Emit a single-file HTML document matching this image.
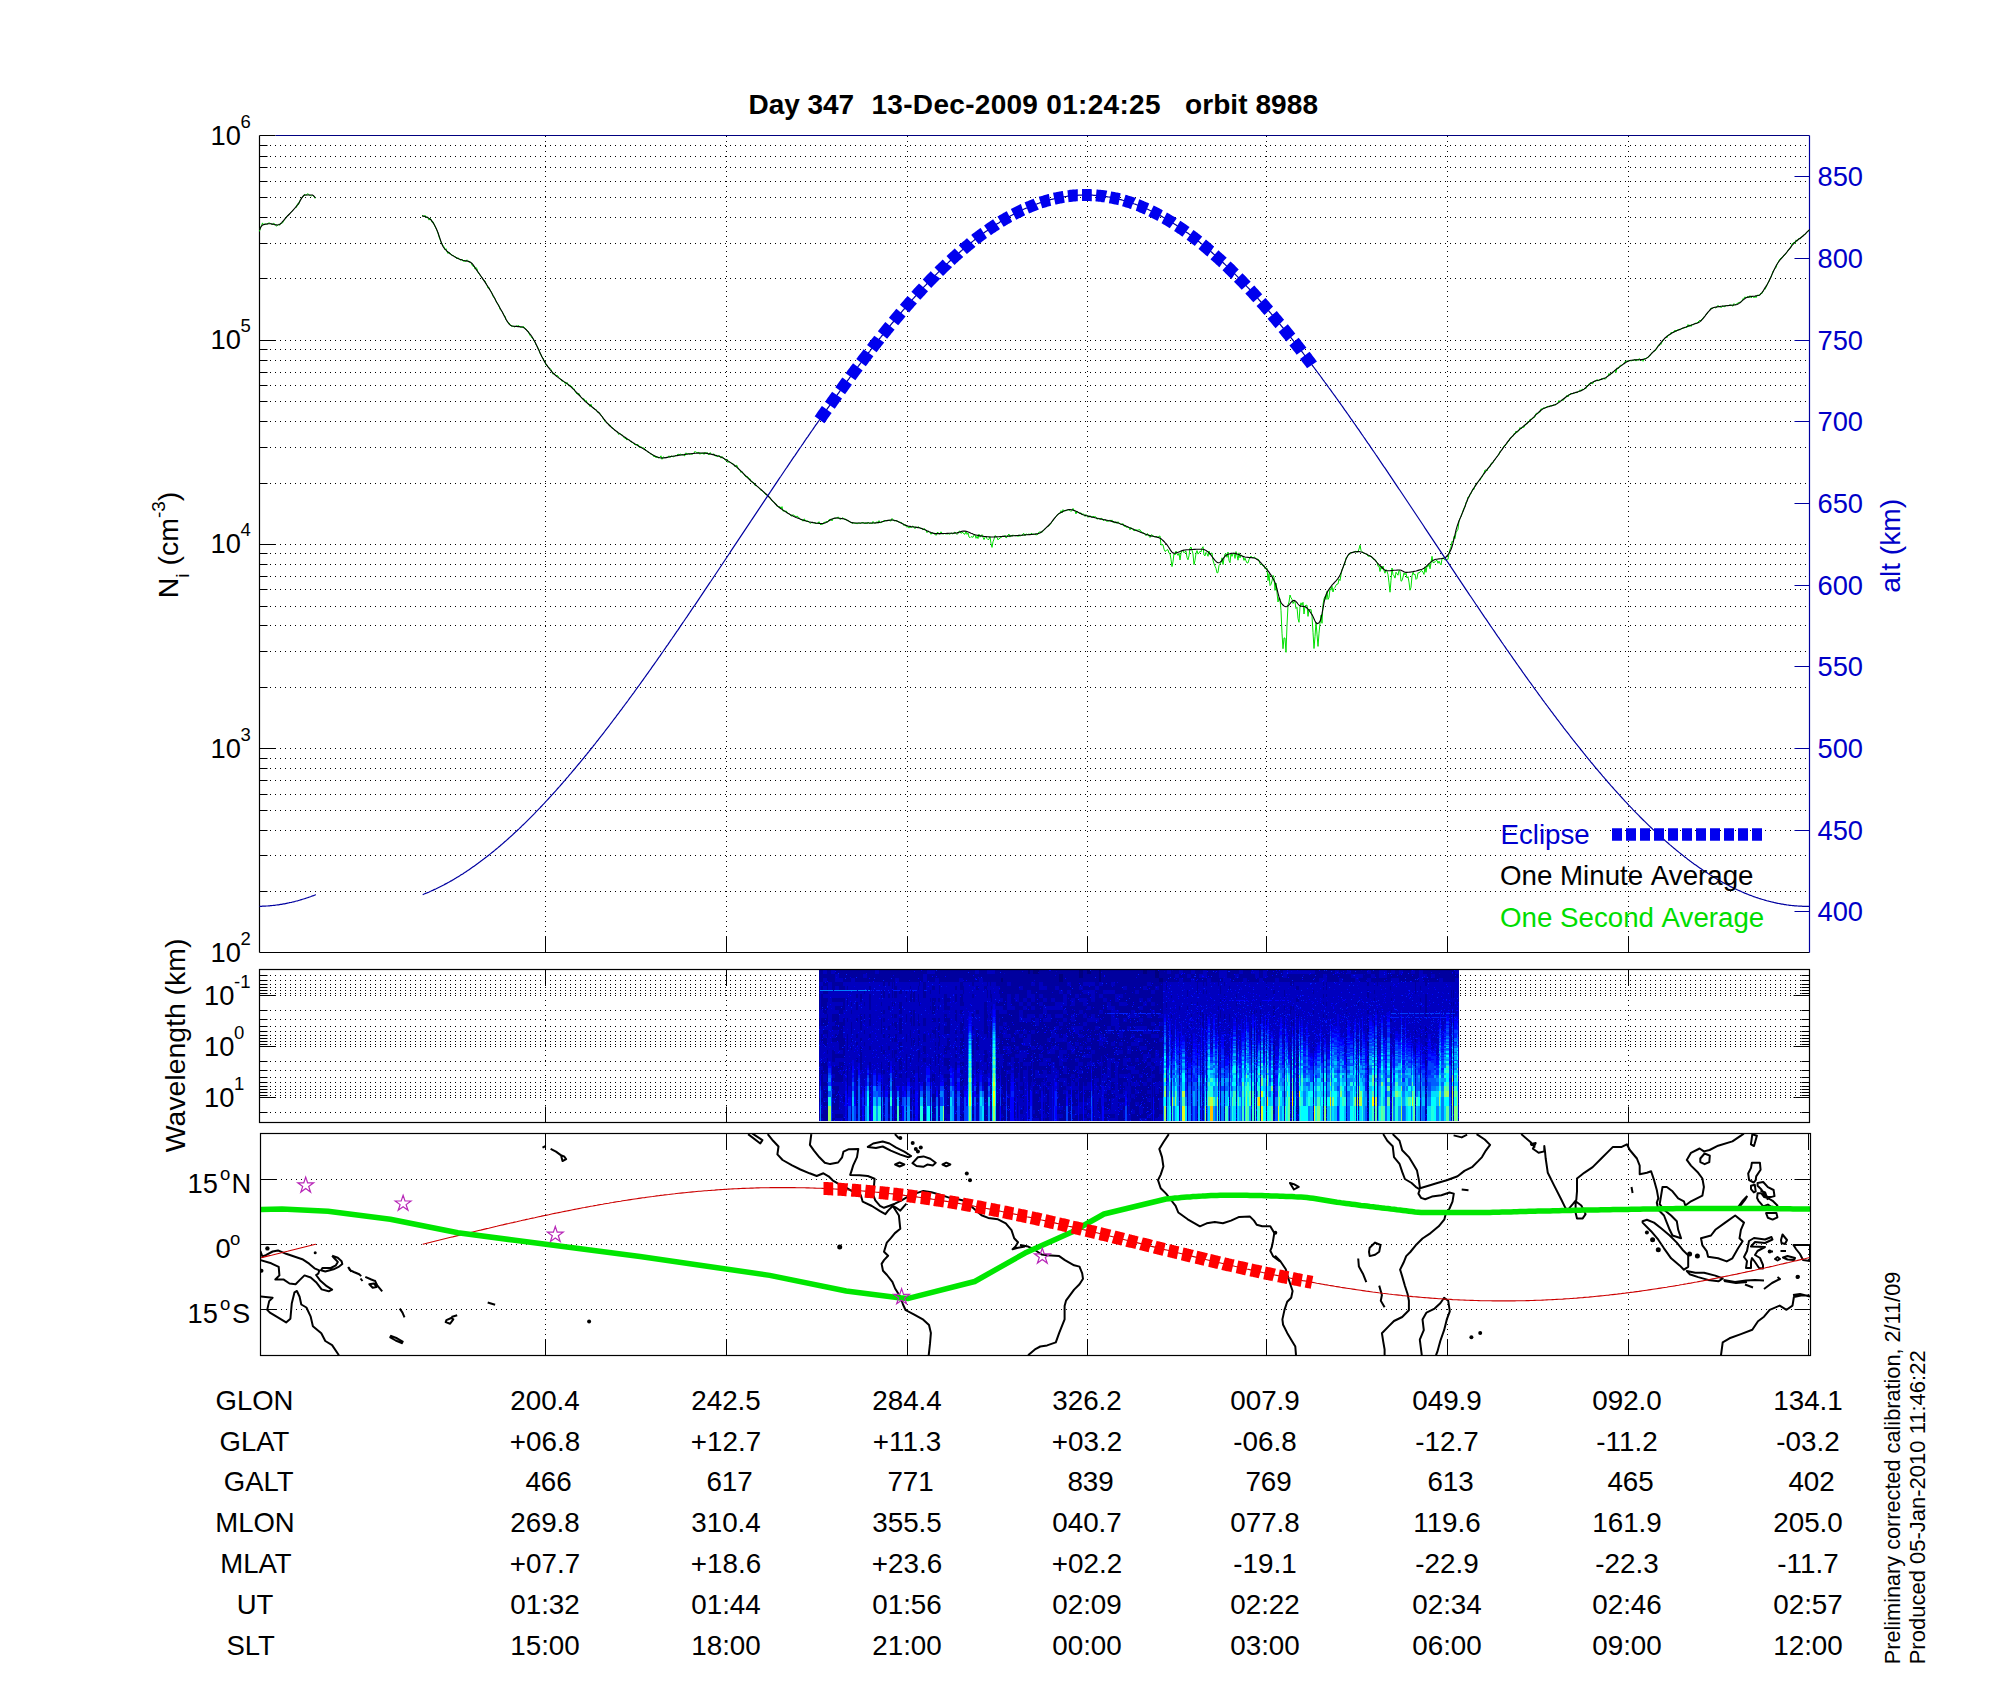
<!DOCTYPE html><html><head><meta charset="utf-8"><title>Day 347 orbit 8988</title><style>html,body{margin:0;padding:0;background:#fff;width:2000px;height:1700px;overflow:hidden}svg{display:block}text{font-family:"Liberation Sans",sans-serif}</style></head><body>
<svg width="2000" height="1700" viewBox="0 0 2000 1700">
<rect width="2000" height="1700" fill="#fff"/>
<text x="748.5" y="113.5" font-size="28" font-weight="bold" textLength="105.5">Day 347</text>
<text x="871.5" y="113.5" font-size="28" font-weight="bold" textLength="289">13-Dec-2009 01:24:25</text>
<text x="1185" y="113.5" font-size="28" font-weight="bold" textLength="133">orbit 8988</text>
<path d="M259.5 891.5H1809.5M259.5 855.5H1809.5M259.5 830.5H1809.5M259.5 810.5H1809.5M259.5 794.5H1809.5M259.5 780.5H1809.5M259.5 768.5H1809.5M259.5 758.5H1809.5M259.5 748.5H1809.5M259.5 687.5H1809.5M259.5 651.5H1809.5M259.5 625.5H1809.5M259.5 606.5H1809.5M259.5 589.5H1809.5M259.5 576.5H1809.5M259.5 564.5H1809.5M259.5 553.5H1809.5M259.5 544.5H1809.5M259.5 483.5H1809.5M259.5 447.5H1809.5M259.5 421.5H1809.5M259.5 401.5H1809.5M259.5 385.5H1809.5M259.5 372.5H1809.5M259.5 360.5H1809.5M259.5 349.5H1809.5M259.5 340.5H1809.5M259.5 278.5H1809.5M259.5 243.5H1809.5M259.5 217.5H1809.5M259.5 197.5H1809.5M259.5 181.5H1809.5M259.5 167.5H1809.5M259.5 156.5H1809.5M259.5 145.5H1809.5M545.5 135.5V952.5M726.5 135.5V952.5M907.5 135.5V952.5M1087.5 135.5V952.5M1266.5 135.5V952.5M1447.5 135.5V952.5M1628.5 135.5V952.5" fill="none" stroke="#000" stroke-width="1" stroke-dasharray="1 4" stroke-dashoffset="4.5"/>
<path d="M259.5 891.5H267.5M259.5 855.5H267.5M259.5 830.5H267.5M259.5 810.5H267.5M259.5 794.5H267.5M259.5 780.5H267.5M259.5 768.5H267.5M259.5 758.5H267.5M259.5 748.5H275.5M259.5 687.5H267.5M259.5 651.5H267.5M259.5 625.5H267.5M259.5 606.5H267.5M259.5 589.5H267.5M259.5 576.5H267.5M259.5 564.5H267.5M259.5 553.5H267.5M259.5 544.5H275.5M259.5 483.5H267.5M259.5 447.5H267.5M259.5 421.5H267.5M259.5 401.5H267.5M259.5 385.5H267.5M259.5 372.5H267.5M259.5 360.5H267.5M259.5 349.5H267.5M259.5 340.5H275.5M259.5 278.5H267.5M259.5 243.5H267.5M259.5 217.5H267.5M259.5 197.5H267.5M259.5 181.5H267.5M259.5 167.5H267.5M259.5 156.5H267.5M259.5 145.5H267.5M545.5 936.5V952.5M726.5 936.5V952.5M907.5 936.5V952.5M1087.5 936.5V952.5M1266.5 936.5V952.5M1447.5 936.5V952.5M1628.5 936.5V952.5M259.5 135.5H275.5" fill="none" stroke="#000" stroke-width="1"/>
<text x="1817.5" y="921" font-size="27.3" fill="#0000c8" >400</text>
<text x="1817.5" y="840" font-size="27.3" fill="#0000c8" >450</text>
<text x="1817.5" y="758" font-size="27.3" fill="#0000c8" >500</text>
<text x="1817.5" y="676" font-size="27.3" fill="#0000c8" >550</text>
<text x="1817.5" y="595" font-size="27.3" fill="#0000c8" >600</text>
<text x="1817.5" y="513" font-size="27.3" fill="#0000c8" >650</text>
<text x="1817.5" y="431" font-size="27.3" fill="#0000c8" >700</text>
<text x="1817.5" y="350" font-size="27.3" fill="#0000c8" >750</text>
<text x="1817.5" y="268" font-size="27.3" fill="#0000c8" >800</text>
<text x="1817.5" y="186" font-size="27.3" fill="#0000c8" >850</text>
<path d="M1794.5 911.5H1809.5M1794.5 830.5H1809.5M1794.5 748.5H1809.5M1794.5 666.5H1809.5M1794.5 585.5H1809.5M1794.5 503.5H1809.5M1794.5 421.5H1809.5M1794.5 340.5H1809.5M1794.5 258.5H1809.5M1794.5 176.5H1809.5" fill="none" stroke="#0000a0" stroke-width="1"/>
<path d="M259.5 952.5V135.5M259.5 952.5H1809.5" fill="none" stroke="#000" stroke-width="1.2"/>
<path d="M275.5 135.5H1809.5" fill="none" stroke="#000080" stroke-width="1.2"/>
<path d="M1809.5 135.5V952.5" fill="none" stroke="#0000a0" stroke-width="1.2"/>
<text x="210.5" y="961.7" font-size="27.3" >10</text>
<text x="240.5" y="944.7" font-size="18.5" >2</text>
<text x="210.5" y="757.5" font-size="27.3" >10</text>
<text x="240.5" y="740.5" font-size="18.5" >3</text>
<text x="210.5" y="553.3" font-size="27.3" >10</text>
<text x="240.5" y="536.3" font-size="18.5" >4</text>
<text x="210.5" y="349.1" font-size="27.3" >10</text>
<text x="240.5" y="332.1" font-size="18.5" >5</text>
<text x="210.5" y="144.9" font-size="27.3" >10</text>
<text x="240.5" y="128" font-size="18.5" >6</text>
<g transform="translate(177.5,545) rotate(-90)">
<text x="0" y="0" font-size="28.5" text-anchor="middle">N<tspan font-size="19" dy="11">i</tspan><tspan dy="-11"> (cm</tspan><tspan font-size="19" dy="-13">-3</tspan><tspan dy="13">)</tspan></text>
</g>
<g transform="translate(1900.3,545.8) rotate(-90)">
<text x="0" y="0" font-size="28.2" fill="#0000c8" text-anchor="middle" >alt (km)</text>
</g>
<path d="M259.5 231.4 260.5 227.6 261.5 225.6 262.5 222.9 263.5 224.7 264.5 224.2 265.5 223.8 266.5 224.3 267.5 224.2 268.5 222.9 269.5 223 270.5 223.4 271.5 224.4 272.5 224.5 273.5 223.3 274.5 223.7 275.5 225.4 276.5 226.2 277.5 225 278.5 224.3 279.5 225.3 280.5 223.4 281.5 223.4 282.5 223 283.5 221.1 284.5 219.5 285.5 218.8 286.5 216.5 287.5 215.9 288.5 214.5 289.5 213.8 290.5 212.5 291.5 211.7 292.5 210.5 293.5 209.7 294.5 208.6 295.5 207.6 296.5 207.3 297.5 203.8 298.5 204.6 299.5 201.8 300.5 199.2 301.5 198.3 302.5 197 303.5 196.6 304.5 194.2 305.5 195.2 306.5 195.1 307.5 193.7 308.5 194.1 309.5 195.5 310.5 195.6 311.5 195.9 312.5 195.4 313.5 195.9 314.5 196.9 315 198.5" fill="none" stroke="#00e000" stroke-width="1" />
<path d="M422 215.3 423 215.9 424 216.5 425 215.3 426 217.9 427 216.7 428 217.8 429 220.1 430 218.3 431 219.4 432 222.3 433 221.7 434 223.9 435 226.5 436 228.4 437 230.6 438 233.1 439 236.8 440 239.5 441 242.1 442 243.7 443 245.9 444 246.5 445 249.7 446 248.7 447 251.8 448 253.5 449 252 450 253.1 451 254.1 452 255.8 453 255.1 454 256.3 455 256.5 456 257.3 457 259 458 257.7 459 258.9 460 259.5 461 260.3 462 259 463 261.2 464 260.9 465 261.4 466 261 467 259.8 468 260.8 469 262.3 470 262 471 262.6 472 265 473 266.5 474 266 475 269.1 476 267.5 477 268.9 478 272.7 479 273.2 480 275.2 481 276.6 482 277.5 483 279.6 484 280.7 485 280.9 486 283.8 487 285.3 488 288.2 489 287.5 490 290 491 291.3 492 293.3 493 296.6 494 297.4 495 298.6 496 301 497 303.3 498 303.8 499 306.1 500 309.2 501 310.4 502 311.5 503 313.1 504 315.3 505 316.1 506 319.9 507 321.2 508 322.6 509 322.8 510 324.3 511 326 512 326.2 513 325.8 514 326.7 515 327.1 516 325.9 517 326.1 518 325.9 519 325.7 520 327.4 521 327.2 522 327.3 523 326.4 524 327 525 328.6 526 329.2 527 330.7 528 331.1 529 333.4 530 335.4 531 336.5 532 338 533 338.4 534 340.9 535 341.8 536 344.9 537 345.9 538 348 539 350 540 353.2 541 355 542 357 543 357.9 544 360.8 545 361.3 546 365.2 547 365.3 548 367 549 368.1 550 368.2 551 369.6 552 371.9 553 374.2 554 373.1 555 374.4 556 375.8 557 375.3 558 376 559 377.8 560 378.8 561 379.2 562 381.4 563 380.8 564 381.8 565 383.5 566 384.3 567 382.4 568 384.1 569 386.1 570 384.9 571 386.1 572 386.8 573 387.7 574 388.8 575 390.9 576 392.8 577 394.1 578 393.9 579 393.4 580 396 581 396.8 582 398.4 583 399 584 398.7 585 401.4 586 400.3 587 402.3 588 404 589 404.8 590 406.6 591 404.2 592 407.2 593 408.2 594 408.2 595 409.8 596 409.3 597 411.6 598 412.4 599 412.2 600 413.6 601 415.2 602 416 603 418.6 604 419.2 605 421.4 606 422.5 607 422.9 608 423.8 609 424.3 610 425.4 611 426.3 612 428.1 613 427.9 614 429.5 615 430.4 616 430.6 617 431.6 618 433.6 619 434.5 620 433.3 621 434.4 622 435 623 435.7 624 437.9 625 437.9 626 439 627 440.1 628 439 629 439.9 630 440.7 631 442.2 632 441.9 633 443.1 634 444.2 635 444.8 636 444.8 637 444.5 638 444.5 639 447.2 640 447.2 641 446.7 642 447.6 643 448.2 644 447.8 645 450 646 449.8 647 450.9 648 452.4 649 452.4 650 453.6 651 454.1 652 454.4 653 455 654 457 655 455.9 656 457.8 657 456.2 658 457.9 659 457.7 660 457.2 661 455.8 662 459.3 663 457 664 457.1 665 457.9 666 457.6 667 457.6 668 457 669 455.8 670 457.5 671 455.8 672 456.5 673 456.6 674 456.9 675 455.7 676 455.5 677 455.4 678 454 679 454.7 680 454.3 681 454.1 682 455 683 454.5 684 455.8 685 455.6 686 452.8 687 454.3 688 453.2 689 454.4 690 453.9 691 454.4 692 453.8 693 454.1 694 453.1 695 451.3 696 452.3 697 452.5 698 452.7 699 452.2 700 454.3 701 452.9 702 454 703 452.7 704 454.4 705 452.2 706 453.7 707 452.3 708 453.9 709 455 710 452.6 711 453.5 712 454.6 713 454.5 714 453.8 715 456.1 716 455.5 717 456.8 718 456.3 719 455.4 720 456.3 721 458.2 722 456.4 723 457.6 724 459 725 459.9 726 460.3 727 459.1 728 462.6 729 461.4 730 462.2 731 462.9 732 463.4 733 463.5 734 464.7 735 466.8 736 465.4 737 465.4 738 468.7 739 469.4 740 470.7 741 472.5 742 471.5 743 473.2 744 474.5 745 476.1 746 477 747 476.5 748 477 749 478.9 750 478.7 751 481.8 752 481.5 753 482.4 754 482.8 755 485.6 756 485.5 757 485.8 758 487.4 759 487.7 760 489.1 761 490.6 762 490.2 763 491.7 764 492.5 765 494 766 494.5 767 495 768 495.5 769 497.3 770 497.3 771 499.7 772 500.3 773 501.8 774 502 775 502.9 776 503.8 777 506.4 778 506.2 779 507.1 780 506.6 781 508.7 782 506.6 783 511.2 784 510.6 785 511.4 786 510.9 787 511.8 788 513.7 789 513.7 790 514.7 791 516 792 516 793 514.5 794 515.7 795 516 796 516.7 797 516.2 798 516.6 799 518 800 518.5 801 519.8 802 519.5 803 521.2 804 518.9 805 519.6 806 521.2 807 521.1 808 520.8 809 522.4 810 522.9 811 523.3 812 522.1 813 522.6 814 522.9 815 522.9 816 523.9 817 522.8 818 523.6 819 521.7 820 524.1 821 524.9 822 523.6 823 524.3 824 522 825 522.7 826 521.3 827 522.2 828 521.8 829 519.7 830 519.5 831 519.2 832 521 833 518.6 834 518.4 835 518.4 836 518.2 837 517.8 838 517 839 517.6 840 519.6 841 518.7 842 518.3 843 517.7 844 519 845 519.3 846 519.1 847 520.9 848 520.2 849 521.1 850 522.4 851 522.4 852 523.5 853 522.7 854 522.7 855 523.4 856 523.2 857 523.9 858 523.3 859 523 860 523.4 861 523.5 862 522.1 863 522.9 864 522.7 865 524 866 522.6 867 523.9 868 522 869 523 870 523.9 871 522.8 872 523.9 873 521.4 874 523 875 523.1 876 522.8 877 521.6 878 523.2 879 520.6 880 523 881 522.2 882 522.5 883 521.3 884 520.4 885 520.6 886 520.4 887 521 888 520.1 889 520.6 890 520.5 891 521.2 892 518.4 893 519.7 894 520.8 895 521 896 520.3 897 520.9 898 521.5 899 522.2 900 522.1 901 522.6 902 522.7 903 523.8 904 525.7 905 524.3 906 526.2 907 527.3 908 526.2 909 528.1 910 526.3 911 527.9 912 526.7 913 525.9 914 527.3 915 528.7 916 526.8 917 527.9 918 526.8 919 527.1 920 528.4 921 528.1 922 529.1 923 530 924 528.5 925 529.3 926 530.4 927 532.7 928 531 929 531.4 930 532.5 931 534.3 932 532.5 933 533 934 533.5 935 534.2 936 535.4 937 532.7 938 532.3 939 533.8 940 534.1 941 531.8 942 533.1 943 534.4 944 533.1 945 533.9 946 533.7 947 534 948 533.8 949 533.6 950 534.4 951 532.9 952 533.4 953 534.1 954 532.7 955 532 956 533.2 957 534.5 958 533.4 959 531.2 960 531.3 961 533.4 962 532.5 963 532.5 964 534 965 534.2 966 531.2 967 534.4 968 533 969 537 970 537.7 971 536.7 972 536.9 973 537.3 974 535 975 534.5 976 538.3 977 536.2 978 538.6 979 534.2 980 537.2 981 535.8 982 534.6 983 537.2 984 539.6 985 537.3 986 536.2 987 538.7 988 539.7 989 539.2 990 536.7 991 543.4 992 547.4 993 541.8 994 539.2 995 535.6 996 536.4 997 537.2 998 539.9 999 538.6 1000 538.4 1001 537 1002 537.1 1003 535.8 1004 536.9 1005 535.4 1006 538 1007 537.2 1008 535 1009 534 1010 537.1 1011 535.3 1012 536.3 1013 534.8 1014 535.8 1015 535.2 1016 536.1 1017 535.3 1018 536.7 1019 534.8 1020 536.4 1021 535.2 1022 535.6 1023 533.8 1024 533.6 1025 535.8 1026 533.9 1027 534.5 1028 534.5 1029 533.9 1030 534.7 1031 533.4 1032 533.5 1033 535 1034 533.6 1035 534.7 1036 534.5 1037 535 1038 534 1039 531.9 1040 532.3 1041 531.9 1042 532.5 1043 531 1044 529.4 1045 529.2 1046 527.6 1047 527.4 1048 526.1 1049 525.9 1050 524.2 1051 523.6 1052 521.5 1053 520.8 1054 518.8 1055 518.2 1056 516.7 1057 515.3 1058 514.1 1059 513.4 1060 513.4 1061 510.7 1062 513 1063 509.6 1064 510.9 1065 510.4 1066 510.9 1067 510.2 1068 509.8 1069 509.7 1070 510.4 1071 511.5 1072 510.1 1073 508.4 1074 510.1 1075 511.2 1076 513.9 1077 511.2 1078 512 1079 513.2 1080 513.6 1081 512.7 1082 515 1083 513.6 1084 514.8 1085 516.4 1086 514.5 1087 515.6 1088 517.4 1089 516.1 1090 515.8 1091 516.4 1092 517.7 1093 516 1094 517 1095 516.6 1096 517.1 1097 519.3 1098 518.4 1099 518.3 1100 519.2 1101 518.5 1102 518.3 1103 520.4 1104 520.4 1105 519.2 1106 520.6 1107 521.5 1108 520.9 1109 521.1 1110 519.9 1111 521 1112 519.9 1113 522.5 1114 521.7 1115 523.2 1116 521.8 1117 523.4 1118 521.7 1119 523 1120 524.1 1121 524.3 1122 524.4 1123 523.5 1124 526.3 1125 526.2 1126 527 1127 527.4 1128 526.6 1129 527.7 1130 529.9 1131 527.6 1132 529 1133 528.7 1134 531 1135 530.1 1136 529.6 1137 530.3 1138 530.1 1139 529.8 1140 529.8 1141 531.8 1142 531.8 1143 533.3 1144 532.9 1145 534.1 1146 535.7 1147 533.7 1148 534 1149 536.1 1150 537.5 1151 535.2 1152 534.7 1153 536.1 1154 536.2 1155 537.3 1156 536.1 1157 536.9 1158 537.2 1159 536.5 1160 535.9 1161 545.1 1162 544.5 1163 544.8 1164 549.1 1165 551.4 1166 550.9 1167 549.6 1168 550 1169 553.1 1170 553.7 1171 559.3 1172 566.6 1173 561.8 1174 553.5 1175 555 1176 551.1 1177 553.7 1178 555.4 1179 553.2 1180 560 1181 553.4 1182 550.1 1183 550.9 1184 552.8 1185 551.5 1186 551.2 1187 557.6 1188 559.8 1189 555.8 1190 548 1191 547 1192 550.2 1193 553.9 1194 564.6 1195 560.4 1196 553.3 1197 550.6 1198 554.1 1199 553 1200 551.2 1201 552 1202 548.1 1203 546.7 1204 555 1205 555.9 1206 552.4 1207 553.7 1208 556.3 1209 551 1210 554.7 1211 553.6 1212 552.9 1213 560.2 1214 563.7 1215 566.2 1216 568.4 1217 572.9 1218 572.5 1219 565.6 1220 564.1 1221 562.3 1222 557.8 1223 564.5 1224 558.3 1225 554 1226 553.5 1227 557.3 1228 552 1229 560.7 1230 562.7 1231 553.3 1232 556.4 1233 553.3 1234 553.2 1235 558.4 1236 551.6 1237 555 1238 560.2 1239 552.8 1240 557.9 1241 555.2 1242 555.4 1243 556.7 1244 560.4 1245 558.1 1246 560.9 1247 562.9 1248 562.9 1249 559.6 1250 557.2 1251 556.4 1252 557.1 1253 558 1254 557 1255 557.4 1256 558.8 1257 559.8 1258 558.9 1259 560.3 1260 563.7 1261 564.7 1262 564 1263 566.1 1264 565.2 1265 568.9 1266 568.4 1267 568.1 1268 580.6 1269 573.6 1270 585.6 1271 584.3 1272 581 1273 575.3 1274 577.4 1275 590.4 1276 583 1277 592.9 1278 602 1279 597.7 1280 598.9 1281 610.7 1282 633.2 1283 648.7 1284 637.9 1285 638.1 1286 652.3 1287 625.1 1288 605 1289 602 1290 595 1291 597.8 1292 599.2 1293 603.5 1294 601.4 1295 601.8 1296 608.5 1297 607.3 1298 618.5 1299 622.3 1300 606.5 1301 602.8 1302 605.3 1303 602.3 1304 614 1305 605.8 1306 605.3 1307 605.2 1308 616.4 1309 609 1310 610.1 1311 609.4 1312 616.3 1313 632.2 1314 648.5 1315 636.6 1316 622.1 1317 634.2 1318 646.4 1319 633.2 1320 623.3 1321 615.2 1322 623.3 1323 604.4 1324 598.8 1325 596.6 1326 599.5 1327 591.3 1328 599.4 1329 597.3 1330 588.6 1331 590.2 1332 586.3 1333 592 1334 588.4 1335 587.3 1336 585.1 1337 584.2 1338 584 1339 579.1 1340 580.6 1341 574.9 1342 569.4 1343 567.8 1344 565 1345 562.9 1346 557.7 1347 557.6 1348 555.8 1349 554 1350 554.4 1351 552.2 1352 552.9 1353 552 1354 552.1 1355 551.1 1356 551.6 1357 552.2 1358 551.7 1359 549 1360 545.2 1361 550.3 1362 551.7 1363 552.6 1364 553.5 1365 553.3 1366 554.5 1367 554.5 1368 556.3 1369 555.9 1370 556.3 1371 555.9 1372 557.6 1373 558.9 1374 559.4 1375 559.4 1376 560.9 1377 562.3 1378 566.3 1379 565.8 1380 571.5 1381 566.5 1382 569.2 1383 566 1384 570.6 1385 573.2 1386 569.5 1387 571.2 1388 574.7 1389 582.8 1390 592.2 1391 580.2 1392 568 1393 574.7 1394 575.8 1395 578.1 1396 572.2 1397 573.8 1398 575.2 1399 570.3 1400 571.2 1401 581.2 1402 580.6 1403 577.1 1404 572.8 1405 574.9 1406 573.2 1407 578 1408 576.7 1409 582.1 1410 590.2 1411 587.4 1412 575.9 1413 572.2 1414 574.7 1415 574.1 1416 579.4 1417 578.4 1418 572.7 1419 573 1420 572.1 1421 570.6 1422 570.8 1423 572.3 1424 574.4 1425 566.8 1426 572.3 1427 565.8 1428 566.7 1429 563.7 1430 568.8 1431 562.9 1432 556.3 1433 562.6 1434 562.5 1435 561.8 1436 560.6 1437 560.4 1438 563.3 1439 561.1 1440 563.4 1441 564.9 1442 558.8 1443 557.7 1444 559.3 1445 559.8 1446 560 1447 559.3 1448 559.3 1449 553.3 1450 549.3 1451 546.9 1452 541.3 1453 542.1 1454 536.5 1455 538.5 1456 532.7 1457 530.9 1458 529.2 1459 521.1 1460 518.3 1461 516.7 1462 513.6 1463 510.8 1464 507.7 1465 507.3 1466 502.4 1467 501.4 1468 497 1469 497.4 1470 494.7 1471 493.7 1472 491.3 1473 488.8 1474 489.5 1475 485.5 1476 484.7 1477 482.9 1478 481.5 1479 481.3 1480 480.2 1481 478.3 1482 477.1 1483 474.6 1484 473.1 1485 470 1486 470 1487 471 1488 468.3 1489 467 1490 466.9 1491 463.5 1492 462.9 1493 462.9 1494 460.5 1495 459.3 1496 457.8 1497 457 1498 455.7 1499 454.6 1500 451.5 1501 450.5 1502 449.4 1503 447.9 1504 445.7 1505 446 1506 444.4 1507 443.7 1508 441.4 1509 441.1 1510 438.2 1511 438.2 1512 436.6 1513 436.4 1514 433.5 1515 433.5 1516 431 1517 432.5 1518 431.2 1519 430.4 1520 427.5 1521 428.9 1522 428 1523 427.1 1524 427.4 1525 424.8 1526 423.8 1527 424.3 1528 421.3 1529 421.8 1530 419.3 1531 419.4 1532 418.9 1533 417.6 1534 417.9 1535 416.8 1536 413.5 1537 413.2 1538 413.6 1539 412 1540 412.2 1541 408.7 1542 409.4 1543 408.1 1544 407.9 1545 408.3 1546 407.2 1547 406.5 1548 406.5 1549 406.2 1550 406.1 1551 405.4 1552 406.2 1553 405.1 1554 404.7 1555 405.2 1556 404.5 1557 403.5 1558 402.6 1559 400.4 1560 402 1561 400.5 1562 399.7 1563 400.4 1564 399.6 1565 397.9 1566 396.7 1567 395.3 1568 397 1569 394.3 1570 394.6 1571 393 1572 394 1573 393.2 1574 393.7 1575 392.7 1576 392.2 1577 393 1578 391.9 1579 390.8 1580 389.8 1581 391.1 1582 389.1 1583 389.5 1584 389.5 1585 388 1586 388.7 1587 385.2 1588 385.9 1589 383.9 1590 382.8 1591 382.7 1592 383.8 1593 383.5 1594 381.3 1595 381.2 1596 380.6 1597 379.5 1598 381.1 1599 379.9 1600 380.3 1601 379.1 1602 378.6 1603 378.4 1604 378.1 1605 379.4 1606 378.4 1607 376.5 1608 375.9 1609 373.4 1610 375.2 1611 373.3 1612 373.4 1613 372.6 1614 371.1 1615 369.9 1616 372.4 1617 367.9 1618 369 1619 367.8 1620 365.4 1621 365.3 1622 365.2 1623 364.3 1624 363.1 1625 361.5 1626 361.5 1627 360.7 1628 361.3 1629 361 1630 360.3 1631 361.1 1632 360.5 1633 360.3 1634 360.1 1635 359.2 1636 361.1 1637 359.2 1638 360.6 1639 358.6 1640 359.3 1641 359.8 1642 360.2 1643 361.3 1644 358.5 1645 358.7 1646 358.8 1647 357.4 1648 357.8 1649 356.1 1650 355.9 1651 353.7 1652 352.8 1653 351.6 1654 351.1 1655 351 1656 349.8 1657 347.4 1658 345.5 1659 345.1 1660 345.3 1661 344.3 1662 342 1663 340.9 1664 339 1665 338.2 1666 337.1 1667 337.8 1668 335.1 1669 334.9 1670 334.8 1671 332.4 1672 332.9 1673 331.8 1674 332.3 1675 330 1676 331.6 1677 329.9 1678 329.8 1679 329.6 1680 329.9 1681 329.3 1682 328 1683 328.5 1684 327.7 1685 327.8 1686 327.2 1687 327.6 1688 324.5 1689 326.6 1690 324.8 1691 326.6 1692 324.4 1693 325.1 1694 324.2 1695 323.2 1696 323.2 1697 322.9 1698 322.1 1699 320.9 1700 320.2 1701 320.8 1702 319 1703 318 1704 316.9 1705 315.7 1706 315 1707 313.9 1708 312.2 1709 311.1 1710 310 1711 308 1712 308.5 1713 308.4 1714 307 1715 307.8 1716 307.9 1717 306.9 1718 305.3 1719 307.1 1720 306.2 1721 307.8 1722 306.6 1723 305.7 1724 306.9 1725 306.4 1726 305.9 1727 305.2 1728 305.9 1729 305 1730 305.1 1731 304.8 1732 305.6 1733 306.2 1734 303.6 1735 304.8 1736 304.3 1737 303.7 1738 302.9 1739 302.6 1740 302.1 1741 302.3 1742 301 1743 298.7 1744 297.7 1745 296.9 1746 297.8 1747 296.9 1748 296.6 1749 297.8 1750 295.6 1751 297.7 1752 296.9 1753 296.3 1754 297.9 1755 296.2 1756 297.7 1757 295.3 1758 295.2 1759 295.3 1760 295.3 1761 292.9 1762 293.6 1763 291.2 1764 290.3 1765 289.3 1766 287.4 1767 285.2 1768 282.4 1769 281.7 1770 278.3 1771 277.2 1772 274.6 1773 271.2 1774 270.1 1775 268.7 1776 267.5 1777 264.4 1778 262.6 1779 260.5 1780 259 1781 258.1 1782 258.2 1783 256.1 1784 255.5 1785 254.8 1786 253.5 1787 251.9 1788 250.4 1789 249.3 1790 248.8 1791 246.9 1792 243.7 1793 243.7 1794 242.2 1795 243.6 1796 239.9 1797 241.2 1798 239.9 1799 238.1 1800 239 1801 238.3 1802 236.2 1803 236.1 1804 234.3 1805 234.8 1806 233.2 1807 231.8 1808 230.7 1809 231.1 1809.6 230.7" fill="none" stroke="#00e000" stroke-width="1" />
<path d="M259.5 230 260.5 227.8 261.5 226 262.5 225 263.5 224.7 264.5 224.4 265.5 224.2 266.5 224 267.5 223.9 268.5 223.8 269.5 223.8 270.5 223.8 271.5 223.9 272.5 224.1 273.5 224.3 274.5 224.6 275.5 224.8 276.5 224.9 277.5 225 278.5 224.8 279.5 224.4 280.5 223.7 281.5 222.8 282.5 221.7 283.5 220.6 284.5 219.4 285.5 218.2 286.5 217.1 287.5 216 288.5 215 289.5 214 290.5 212.9 291.5 211.9 292.5 210.8 293.5 209.7 294.5 208.5 295.5 207.4 296.5 206.2 297.5 205 298.5 203.6 299.5 201.9 300.5 200.2 301.5 198.4 302.5 196.9 303.5 195.7 304.5 195.1 305.5 195 306.5 195 307.5 195 308.5 195 309.5 195 310.5 195 311.5 195 312.5 195 313.5 195.6 314.5 196.8 315 197.5" fill="none" stroke="#000" stroke-width="1.1" />
<path d="M422 216 423 216.1 424 216.2 425 216.5 426 216.9 427 217.3 428 217.8 429 218.4 430 219 431 219.8 432 221.1 433 222.6 434 224.3 435 226.1 436 228 437 230.2 438 232.8 439 235.7 440 238.7 441 241.6 442 244.3 443 246.5 444 248 445 249.1 446 250.1 447 251.1 448 252 449 252.9 450 253.7 451 254.4 452 255.1 453 255.8 454 256.4 455 257 456 257.5 457 258 458 258.4 459 258.9 460 259.3 461 259.6 462 260 463 260.3 464 260.5 465 260.7 466 260.9 467 261.1 468 261.3 469 261.6 470 262 471 262.6 472 263.5 473 264.7 474 266.1 475 267.5 476 269.1 477 270.6 478 272 479 273.4 480 274.8 481 276.2 482 277.6 483 279.1 484 280.6 485 282.1 486 283.6 487 285.2 488 286.8 489 288.4 490 290 491 291.7 492 293.4 493 295.3 494 297.1 495 299 496 300.9 497 302.7 498 304.6 499 306.3 500 308 501 309.7 502 311.6 503 313.5 504 315.4 505 317.3 506 319.2 507 320.9 508 322.5 509 323.8 510 324.9 511 325.6 512 326 513 326.2 514 326.3 515 326.4 516 326.4 517 326.5 518 326.6 519 326.6 520 326.7 521 326.8 522 327 523 327.3 524 327.9 525 328.6 526 329.5 527 330.6 528 331.7 529 332.8 530 334 531 335.3 532 336.7 533 338.4 534 340.2 535 342.1 536 344.1 537 346.2 538 348.4 539 350.5 540 352.7 541 354.8 542 356.9 543 358.8 544 360.7 545 362.4 546 364 547 365.4 548 366.9 549 368.2 550 369.5 551 370.7 552 371.9 553 373 554 374 555 374.9 556 375.8 557 376.6 558 377.4 559 378.1 560 378.9 561 379.5 562 380.2 563 380.9 564 381.6 565 382.2 566 382.9 567 383.6 568 384.4 569 385.2 570 386 571 386.9 572 387.8 573 388.8 574 389.7 575 390.8 576 391.8 577 392.8 578 393.9 579 395 580 396 581 397.1 582 398.1 583 399.1 584 400.1 585 401.1 586 402 587 402.9 588 403.7 589 404.5 590 405.3 591 406.1 592 406.9 593 407.7 594 408.5 595 409.3 596 410.2 597 411.1 598 412 599 413 600 414.1 601 415.3 602 416.5 603 417.8 604 419.1 605 420.3 606 421.6 607 422.8 608 424 609 425 610 426 611 426.9 612 427.8 613 428.6 614 429.4 615 430.2 616 431 617 431.7 618 432.5 619 433.2 620 433.9 621 434.6 622 435.3 623 436 624 436.6 625 437.3 626 438 627 438.7 628 439.4 629 440 630 440.7 631 441.3 632 442 633 442.6 634 443.2 635 443.9 636 444.5 637 445.1 638 445.7 639 446.3 640 446.9 641 447.4 642 448 643 448.6 644 449.2 645 449.8 646 450.5 647 451.1 648 451.8 649 452.5 650 453.1 651 453.8 652 454.4 653 455 654 455.6 655 456.1 656 456.5 657 457 658 457.3 659 457.6 660 457.8 661 458 662 458 663 458 664 457.9 665 457.8 666 457.6 667 457.4 668 457.2 669 457 670 456.8 671 456.5 672 456.3 673 456.2 674 456 675 455.9 676 455.7 677 455.6 678 455.4 679 455.3 680 455.1 681 455 682 454.9 683 454.7 684 454.6 685 454.4 686 454.3 687 454.2 688 454 689 453.9 690 453.8 691 453.7 692 453.6 693 453.5 694 453.4 695 453.3 696 453.2 697 453.2 698 453.1 699 453.1 700 453 701 453 702 453 703 453 704 453.1 705 453.1 706 453.3 707 453.4 708 453.6 709 453.7 710 453.9 711 454.2 712 454.4 713 454.6 714 454.9 715 455.2 716 455.4 717 455.7 718 456 719 456.3 720 456.7 721 457.1 722 457.5 723 458 724 458.5 725 459.1 726 459.7 727 460.3 728 460.9 729 461.6 730 462.2 731 462.9 732 463.6 733 464.3 734 465 735 465.7 736 466.5 737 467.4 738 468.2 739 469.2 740 470.1 741 471.1 742 472.1 743 473.1 744 474.1 745 475.1 746 476.1 747 477.1 748 478.1 749 479.1 750 480 751 480.9 752 481.8 753 482.7 754 483.5 755 484.4 756 485.2 757 486.1 758 486.9 759 487.8 760 488.7 761 489.5 762 490.4 763 491.3 764 492.2 765 493.1 766 494 767 495 768 496 769 497 770 498.1 771 499.2 772 500.3 773 501.4 774 502.4 775 503.5 776 504.5 777 505.5 778 506.4 779 507.2 780 508 781 508.7 782 509.4 783 510.1 784 510.8 785 511.4 786 512 787 512.7 788 513.3 789 513.8 790 514.4 791 514.9 792 515.5 793 516 794 516.5 795 516.9 796 517.4 797 517.8 798 518.2 799 518.6 800 519 801 519.4 802 519.7 803 520.1 804 520.4 805 520.7 806 521 807 521.3 808 521.5 809 521.8 810 522 811 522.2 812 522.4 813 522.6 814 522.7 815 522.9 816 523.1 817 523.2 818 523.3 819 523.4 820 523.5 821 523.6 822 523.6 823 523.5 824 523.3 825 522.9 826 522.5 827 522 828 521.4 829 520.8 830 520.2 831 519.6 832 519.1 833 518.7 834 518.3 835 518.1 836 518 837 518 838 518.1 839 518.2 840 518.3 841 518.5 842 518.6 843 518.8 844 519 845 519.3 846 519.7 847 520.1 848 520.7 849 521.2 850 521.8 851 522.3 852 522.6 853 522.9 854 523 855 523 856 523 857 523 858 523 859 523 860 523 861 523 862 523 863 523 864 523 865 523 866 523 867 523 868 523 869 523 870 523 871 523 872 523 873 523 874 523 875 523 876 522.9 877 522.8 878 522.6 879 522.4 880 522.2 881 522 882 521.7 883 521.5 884 521.3 885 521 886 520.8 887 520.6 888 520.4 889 520.2 890 520.1 891 520 892 520 893 520.1 894 520.2 895 520.5 896 520.8 897 521.1 898 521.6 899 522.1 900 522.5 901 523.1 902 523.6 903 524.1 904 524.6 905 525 906 525.4 907 525.7 908 526 909 526.2 910 526.4 911 526.6 912 526.7 913 526.9 914 527 915 527.1 916 527.3 917 527.4 918 527.6 919 527.8 920 528 921 528.3 922 528.6 923 529 924 529.4 925 529.8 926 530.3 927 530.8 928 531.2 929 531.7 930 532.1 931 532.5 932 532.9 933 533.2 934 533.4 935 533.6 936 533.6 937 533.6 938 533.6 939 533.6 940 533.6 941 533.6 942 533.5 943 533.5 944 533.5 945 533.5 946 533.5 947 533.4 948 533.4 949 533.3 950 533.3 951 533.3 952 533.2 953 533.2 954 533.1 955 533.1 956 533 957 532.9 958 532.6 959 532.3 960 531.9 961 531.6 962 531.3 963 531.1 964 531 965 531.1 966 531.2 967 531.5 968 531.9 969 532.3 970 532.7 971 533.2 972 533.6 973 534.1 974 534.4 975 534.8 976 535 977 535.2 978 535.4 979 535.6 980 535.7 981 535.9 982 536.1 983 536.2 984 536.4 985 536.5 986 536.6 987 536.7 988 536.8 989 536.9 990 537 991 537 992 537 993 537 994 537 995 536.9 996 536.9 997 536.8 998 536.7 999 536.7 1000 536.6 1001 536.5 1002 536.5 1003 536.4 1004 536.4 1005 536.3 1006 536.3 1007 536.2 1008 536.1 1009 536.1 1010 536 1011 535.9 1012 535.9 1013 535.8 1014 535.7 1015 535.7 1016 535.6 1017 535.5 1018 535.5 1019 535.4 1020 535.3 1021 535.2 1022 535.2 1023 535.1 1024 535 1025 534.9 1026 534.8 1027 534.8 1028 534.7 1029 534.6 1030 534.6 1031 534.5 1032 534.4 1033 534.3 1034 534.2 1035 534.1 1036 533.9 1037 533.8 1038 533.6 1039 533.3 1040 532.9 1041 532.2 1042 531.5 1043 530.7 1044 529.8 1045 528.8 1046 527.9 1047 526.9 1048 526 1049 525 1050 523.9 1051 522.8 1052 521.5 1053 520.2 1054 518.9 1055 517.7 1056 516.5 1057 515.4 1058 514.4 1059 513.6 1060 513 1061 512.5 1062 512 1063 511.5 1064 511.1 1065 510.7 1066 510.3 1067 510 1068 509.8 1069 509.6 1070 509.6 1071 509.7 1072 509.8 1073 510.1 1074 510.4 1075 510.8 1076 511.3 1077 511.8 1078 512.3 1079 512.8 1080 513.3 1081 513.8 1082 514.3 1083 514.7 1084 515 1085 515.3 1086 515.6 1087 515.8 1088 516.1 1089 516.4 1090 516.6 1091 516.8 1092 517.1 1093 517.3 1094 517.5 1095 517.8 1096 518 1097 518.2 1098 518.5 1099 518.7 1100 518.9 1101 519.1 1102 519.3 1103 519.5 1104 519.7 1105 519.9 1106 520.1 1107 520.3 1108 520.5 1109 520.7 1110 520.9 1111 521.1 1112 521.4 1113 521.6 1114 521.9 1115 522.1 1116 522.4 1117 522.7 1118 523 1119 523.3 1120 523.7 1121 524 1122 524.4 1123 524.8 1124 525.2 1125 525.6 1126 526.1 1127 526.5 1128 526.9 1129 527.4 1130 527.8 1131 528.2 1132 528.7 1133 529.1 1134 529.5 1135 530 1136 530.4 1137 530.8 1138 531.2 1139 531.6 1140 532 1141 532.4 1142 532.8 1143 533.1 1144 533.5 1145 533.9 1146 534.3 1147 534.6 1148 535 1149 535.3 1150 535.6 1151 535.9 1152 536.1 1153 536.3 1154 536.5 1155 536.7 1156 536.9 1157 537.2 1158 537.4 1159 537.8 1160 538.2 1161 538.8 1162 539.6 1163 540.5 1164 541.5 1165 542.6 1166 543.6 1167 544.8 1168 546.2 1169 547.8 1170 549.4 1171 550.9 1172 552.1 1173 552.9 1174 553.2 1175 553.1 1176 552.9 1177 552.7 1178 552.3 1179 551.9 1180 551.5 1181 551.1 1182 550.7 1183 550.4 1184 550.1 1185 550 1186 549.9 1187 549.8 1188 549.8 1189 549.7 1190 549.6 1191 549.6 1192 549.5 1193 549.5 1194 549.4 1195 549.4 1196 549.3 1197 549.3 1198 549.3 1199 549.2 1200 549.2 1201 549.2 1202 549.2 1203 549.2 1204 549.4 1205 549.9 1206 550.5 1207 551.2 1208 551.9 1209 552.8 1210 553.9 1211 555.1 1212 556.5 1213 557.8 1214 559.1 1215 560.4 1216 561.4 1217 562.2 1218 562.7 1219 562.8 1220 562.4 1221 561.5 1222 560.3 1223 558.9 1224 557.5 1225 556.3 1226 555.3 1227 554.7 1228 554.3 1229 554 1230 553.7 1231 553.4 1232 553.3 1233 553.2 1234 553.2 1235 553.4 1236 553.6 1237 553.9 1238 554.3 1239 554.7 1240 555.1 1241 555.6 1242 556 1243 556.4 1244 556.7 1245 557 1246 557.2 1247 557.3 1248 557.4 1249 557.5 1250 557.6 1251 557.6 1252 557.7 1253 557.9 1254 558 1255 558.3 1256 558.7 1257 559.3 1258 560.1 1259 560.9 1260 561.9 1261 562.9 1262 564 1263 565.1 1264 566.3 1265 567.4 1266 568.5 1267 569.7 1268 570.9 1269 572.2 1270 573.6 1271 575.1 1272 576.7 1273 578.5 1274 580.4 1275 582.4 1276 585.4 1277 589 1278 593.1 1279 596.9 1280 600.2 1281 602.5 1282 603.8 1283 605 1284 605.9 1285 606.6 1286 606.8 1287 606.5 1288 605.8 1289 604.8 1290 603.6 1291 602.4 1292 601.4 1293 600.7 1294 600.4 1295 600.7 1296 601.6 1297 602.7 1298 604 1299 605.1 1300 605.8 1301 606.1 1302 606.3 1303 606.4 1304 606.5 1305 606.7 1306 607.2 1307 608 1308 609 1309 610.3 1310 611.7 1311 613.2 1312 614.6 1313 616.6 1314 618.8 1315 621 1316 622.7 1317 623.6 1318 623.4 1319 622.6 1320 621.4 1321 618.3 1322 613.7 1323 608.3 1324 602.9 1325 598.1 1326 594.8 1327 592.7 1328 590.9 1329 589.3 1330 587.9 1331 586.5 1332 585.2 1333 584 1334 583 1335 581.9 1336 580.8 1337 579.6 1338 578.3 1339 576.9 1340 575 1341 572.8 1342 570.2 1343 567.5 1344 564.7 1345 561.9 1346 559.4 1347 557.1 1348 555.3 1349 553.9 1350 553.2 1351 552.9 1352 552.6 1353 552.3 1354 552.1 1355 551.9 1356 551.7 1357 551.6 1358 551.6 1359 551.6 1360 551.8 1361 552 1362 552.2 1363 552.6 1364 552.9 1365 553.4 1366 553.8 1367 554.3 1368 554.9 1369 555.4 1370 556 1371 556.5 1372 557.2 1373 558.1 1374 559.1 1375 560.2 1376 561.3 1377 562.5 1378 563.6 1379 564.7 1380 565.6 1381 566.5 1382 567.5 1383 568.5 1384 569.4 1385 570.2 1386 570.7 1387 570.8 1388 570.8 1389 570.7 1390 570.7 1391 570.6 1392 570.5 1393 570.4 1394 570.3 1395 570.2 1396 570.2 1397 570.1 1398 570 1399 570 1400 570 1401 570.3 1402 570.8 1403 571.3 1404 571.8 1405 572.2 1406 572.4 1407 572.4 1408 572.3 1409 572.3 1410 572.1 1411 572 1412 571.8 1413 571.7 1414 571.4 1415 571.2 1416 571 1417 570.7 1418 570.4 1419 570.1 1420 569.8 1421 569.5 1422 569.2 1423 568.8 1424 568.2 1425 567.4 1426 566.6 1427 565.7 1428 564.7 1429 563.7 1430 562.8 1431 561.9 1432 561.1 1433 560.4 1434 559.9 1435 559.5 1436 559.3 1437 559.2 1438 559 1439 558.9 1440 558.8 1441 558.7 1442 558.5 1443 558.4 1444 558.1 1445 557.7 1446 557 1447 556 1448 554.7 1449 553.2 1450 551.5 1451 549.6 1452 546.8 1453 543.2 1454 538.9 1455 534.5 1456 530.2 1457 526.6 1458 523.7 1459 521 1460 518.6 1461 516.2 1462 513.9 1463 511.5 1464 509 1465 506.3 1466 503.6 1467 501 1468 498.5 1469 496.4 1470 494.5 1471 492.7 1472 491 1473 489.4 1474 487.8 1475 486.4 1476 484.9 1477 483.4 1478 482 1479 480.5 1480 479.1 1481 477.7 1482 476.3 1483 475 1484 473.6 1485 472.3 1486 471 1487 469.7 1488 468.4 1489 467.2 1490 465.9 1491 464.6 1492 463.3 1493 462 1494 460.7 1495 459.4 1496 458 1497 456.7 1498 455.3 1499 453.8 1500 452.4 1501 451 1502 449.6 1503 448.1 1504 446.7 1505 445.3 1506 444 1507 442.6 1508 441.3 1509 440.1 1510 438.9 1511 437.7 1512 436.6 1513 435.6 1514 434.6 1515 433.6 1516 432.6 1517 431.7 1518 430.8 1519 430 1520 429.1 1521 428.3 1522 427.4 1523 426.6 1524 425.8 1525 425 1526 424.1 1527 423.3 1528 422.5 1529 421.6 1530 420.7 1531 419.7 1532 418.8 1533 417.8 1534 416.8 1535 415.7 1536 414.7 1537 413.8 1538 412.8 1539 411.9 1540 411 1541 410.2 1542 409.5 1543 408.9 1544 408.3 1545 407.9 1546 407.5 1547 407.2 1548 406.8 1549 406.6 1550 406.3 1551 406 1552 405.7 1553 405.4 1554 405.1 1555 404.7 1556 404.2 1557 403.7 1558 403.1 1559 402.4 1560 401.7 1561 400.9 1562 400.1 1563 399.3 1564 398.5 1565 397.7 1566 397 1567 396.2 1568 395.6 1569 395 1570 394.4 1571 394 1572 393.6 1573 393.3 1574 392.9 1575 392.7 1576 392.4 1577 392.1 1578 391.8 1579 391.5 1580 391.1 1581 390.8 1582 390.3 1583 389.7 1584 389.1 1585 388.3 1586 387.4 1587 386.5 1588 385.6 1589 384.8 1590 383.9 1591 383.2 1592 382.5 1593 381.9 1594 381.5 1595 381.1 1596 380.8 1597 380.5 1598 380.2 1599 380 1600 379.7 1601 379.4 1602 379.1 1603 378.8 1604 378.4 1605 377.9 1606 377.4 1607 376.8 1608 376.1 1609 375.3 1610 374.6 1611 373.7 1612 372.9 1613 372 1614 371.2 1615 370.3 1616 369.5 1617 368.7 1618 367.9 1619 367.2 1620 366.6 1621 365.9 1622 365.1 1623 364.4 1624 363.7 1625 363 1626 362.3 1627 361.7 1628 361.2 1629 360.8 1630 360.5 1631 360.3 1632 360.2 1633 360.1 1634 360 1635 359.9 1636 359.9 1637 359.8 1638 359.8 1639 359.7 1640 359.7 1641 359.6 1642 359.5 1643 359.4 1644 359.3 1645 359 1646 358.5 1647 357.9 1648 357.1 1649 356.2 1650 355.2 1651 354.2 1652 353.2 1653 352.2 1654 351.2 1655 350.2 1656 349 1657 347.8 1658 346.5 1659 345.2 1660 343.9 1661 342.6 1662 341.4 1663 340.2 1664 339 1665 338 1666 337.1 1667 336.3 1668 335.6 1669 334.9 1670 334.3 1671 333.7 1672 333.1 1673 332.6 1674 332.1 1675 331.6 1676 331.1 1677 330.6 1678 330.2 1679 329.7 1680 329.3 1681 328.9 1682 328.5 1683 328.1 1684 327.7 1685 327.3 1686 327 1687 326.6 1688 326.2 1689 325.9 1690 325.5 1691 325.2 1692 324.8 1693 324.5 1694 324.1 1695 323.8 1696 323.5 1697 323.2 1698 322.8 1699 322.3 1700 321.6 1701 320.8 1702 319.7 1703 318.6 1704 317.3 1705 316.1 1706 314.7 1707 313.4 1708 312.2 1709 311 1710 310 1711 309 1712 308.3 1713 307.8 1714 307.5 1715 307.3 1716 307.1 1717 306.9 1718 306.7 1719 306.6 1720 306.5 1721 306.3 1722 306.2 1723 306.1 1724 306 1725 305.9 1726 305.8 1727 305.7 1728 305.6 1729 305.5 1730 305.4 1731 305.3 1732 305.2 1733 305.1 1734 305 1735 304.9 1736 304.7 1737 304.5 1738 304 1739 303.4 1740 302.7 1741 301.8 1742 300.9 1743 300.1 1744 299.2 1745 298.5 1746 297.8 1747 297.4 1748 297.1 1749 296.9 1750 296.7 1751 296.6 1752 296.4 1753 296.3 1754 296.2 1755 296.1 1756 295.9 1757 295.8 1758 295.5 1759 295.2 1760 294.6 1761 293.7 1762 292.5 1763 291.1 1764 289.5 1765 287.9 1766 286.4 1767 284.8 1768 283 1769 281 1770 278.9 1771 276.7 1772 274.4 1773 272.2 1774 270 1775 267.9 1776 266 1777 264.2 1778 262.7 1779 261.3 1780 260 1781 258.8 1782 257.7 1783 256.6 1784 255.4 1785 254.3 1786 253.2 1787 252 1788 250.7 1789 249.4 1790 248.1 1791 246.8 1792 245.5 1793 244.3 1794 243.2 1795 242.2 1796 241.3 1797 240.5 1798 239.7 1799 239 1800 238.3 1801 237.5 1802 236.8 1803 236 1804 235.1 1805 234.2 1806 233.2 1807 232.2 1808 231.1 1809 230.1 1809.6 229.4" fill="none" stroke="#000" stroke-width="1.1" />
<path d="M259.5 906.3 260.5 906.3 261.5 906.3 262.5 906.2 263.5 906.2 264.5 906.1 265.5 906.1 266.5 906 267.5 906 268.5 905.9 269.5 905.8 270.5 905.7 271.5 905.6 272.5 905.5 273.5 905.4 274.5 905.3 275.5 905.2 276.5 905 277.5 904.9 278.5 904.8 279.5 904.6 280.5 904.4 281.5 904.3 282.5 904.1 283.5 903.9 284.5 903.8 285.5 903.6 286.5 903.4 287.5 903.2 288.5 903 289.5 902.7 290.5 902.5 291.5 902.3 292.5 902 293.5 901.8 294.5 901.6 295.5 901.3 296.5 901 297.5 900.8 298.5 900.5 299.5 900.2 300.5 899.9 301.5 899.6 302.5 899.3 303.5 899 304.5 898.7 305.5 898.4 306.5 898 307.5 897.7 308.5 897.4 309.5 897 310.5 896.7 311.5 896.3 312.5 895.9 313.5 895.6 314.5 895.2 315.5 894.8 315.9 894.6" fill="none" stroke="#0000a0" stroke-width="1.2" />
<path d="M422.7 894.6 423.7 894.2 424.7 893.8 425.7 893.4 426.7 893 427.7 892.6 428.7 892.2 429.7 891.7 430.7 891.3 431.7 890.8 432.7 890.4 433.7 889.9 434.7 889.4 435.7 889 436.7 888.5 437.7 888 438.7 887.5 439.7 887 440.7 886.5 441.7 886 442.7 885.5 443.7 885 444.7 884.4 445.7 883.9 446.7 883.4 447.7 882.8 448.7 882.3 449.7 881.7 450.7 881.1 451.7 880.6 452.7 880 453.7 879.4 454.7 878.8 455.7 878.2 456.7 877.6 457.7 877 458.7 876.4 459.7 875.8 460.7 875.1 461.7 874.5 462.7 873.9 463.7 873.2 464.7 872.6 465.7 871.9 466.7 871.2 467.7 870.6 468.7 869.9 469.7 869.2 470.7 868.5 471.7 867.8 472.7 867.1 473.7 866.4 474.7 865.7 475.7 865 476.7 864.3 477.7 863.6 478.7 862.8 479.7 862.1 480.7 861.3 481.7 860.6 482.7 859.8 483.7 859.1 484.7 858.3 485.7 857.5 486.7 856.8 487.7 856 488.7 855.2 489.7 854.4 490.7 853.6 491.7 852.8 492.7 852 493.7 851.2 494.7 850.4 495.7 849.5 496.7 848.7 497.7 847.9 498.7 847 499.7 846.2 500.7 845.3 501.7 844.5 502.7 843.6 503.7 842.7 504.7 841.8 505.7 841 506.7 840.1 507.7 839.2 508.7 838.3 509.7 837.4 510.7 836.5 511.7 835.6 512.7 834.7 513.7 833.7 514.7 832.8 515.7 831.9 516.7 831 517.7 830 518.7 829.1 519.7 828.1 520.7 827.2 521.7 826.2 522.7 825.2 523.7 824.3 524.7 823.3 525.7 822.3 526.7 821.3 527.7 820.3 528.7 819.3 529.7 818.3 530.7 817.3 531.7 816.3 532.7 815.3 533.7 814.3 534.7 813.3 535.7 812.2 536.7 811.2 537.7 810.2 538.7 809.1 539.7 808.1 540.7 807 541.7 806 542.7 804.9 543.7 803.9 544.7 802.8 545.7 801.7 546.7 800.7 547.7 799.6 548.7 798.5 549.7 797.4 550.7 796.3 551.7 795.2 552.7 794.1 553.7 793 554.7 791.9 555.7 790.8 556.7 789.7 557.7 788.5 558.7 787.4 559.7 786.3 560.7 785.1 561.7 784 562.7 782.9 563.7 781.7 564.7 780.6 565.7 779.4 566.7 778.2 567.7 777.1 568.7 775.9 569.7 774.7 570.7 773.6 571.7 772.4 572.7 771.2 573.7 770 574.7 768.8 575.7 767.6 576.7 766.4 577.7 765.2 578.7 764 579.7 762.8 580.7 761.6 581.7 760.4 582.7 759.2 583.7 758 584.7 756.7 585.7 755.5 586.7 754.3 587.7 753 588.7 751.8 589.7 750.5 590.7 749.3 591.7 748 592.7 746.8 593.7 745.5 594.7 744.3 595.7 743 596.7 741.7 597.7 740.5 598.7 739.2 599.7 737.9 600.7 736.6 601.7 735.4 602.7 734.1 603.7 732.8 604.7 731.5 605.7 730.2 606.7 728.9 607.7 727.6 608.7 726.3 609.7 725 610.7 723.7 611.7 722.4 612.7 721 613.7 719.7 614.7 718.4 615.7 717.1 616.7 715.7 617.7 714.4 618.7 713.1 619.7 711.7 620.7 710.4 621.7 709.1 622.7 707.7 623.7 706.4 624.7 705 625.7 703.7 626.7 702.3 627.7 701 628.7 699.6 629.7 698.2 630.7 696.9 631.7 695.5 632.7 694.1 633.7 692.8 634.7 691.4 635.7 690 636.7 688.6 637.7 687.2 638.7 685.9 639.7 684.5 640.7 683.1 641.7 681.7 642.7 680.3 643.7 678.9 644.7 677.5 645.7 676.1 646.7 674.7 647.7 673.3 648.7 671.9 649.7 670.5 650.7 669.1 651.7 667.6 652.7 666.2 653.7 664.8 654.7 663.4 655.7 662 656.7 660.6 657.7 659.1 658.7 657.7 659.7 656.3 660.7 654.8 661.7 653.4 662.7 652 663.7 650.5 664.7 649.1 665.7 647.7 666.7 646.2 667.7 644.8 668.7 643.3 669.7 641.9 670.7 640.4 671.7 639 672.7 637.5 673.7 636.1 674.7 634.6 675.7 633.2 676.7 631.7 677.7 630.3 678.7 628.8 679.7 627.3 680.7 625.9 681.7 624.4 682.7 622.9 683.7 621.5 684.7 620 685.7 618.5 686.7 617.1 687.7 615.6 688.7 614.1 689.7 612.7 690.7 611.2 691.7 609.7 692.7 608.2 693.7 606.7 694.7 605.3 695.7 603.8 696.7 602.3 697.7 600.8 698.7 599.3 699.7 597.8 700.7 596.4 701.7 594.9 702.7 593.4 703.7 591.9 704.7 590.4 705.7 588.9 706.7 587.4 707.7 585.9 708.7 584.4 709.7 582.9 710.7 581.5 711.7 580 712.7 578.5 713.7 577 714.7 575.5 715.7 574 716.7 572.5 717.7 571 718.7 569.5 719.7 568 720.7 566.5 721.7 565 722.7 563.5 723.7 562 724.7 560.5 725.7 559 726.7 557.5 727.7 556 728.7 554.5 729.7 553 730.7 551.4 731.7 549.9 732.7 548.4 733.7 546.9 734.7 545.4 735.7 543.9 736.7 542.4 737.7 540.9 738.7 539.4 739.7 537.9 740.7 536.4 741.7 534.9 742.7 533.4 743.7 531.9 744.7 530.4 745.7 528.9 746.7 527.4 747.7 525.9 748.7 524.4 749.7 522.9 750.7 521.4 751.7 519.8 752.7 518.3 753.7 516.8 754.7 515.3 755.7 513.8 756.7 512.3 757.7 510.8 758.7 509.3 759.7 507.8 760.7 506.3 761.7 504.8 762.7 503.3 763.7 501.8 764.7 500.3 765.7 498.8 766.7 497.3 767.7 495.8 768.7 494.3 769.7 492.8 770.7 491.4 771.7 489.9 772.7 488.4 773.7 486.9 774.7 485.4 775.7 483.9 776.7 482.4 777.7 480.9 778.7 479.4 779.7 477.9 780.7 476.5 781.7 475 782.7 473.5 783.7 472 784.7 470.5 785.7 469 786.7 467.6 787.7 466.1 788.7 464.6 789.7 463.1 790.7 461.7 791.7 460.2 792.7 458.7 793.7 457.2 794.7 455.8 795.7 454.3 796.7 452.8 797.7 451.4 798.7 449.9 799.7 448.4 800.7 447 801.7 445.5 802.7 444.1 803.7 442.6 804.7 441.1 805.7 439.7 806.7 438.2 807.7 436.8 808.7 435.3 809.7 433.9 810.7 432.4 811.7 431 812.7 429.6 813.7 428.1 814.7 426.7 815.7 425.2 816.7 423.8 817.7 422.4 818.7 421 819.7 419.5 820.7 418.1 821.7 416.7 822.7 415.2 823.7 413.8 824.7 412.4 825.7 411 826.7 409.6 827.7 408.2 828.7 406.8 829.7 405.4 830.7 403.9 831.7 402.5 832.7 401.1 833.7 399.8 834.7 398.4 835.7 397 836.7 395.6 837.7 394.2 838.7 392.8 839.7 391.4 840.7 390 841.7 388.7 842.7 387.3 843.7 385.9 844.7 384.5 845.7 383.2 846.7 381.8 847.7 380.4 848.7 379.1 849.7 377.7 850.7 376.4 851.7 375 852.7 373.7 853.7 372.3 854.7 371 855.7 369.7 856.7 368.3 857.7 367 858.7 365.7 859.7 364.3 860.7 363 861.7 361.7 862.7 360.4 863.7 359.1 864.7 357.8 865.7 356.4 866.7 355.1 867.7 353.8 868.7 352.5 869.7 351.3 870.7 350 871.7 348.7 872.7 347.4 873.7 346.1 874.7 344.8 875.7 343.6 876.7 342.3 877.7 341 878.7 339.8 879.7 338.5 880.7 337.3 881.7 336 882.7 334.8 883.7 333.5 884.7 332.3 885.7 331 886.7 329.8 887.7 328.6 888.7 327.4 889.7 326.1 890.7 324.9 891.7 323.7 892.7 322.5 893.7 321.3 894.7 320.1 895.7 318.9 896.7 317.7 897.7 316.5 898.7 315.3 899.7 314.2 900.7 313 901.7 311.8 902.7 310.6 903.7 309.5 904.7 308.3 905.7 307.2 906.7 306 907.7 304.9 908.7 303.7 909.7 302.6 910.7 301.5 911.7 300.3 912.7 299.2 913.7 298.1 914.7 297 915.7 295.9 916.7 294.8 917.7 293.7 918.7 292.6 919.7 291.5 920.7 290.4 921.7 289.3 922.7 288.3 923.7 287.2 924.7 286.1 925.7 285.1 926.7 284 927.7 283 928.7 281.9 929.7 280.9 930.7 279.9 931.7 278.8 932.7 277.8 933.7 276.8 934.7 275.8 935.7 274.8 936.7 273.8 937.7 272.8 938.7 271.8 939.7 270.8 940.7 269.8 941.7 268.8 942.7 267.9 943.7 266.9 944.7 265.9 945.7 265 946.7 264 947.7 263.1 948.7 262.1 949.7 261.2 950.7 260.3 951.7 259.4 952.7 258.5 953.7 257.5 954.7 256.6 955.7 255.7 956.7 254.8 957.7 254 958.7 253.1 959.7 252.2 960.7 251.3 961.7 250.5 962.7 249.6 963.7 248.8 964.7 247.9 965.7 247.1 966.7 246.2 967.7 245.4 968.7 244.6 969.7 243.8 970.7 243 971.7 242.2 972.7 241.4 973.7 240.6 974.7 239.8 975.7 239 976.7 238.2 977.7 237.5 978.7 236.7 979.7 236 980.7 235.2 981.7 234.5 982.7 233.7 983.7 233 984.7 232.3 985.7 231.6 986.7 230.9 987.7 230.2 988.7 229.5 989.7 228.8 990.7 228.1 991.7 227.4 992.7 226.7 993.7 226.1 994.7 225.4 995.7 224.8 996.7 224.1 997.7 223.5 998.7 222.9 999.7 222.2 1000.7 221.6 1001.7 221 1002.7 220.4 1003.7 219.8 1004.7 219.2 1005.7 218.6 1006.7 218 1007.7 217.5 1008.7 216.9 1009.7 216.4 1010.7 215.8 1011.7 215.3 1012.7 214.7 1013.7 214.2 1014.7 213.7 1015.7 213.2 1016.7 212.7 1017.7 212.2 1018.7 211.7 1019.7 211.2 1020.7 210.7 1021.7 210.2 1022.7 209.8 1023.7 209.3 1024.7 208.8 1025.7 208.4 1026.7 208 1027.7 207.5 1028.7 207.1 1029.7 206.7 1030.7 206.3 1031.7 205.9 1032.7 205.5 1033.7 205.1 1034.7 204.7 1035.7 204.3 1036.7 204 1037.7 203.6 1038.7 203.3 1039.7 202.9 1040.7 202.6 1041.7 202.2 1042.7 201.9 1043.7 201.6 1044.7 201.3 1045.7 201 1046.7 200.7 1047.7 200.4 1048.7 200.1 1049.7 199.9 1050.7 199.6 1051.7 199.3 1052.7 199.1 1053.7 198.9 1054.7 198.6 1055.7 198.4 1056.7 198.2 1057.7 198 1058.7 197.8 1059.7 197.6 1060.7 197.4 1061.7 197.2 1062.7 197 1063.7 196.8 1064.7 196.7 1065.7 196.5 1066.7 196.4 1067.7 196.2 1068.7 196.1 1069.7 196 1070.7 195.9 1071.7 195.8 1072.7 195.7 1073.7 195.6 1074.7 195.5 1075.7 195.4 1076.7 195.3 1077.7 195.3 1078.7 195.2 1079.7 195.2 1080.7 195.1 1081.7 195.1 1082.7 195.1 1083.7 195.1 1084.7 195 1085.7 195 1086.7 195 1087.7 195.1 1088.7 195.1 1089.7 195.1 1090.7 195.1 1091.7 195.2 1092.7 195.2 1093.7 195.3 1094.7 195.4 1095.7 195.4 1096.7 195.5 1097.7 195.6 1098.7 195.7 1099.7 195.8 1100.7 195.9 1101.7 196 1102.7 196.1 1103.7 196.3 1104.7 196.4 1105.7 196.6 1106.7 196.7 1107.7 196.9 1108.7 197 1109.7 197.2 1110.7 197.4 1111.7 197.6 1112.7 197.8 1113.7 198 1114.7 198.2 1115.7 198.4 1116.7 198.7 1117.7 198.9 1118.7 199.1 1119.7 199.4 1120.7 199.6 1121.7 199.9 1122.7 200.2 1123.7 200.5 1124.7 200.7 1125.7 201 1126.7 201.3 1127.7 201.6 1128.7 202 1129.7 202.3 1130.7 202.6 1131.7 203 1132.7 203.3 1133.7 203.7 1134.7 204 1135.7 204.4 1136.7 204.8 1137.7 205.1 1138.7 205.5 1139.7 205.9 1140.7 206.3 1141.7 206.7 1142.7 207.2 1143.7 207.6 1144.7 208 1145.7 208.4 1146.7 208.9 1147.7 209.3 1148.7 209.8 1149.7 210.3 1150.7 210.7 1151.7 211.2 1152.7 211.7 1153.7 212.2 1154.7 212.7 1155.7 213.2 1156.7 213.7 1157.7 214.3 1158.7 214.8 1159.7 215.3 1160.7 215.9 1161.7 216.4 1162.7 217 1163.7 217.5 1164.7 218.1 1165.7 218.7 1166.7 219.3 1167.7 219.9 1168.7 220.5 1169.7 221.1 1170.7 221.7 1171.7 222.3 1172.7 222.9 1173.7 223.6 1174.7 224.2 1175.7 224.8 1176.7 225.5 1177.7 226.2 1178.7 226.8 1179.7 227.5 1180.7 228.2 1181.7 228.9 1182.7 229.5 1183.7 230.2 1184.7 230.9 1185.7 231.7 1186.7 232.4 1187.7 233.1 1188.7 233.8 1189.7 234.6 1190.7 235.3 1191.7 236.1 1192.7 236.8 1193.7 237.6 1194.7 238.3 1195.7 239.1 1196.7 239.9 1197.7 240.7 1198.7 241.5 1199.7 242.3 1200.7 243.1 1201.7 243.9 1202.7 244.7 1203.7 245.5 1204.7 246.3 1205.7 247.2 1206.7 248 1207.7 248.9 1208.7 249.7 1209.7 250.6 1210.7 251.4 1211.7 252.3 1212.7 253.2 1213.7 254.1 1214.7 255 1215.7 255.9 1216.7 256.8 1217.7 257.7 1218.7 258.6 1219.7 259.5 1220.7 260.4 1221.7 261.3 1222.7 262.3 1223.7 263.2 1224.7 264.1 1225.7 265.1 1226.7 266.1 1227.7 267 1228.7 268 1229.7 269 1230.7 269.9 1231.7 270.9 1232.7 271.9 1233.7 272.9 1234.7 273.9 1235.7 274.9 1236.7 275.9 1237.7 276.9 1238.7 277.9 1239.7 279 1240.7 280 1241.7 281 1242.7 282.1 1243.7 283.1 1244.7 284.2 1245.7 285.2 1246.7 286.3 1247.7 287.3 1248.7 288.4 1249.7 289.5 1250.7 290.6 1251.7 291.6 1252.7 292.7 1253.7 293.8 1254.7 294.9 1255.7 296 1256.7 297.1 1257.7 298.2 1258.7 299.4 1259.7 300.5 1260.7 301.6 1261.7 302.7 1262.7 303.9 1263.7 305 1264.7 306.2 1265.7 307.3 1266.7 308.5 1267.7 309.6 1268.7 310.8 1269.7 312 1270.7 313.1 1271.7 314.3 1272.7 315.5 1273.7 316.7 1274.7 317.9 1275.7 319 1276.7 320.2 1277.7 321.4 1278.7 322.6 1279.7 323.9 1280.7 325.1 1281.7 326.3 1282.7 327.5 1283.7 328.7 1284.7 330 1285.7 331.2 1286.7 332.4 1287.7 333.7 1288.7 334.9 1289.7 336.2 1290.7 337.4 1291.7 338.7 1292.7 339.9 1293.7 341.2 1294.7 342.4 1295.7 343.7 1296.7 345 1297.7 346.3 1298.7 347.5 1299.7 348.8 1300.7 350.1 1301.7 351.4 1302.7 352.7 1303.7 354 1304.7 355.3 1305.7 356.6 1306.7 357.9 1307.7 359.2 1308.7 360.5 1309.7 361.9 1310.7 363.2 1311.7 364.5 1312.7 365.8 1313.7 367.2 1314.7 368.5 1315.7 369.8 1316.7 371.2 1317.7 372.5 1318.7 373.8 1319.7 375.2 1320.7 376.5 1321.7 377.9 1322.7 379.3 1323.7 380.6 1324.7 382 1325.7 383.3 1326.7 384.7 1327.7 386.1 1328.7 387.5 1329.7 388.8 1330.7 390.2 1331.7 391.6 1332.7 393 1333.7 394.4 1334.7 395.7 1335.7 397.1 1336.7 398.5 1337.7 399.9 1338.7 401.3 1339.7 402.7 1340.7 404.1 1341.7 405.5 1342.7 406.9 1343.7 408.3 1344.7 409.8 1345.7 411.2 1346.7 412.6 1347.7 414 1348.7 415.4 1349.7 416.8 1350.7 418.3 1351.7 419.7 1352.7 421.1 1353.7 422.6 1354.7 424 1355.7 425.4 1356.7 426.9 1357.7 428.3 1358.7 429.7 1359.7 431.2 1360.7 432.6 1361.7 434.1 1362.7 435.5 1363.7 437 1364.7 438.4 1365.7 439.9 1366.7 441.3 1367.7 442.8 1368.7 444.2 1369.7 445.7 1370.7 447.2 1371.7 448.6 1372.7 450.1 1373.7 451.5 1374.7 453 1375.7 454.5 1376.7 455.9 1377.7 457.4 1378.7 458.9 1379.7 460.4 1380.7 461.8 1381.7 463.3 1382.7 464.8 1383.7 466.3 1384.7 467.7 1385.7 469.2 1386.7 470.7 1387.7 472.2 1388.7 473.7 1389.7 475.1 1390.7 476.6 1391.7 478.1 1392.7 479.6 1393.7 481.1 1394.7 482.6 1395.7 484.1 1396.7 485.6 1397.7 487.1 1398.7 488.6 1399.7 490 1400.7 491.5 1401.7 493 1402.7 494.5 1403.7 496 1404.7 497.5 1405.7 499 1406.7 500.5 1407.7 502 1408.7 503.5 1409.7 505 1410.7 506.5 1411.7 508 1412.7 509.5 1413.7 511 1414.7 512.5 1415.7 514 1416.7 515.5 1417.7 517 1418.7 518.5 1419.7 520 1420.7 521.5 1421.7 523 1422.7 524.5 1423.7 526 1424.7 527.6 1425.7 529.1 1426.7 530.6 1427.7 532.1 1428.7 533.6 1429.7 535.1 1430.7 536.6 1431.7 538.1 1432.7 539.6 1433.7 541.1 1434.7 542.6 1435.7 544.1 1436.7 545.6 1437.7 547.1 1438.7 548.6 1439.7 550.1 1440.7 551.6 1441.7 553.1 1442.7 554.6 1443.7 556.1 1444.7 557.6 1445.7 559.1 1446.7 560.7 1447.7 562.2 1448.7 563.7 1449.7 565.2 1450.7 566.7 1451.7 568.2 1452.7 569.7 1453.7 571.2 1454.7 572.7 1455.7 574.2 1456.7 575.7 1457.7 577.1 1458.7 578.6 1459.7 580.1 1460.7 581.6 1461.7 583.1 1462.7 584.6 1463.7 586.1 1464.7 587.6 1465.7 589.1 1466.7 590.6 1467.7 592.1 1468.7 593.6 1469.7 595.1 1470.7 596.5 1471.7 598 1472.7 599.5 1473.7 601 1474.7 602.5 1475.7 604 1476.7 605.4 1477.7 606.9 1478.7 608.4 1479.7 609.9 1480.7 611.4 1481.7 612.8 1482.7 614.3 1483.7 615.8 1484.7 617.3 1485.7 618.7 1486.7 620.2 1487.7 621.7 1488.7 623.1 1489.7 624.6 1490.7 626.1 1491.7 627.5 1492.7 629 1493.7 630.4 1494.7 631.9 1495.7 633.4 1496.7 634.8 1497.7 636.3 1498.7 637.7 1499.7 639.2 1500.7 640.6 1501.7 642.1 1502.7 643.5 1503.7 645 1504.7 646.4 1505.7 647.8 1506.7 649.3 1507.7 650.7 1508.7 652.2 1509.7 653.6 1510.7 655 1511.7 656.4 1512.7 657.9 1513.7 659.3 1514.7 660.7 1515.7 662.2 1516.7 663.6 1517.7 665 1518.7 666.4 1519.7 667.8 1520.7 669.2 1521.7 670.6 1522.7 672.1 1523.7 673.5 1524.7 674.9 1525.7 676.3 1526.7 677.7 1527.7 679.1 1528.7 680.5 1529.7 681.9 1530.7 683.2 1531.7 684.6 1532.7 686 1533.7 687.4 1534.7 688.8 1535.7 690.2 1536.7 691.5 1537.7 692.9 1538.7 694.3 1539.7 695.7 1540.7 697 1541.7 698.4 1542.7 699.8 1543.7 701.1 1544.7 702.5 1545.7 703.8 1546.7 705.2 1547.7 706.5 1548.7 707.9 1549.7 709.2 1550.7 710.6 1551.7 711.9 1552.7 713.2 1553.7 714.6 1554.7 715.9 1555.7 717.2 1556.7 718.6 1557.7 719.9 1558.7 721.2 1559.7 722.5 1560.7 723.8 1561.7 725.1 1562.7 726.4 1563.7 727.8 1564.7 729.1 1565.7 730.4 1566.7 731.6 1567.7 732.9 1568.7 734.2 1569.7 735.5 1570.7 736.8 1571.7 738.1 1572.7 739.4 1573.7 740.6 1574.7 741.9 1575.7 743.2 1576.7 744.4 1577.7 745.7 1578.7 746.9 1579.7 748.2 1580.7 749.5 1581.7 750.7 1582.7 751.9 1583.7 753.2 1584.7 754.4 1585.7 755.7 1586.7 756.9 1587.7 758.1 1588.7 759.3 1589.7 760.5 1590.7 761.8 1591.7 763 1592.7 764.2 1593.7 765.4 1594.7 766.6 1595.7 767.8 1596.7 769 1597.7 770.2 1598.7 771.4 1599.7 772.5 1600.7 773.7 1601.7 774.9 1602.7 776.1 1603.7 777.2 1604.7 778.4 1605.7 779.5 1606.7 780.7 1607.7 781.9 1608.7 783 1609.7 784.1 1610.7 785.3 1611.7 786.4 1612.7 787.5 1613.7 788.7 1614.7 789.8 1615.7 790.9 1616.7 792 1617.7 793.1 1618.7 794.2 1619.7 795.3 1620.7 796.4 1621.7 797.5 1622.7 798.6 1623.7 799.7 1624.7 800.8 1625.7 801.9 1626.7 802.9 1627.7 804 1628.7 805.1 1629.7 806.1 1630.7 807.2 1631.7 808.2 1632.7 809.3 1633.7 810.3 1634.7 811.3 1635.7 812.4 1636.7 813.4 1637.7 814.4 1638.7 815.4 1639.7 816.5 1640.7 817.5 1641.7 818.5 1642.7 819.5 1643.7 820.5 1644.7 821.4 1645.7 822.4 1646.7 823.4 1647.7 824.4 1648.7 825.4 1649.7 826.3 1650.7 827.3 1651.7 828.2 1652.7 829.2 1653.7 830.1 1654.7 831.1 1655.7 832 1656.7 832.9 1657.7 833.9 1658.7 834.8 1659.7 835.7 1660.7 836.6 1661.7 837.5 1662.7 838.4 1663.7 839.3 1664.7 840.2 1665.7 841.1 1666.7 842 1667.7 842.8 1668.7 843.7 1669.7 844.6 1670.7 845.4 1671.7 846.3 1672.7 847.1 1673.7 848 1674.7 848.8 1675.7 849.6 1676.7 850.5 1677.7 851.3 1678.7 852.1 1679.7 852.9 1680.7 853.7 1681.7 854.5 1682.7 855.3 1683.7 856.1 1684.7 856.9 1685.7 857.6 1686.7 858.4 1687.7 859.2 1688.7 859.9 1689.7 860.7 1690.7 861.4 1691.7 862.2 1692.7 862.9 1693.7 863.7 1694.7 864.4 1695.7 865.1 1696.7 865.8 1697.7 866.5 1698.7 867.2 1699.7 867.9 1700.7 868.6 1701.7 869.3 1702.7 870 1703.7 870.7 1704.7 871.3 1705.7 872 1706.7 872.6 1707.7 873.3 1708.7 873.9 1709.7 874.6 1710.7 875.2 1711.7 875.8 1712.7 876.4 1713.7 877.1 1714.7 877.7 1715.7 878.3 1716.7 878.9 1717.7 879.5 1718.7 880 1719.7 880.6 1720.7 881.2 1721.7 881.8 1722.7 882.3 1723.7 882.9 1724.7 883.4 1725.7 884 1726.7 884.5 1727.7 885 1728.7 885.5 1729.7 886.1 1730.7 886.6 1731.7 887.1 1732.7 887.6 1733.7 888.1 1734.7 888.6 1735.7 889 1736.7 889.5 1737.7 890 1738.7 890.4 1739.7 890.9 1740.7 891.3 1741.7 891.8 1742.7 892.2 1743.7 892.6 1744.7 893.1 1745.7 893.5 1746.7 893.9 1747.7 894.3 1748.7 894.7 1749.7 895.1 1750.7 895.4 1751.7 895.8 1752.7 896.2 1753.7 896.6 1754.7 896.9 1755.7 897.3 1756.7 897.6 1757.7 897.9 1758.7 898.3 1759.7 898.6 1760.7 898.9 1761.7 899.2 1762.7 899.5 1763.7 899.8 1764.7 900.1 1765.7 900.4 1766.7 900.7 1767.7 901 1768.7 901.2 1769.7 901.5 1770.7 901.7 1771.7 902 1772.7 902.2 1773.7 902.4 1774.7 902.7 1775.7 902.9 1776.7 903.1 1777.7 903.3 1778.7 903.5 1779.7 903.7 1780.7 903.9 1781.7 904.1 1782.7 904.2 1783.7 904.4 1784.7 904.6 1785.7 904.7 1786.7 904.9 1787.7 905 1788.7 905.1 1789.7 905.3 1790.7 905.4 1791.7 905.5 1792.7 905.6 1793.7 905.7 1794.7 905.8 1795.7 905.9 1796.7 905.9 1797.7 906 1798.7 906.1 1799.7 906.1 1800.7 906.2 1801.7 906.2 1802.7 906.3 1803.7 906.3 1804.7 906.3 1805.7 906.3 1806.7 906.3 1807.7 906.3 1808.7 906.3 1809.5 906.3" fill="none" stroke="#0000a0" stroke-width="1.2" />
<path d="M819.5 419.8 820.5 418.4 821.5 417 822.5 415.5 823.5 414.1 824.5 412.7 825.5 411.3 826.5 409.9 826.8 409.5M829.8 405.3 830.8 403.9 831.8 402.5 832.8 401.1 833.8 399.7 834.8 398.3 835.8 396.9 836.8 395.5 837 395.2M840.2 390.7 841.2 389.3 842.2 387.9 843.2 386.5 844.2 385.2 845.2 383.8 846.2 382.4 847.2 381.1 847.2 381.1M850.5 376.7 851.5 375.3 852.5 374 853.5 372.6 854.5 371.3 855.5 369.9 856.5 368.6 857.5 367.3 857.8 366.9M861 362.6 862 361.3 863 360 864 358.7 865 357.4 866 356.1 867 354.8 868 353.5 868.5 352.8M871.8 348.6 872.8 347.3 873.8 346 874.8 344.8 875.8 343.5 876.8 342.2 877.8 341 878.8 339.7 879.2 339.1M882.5 335 883.5 333.8 884.5 332.5 885.5 331.3 886.5 330.1 887.5 328.8 888.5 327.6 889.5 326.4 890 325.8M893.5 321.5 894.5 320.3 895.5 319.1 896.5 317.9 897.5 316.8 898.5 315.6 899.5 314.4 900.5 313.2 901 312.6M904.5 308.6 905.5 307.4 906.5 306.3 907.5 305.1 908.5 304 909.5 302.8 910.5 301.7 911.5 300.6 912.2 299.7M915.8 295.8 916.8 294.7 917.8 293.6 918.8 292.5 919.8 291.5 920.8 290.4 921.8 289.3 922.8 288.2 923.5 287.4M927 283.7 928 282.7 929 281.6 930 280.6 931 279.6 932 278.5 933 277.5 934 276.5 935 275.5 935.2 275.2M938.8 271.7 939.8 270.7 940.8 269.8 941.8 268.8 942.8 267.8 943.8 266.8 944.8 265.9 945.8 264.9 946.8 264 947 263.7M950.5 260.5 951.5 259.6 952.5 258.6 953.5 257.7 954.5 256.8 955.5 255.9 956.5 255 957.5 254.1 958.5 253.3 959 252.8M962.8 249.6 963.8 248.7 964.8 247.9 965.8 247 966.8 246.2 967.8 245.4 968.8 244.6 969.8 243.7 970.8 242.9 971.2 242.5M975 239.6 976 238.8 977 238 978 237.2 979 236.5 980 235.7 981 235 982 234.2 983 233.5 983.8 233M987.5 230.3 988.5 229.6 989.5 228.9 990.5 228.2 991.5 227.5 992.5 226.9 993.5 226.2 994.5 225.5 995.5 224.9 996.5 224.2 996.5 224.2M1000.5 221.7 1001.5 221.1 1002.5 220.5 1003.5 219.9 1004.5 219.3 1005.5 218.7 1006.5 218.2 1007.5 217.6 1008.5 217 1009.5 216.5 1009.5 216.5M1013.5 214.3 1014.5 213.8 1015.5 213.3 1016.5 212.8 1017.5 212.3 1018.5 211.8 1019.5 211.3 1020.5 210.8 1021.5 210.3 1022.5 209.8 1022.8 209.7M1026.8 207.9 1027.8 207.5 1028.8 207.1 1029.8 206.7 1030.8 206.3 1031.8 205.9 1032.8 205.5 1033.8 205.1 1034.8 204.7 1035.8 204.3 1036.2 204.1M1040.5 202.6 1041.5 202.3 1042.5 202 1043.5 201.7 1044.5 201.4 1045.5 201.1 1046.5 200.8 1047.5 200.5 1048.5 200.2 1049.5 199.9 1050 199.8M1054.2 198.7 1055.2 198.5 1056.2 198.3 1057.2 198.1 1058.2 197.9 1059.2 197.6 1060.2 197.5 1061.2 197.3 1062.2 197.1 1063.2 196.9 1063.8 196.8M1068 196.2 1069 196.1 1070 196 1071 195.8 1072 195.7 1073 195.6 1074 195.6 1075 195.5 1076 195.4 1077 195.3 1077.8 195.3M1082 195.1 1083 195.1 1084 195.1 1085 195 1086 195 1087 195 1088 195.1 1089 195.1 1090 195.1 1091 195.2 1091.8 195.2M1096 195.4 1097 195.5 1098 195.6 1099 195.7 1100 195.8 1101 195.9 1102 196 1103 196.2 1104 196.3 1105 196.4 1105.8 196.6M1110 197.3 1111 197.5 1112 197.6 1113 197.8 1114 198.1 1115 198.3 1116 198.5 1117 198.7 1118 199 1119 199.2 1119.5 199.3M1123.8 200.5 1124.8 200.8 1125.8 201.1 1126.8 201.4 1127.8 201.7 1128.8 202 1129.8 202.3 1130.8 202.6 1131.8 203 1132.8 203.3 1133.2 203.5M1137.5 205.1 1138.5 205.4 1139.5 205.8 1140.5 206.2 1141.5 206.7 1142.5 207.1 1143.5 207.5 1144.5 207.9 1145.5 208.4 1146.5 208.8 1147 209M1151 210.9 1152 211.4 1153 211.9 1154 212.4 1155 212.9 1156 213.4 1157 213.9 1158 214.4 1159 215 1160 215.5 1160.2 215.6M1164.2 217.9 1165.2 218.4 1166.2 219 1167.2 219.6 1168.2 220.2 1169.2 220.8 1170.2 221.4 1171.2 222 1172.2 222.6 1173.2 223.3 1173.2 223.3M1177.2 225.9 1178.2 226.5 1179.2 227.2 1180.2 227.9 1181.2 228.5 1182.2 229.2 1183.2 229.9 1184.2 230.6 1185.2 231.3 1186 231.9M1190 234.8 1191 235.5 1192 236.3 1193 237 1194 237.8 1195 238.6 1196 239.3 1197 240.1 1198 240.9 1198.5 241.3M1202.2 244.3 1203.2 245.1 1204.2 246 1205.2 246.8 1206.2 247.6 1207.2 248.5 1208.2 249.3 1209.2 250.2 1210.2 251.1 1210.8 251.5M1214.5 254.8 1215.5 255.7 1216.5 256.6 1217.5 257.5 1218.5 258.4 1219.5 259.3 1220.5 260.2 1221.5 261.1 1222.5 262.1 1222.8 262.3M1226.5 265.9 1227.5 266.8 1228.5 267.8 1229.5 268.8 1230.5 269.7 1231.5 270.7 1232.5 271.7 1233.5 272.7 1234.5 273.7 1234.8 273.9M1238.2 277.5 1239.2 278.5 1240.2 279.5 1241.2 280.6 1242.2 281.6 1243.2 282.6 1244.2 283.7 1245.2 284.7 1246.2 285.8 1246.2 285.8M1249.8 289.5 1250.8 290.6 1251.8 291.7 1252.8 292.8 1253.8 293.9 1254.8 295 1255.8 296.1 1256.8 297.2 1257.8 298.3 1257.8 298.3M1261 302 1262 303.1 1263 304.2 1264 305.4 1265 306.5 1266 307.7 1267 308.8 1268 310 1268.8 310.8M1272.2 314.9 1273.2 316.1 1274.2 317.3 1275.2 318.5 1276.2 319.7 1277.2 320.9 1278.2 322.1 1279.2 323.3 1279.8 323.9M1283.2 328.2 1284.2 329.4 1285.2 330.6 1286.2 331.9 1287.2 333.1 1288.2 334.3 1289.2 335.6 1290.2 336.8 1290.8 337.5M1294 341.6 1295 342.8 1296 344.1 1297 345.4 1298 346.7 1299 347.9 1300 349.2 1301 350.5 1301.5 351.2M1304.8 355.4 1305.8 356.7 1306.8 358 1307.8 359.3 1308.8 360.6 1309.8 361.9 1310.8 363.2 1311.8 364.6 1312 364.9" fill="none" stroke="#0000ee" stroke-width="12"/>
<path d="M1612 834.5 1613 834.5 1614 834.5 1615 834.5 1616 834.5 1617 834.5 1618 834.5 1619 834.5 1620 834.5 1621 834.5 1622 834.5 1622 834.5M1626 834.5 1627 834.5 1628 834.5 1629 834.5 1630 834.5 1631 834.5 1632 834.5 1633 834.5 1634 834.5 1635 834.5 1636 834.5 1636 834.5M1640 834.5 1641 834.5 1642 834.5 1643 834.5 1644 834.5 1645 834.5 1646 834.5 1647 834.5 1648 834.5 1649 834.5 1650 834.5 1650 834.5M1654 834.5 1655 834.5 1656 834.5 1657 834.5 1658 834.5 1659 834.5 1660 834.5 1661 834.5 1662 834.5 1663 834.5 1664 834.5 1664 834.5M1668 834.5 1669 834.5 1670 834.5 1671 834.5 1672 834.5 1673 834.5 1674 834.5 1675 834.5 1676 834.5 1677 834.5 1678 834.5 1678 834.5M1682 834.5 1683 834.5 1684 834.5 1685 834.5 1686 834.5 1687 834.5 1688 834.5 1689 834.5 1690 834.5 1691 834.5 1692 834.5 1692 834.5M1696 834.5 1697 834.5 1698 834.5 1699 834.5 1700 834.5 1701 834.5 1702 834.5 1703 834.5 1704 834.5 1705 834.5 1706 834.5 1706 834.5M1710 834.5 1711 834.5 1712 834.5 1713 834.5 1714 834.5 1715 834.5 1716 834.5 1717 834.5 1718 834.5 1719 834.5 1720 834.5 1720 834.5M1724 834.5 1725 834.5 1726 834.5 1727 834.5 1728 834.5 1729 834.5 1730 834.5 1731 834.5 1732 834.5 1733 834.5 1734 834.5 1734 834.5M1738 834.5 1739 834.5 1740 834.5 1741 834.5 1742 834.5 1743 834.5 1744 834.5 1745 834.5 1746 834.5 1747 834.5 1748 834.5 1748 834.5M1752 834.5 1753 834.5 1754 834.5 1755 834.5 1756 834.5 1757 834.5 1758 834.5 1759 834.5 1760 834.5 1761 834.5 1762 834.5 1762 834.5" fill="none" stroke="#0000ee" stroke-width="12.5"/>
<text x="1500.5" y="843.5" font-size="27.7" fill="#0000d0" >Eclipse</text>
<text x="1500" y="884.8" font-size="27.7" >One Minute Average</text>
<text x="1500" y="926.8" font-size="27.7" fill="#00dd00" >One Second Average</text>
<path d="M259.5 975.5H1809.5M259.5 980.5H1809.5M259.5 984.5H1809.5M259.5 987.5H1809.5M259.5 990.5H1809.5M259.5 993.5H1809.5M259.5 995.5H1809.5M259.5 1010.5H1809.5M259.5 1019.5H1809.5M259.5 1026.5H1809.5M259.5 1031.5H1809.5M259.5 1035.5H1809.5M259.5 1038.5H1809.5M259.5 1041.5H1809.5M259.5 1044.5H1809.5M259.5 1046.5H1809.5M259.5 1061.5H1809.5M259.5 1070.5H1809.5M259.5 1077.5H1809.5M259.5 1082.5H1809.5M259.5 1086.5H1809.5M259.5 1089.5H1809.5M259.5 1092.5H1809.5M259.5 1095.5H1809.5M259.5 1097.5H1809.5M259.5 1112.5H1809.5M545.5 969.5V1122.5M726.5 969.5V1122.5M907.5 969.5V1122.5M1087.5 969.5V1122.5M1266.5 969.5V1122.5M1447.5 969.5V1122.5M1628.5 969.5V1122.5" fill="none" stroke="#000" stroke-width="1" stroke-dasharray="1 4" stroke-dashoffset="4.5"/>
<path d="M259.5 975.5H267.5M1801.5 975.5H1809.5M259.5 980.5H267.5M1801.5 980.5H1809.5M259.5 984.5H267.5M1801.5 984.5H1809.5M259.5 987.5H267.5M1801.5 987.5H1809.5M259.5 990.5H267.5M1801.5 990.5H1809.5M259.5 993.5H267.5M1801.5 993.5H1809.5M259.5 995.5H275.5M1793.5 995.5H1809.5M259.5 1010.5H267.5M1801.5 1010.5H1809.5M259.5 1019.5H267.5M1801.5 1019.5H1809.5M259.5 1026.5H267.5M1801.5 1026.5H1809.5M259.5 1031.5H267.5M1801.5 1031.5H1809.5M259.5 1035.5H267.5M1801.5 1035.5H1809.5M259.5 1038.5H267.5M1801.5 1038.5H1809.5M259.5 1041.5H267.5M1801.5 1041.5H1809.5M259.5 1044.5H267.5M1801.5 1044.5H1809.5M259.5 1046.5H275.5M1793.5 1046.5H1809.5M259.5 1061.5H267.5M1801.5 1061.5H1809.5M259.5 1070.5H267.5M1801.5 1070.5H1809.5M259.5 1077.5H267.5M1801.5 1077.5H1809.5M259.5 1082.5H267.5M1801.5 1082.5H1809.5M259.5 1086.5H267.5M1801.5 1086.5H1809.5M259.5 1089.5H267.5M1801.5 1089.5H1809.5M259.5 1092.5H267.5M1801.5 1092.5H1809.5M259.5 1095.5H267.5M1801.5 1095.5H1809.5M259.5 1097.5H275.5M1793.5 1097.5H1809.5M259.5 1112.5H267.5M1801.5 1112.5H1809.5M545.5 1106.5V1122.5M545.5 969.5V985.5M726.5 1106.5V1122.5M726.5 969.5V985.5M1628.5 1106.5V1122.5M1628.5 969.5V985.5" fill="none" stroke="#000" stroke-width="1"/>
<rect x="819" y="970" width="640" height="151" fill="#0000bf"/>
<path fill="#00007f" d="M1038 970h1v2h-1M1028 970h2v4h-2M1033 970h5v4h-5M1087 970h3v4h-3M1143 970h4v4h-4M1079 970h4v8h-4M1155 970h3v8h-3M1099 970h2v12h-2M1090 971h1v3h-1M1158 971h1v7h-1M1038 973h1v1h-1M1059 974h4v8h-4M1001 978h2v4h-2M1159 978h4v4h-4"/><path fill="#00009f" d="M835 970h1v1h-1M914 970h1v1h-1M1022 970h1v1h-1M1056 970h1v1h-1M1164 970h1v1h-1M1207 970h1v1h-1M1213 970h1v1h-1M1216 970h1v1h-1M1228 970h2v1h-2M1273 970h1v1h-1M1331 970h1v1h-1M1343 970h1v1h-1M1355 970h1v1h-1M968 970h1v2h-1M1000 970h1v2h-1M1101 970h1v2h-1M1215 970h1v2h-1M1277 970h1v2h-1M1341 970h1v2h-1M1431 970h1v2h-1M1452 970h1v2h-1M838 970h1v3h-1M866 970h1v3h-1M1004 970h1v3h-1M1184 970h1v3h-1M1281 970h1v3h-1M1339 970h1v3h-1M1346 970h1v3h-1M1388 970h1v3h-1M1390 970h1v3h-1M1408 970h1v3h-1M1439 970h1v3h-1M836 970h2v4h-2M846 970h1v4h-1M863 970h3v4h-3M923 970h4v4h-4M1059 970h4v4h-4M1138 970h1v4h-1M1175 970h4v4h-4M1187 970h4v4h-4M1195 970h1v4h-1M1199 970h4v4h-4M1234 970h5v4h-5M1323 970h1v4h-1M1325 970h1v4h-1M1333 970h1v4h-1M1351 970h4v4h-4M1356 970h5v4h-5M1362 970h1v4h-1M1364 970h1v4h-1M1371 970h2v4h-2M1374 970h1v4h-1M1423 970h4v4h-4M1432 970h3v4h-3M893 970h1v5h-1M973 970h1v5h-1M1055 970h1v5h-1M1104 970h1v5h-1M1272 970h1v5h-1M1315 970h1v5h-1M1397 970h1v5h-1M945 970h1v6h-1M1208 970h1v6h-1M1211 970h1v6h-1M1282 970h1v6h-1M850 970h1v7h-1M856 970h1v7h-1M981 970h1v7h-1M1095 970h1v7h-1M1136 970h1v7h-1M1375 970h1v7h-1M1427 970h1v7h-1M839 970h4v8h-4M845 970h1v8h-1M851 970h4v8h-4M869 970h1v8h-1M874 970h1v8h-1M891 970h1v8h-1M895 970h4v8h-4M918 970h1v8h-1M935 970h1v8h-1M937 970h2v8h-2M959 970h4v8h-4M979 970h2v8h-2M982 970h1v8h-1M1001 970h2v8h-2M1065 970h1v8h-1M1159 970h4v8h-4M1174 970h1v8h-1M1209 970h2v8h-2M1227 970h1v8h-1M1230 970h1v8h-1M1243 970h4v8h-4M1259 970h4v8h-4M1275 970h1v8h-1M1278 970h1v8h-1M1320 970h3v8h-3M1340 970h1v8h-1M1342 970h1v8h-1M1395 970h2v8h-2M1398 970h1v8h-1M1405 970h1v8h-1M1418 970h1v8h-1M1440 970h3v8h-3M1197 970h1v9h-1M1415 970h1v9h-1M1417 970h1v9h-1M1437 970h1v9h-1M883 970h1v10h-1M909 970h1v10h-1M963 970h1v10h-1M966 970h1v10h-1M1196 970h1v10h-1M1233 970h1v10h-1M1248 970h1v10h-1M1366 970h1v10h-1M1428 970h1v10h-1M827 970h1v11h-1M873 970h1v11h-1M920 970h1v11h-1M1166 970h1v11h-1M1410 970h1v11h-1M819 970h4v12h-4M828 970h3v12h-3M843 970h2v12h-2M847 970h3v12h-3M855 970h1v12h-1M857 970h6v12h-6M867 970h2v12h-2M870 970h3v12h-3M879 970h4v12h-4M885 970h3v12h-3M890 970h1v12h-1M899 970h10v12h-10M910 970h4v12h-4M915 970h3v12h-3M922 970h1v12h-1M940 970h5v12h-5M946 970h13v12h-13M964 970h2v12h-2M967 970h1v12h-1M969 970h3v12h-3M974 970h1v12h-1M983 970h4v12h-4M995 970h1v12h-1M1007 970h4v12h-4M1031 970h2v12h-2M1039 970h4v12h-4M1067 970h4v12h-4M1083 970h4v12h-4M1091 970h4v12h-4M1102 970h1v12h-1M1111 970h4v12h-4M1117 970h1v12h-1M1147 970h4v12h-4M1163 970h1v12h-1M1165 970h1v12h-1M1171 970h1v12h-1M1173 970h1v12h-1M1183 970h1v12h-1M1185 970h2v12h-2M1198 970h1v12h-1M1212 970h1v12h-1M1214 970h1v12h-1M1217 970h1v12h-1M1231 970h2v12h-2M1247 970h1v12h-1M1249 970h2v12h-2M1268 970h4v12h-4M1274 970h1v12h-1M1280 970h1v12h-1M1316 970h3v12h-3M1327 970h4v12h-4M1332 970h1v12h-1M1334 970h1v12h-1M1344 970h2v12h-2M1363 970h1v12h-1M1365 970h1v12h-1M1376 970h1v12h-1M1378 970h1v12h-1M1387 970h1v12h-1M1389 970h1v12h-1M1403 970h2v12h-2M1406 970h2v12h-2M1409 970h1v12h-1M1416 970h1v12h-1M1429 970h2v12h-2M1435 970h2v12h-2M1438 970h1v12h-1M1443 970h9v12h-9M1453 970h1v12h-1M1106 970h1v13h-1M1152 970h1v13h-1M939 970h1v14h-1M1151 970h1v15h-1M884 970h1v16h-1M888 970h2v16h-2M919 970h1v16h-1M972 970h1v16h-1M996 970h4v16h-4M1019 970h3v16h-3M1043 970h4v16h-4M1057 970h2v16h-2M1096 970h3v16h-3M1123 970h4v16h-4M1218 970h1v16h-1M1377 970h1v16h-1M1122 970h1v17h-1M1134 970h1v17h-1M1140 970h1v17h-1M1072 970h1v18h-1M892 970h1v19h-1M894 970h1v20h-1M1027 970h1v20h-1M1030 970h1v20h-1M1103 970h1v20h-1M1105 970h1v20h-1M1107 970h4v20h-4M1135 970h1v20h-1M1137 970h1v20h-1M1153 970h2v20h-2M1052 970h1v22h-1M1132 970h1v22h-1M1015 970h4v24h-4M1063 970h2v24h-2M1066 970h1v24h-1M1075 970h4v24h-4M1115 970h2v24h-2M1118 970h4v24h-4M1014 970h1v28h-1M1023 970h4v28h-4M1051 970h1v28h-1M1053 970h2v28h-2M1071 970h1v28h-1M1073 970h2v28h-2M1129 970h1v28h-1M1139 970h1v28h-1M1141 970h2v28h-2M1005 970h1v31h-1M1133 970h1v32h-1M1011 970h1v34h-1M1127 970h1v34h-1M1012 970h2v36h-2M1047 970h2v36h-2M1003 970h1v40h-1M1006 970h1v40h-1M1131 970h1v40h-1M1128 970h1v44h-1M1130 970h1v44h-1M1276 971h1v3h-1M1324 971h1v3h-1M1326 971h1v3h-1M1361 971h1v3h-1M1373 971h1v3h-1M936 971h1v5h-1M1267 971h1v5h-1M1319 971h1v7h-1M921 971h1v11h-1M1172 971h1v11h-1M1279 971h1v11h-1M1454 971h1v11h-1M1049 971h2v35h-2M1343 972h1v1h-1M835 972h1v2h-1M1355 972h1v2h-1M1207 972h1v6h-1M1228 972h2v6h-2M914 972h1v10h-1M1164 972h1v10h-1M1213 972h1v10h-1M1216 972h1v10h-1M1273 972h1v10h-1M1331 972h1v10h-1M1022 972h1v14h-1M1056 972h1v14h-1M1431 973h1v1h-1M1277 973h1v5h-1M1341 973h1v5h-1M968 973h1v9h-1M1101 973h1v9h-1M1215 973h1v9h-1M1000 973h1v25h-1M1303 974h1v1h-1M1391 974h1v1h-1M1412 974h1v1h-1M1455 974h1v1h-1M932 974h1v2h-1M1194 974h1v2h-1M1338 974h1v2h-1M978 974h1v3h-1M1170 974h1v3h-1M1288 974h1v3h-1M1302 974h1v3h-1M823 974h4v4h-4M975 974h1v4h-1M1168 974h1v4h-1M1179 974h2v4h-2M1182 974h1v4h-1M1191 974h3v4h-3M1314 974h1v4h-1M1339 974h1v4h-1M1367 974h4v4h-4M1392 974h3v4h-3M1439 974h1v4h-1M1456 974h3v4h-3M976 974h1v5h-1M1313 974h1v5h-1M1034 974h1v6h-1M1292 974h1v6h-1M928 974h1v7h-1M1411 974h1v7h-1M831 974h1v8h-1M875 974h4v8h-4M927 974h1v8h-1M929 974h3v8h-3M933 974h2v8h-2M977 974h1v8h-1M988 974h2v8h-2M991 974h4v8h-4M1033 974h1v8h-1M1087 974h4v8h-4M1167 974h1v8h-1M1169 974h1v8h-1M1184 974h1v8h-1M1239 974h4v8h-4M1251 974h4v8h-4M1281 974h1v8h-1M1287 974h1v8h-1M1289 974h1v8h-1M1294 974h8v8h-8M1304 974h5v8h-5M1310 974h3v8h-3M1335 974h3v8h-3M1343 974h1v8h-1M1346 974h5v8h-5M1388 974h1v8h-1M1390 974h1v8h-1M1400 974h1v8h-1M1402 974h1v8h-1M1408 974h1v8h-1M1413 974h2v8h-2M1452 974h1v8h-1M987 974h1v12h-1M990 974h1v12h-1M1143 974h4v12h-4M1290 974h2v12h-2M1293 974h1v12h-1M832 974h3v16h-3M1028 974h2v16h-2M1036 974h1v18h-1M1037 974h1v25h-1M1004 974h1v30h-1M1035 974h1v44h-1M1038 974h1v44h-1M1195 975h1v1h-1M1181 975h1v3h-1M1234 975h1v3h-1M1276 975h1v3h-1M1401 975h1v6h-1M846 975h1v7h-1M1309 975h1v7h-1M1333 975h1v7h-1M1364 975h1v7h-1M1399 975h1v7h-1M1138 975h1v15h-1M1391 976h1v2h-1M1397 976h1v2h-1M1455 976h1v2h-1M893 976h1v6h-1M1272 976h1v6h-1M1303 976h1v6h-1M1315 976h1v6h-1M1412 976h1v6h-1M973 976h1v10h-1M1055 976h1v10h-1M936 977h1v1h-1M1194 977h1v1h-1M1208 977h1v1h-1M932 977h1v5h-1M945 977h1v5h-1M1195 977h1v5h-1M1211 977h1v5h-1M1267 977h1v5h-1M1282 977h1v5h-1M1338 977h1v5h-1M1104 977h1v13h-1M1176 978h1v1h-1M1202 978h1v1h-1M1220 978h1v1h-1M1302 978h1v1h-1M1386 978h1v1h-1M1384 978h1v2h-1M1423 978h1v2h-1M1263 978h1v3h-1M1359 978h1v3h-1M850 978h1v4h-1M856 978h1v4h-1M863 978h4v4h-4M978 978h1v4h-1M1170 978h1v4h-1M1175 978h1v4h-1M1177 978h2v4h-2M1187 978h4v4h-4M1199 978h3v4h-3M1204 978h2v4h-2M1219 978h1v4h-1M1221 978h2v4h-2M1235 978h4v4h-4M1255 978h1v4h-1M1257 978h2v4h-2M1264 978h2v4h-2M1283 978h4v4h-4M1288 978h1v4h-1M1351 978h4v4h-4M1360 978h3v4h-3M1371 978h3v4h-3M1375 978h1v4h-1M1379 978h5v4h-5M1385 978h1v4h-1M1424 978h1v4h-1M1427 978h1v4h-1M1431 978h4v4h-4M1079 978h1v5h-1M1374 978h1v5h-1M1266 978h1v6h-1M1080 978h1v7h-1M1081 978h2v8h-2M1095 978h1v8h-1M1155 978h4v8h-4M1203 978h1v8h-1M1206 978h1v8h-1M1425 978h2v8h-2M1136 978h1v12h-1M1405 979h1v2h-1M845 979h1v3h-1M869 979h1v3h-1M874 979h1v3h-1M891 979h1v3h-1M918 979h1v3h-1M1168 979h1v3h-1M1174 979h1v3h-1M1234 979h1v3h-1M1256 979h1v3h-1M1314 979h1v3h-1M1418 979h1v3h-1M1065 979h1v15h-1M975 980h2v2h-2M1176 980h1v2h-1M1202 980h1v2h-1M1302 980h1v2h-1M1313 980h1v2h-1M1386 980h1v2h-1M1417 980h1v2h-1M1437 980h1v2h-1M1197 980h1v14h-1M1415 980h1v14h-1M909 981h1v1h-1M963 981h1v1h-1M966 981h1v1h-1M1034 981h1v1h-1M1196 981h1v1h-1M1220 981h1v1h-1M1233 981h1v1h-1M1248 981h1v1h-1M1292 981h1v1h-1M1366 981h1v1h-1M1384 981h1v1h-1M1423 981h1v1h-1M1428 981h1v1h-1M883 981h1v5h-1M1161 982h1v2h-1M823 982h2v4h-2M826 982h1v4h-1M835 982h4v4h-4M1224 982h1v4h-1M1323 982h1v4h-1M1367 982h2v4h-2M827 982h1v8h-1M839 982h4v8h-4M924 982h2v8h-2M960 982h3v8h-3M1059 982h4v8h-4M1166 982h1v8h-1M1326 982h1v8h-1M1002 982h1v10h-1M923 982h1v16h-1M1001 982h1v16h-1M1160 982h1v27h-1M1159 982h1v31h-1M1162 982h1v32h-1M825 983h1v3h-1M1117 983h1v11h-1M1079 984h1v2h-1M1106 984h1v6h-1M1152 984h1v6h-1M1266 985h1v1h-1M1374 985h1v1h-1M939 985h1v9h-1M1161 985h1v29h-1M978 986h1v1h-1M1149 986h1v2h-1M910 986h1v3h-1M985 986h1v3h-1M1147 986h1v3h-1M819 986h1v4h-1M821 986h2v4h-2M843 986h2v4h-2M847 986h1v4h-1M869 986h2v4h-2M895 986h2v4h-2M918 986h1v4h-1M932 986h3v4h-3M955 986h2v4h-2M976 986h2v4h-2M984 986h1v4h-1M986 986h1v4h-1M1067 986h3v4h-3M1083 986h6v4h-6M1090 986h5v4h-5M1111 986h1v4h-1M1113 986h2v4h-2M1151 986h1v4h-1M1229 986h1v4h-1M1296 986h3v4h-3M1390 986h1v4h-1M1420 986h1v4h-1M963 986h1v8h-1M1007 986h4v8h-4M1031 986h4v8h-4M1099 986h4v8h-4M1220 986h1v8h-1M1148 986h1v12h-1M1150 986h1v12h-1M1070 987h1v3h-1M1089 987h1v3h-1M1112 987h1v3h-1M1266 987h1v3h-1M1323 987h1v3h-1M978 988h1v2h-1M1122 988h1v6h-1M1140 988h1v10h-1M1134 988h1v22h-1M1072 989h1v9h-1M1149 989h1v9h-1M1082 990h1v1h-1M1367 990h2v1h-2M1096 990h1v2h-1M1125 990h1v3h-1M900 990h2v4h-2M930 990h1v4h-1M999 990h1v4h-1M1039 990h4v4h-4M1080 990h1v4h-1M1203 990h1v4h-1M1206 990h1v4h-1M1273 990h2v4h-2M1313 990h1v4h-1M1374 990h1v4h-1M1458 990h1v4h-1M1187 990h1v7h-1M1284 990h1v7h-1M883 990h1v8h-1M892 990h1v8h-1M987 990h1v8h-1M990 990h1v8h-1M1043 990h4v8h-4M1079 990h1v8h-1M1081 990h1v8h-1M1147 990h1v8h-1M1451 990h1v8h-1M1453 990h1v8h-1M1126 990h1v10h-1M1145 990h1v11h-1M911 990h1v12h-1M1019 990h4v12h-4M1055 990h4v12h-4M1123 990h2v12h-2M1143 990h2v12h-2M1146 990h1v12h-1M1157 990h1v14h-1M1156 990h1v23h-1M1158 990h1v23h-1M1098 990h1v25h-1M1095 990h1v28h-1M1097 990h1v28h-1M1155 990h1v34h-1M823 991h5v3h-5M864 991h1v3h-1M881 991h1v3h-1M899 991h1v3h-1M906 991h1v3h-1M884 991h1v7h-1M894 991h3v7h-3M924 991h2v7h-2M914 991h1v11h-1M1082 992h1v6h-1M1367 992h2v6h-2M913 992h1v10h-1M1002 993h1v5h-1M1052 993h1v5h-1M1132 993h1v13h-1M1036 993h1v25h-1M1096 993h1v25h-1M960 994h1v2h-1M1224 994h1v2h-1M1266 994h1v2h-1M1090 994h1v3h-1M1151 994h1v3h-1M1326 994h1v3h-1M856 994h2v4h-2M888 994h2v4h-2M972 994h2v4h-2M1068 994h1v4h-1M1083 994h4v4h-4M1103 994h4v4h-4M1236 994h1v4h-1M1323 994h1v4h-1M1087 994h1v6h-1M1110 994h1v6h-1M860 994h2v8h-2M910 994h1v8h-1M918 994h1v8h-1M955 994h2v8h-2M991 994h1v8h-1M1059 994h4v8h-4M1107 994h3v8h-3M1125 994h1v8h-1M1152 994h3v8h-3M961 994h2v12h-2M1089 994h1v12h-1M1111 994h4v12h-4M822 994h1v13h-1M1138 994h1v13h-1M819 994h1v16h-1M821 994h1v16h-1M869 994h2v16h-2M944 994h3v16h-3M1135 994h2v19h-2M1425 994h2v19h-2M1067 994h1v20h-1M1137 994h1v20h-1M1069 994h1v29h-1M881 995h1v3h-1M1080 995h1v3h-1M1171 995h1v3h-1M1070 995h1v5h-1M1088 995h1v11h-1M1224 997h1v1h-1M1266 997h1v1h-1M960 997h1v9h-1M1078 998h1v1h-1M1119 998h1v1h-1M933 998h1v3h-1M1374 998h1v3h-1M1391 998h1v3h-1M827 998h1v4h-1M832 998h11v4h-11M906 998h1v4h-1M930 998h1v4h-1M935 998h1v4h-1M938 998h2v4h-2M947 998h3v4h-3M1027 998h4v4h-4M1039 998h4v4h-4M1120 998h3v4h-3M1151 998h1v4h-1M1296 998h2v4h-2M1420 998h1v4h-1M1458 998h1v4h-1M934 998h1v7h-1M847 998h1v8h-1M1090 998h1v8h-1M825 998h1v11h-1M843 998h2v12h-2M1099 998h4v12h-4M823 998h1v15h-1M824 998h1v16h-1M826 998h1v16h-1M932 998h1v16h-1M1076 998h1v16h-1M1075 998h1v22h-1M1077 998h1v28h-1M1224 999h1v2h-1M1220 999h1v3h-1M1298 999h1v3h-1M1014 999h1v7h-1M1129 999h1v14h-1M1068 999h1v43h-1M1119 1000h1v2h-1M1037 1000h1v3h-1M1078 1000h1v14h-1M1110 1001h1v1h-1M1126 1001h1v1h-1M1087 1001h1v2h-1M1070 1001h1v4h-1M1191 1002h1v2h-1M1356 1002h1v2h-1M1044 1002h1v3h-1M1103 1002h1v3h-1M1323 1002h1v3h-1M851 1002h1v4h-1M864 1002h1v4h-1M881 1002h1v4h-1M892 1002h1v4h-1M894 1002h1v4h-1M919 1002h1v4h-1M963 1002h1v4h-1M996 1002h2v4h-2M999 1002h4v4h-4M1023 1002h4v4h-4M1031 1002h4v4h-4M1043 1002h1v4h-1M1045 1002h2v4h-2M1051 1002h4v4h-4M1139 1002h4v4h-4M1197 1002h1v4h-1M1236 1002h1v4h-1M1260 1002h1v4h-1M1326 1002h1v4h-1M1358 1002h1v4h-1M1451 1002h1v4h-1M1453 1002h1v4h-1M1093 1002h1v5h-1M1166 1002h1v6h-1M899 1002h1v7h-1M1150 1002h1v7h-1M856 1002h2v8h-2M1005 1002h1v8h-1M1079 1002h4v8h-4M1115 1002h4v8h-4M933 1002h1v9h-1M1105 1002h1v11h-1M1147 1002h3v11h-3M900 1002h2v12h-2M1091 1002h2v12h-2M1094 1002h1v12h-1M1104 1002h1v23h-1M1015 1002h4v28h-4M1106 1002h1v28h-1M984 1002h3v32h-3M1133 1003h1v1h-1M998 1003h1v3h-1M1346 1003h1v3h-1M1087 1004h1v2h-1M1037 1004h1v14h-1M1011 1005h1v1h-1M1191 1005h1v1h-1M1004 1005h1v5h-1M1133 1005h1v5h-1M1127 1005h1v8h-1M1157 1005h1v8h-1M841 1006h1v1h-1M1103 1006h1v1h-1M1040 1006h1v2h-1M1065 1006h1v2h-1M1028 1006h1v3h-1M1064 1006h1v3h-1M1072 1006h1v3h-1M1086 1006h1v3h-1M1273 1006h1v3h-1M835 1006h4v4h-4M888 1006h2v4h-2M930 1006h1v4h-1M935 1006h1v4h-1M938 1006h1v4h-1M947 1006h3v4h-3M991 1006h1v4h-1M1019 1006h4v4h-4M1063 1006h1v4h-1M1066 1006h1v4h-1M1074 1006h1v4h-1M1151 1006h4v4h-4M1179 1006h1v4h-1M1187 1006h1v4h-1M1218 1006h1v4h-1M1284 1006h1v4h-1M1291 1006h1v4h-1M1293 1006h1v4h-1M1420 1006h1v4h-1M1274 1006h1v6h-1M1085 1006h1v7h-1M1119 1006h8v7h-8M1143 1006h3v7h-3M839 1006h2v8h-2M842 1006h1v8h-1M934 1006h1v8h-1M1027 1006h1v8h-1M1029 1006h2v8h-2M1039 1006h1v8h-1M1041 1006h2v8h-2M1071 1006h1v8h-1M1073 1006h1v8h-1M1083 1006h2v8h-2M1146 1006h1v8h-1M1290 1006h1v8h-1M1070 1006h1v13h-1M1132 1007h1v3h-1M822 1008h1v1h-1M827 1008h1v2h-1M1138 1008h1v5h-1M841 1008h1v6h-1M1093 1008h1v6h-1M1065 1009h1v1h-1M1166 1009h1v1h-1M1040 1009h1v5h-1M1103 1009h1v8h-1M910 1010h1v1h-1M1197 1010h1v1h-1M1346 1010h1v1h-1M881 1010h1v2h-1M962 1010h1v2h-1M1140 1010h1v2h-1M955 1010h1v3h-1M1107 1010h4v3h-4M1139 1010h1v3h-1M1141 1010h2v3h-2M1150 1010h1v3h-1M1160 1010h1v3h-1M1256 1010h1v3h-1M1391 1010h1v3h-1M1451 1010h1v3h-1M1453 1010h1v3h-1M825 1010h1v4h-1M851 1010h1v4h-1M883 1010h2v4h-2M899 1010h1v4h-1M960 1010h2v4h-2M976 1010h3v4h-3M1009 1010h1v4h-1M1028 1010h1v4h-1M1031 1010h4v4h-4M1047 1010h4v4h-4M1055 1010h8v4h-8M1072 1010h1v4h-1M1086 1010h1v4h-1M1251 1010h1v4h-1M1254 1010h1v4h-1M1260 1010h1v4h-1M1313 1010h1v4h-1M1367 1010h2v4h-2M1377 1010h1v4h-1M911 1010h1v5h-1M1011 1010h1v5h-1M1089 1010h1v6h-1M1200 1010h1v6h-1M1273 1010h1v6h-1M1023 1010h4v8h-4M1051 1010h1v8h-1M1087 1010h2v8h-2M1090 1010h1v8h-1M1220 1010h1v8h-1M956 1010h1v12h-1M1012 1010h1v12h-1M1013 1010h1v14h-1M913 1010h2v16h-2M1008 1010h1v16h-1M1054 1010h1v17h-1M1007 1010h1v19h-1M1052 1010h2v20h-2M1014 1010h1v23h-1M1010 1010h1v24h-1M998 1010h1v26h-1M996 1010h2v28h-2M1074 1011h1v2h-1M910 1012h1v2h-1M933 1012h1v2h-1M1197 1012h1v2h-1M1346 1012h1v2h-1M1202 1012h1v6h-1M881 1013h1v1h-1M962 1013h1v1h-1M1274 1013h1v2h-1M861 1014h1v1h-1M1117 1014h1v1h-1M1154 1014h1v1h-1M1284 1014h1v1h-1M1374 1014h1v1h-1M1451 1014h1v1h-1M1139 1014h1v2h-1M1142 1014h1v2h-1M1296 1014h1v2h-1M945 1014h1v3h-1M972 1014h1v3h-1M1002 1014h1v3h-1M1151 1014h1v3h-1M1191 1014h1v3h-1M1425 1014h2v3h-2M869 1014h1v4h-1M892 1014h1v4h-1M894 1014h3v4h-3M973 1014h1v4h-1M987 1014h1v4h-1M990 1014h1v4h-1M999 1014h1v4h-1M1043 1014h2v4h-2M1046 1014h1v4h-1M1063 1014h4v4h-4M1100 1014h1v4h-1M1115 1014h2v4h-2M1118 1014h1v4h-1M1124 1014h2v4h-2M1140 1014h2v4h-2M1171 1014h1v4h-1M1298 1014h1v4h-1M1323 1014h1v4h-1M1453 1014h1v4h-1M864 1014h1v5h-1M1101 1014h1v5h-1M1224 1014h1v5h-1M835 1014h1v7h-1M955 1014h1v7h-1M1206 1014h1v7h-1M832 1014h3v8h-3M906 1014h1v8h-1M944 1014h1v8h-1M946 1014h1v8h-1M1003 1014h4v8h-4M1152 1014h2v8h-2M1229 1014h1v8h-1M1079 1014h1v9h-1M827 1014h1v11h-1M836 1014h1v11h-1M838 1014h1v11h-1M870 1014h1v12h-1M918 1014h1v12h-1M1000 1014h2v12h-2M1080 1014h3v12h-3M1107 1014h4v12h-4M1119 1014h1v12h-1M1143 1014h3v12h-3M1156 1014h2v12h-2M1218 1014h1v12h-1M1099 1014h1v13h-1M1122 1014h1v15h-1M837 1014h1v16h-1M860 1014h1v16h-1M1105 1014h1v16h-1M1120 1014h2v16h-2M1203 1014h1v16h-1M1102 1014h1v20h-1M1045 1015h1v1h-1M1076 1015h1v1h-1M1297 1015h1v1h-1M1158 1015h1v2h-1M1123 1015h1v3h-1M1126 1015h1v3h-1M1326 1015h1v3h-1M1260 1015h1v9h-1M1078 1015h1v11h-1M1146 1015h1v11h-1M1009 1015h1v13h-1M1067 1015h1v13h-1M1374 1016h1v1h-1M1451 1016h1v1h-1M1098 1016h1v2h-1M1117 1016h1v2h-1M1284 1016h1v2h-1M861 1016h1v4h-1M1154 1016h1v6h-1M911 1016h1v10h-1M1011 1016h1v22h-1M1045 1017h1v1h-1M1089 1017h1v1h-1M1139 1017h1v1h-1M1142 1017h1v1h-1M1200 1017h1v1h-1M1273 1017h2v1h-2M1296 1017h2v1h-2M1076 1017h1v9h-1M825 1018h1v1h-1M1040 1018h1v1h-1M1130 1018h1v1h-1M1134 1018h1v1h-1M1266 1018h1v1h-1M1293 1018h1v1h-1M1458 1018h1v1h-1M932 1018h1v2h-1M991 1018h1v2h-1M1032 1018h1v2h-1M1057 1018h1v2h-1M1291 1018h1v2h-1M1368 1018h1v2h-1M1420 1018h1v2h-1M856 1018h1v3h-1M1033 1018h2v3h-2M1137 1018h1v3h-1M847 1018h1v4h-1M857 1018h1v4h-1M883 1018h2v4h-2M910 1018h1v4h-1M933 1018h3v4h-3M938 1018h2v4h-2M945 1018h1v4h-1M1056 1018h1v4h-1M1059 1018h4v4h-4M1083 1018h4v4h-4M1135 1018h1v4h-1M1151 1018h1v4h-1M1159 1018h4v4h-4M1197 1018h1v4h-1M1236 1018h1v4h-1M1367 1018h1v4h-1M1390 1018h1v4h-1M823 1018h1v5h-1M1031 1018h1v5h-1M819 1018h1v8h-1M821 1018h2v8h-2M824 1018h1v8h-1M826 1018h1v8h-1M843 1018h2v8h-2M923 1018h3v8h-3M963 1018h1v8h-1M1002 1018h1v8h-1M1055 1018h1v8h-1M1058 1018h1v8h-1M1127 1018h1v8h-1M1129 1018h1v8h-1M1133 1018h1v8h-1M1136 1018h1v8h-1M1138 1018h1v8h-1M1158 1018h1v8h-1M1042 1018h1v10h-1M1148 1018h1v11h-1M1131 1018h2v12h-2M1147 1018h1v12h-1M1149 1018h2v12h-2M881 1018h1v16h-1M899 1018h3v16h-3M947 1018h3v16h-3M1103 1018h1v19h-1M1039 1018h1v28h-1M1041 1018h1v28h-1M1391 1019h1v3h-1M869 1019h1v7h-1M1128 1019h1v7h-1M1051 1019h1v11h-1M1100 1019h1v12h-1M1040 1020h1v1h-1M1130 1020h1v1h-1M864 1020h1v2h-1M1224 1020h1v2h-1M1266 1020h1v5h-1M825 1020h1v6h-1M1293 1020h1v6h-1M1458 1020h1v6h-1M1134 1020h1v7h-1M1070 1020h1v12h-1M1101 1020h1v12h-1M932 1021h1v1h-1M1368 1021h1v1h-1M1420 1021h1v1h-1M1057 1021h1v5h-1M1075 1021h1v5h-1M1291 1021h1v5h-1M861 1021h1v9h-1M1032 1021h1v9h-1M991 1021h1v17h-1M1141 1022h1v1h-1M1191 1022h1v1h-1M1206 1022h1v1h-1M1044 1022h1v2h-1M1072 1022h1v2h-1M1074 1022h1v2h-1M1033 1022h1v3h-1M1066 1022h1v3h-1M1200 1022h1v3h-1M892 1022h1v4h-1M894 1022h1v4h-1M999 1022h1v4h-1M1045 1022h1v4h-1M1071 1022h1v4h-1M1073 1022h1v4h-1M1095 1022h1v4h-1M1097 1022h2v4h-2M1137 1022h1v4h-1M1139 1022h2v4h-2M1142 1022h1v4h-1M1166 1022h1v4h-1M1202 1022h1v4h-1M1284 1022h1v4h-1M1374 1022h1v4h-1M1451 1022h1v4h-1M1453 1022h1v4h-1M1021 1022h1v5h-1M1048 1022h1v5h-1M895 1022h1v6h-1M1346 1022h1v6h-1M841 1022h1v7h-1M1024 1022h1v7h-1M1088 1022h1v7h-1M835 1022h1v8h-1M896 1022h1v8h-1M1019 1022h1v8h-1M1023 1022h1v8h-1M1025 1022h1v8h-1M1034 1022h1v8h-1M1046 1022h1v8h-1M1050 1022h1v8h-1M1087 1022h1v8h-1M1091 1022h1v8h-1M1094 1022h1v8h-1M1123 1022h2v8h-2M1029 1022h1v9h-1M1090 1022h1v10h-1M851 1022h1v12h-1M960 1022h2v12h-2M1020 1022h1v12h-1M1022 1022h1v12h-1M1027 1022h2v12h-2M1030 1022h1v12h-1M1063 1022h3v12h-3M1125 1022h1v14h-1M1047 1022h1v16h-1M1049 1022h1v16h-1M1089 1022h1v16h-1M1093 1022h1v16h-1M1040 1022h1v23h-1M842 1022h1v25h-1M839 1022h2v28h-2M1043 1022h1v28h-1M1092 1022h1v28h-1M1126 1022h1v36h-1M919 1023h1v3h-1M1056 1023h1v3h-1M1096 1023h1v3h-1M1130 1023h1v3h-1M1135 1023h1v3h-1M939 1023h1v7h-1M962 1023h1v7h-1M1026 1023h1v7h-1M1012 1023h1v15h-1M1206 1024h1v1h-1M1220 1024h1v1h-1M823 1024h1v2h-1M1079 1024h1v2h-1M1141 1024h1v2h-1M1191 1024h1v2h-1M1069 1024h1v4h-1M1031 1024h1v6h-1M1072 1025h1v1h-1M1074 1025h1v1h-1M1155 1025h1v1h-1M1044 1025h1v7h-1M1013 1025h1v12h-1M1004 1026h1v1h-1M1006 1026h1v1h-1M1229 1026h1v1h-1M1367 1026h1v1h-1M883 1026h1v2h-1M1005 1026h1v2h-1M1036 1026h1v2h-1M1061 1026h1v2h-1M1060 1026h1v3h-1M1153 1026h1v3h-1M1187 1026h1v3h-1M1420 1026h1v3h-1M832 1026h3v4h-3M836 1026h1v4h-1M884 1026h1v4h-1M888 1026h2v4h-2M972 1026h2v4h-2M1003 1026h1v4h-1M1033 1026h1v4h-1M1083 1026h1v4h-1M1111 1026h3v4h-3M1151 1026h1v4h-1M1154 1026h1v4h-1M1159 1026h1v4h-1M1206 1026h1v4h-1M1377 1026h1v4h-1M938 1026h1v5h-1M1038 1026h1v5h-1M1162 1026h1v5h-1M1037 1026h1v6h-1M1368 1026h1v6h-1M1425 1026h1v6h-1M1066 1026h1v7h-1M944 1026h3v8h-3M1086 1026h1v8h-1M1104 1026h1v8h-1M1152 1026h1v8h-1M1084 1026h1v9h-1M987 1026h1v12h-1M990 1026h1v12h-1M1059 1026h1v12h-1M1062 1026h1v12h-1M1160 1026h2v12h-2M1251 1026h1v12h-1M1114 1026h1v15h-1M1254 1026h1v15h-1M1085 1026h1v16h-1M1035 1026h1v22h-1M838 1027h1v3h-1M1119 1027h1v3h-1M1133 1027h1v3h-1M1426 1027h1v4h-1M1045 1027h1v5h-1M1008 1027h1v7h-1M935 1027h1v11h-1M1054 1028h1v1h-1M1004 1028h1v2h-1M1006 1028h1v2h-1M1021 1028h1v2h-1M1134 1028h1v2h-1M1229 1028h1v3h-1M1099 1028h1v5h-1M1367 1028h1v6h-1M1048 1028h1v10h-1M883 1029h1v1h-1M895 1029h1v1h-1M1005 1029h1v1h-1M1069 1029h1v1h-1M1346 1029h1v1h-1M1061 1029h1v5h-1M1067 1029h1v7h-1M1036 1029h1v17h-1M1042 1029h1v17h-1M1056 1030h1v1h-1M1073 1030h1v1h-1M1081 1030h1v1h-1M1224 1030h1v1h-1M1000 1030h1v2h-1M932 1030h1v3h-1M977 1030h1v3h-1M1002 1030h1v3h-1M1055 1030h1v3h-1M1072 1030h1v3h-1M1117 1030h2v3h-2M1256 1030h1v3h-1M1296 1030h1v3h-1M823 1030h4v4h-4M864 1030h1v4h-1M918 1030h2v4h-2M933 1030h2v4h-2M955 1030h2v4h-2M978 1030h1v4h-1M1007 1030h1v4h-1M1009 1030h1v4h-1M1057 1030h2v4h-2M1079 1030h2v4h-2M1082 1030h1v4h-1M1095 1030h1v4h-1M1097 1030h1v4h-1M1171 1030h1v4h-1M1218 1030h1v4h-1M1236 1030h1v4h-1M1260 1030h1v4h-1M1291 1030h1v4h-1M1293 1030h1v4h-1M1297 1030h2v4h-2M1415 1030h1v4h-1M1088 1030h1v6h-1M827 1030h1v8h-1M910 1030h1v8h-1M1060 1030h1v8h-1M1098 1030h1v10h-1M976 1030h1v12h-1M1071 1030h1v15h-1M1129 1030h1v16h-1M1115 1030h1v17h-1M841 1030h1v20h-1M1001 1030h1v24h-1M1096 1030h1v37h-1M1106 1031h1v1h-1M1112 1031h1v1h-1M1132 1031h1v1h-1M1157 1031h1v1h-1M1113 1031h1v2h-1M962 1031h1v3h-1M1019 1031h1v3h-1M1021 1031h1v3h-1M1131 1031h1v3h-1M1133 1031h2v3h-2M1140 1031h1v3h-1M1151 1031h1v3h-1M1154 1031h3v3h-3M1158 1031h1v3h-1M1141 1031h1v4h-1M1083 1031h1v5h-1M1050 1031h1v6h-1M1087 1031h1v7h-1M1105 1031h1v7h-1M1130 1031h1v7h-1M1135 1031h2v7h-2M1138 1031h2v7h-2M1142 1031h1v7h-1M1159 1031h1v7h-1M1124 1031h1v9h-1M1111 1031h1v11h-1M1116 1031h1v11h-1M1127 1031h1v11h-1M1091 1031h1v12h-1M1128 1031h1v15h-1M1094 1031h1v19h-1M1046 1031h1v27h-1M1029 1032h1v2h-1M1056 1032h1v2h-1M1081 1032h1v2h-1M1100 1032h1v2h-1M1153 1032h1v2h-1M1229 1032h1v2h-1M1073 1032h1v5h-1M1162 1032h1v5h-1M938 1032h1v6h-1M1137 1032h1v6h-1M1426 1032h1v6h-1M1069 1032h1v10h-1M1074 1032h1v14h-1M1038 1032h1v16h-1M1123 1032h1v26h-1M1070 1033h1v1h-1M1101 1033h1v1h-1M1132 1033h1v1h-1M1157 1033h1v1h-1M1224 1033h1v1h-1M1368 1033h1v1h-1M1425 1033h1v1h-1M1090 1033h1v2h-1M1106 1033h1v5h-1M1112 1033h1v9h-1M1037 1033h1v10h-1M1045 1033h1v11h-1M1000 1033h1v21h-1M1044 1033h1v25h-1M888 1034h1v1h-1M939 1034h1v1h-1M977 1034h1v1h-1M1072 1034h1v1h-1M1118 1034h1v1h-1M1323 1034h1v1h-1M836 1034h1v2h-1M1024 1034h1v2h-1M1326 1034h1v2h-1M1377 1034h1v2h-1M835 1034h1v3h-1M1107 1034h1v3h-1M1346 1034h1v3h-1M1458 1034h1v3h-1M822 1034h1v4h-1M856 1034h2v4h-2M869 1034h2v4h-2M883 1034h2v4h-2M889 1034h1v4h-1M930 1034h1v4h-1M999 1034h1v4h-1M1014 1034h1v4h-1M1023 1034h1v4h-1M1025 1034h2v4h-2M1117 1034h1v4h-1M1191 1034h1v4h-1M1284 1034h1v4h-1M1390 1034h2v4h-2M1420 1034h1v4h-1M1145 1034h1v5h-1M1034 1034h1v6h-1M1077 1034h1v6h-1M1002 1034h1v7h-1M1147 1034h1v7h-1M819 1034h1v8h-1M821 1034h1v8h-1M838 1034h1v8h-1M895 1034h2v8h-2M906 1034h1v8h-1M923 1034h3v8h-3M963 1034h1v8h-1M1075 1034h2v8h-2M1113 1034h1v8h-1M1149 1034h1v9h-1M1016 1034h3v12h-3M1031 1034h3v12h-3M1143 1034h2v12h-2M1146 1034h1v12h-1M847 1034h1v16h-1M1150 1034h1v16h-1M1148 1034h1v18h-1M1108 1034h3v24h-3M1078 1035h1v1h-1M1061 1035h1v3h-1M1266 1035h1v3h-1M1425 1035h1v3h-1M1097 1035h1v5h-1M837 1035h1v6h-1M1070 1035h1v6h-1M1086 1035h1v8h-1M978 1035h1v10h-1M918 1035h1v11h-1M1015 1035h1v11h-1M1095 1035h1v41h-1M1104 1036h1v1h-1M888 1036h1v2h-1M1090 1036h1v2h-1M1140 1036h2v2h-2M1323 1036h1v2h-1M1072 1036h1v7h-1M939 1036h1v10h-1M1118 1036h1v12h-1M1084 1036h1v16h-1M998 1037h1v1h-1M1024 1037h1v1h-1M1088 1037h1v1h-1M1326 1037h1v1h-1M1083 1037h1v4h-1M836 1037h1v5h-1M1067 1037h1v5h-1M1078 1037h1v5h-1M1377 1037h1v10h-1M977 1037h1v13h-1M1125 1037h1v19h-1M913 1038h1v1h-1M972 1038h1v1h-1M1006 1038h1v1h-1M1008 1038h1v1h-1M1236 1038h1v1h-1M1453 1038h1v1h-1M949 1038h1v2h-1M1121 1038h1v2h-1M1134 1038h1v2h-1M1154 1038h1v2h-1M1260 1038h1v2h-1M1346 1038h1v2h-1M1374 1038h1v2h-1M861 1038h1v3h-1M919 1038h1v3h-1M955 1038h1v3h-1M960 1038h1v3h-1M1107 1038h1v3h-1M832 1038h4v4h-4M851 1038h1v4h-1M860 1038h1v4h-1M892 1038h1v4h-1M894 1038h1v4h-1M956 1038h1v4h-1M1052 1038h1v4h-1M1119 1038h2v4h-2M1122 1038h1v4h-1M1131 1038h3v4h-3M1156 1038h1v4h-1M1179 1038h1v4h-1M1187 1038h1v4h-1M1290 1038h1v4h-1M1356 1038h1v4h-1M1451 1038h1v4h-1M914 1038h1v5h-1M1007 1038h1v5h-1M1021 1038h2v5h-2M1080 1038h1v5h-1M823 1038h1v6h-1M1051 1038h1v6h-1M824 1038h1v7h-1M844 1038h1v7h-1M825 1038h2v8h-2M911 1038h1v8h-1M961 1038h1v8h-1M1003 1038h3v8h-3M1009 1038h2v8h-2M1053 1038h2v8h-2M1073 1038h1v8h-1M1079 1038h1v8h-1M1081 1038h2v8h-2M843 1038h1v9h-1M1153 1038h1v9h-1M962 1038h1v11h-1M1151 1038h1v11h-1M947 1038h2v12h-2M1019 1038h2v12h-2M1155 1038h1v12h-1M1157 1038h2v12h-2M973 1038h1v20h-1M1152 1038h1v20h-1M1197 1039h1v1h-1M822 1039h1v2h-1M1166 1039h1v3h-1M1358 1039h1v3h-1M1415 1039h1v3h-1M991 1039h1v7h-1M1130 1039h1v7h-1M1117 1039h1v11h-1M1453 1040h1v2h-1M1008 1040h1v4h-1M1145 1040h1v4h-1M913 1040h1v6h-1M1006 1040h1v6h-1M1093 1040h1v10h-1M1236 1040h1v10h-1M1251 1040h1v14h-1M972 1040h1v15h-1M1077 1041h1v1h-1M1121 1041h1v1h-1M1134 1041h1v1h-1M1197 1041h1v1h-1M1346 1041h1v1h-1M1374 1041h1v1h-1M1260 1041h1v4h-1M949 1041h1v5h-1M1034 1041h1v5h-1M1124 1041h1v17h-1M1097 1041h2v19h-2M998 1042h1v1h-1M1002 1042h1v1h-1M1104 1042h1v1h-1M1107 1042h1v1h-1M1254 1042h1v1h-1M1273 1042h1v1h-1M997 1042h1v2h-1M1058 1042h1v2h-1M1083 1042h1v2h-1M1191 1042h1v2h-1M1274 1042h1v2h-1M1313 1042h1v2h-1M1458 1042h1v2h-1M857 1042h1v3h-1M1014 1042h1v3h-1M1218 1042h1v3h-1M856 1042h1v4h-1M864 1042h1v4h-1M900 1042h2v4h-2M935 1042h1v4h-1M996 1042h1v4h-1M1056 1042h2v4h-2M1087 1042h4v4h-4M1103 1042h1v4h-1M1139 1042h4v4h-4M1224 1042h1v4h-1M1367 1042h2v4h-2M1425 1042h2v4h-2M1047 1042h1v5h-1M1105 1042h1v5h-1M1012 1042h1v6h-1M1061 1042h1v6h-1M1050 1042h1v7h-1M899 1042h1v8h-1M938 1042h1v8h-1M1048 1042h2v8h-2M1059 1042h2v8h-2M1062 1042h5v8h-5M1284 1042h1v8h-1M1011 1042h1v10h-1M960 1042h1v12h-1M1147 1042h1v12h-1M1013 1042h1v15h-1M1106 1042h1v15h-1M1162 1042h1v15h-1M1154 1042h1v16h-1M1159 1042h3v16h-3M963 1043h1v2h-1M1055 1043h1v2h-1M1052 1043h1v3h-1M1127 1043h1v3h-1M1116 1043h1v4h-1M1085 1043h1v5h-1M976 1043h1v7h-1M999 1043h1v7h-1M1156 1043h1v7h-1M914 1044h1v1h-1M1037 1044h1v1h-1M998 1044h1v2h-1M1007 1044h1v2h-1M1072 1044h1v2h-1M1080 1044h1v2h-1M1254 1044h1v2h-1M1266 1044h1v2h-1M1021 1044h1v6h-1M1091 1044h1v6h-1M1149 1044h1v6h-1M1273 1044h1v6h-1M1002 1044h1v10h-1M1086 1044h1v10h-1M1107 1044h1v10h-1M1104 1044h1v11h-1M823 1045h1v1h-1M997 1045h1v1h-1M1008 1045h1v1h-1M1051 1045h1v1h-1M1058 1045h1v1h-1M1145 1045h1v1h-1M1458 1045h1v1h-1M1313 1045h1v2h-1M1022 1045h1v5h-1M1274 1045h1v5h-1M1083 1045h1v9h-1M1191 1045h1v9h-1M1045 1045h1v13h-1M944 1046h1v1h-1M1028 1046h1v1h-1M1076 1046h1v1h-1M1137 1046h1v1h-1M1298 1046h1v1h-1M1099 1046h1v2h-1M1113 1046h1v2h-1M1121 1046h1v2h-1M1179 1046h1v2h-1M963 1046h1v3h-1M851 1046h1v4h-1M869 1046h2v4h-2M888 1046h2v4h-2M955 1046h1v4h-1M978 1046h1v4h-1M1014 1046h1v4h-1M1023 1046h5v4h-5M1119 1046h2v4h-2M1122 1046h1v4h-1M1132 1046h1v4h-1M1136 1046h1v4h-1M1187 1046h1v4h-1M1256 1046h1v4h-1M1290 1046h1v4h-1M1296 1046h2v4h-2M945 1046h1v5h-1M1078 1046h1v5h-1M881 1046h1v6h-1M923 1046h1v6h-1M1114 1046h1v6h-1M924 1046h2v8h-2M946 1046h1v8h-1M1415 1046h1v8h-1M844 1046h1v10h-1M1101 1046h1v10h-1M1075 1046h1v12h-1M1077 1046h1v12h-1M1111 1046h2v12h-2M1135 1046h1v12h-1M1138 1046h1v12h-1M1037 1046h1v14h-1M1029 1046h1v16h-1M1100 1046h1v16h-1M1102 1046h1v16h-1M1131 1046h1v17h-1M1133 1046h2v20h-2M860 1046h1v24h-1M1254 1047h1v1h-1M861 1047h1v2h-1M900 1047h2v3h-2M935 1047h1v3h-1M949 1047h1v3h-1M956 1047h1v3h-1M961 1047h1v7h-1M1030 1047h1v15h-1M1103 1047h1v22h-1M1036 1047h1v23h-1M842 1048h1v2h-1M1115 1048h2v2h-2M1298 1048h1v2h-1M1313 1048h1v2h-1M1028 1048h1v5h-1M944 1048h1v6h-1M1377 1048h1v6h-1M1076 1048h1v7h-1M1105 1048h1v8h-1M843 1048h1v10h-1M1137 1048h1v10h-1M1153 1048h1v10h-1M1047 1049h1v1h-1M1061 1049h1v1h-1M1118 1049h1v1h-1M1121 1049h1v1h-1M1179 1049h1v1h-1M1085 1049h1v5h-1M1254 1049h1v5h-1M1012 1049h1v8h-1M1035 1049h1v8h-1M1113 1049h1v9h-1M1099 1049h1v13h-1M1038 1049h1v21h-1M861 1050h1v1h-1M963 1050h1v1h-1M996 1050h1v1h-1M1004 1050h1v1h-1M1017 1050h1v1h-1M1042 1050h1v1h-1M1425 1050h1v1h-1M1032 1050h1v2h-1M1041 1050h1v2h-1M1080 1050h2v2h-2M1089 1050h1v2h-1M1142 1050h1v2h-1M1203 1050h1v2h-1M1426 1050h1v2h-1M1006 1050h1v3h-1M1034 1050h1v3h-1M1141 1050h1v3h-1M1197 1050h1v3h-1M1218 1050h1v3h-1M827 1050h1v4h-1M883 1050h2v4h-2M895 1050h2v4h-2M984 1050h1v4h-1M997 1050h2v4h-2M1003 1050h1v4h-1M1015 1050h2v4h-2M1018 1050h1v4h-1M1039 1050h2v4h-2M1068 1050h1v4h-1M1087 1050h2v4h-2M1090 1050h1v4h-1M1143 1050h4v4h-4M1166 1050h1v4h-1M1356 1050h1v4h-1M1358 1050h1v4h-1M1451 1050h1v4h-1M1453 1050h1v4h-1M1079 1050h1v5h-1M1031 1050h1v6h-1M1058 1050h1v6h-1M1082 1050h1v6h-1M892 1050h1v8h-1M894 1050h1v8h-1M919 1050h1v8h-1M1067 1050h1v8h-1M1151 1050h1v8h-1M1033 1050h1v11h-1M832 1050h2v12h-2M918 1050h1v12h-1M985 1050h2v12h-2M1055 1050h2v18h-2M1057 1050h1v20h-1M1069 1050h1v20h-1M1139 1050h1v24h-1M1005 1050h1v26h-1M1070 1050h1v27h-1M1027 1051h1v2h-1M1266 1051h1v2h-1M962 1051h1v3h-1M1149 1051h2v3h-2M1260 1051h1v3h-1M1043 1051h1v7h-1M1136 1051h1v7h-1M1206 1051h1v7h-1M834 1051h1v11h-1M1014 1051h1v11h-1M1140 1051h1v12h-1M1132 1051h1v15h-1M963 1052h1v1h-1M945 1052h1v2h-1M996 1052h1v2h-1M1017 1052h1v2h-1M1042 1052h1v2h-1M1284 1052h1v2h-1M1425 1052h1v2h-1M1078 1052h1v6h-1M861 1052h1v18h-1M1004 1052h1v18h-1M881 1053h1v1h-1M923 1053h1v1h-1M1032 1053h1v1h-1M1041 1053h1v1h-1M1084 1053h1v1h-1M1089 1053h1v1h-1M1114 1053h1v1h-1M1426 1053h1v1h-1M1011 1053h1v4h-1M1203 1053h1v4h-1M1142 1053h1v7h-1M1080 1053h2v9h-2M963 1054h1v1h-1M1008 1054h1v1h-1M1256 1054h1v1h-1M1297 1054h1v1h-1M1374 1054h1v1h-1M1065 1054h1v2h-1M990 1054h1v3h-1M835 1054h8v4h-8M939 1054h1v4h-1M955 1054h2v4h-2M987 1054h1v4h-1M1047 1054h4v4h-4M1063 1054h2v4h-2M1066 1054h1v4h-1M1127 1054h4v4h-4M1171 1054h1v4h-1M1179 1054h1v4h-1M1229 1054h1v4h-1M1274 1054h1v4h-1M1368 1054h1v4h-1M1071 1054h1v5h-1M1119 1054h1v5h-1M1298 1054h1v6h-1M1115 1054h2v7h-2M991 1054h1v8h-1M1007 1054h1v8h-1M1009 1054h2v8h-2M1027 1054h2v8h-2M1051 1054h4v8h-4M1092 1054h3v8h-3M1296 1054h1v8h-1M938 1054h1v10h-1M935 1054h1v12h-1M1218 1054h1v12h-1M1122 1054h1v15h-1M1006 1054h1v16h-1M1073 1054h1v16h-1M906 1054h1v17h-1M1074 1054h1v17h-1M1072 1054h1v20h-1M1120 1054h2v20h-2M1141 1054h1v20h-1M1034 1054h1v24h-1M1068 1055h1v1h-1M1107 1055h1v3h-1M1114 1055h1v3h-1M1273 1055h1v3h-1M1003 1055h1v4h-1M1118 1055h1v4h-1M1117 1055h1v6h-1M910 1055h1v7h-1M984 1055h1v7h-1M963 1056h1v2h-1M972 1056h1v2h-1M1076 1056h1v2h-1M1256 1056h1v3h-1M1104 1056h1v5h-1M1008 1056h1v6h-1M1079 1056h1v6h-1M1367 1056h1v6h-1M844 1057h1v1h-1M1065 1057h1v1h-1M1082 1057h1v1h-1M1125 1057h1v1h-1M1031 1057h1v3h-1M1374 1057h1v5h-1M1297 1057h1v9h-1M1105 1057h1v10h-1M1068 1057h1v11h-1M856 1058h1v1h-1M1024 1058h1v1h-1M1039 1058h1v1h-1M1254 1058h1v1h-1M1291 1058h1v1h-1M1356 1058h1v1h-1M1426 1058h1v1h-1M1451 1058h1v1h-1M1453 1058h1v1h-1M901 1058h1v2h-1M949 1058h1v2h-1M996 1058h1v2h-1M1040 1058h1v2h-1M1458 1058h1v2h-1M998 1058h1v3h-1M1090 1058h1v3h-1M1220 1058h1v3h-1M1236 1058h1v3h-1M827 1058h1v4h-1M857 1058h1v4h-1M895 1058h2v4h-2M923 1058h3v4h-3M1018 1058h1v4h-1M1023 1058h1v4h-1M1025 1058h2v4h-2M1041 1058h2v4h-2M1087 1058h3v4h-3M1147 1058h4v4h-4M1166 1058h1v4h-1M1191 1058h1v4h-1M1260 1058h1v4h-1M1266 1058h1v4h-1M1284 1058h1v4h-1M1323 1058h1v4h-1M1326 1058h1v4h-1M1346 1058h1v4h-1M1377 1058h1v4h-1M1415 1058h1v6h-1M900 1058h1v7h-1M930 1058h1v7h-1M1251 1058h1v7h-1M944 1058h3v8h-3M1085 1058h1v8h-1M1197 1058h1v8h-1M1293 1058h1v8h-1M1425 1058h1v8h-1M1016 1058h1v9h-1M1086 1058h1v10h-1M947 1058h2v12h-2M1035 1058h1v12h-1M1058 1058h1v12h-1M1358 1058h1v12h-1M997 1058h1v16h-1M1106 1058h1v16h-1M1015 1058h1v20h-1M1017 1058h1v20h-1M1083 1058h1v24h-1M1084 1058h1v28h-1M1082 1059h1v3h-1M1368 1059h1v3h-1M899 1059h1v11h-1M1067 1059h1v27h-1M1003 1060h1v1h-1M856 1060h1v2h-1M1024 1060h1v2h-1M1039 1060h1v2h-1M1118 1060h1v2h-1M1254 1060h1v2h-1M1256 1060h1v2h-1M1451 1060h1v3h-1M1291 1060h1v6h-1M1426 1060h1v6h-1M1071 1060h1v14h-1M1119 1060h1v14h-1M1040 1061h1v1h-1M1097 1061h1v1h-1M1298 1061h1v1h-1M1458 1061h1v1h-1M1098 1061h1v2h-1M1356 1061h1v2h-1M949 1061h1v4h-1M1453 1061h1v5h-1M996 1061h1v6h-1M1031 1061h1v8h-1M901 1061h1v9h-1M1037 1061h1v9h-1M1142 1061h1v11h-1M1048 1062h1v1h-1M961 1062h1v2h-1M1050 1062h1v2h-1M1138 1062h1v2h-1M1049 1062h1v3h-1M1127 1062h1v3h-1M1135 1062h1v3h-1M1151 1062h1v3h-1M819 1062h1v4h-1M822 1062h1v4h-1M841 1062h1v4h-1M843 1062h1v4h-1M888 1062h1v4h-1M960 1062h1v4h-1M962 1062h2v4h-2M1063 1062h4v4h-4M1075 1062h3v4h-3M1128 1062h3v4h-3M1146 1062h1v4h-1M1152 1062h2v4h-2M1206 1062h1v4h-1M1273 1062h1v4h-1M1390 1062h1v4h-1M1021 1062h1v5h-1M1145 1062h1v5h-1M998 1062h1v6h-1M978 1062h1v7h-1M1143 1062h1v7h-1M839 1062h2v8h-2M842 1062h1v8h-1M869 1062h2v8h-2M889 1062h1v8h-1M955 1062h2v8h-2M977 1062h1v8h-1M987 1062h1v8h-1M990 1062h1v8h-1M1136 1062h2v8h-2M823 1062h1v9h-1M1104 1062h1v11h-1M825 1062h2v12h-2M881 1062h1v12h-1M976 1062h1v12h-1M1047 1062h1v12h-1M1111 1062h1v16h-1M1113 1062h1v16h-1M1020 1062h1v20h-1M1022 1062h1v20h-1M1033 1062h1v20h-1M1003 1062h1v32h-1M844 1063h1v1h-1M1254 1063h1v1h-1M1179 1063h1v2h-1M1274 1063h1v2h-1M821 1063h1v3h-1M991 1063h1v3h-1M1154 1063h1v3h-1M1203 1063h1v3h-1M1296 1063h1v3h-1M1298 1063h1v3h-1M1229 1063h1v7h-1M1114 1063h1v8h-1M1018 1063h1v10h-1M1144 1063h1v10h-1M824 1063h1v11h-1M1097 1063h1v15h-1M1112 1063h1v15h-1M1014 1063h1v19h-1M1131 1064h1v2h-1M1451 1064h1v2h-1M1356 1064h1v6h-1M1140 1064h1v10h-1M1098 1064h1v14h-1M844 1065h1v1h-1M938 1065h1v1h-1M961 1065h1v1h-1M1415 1065h1v1h-1M1138 1065h1v5h-1M1048 1065h1v9h-1M1050 1065h1v9h-1M838 1066h1v1h-1M1046 1066h1v1h-1M1080 1066h1v1h-1M1088 1066h1v1h-1M1094 1066h1v1h-1M1150 1066h1v1h-1M1179 1066h1v1h-1M1256 1066h1v1h-1M1368 1066h1v1h-1M1377 1066h1v1h-1M892 1066h1v2h-1M1060 1066h1v2h-1M1081 1066h1v2h-1M1123 1066h1v2h-1M1126 1066h1v2h-1M949 1066h1v3h-1M1260 1066h1v3h-1M851 1066h1v4h-1M894 1066h1v4h-1M900 1066h1v4h-1M930 1066h1v4h-1M972 1066h2v4h-2M999 1066h1v4h-1M1007 1066h4v4h-4M1023 1066h4v4h-4M1042 1066h4v4h-4M1062 1066h1v4h-1M1079 1066h1v4h-1M1082 1066h1v4h-1M1093 1066h1v4h-1M1135 1066h1v4h-1M1367 1066h1v4h-1M1049 1066h1v5h-1M1087 1066h1v6h-1M1147 1066h1v7h-1M832 1066h2v8h-2M939 1066h1v8h-1M1039 1066h3v8h-3M1102 1066h1v8h-1M1124 1066h2v8h-2M1059 1066h1v12h-1M1061 1066h1v12h-1M1148 1066h2v12h-2M1092 1066h1v13h-1M827 1066h1v16h-1M835 1066h3v16h-3M918 1066h1v16h-1M1089 1066h2v16h-2M1155 1066h4v16h-4M1100 1066h1v19h-1M1030 1066h1v20h-1M1001 1066h1v21h-1M1099 1066h1v24h-1M1118 1066h1v24h-1M847 1066h1v28h-1M1028 1066h1v34h-1M1029 1066h1v36h-1M1187 1067h1v1h-1M841 1067h1v3h-1M888 1067h1v3h-1M1458 1067h1v3h-1M834 1067h1v7h-1M1146 1067h1v7h-1M1085 1067h1v19h-1M1046 1068h1v2h-1M1080 1068h1v2h-1M1179 1068h1v2h-1M1368 1068h1v2h-1M838 1068h1v3h-1M996 1068h1v6h-1M1105 1068h1v6h-1M1256 1068h1v6h-1M1150 1068h1v8h-1M1016 1068h1v10h-1M1094 1068h1v10h-1M1096 1068h1v10h-1M1377 1068h1v12h-1M1021 1068h1v14h-1M1145 1068h1v14h-1M1002 1068h1v17h-1M892 1069h1v1h-1M1081 1069h1v1h-1M1187 1069h1v3h-1M1068 1069h1v4h-1M998 1069h1v5h-1M1060 1069h1v5h-1M1123 1069h1v5h-1M1126 1069h1v5h-1M1086 1069h1v9h-1M1088 1069h1v13h-1M911 1070h1v1h-1M978 1070h1v1h-1M1200 1070h1v1h-1M1202 1070h1v1h-1M1390 1070h1v1h-1M895 1070h1v2h-1M1077 1070h1v2h-1M960 1070h1v3h-1M1128 1070h2v3h-2M821 1070h1v4h-1M844 1070h1v4h-1M883 1070h2v4h-2M913 1070h2v4h-2M961 1070h2v4h-2M984 1070h3v4h-3M1103 1070h1v4h-1M1122 1070h1v4h-1M1127 1070h1v4h-1M1130 1070h1v4h-1M1153 1070h2v4h-2M1171 1070h1v4h-1M1284 1070h1v4h-1M1290 1070h1v4h-1M1391 1070h1v4h-1M896 1070h1v5h-1M1031 1070h1v5h-1M991 1070h1v8h-1M1076 1070h1v8h-1M1191 1070h1v8h-1M1346 1070h1v8h-1M819 1070h1v10h-1M857 1070h1v10h-1M1166 1070h1v11h-1M1143 1070h1v12h-1M856 1070h1v16h-1M822 1070h1v20h-1M977 1071h1v2h-1M843 1071h1v3h-1M1042 1071h1v3h-1M1073 1071h1v3h-1M1152 1071h1v3h-1M1236 1071h1v3h-1M1062 1071h1v7h-1M1075 1071h1v7h-1M1069 1071h1v15h-1M1093 1071h1v23h-1M1004 1071h1v27h-1M1200 1072h1v1h-1M823 1072h1v2h-1M911 1072h1v2h-1M978 1072h1v2h-1M1049 1072h1v2h-1M1074 1072h1v2h-1M1202 1072h1v2h-1M906 1072h1v6h-1M1114 1072h1v6h-1M1390 1072h1v6h-1M838 1072h1v10h-1M1142 1073h1v1h-1M1187 1073h1v1h-1M895 1073h1v4h-1M1077 1073h1v5h-1M1087 1073h1v9h-1M1010 1074h1v1h-1M1133 1074h1v2h-1M1147 1074h1v2h-1M1260 1074h1v2h-1M933 1074h1v3h-1M1079 1074h1v3h-1M1081 1074h1v3h-1M869 1074h2v4h-2M899 1074h3v4h-3M944 1074h3v4h-3M949 1074h1v4h-1M972 1074h2v4h-2M1063 1074h4v4h-4M1131 1074h1v4h-1M1218 1074h1v4h-1M1296 1074h2v4h-2M1420 1074h1v4h-1M1008 1074h1v6h-1M1136 1074h1v6h-1M1159 1074h1v7h-1M1326 1074h1v7h-1M839 1074h2v8h-2M842 1074h1v8h-1M932 1074h1v8h-1M934 1074h1v8h-1M999 1074h1v8h-1M1132 1074h1v8h-1M1134 1074h2v8h-2M1137 1074h2v8h-2M1144 1074h1v8h-1M1160 1074h3v8h-3M1323 1074h1v8h-1M1068 1074h1v9h-1M947 1074h2v12h-2M1080 1074h1v18h-1M1007 1074h1v20h-1M1009 1074h1v20h-1M1082 1074h1v28h-1M1298 1075h1v1h-1M1060 1075h1v3h-1M1102 1075h1v3h-1M841 1075h1v7h-1M1146 1075h1v7h-1M821 1075h1v15h-1M896 1076h1v1h-1M1179 1076h1v2h-1M1031 1076h1v6h-1M1095 1077h1v1h-1M1147 1077h1v1h-1M1150 1077h1v1h-1M1260 1077h1v1h-1M1298 1077h1v1h-1M1005 1077h1v21h-1M913 1078h1v1h-1M962 1078h1v1h-1M1073 1078h1v1h-1M892 1078h1v2h-1M961 1078h1v2h-1M1043 1078h1v2h-1M1058 1078h1v2h-1M1108 1078h2v2h-2M1140 1078h1v2h-1M1313 1078h1v2h-1M833 1078h1v3h-1M889 1078h1v3h-1M933 1078h1v3h-1M1035 1078h1v3h-1M1046 1078h1v3h-1M1072 1078h1v3h-1M1110 1078h1v3h-1M1206 1078h1v3h-1M1220 1078h1v3h-1M1374 1078h1v3h-1M1453 1078h1v3h-1M832 1078h1v4h-1M834 1078h1v4h-1M888 1078h1v4h-1M910 1078h2v4h-2M914 1078h1v4h-1M919 1078h1v4h-1M930 1078h1v4h-1M963 1078h1v4h-1M996 1078h1v4h-1M998 1078h1v4h-1M1041 1078h2v4h-2M1045 1078h1v4h-1M1057 1078h1v4h-1M1074 1078h1v4h-1M1107 1078h1v4h-1M1123 1078h4v4h-4M1133 1078h1v4h-1M1142 1078h1v4h-1M1153 1078h1v4h-1M1425 1078h1v4h-1M1451 1078h1v4h-1M1154 1078h1v5h-1M1203 1078h1v6h-1M1037 1078h1v7h-1M1039 1078h1v7h-1M1120 1078h1v7h-1M1139 1078h1v7h-1M960 1078h1v8h-1M1040 1078h1v8h-1M1070 1078h1v8h-1M894 1078h1v12h-1M1036 1078h1v12h-1M1038 1078h1v12h-1M1141 1078h1v12h-1M1081 1078h1v13h-1M1119 1078h1v16h-1M1121 1078h2v16h-2M1079 1078h1v24h-1M1152 1078h1v32h-1M997 1079h1v2h-1M1131 1079h1v2h-1M1458 1079h1v2h-1M1034 1079h1v3h-1M949 1079h1v7h-1M1086 1079h1v7h-1M913 1080h1v2h-1M1073 1080h1v2h-1M1426 1080h1v2h-1M962 1080h1v6h-1M1092 1080h1v6h-1M1171 1080h1v6h-1M1043 1081h1v1h-1M1058 1081h1v1h-1M1108 1081h2v1h-2M1313 1081h1v1h-1M1377 1081h1v1h-1M857 1081h1v5h-1M961 1081h1v5h-1M819 1081h1v9h-1M892 1081h1v9h-1M1008 1081h1v13h-1M881 1082h1v1h-1M976 1082h1v1h-1M1035 1082h1v1h-1M1114 1082h1v1h-1M956 1082h1v2h-1M1050 1082h1v2h-1M1106 1082h1v2h-1M946 1082h1v3h-1M990 1082h1v3h-1M1150 1082h1v3h-1M823 1082h4v4h-4M870 1082h1v4h-1M906 1082h1v4h-1M945 1082h1v4h-1M955 1082h1v4h-1M987 1082h1v4h-1M1016 1082h1v4h-1M1047 1082h3v4h-3M1061 1082h1v4h-1M1075 1082h3v4h-3M1097 1082h2v4h-2M1105 1082h1v4h-1M1127 1082h1v4h-1M1130 1082h1v4h-1M1187 1082h1v4h-1M1191 1082h1v4h-1M1197 1082h1v4h-1M1206 1082h1v4h-1M1220 1082h1v4h-1M1256 1082h1v4h-1M1284 1082h1v4h-1M1293 1082h1v4h-1M1346 1082h1v4h-1M1112 1082h1v5h-1M1148 1082h1v5h-1M944 1082h1v7h-1M869 1082h1v8h-1M923 1082h3v8h-3M1017 1082h1v8h-1M1111 1082h1v8h-1M1113 1082h1v8h-1M1147 1082h1v8h-1M1149 1082h1v8h-1M1140 1082h1v10h-1M977 1082h2v12h-2M1023 1082h1v13h-1M985 1082h1v17h-1M984 1082h1v20h-1M986 1082h1v20h-1M1059 1082h1v21h-1M1060 1082h1v24h-1M1062 1082h1v24h-1M1014 1083h1v3h-1M1104 1083h1v3h-1M1291 1083h1v3h-1M991 1083h1v4h-1M1142 1083h1v13h-1M1154 1084h1v1h-1M976 1084h1v2h-1M1068 1084h1v2h-1M1035 1084h1v6h-1M1114 1084h1v6h-1M881 1084h1v7h-1M956 1085h1v1h-1M1050 1085h1v1h-1M1106 1085h1v1h-1M864 1086h1v1h-1M1159 1086h1v1h-1M1368 1086h1v1h-1M888 1086h1v2h-1M1120 1086h1v2h-1M1123 1086h1v2h-1M1160 1086h1v2h-1M1390 1086h1v2h-1M1426 1086h1v2h-1M832 1086h1v3h-1M930 1086h1v3h-1M999 1086h1v3h-1M833 1086h2v4h-2M883 1086h2v4h-2M946 1086h1v4h-1M963 1086h1v4h-1M1002 1086h1v4h-1M1020 1086h3v4h-3M1037 1086h1v4h-1M1063 1086h3v4h-3M1100 1086h1v4h-1M1124 1086h1v4h-1M1136 1086h3v4h-3M1150 1086h1v4h-1M1374 1086h1v4h-1M1377 1086h1v4h-1M1420 1086h1v4h-1M1425 1086h1v4h-1M838 1086h1v5h-1M1161 1086h1v5h-1M837 1086h1v8h-1M1043 1086h1v8h-1M1045 1086h1v8h-1M1131 1086h4v8h-4M1145 1086h1v8h-1M1254 1086h1v8h-1M1367 1086h1v8h-1M836 1086h1v9h-1M1146 1086h1v11h-1M835 1086h1v12h-1M1143 1086h1v12h-1M1162 1086h1v12h-1M1251 1086h1v12h-1M1154 1086h1v16h-1M1144 1086h1v17h-1M1139 1086h1v20h-1M1033 1086h2v24h-2M1135 1087h1v2h-1M870 1087h1v3h-1M889 1087h1v3h-1M945 1087h1v3h-1M976 1087h1v7h-1M1046 1087h1v7h-1M1061 1087h1v19h-1M1001 1088h1v1h-1M1368 1088h1v1h-1M1112 1088h1v2h-1M1148 1088h1v2h-1M991 1088h1v6h-1M864 1088h1v10h-1M1159 1088h1v10h-1M888 1089h1v1h-1M1123 1089h1v1h-1M1390 1089h1v1h-1M1426 1089h1v1h-1M1160 1089h1v2h-1M1120 1089h1v5h-1M948 1090h1v1h-1M1075 1090h1v1h-1M1085 1090h1v1h-1M1089 1090h1v1h-1M825 1090h1v2h-1M1057 1090h1v2h-1M960 1090h1v3h-1M1084 1090h1v3h-1M1098 1090h1v3h-1M1298 1090h1v3h-1M827 1090h1v4h-1M860 1090h2v4h-2M906 1090h1v4h-1M911 1090h1v4h-1M913 1090h2v4h-2M939 1090h1v4h-1M955 1090h2v4h-2M987 1090h1v4h-1M990 1090h1v4h-1M1058 1090h1v4h-1M1068 1090h3v4h-3M1076 1090h2v4h-2M1097 1090h1v4h-1M1108 1090h1v4h-1M1171 1090h1v4h-1M1191 1090h1v4h-1M1224 1090h1v4h-1M1236 1090h1v4h-1M1296 1090h1v4h-1M1368 1090h1v4h-1M1451 1090h1v4h-1M1391 1090h1v6h-1M961 1090h1v7h-1M1039 1090h1v7h-1M823 1090h2v8h-2M826 1090h1v8h-1M919 1090h1v8h-1M935 1090h1v8h-1M938 1090h1v8h-1M962 1090h1v8h-1M1040 1090h1v8h-1M1087 1090h2v8h-2M1090 1090h1v8h-1M1109 1090h1v9h-1M857 1090h1v10h-1M1072 1090h1v12h-1M1086 1090h1v12h-1M1284 1090h1v12h-1M947 1090h1v15h-1M856 1090h1v16h-1M1048 1090h1v16h-1M1073 1090h2v16h-2M1107 1090h1v18h-1M1110 1090h1v20h-1M1047 1090h1v22h-1M949 1090h1v24h-1M1297 1091h1v2h-1M1453 1091h1v3h-1M1141 1091h1v11h-1M1218 1092h1v1h-1M881 1092h1v2h-1M1075 1092h1v2h-1M1089 1092h1v4h-1M948 1092h1v5h-1M1160 1092h2v6h-2M1081 1092h1v10h-1M1085 1092h1v10h-1M1057 1093h1v1h-1M825 1093h1v5h-1M1080 1093h1v9h-1M1140 1093h1v12h-1M838 1093h1v17h-1M843 1094h1v1h-1M925 1094h1v1h-1M1017 1094h1v1h-1M1113 1094h1v1h-1M1156 1094h1v1h-1M870 1094h1v2h-1M960 1094h1v2h-1M1022 1094h1v2h-1M1105 1094h1v2h-1M1136 1094h1v2h-1M1149 1094h1v2h-1M1323 1094h1v2h-1M1203 1094h1v3h-1M1358 1094h1v3h-1M832 1094h3v4h-3M888 1094h2v4h-2M923 1094h2v4h-2M963 1094h1v4h-1M1020 1094h2v4h-2M1104 1094h1v4h-1M1106 1094h1v4h-1M1111 1094h2v4h-2M1114 1094h1v4h-1M1127 1094h1v4h-1M1130 1094h1v4h-1M1147 1094h2v4h-2M1150 1094h1v4h-1M1158 1094h1v4h-1M1206 1094h1v4h-1M1326 1094h1v4h-1M1377 1094h1v4h-1M1390 1094h1v4h-1M1420 1094h1v4h-1M1425 1094h2v4h-2M1063 1094h1v5h-1M1038 1094h1v7h-1M844 1094h1v8h-1M869 1094h1v8h-1M932 1094h3v8h-3M1084 1094h1v8h-1M1135 1094h1v8h-1M1137 1094h2v8h-2M1356 1094h1v8h-1M1002 1094h1v10h-1M999 1094h1v12h-1M1157 1094h1v14h-1M1064 1094h1v16h-1M1001 1094h1v20h-1M1036 1094h1v22h-1M1035 1094h1v24h-1M1037 1094h1v24h-1M1155 1094h1v24h-1M1065 1094h1v27h-1M1254 1095h1v1h-1M1003 1095h1v2h-1M991 1095h1v3h-1M1108 1095h1v9h-1M837 1095h1v15h-1M1145 1095h1v23h-1M925 1096h1v2h-1M1017 1096h1v2h-1M1113 1096h1v2h-1M1023 1096h1v3h-1M843 1096h1v6h-1M836 1096h1v14h-1M1156 1096h1v22h-1M960 1097h1v1h-1M1022 1097h1v1h-1M1089 1097h1v1h-1M1105 1097h1v1h-1M1149 1097h1v1h-1M1254 1097h1v1h-1M1391 1097h1v1h-1M870 1097h1v4h-1M1142 1097h1v4h-1M1136 1097h1v5h-1M913 1098h1v1h-1M1070 1098h1v1h-1M1200 1098h1v1h-1M1260 1098h1v1h-1M899 1098h1v2h-1M990 1098h1v2h-1M1191 1098h1v2h-1M1229 1098h1v2h-1M1358 1098h1v2h-1M1014 1098h1v3h-1M1179 1098h1v3h-1M1293 1098h1v3h-1M1368 1098h1v3h-1M819 1098h1v4h-1M821 1098h2v4h-2M883 1098h2v4h-2M900 1098h2v4h-2M911 1098h1v4h-1M914 1098h1v4h-1M930 1098h1v4h-1M956 1098h1v4h-1M976 1098h3v4h-3M987 1098h1v4h-1M1118 1098h1v4h-1M1120 1098h5v4h-5M1202 1098h1v4h-1M1220 1098h1v4h-1M1236 1098h1v4h-1M1313 1098h1v4h-1M1346 1098h1v4h-1M1069 1098h1v5h-1M948 1098h1v7h-1M895 1098h1v8h-1M918 1098h1v8h-1M939 1098h1v8h-1M1008 1098h1v8h-1M1058 1098h1v8h-1M1075 1098h1v8h-1M1077 1098h1v8h-1M1367 1098h1v10h-1M910 1098h1v11h-1M1007 1098h1v11h-1M1009 1098h1v11h-1M1132 1098h1v11h-1M955 1098h1v12h-1M1131 1098h1v12h-1M1133 1098h1v12h-1M1068 1098h1v14h-1M1099 1098h1v14h-1M1146 1098h1v14h-1M1100 1098h1v16h-1M1093 1098h1v23h-1M1291 1099h1v1h-1M1076 1099h1v3h-1M1119 1099h1v3h-1M896 1099h1v7h-1M1057 1099h1v7h-1M1143 1099h1v8h-1M835 1099h1v11h-1M1134 1099h1v11h-1M913 1100h1v2h-1M985 1100h1v2h-1M1023 1100h1v2h-1M1200 1100h1v2h-1M1070 1100h1v11h-1M1158 1100h1v17h-1M1063 1100h1v21h-1M857 1101h1v1h-1M899 1101h1v1h-1M990 1101h1v1h-1M1028 1101h1v1h-1M1191 1101h1v1h-1M1229 1101h1v1h-1M1109 1101h1v8h-1M1260 1101h1v13h-1M924 1102h1v1h-1M1097 1102h1v1h-1M1254 1102h1v1h-1M1323 1102h1v1h-1M1374 1102h1v1h-1M1458 1102h1v1h-1M1005 1102h1v2h-1M1046 1102h1v2h-1M1415 1102h1v2h-1M864 1102h1v3h-1M1206 1102h1v3h-1M1251 1102h1v3h-1M1326 1102h1v3h-1M1368 1102h1v3h-1M823 1102h4v4h-4M881 1102h1v4h-1M923 1102h1v4h-1M925 1102h1v4h-1M1003 1102h2v4h-2M1142 1102h1v4h-1M1166 1102h1v4h-1M1266 1102h1v4h-1M1290 1102h1v4h-1M1098 1102h1v5h-1M1105 1102h1v5h-1M1147 1102h1v5h-1M1203 1102h1v6h-1M1040 1102h1v7h-1M1150 1102h1v7h-1M832 1102h2v8h-2M1038 1102h2v8h-2M1043 1102h1v8h-1M1104 1102h1v8h-1M1106 1102h1v8h-1M1197 1102h1v8h-1M1218 1102h1v8h-1M1420 1102h1v8h-1M1148 1102h1v9h-1M888 1102h2v12h-2M991 1102h1v12h-1M1045 1102h1v12h-1M1127 1102h1v12h-1M1130 1102h1v12h-1M1149 1102h1v12h-1M1014 1102h1v16h-1M1017 1102h1v16h-1M827 1102h1v19h-1M996 1102h1v19h-1M998 1102h1v19h-1M1141 1103h1v1h-1M857 1103h1v3h-1M1076 1103h1v3h-1M1118 1103h1v4h-1M834 1103h1v7h-1M956 1103h1v7h-1M1154 1103h1v7h-1M997 1103h1v18h-1M1069 1104h1v1h-1M1254 1104h1v1h-1M924 1104h1v2h-1M1072 1104h1v2h-1M1323 1104h1v4h-1M1097 1104h1v6h-1M1144 1104h1v14h-1M1005 1105h1v1h-1M1059 1105h1v1h-1M1141 1105h1v1h-1M1374 1105h1v1h-1M1415 1105h1v1h-1M1458 1105h1v1h-1M1108 1105h1v5h-1M1002 1105h1v9h-1M1046 1105h1v9h-1M883 1106h1v1h-1M934 1106h1v1h-1M1297 1106h1v1h-1M1085 1106h1v2h-1M1206 1106h1v2h-1M1326 1106h1v2h-1M1029 1106h1v3h-1M1256 1106h1v3h-1M884 1106h1v4h-1M892 1106h1v4h-1M894 1106h1v4h-1M911 1106h1v4h-1M913 1106h2v4h-2M919 1106h1v4h-1M944 1106h1v4h-1M946 1106h1v4h-1M963 1106h1v4h-1M972 1106h1v4h-1M1023 1106h1v4h-1M1028 1106h1v4h-1M1084 1106h1v4h-1M1086 1106h1v4h-1M1123 1106h2v4h-2M1179 1106h1v4h-1M1356 1106h1v4h-1M1358 1106h1v4h-1M932 1106h1v6h-1M1296 1106h1v6h-1M933 1106h1v8h-1M947 1106h2v8h-2M1220 1106h1v8h-1M1284 1106h1v8h-1M1298 1106h1v8h-1M1368 1106h1v8h-1M1137 1106h1v9h-1M1069 1106h1v15h-1M1135 1106h2v15h-2M1138 1106h1v15h-1M1008 1107h1v1h-1M945 1107h1v3h-1M973 1107h1v3h-1M1224 1107h1v3h-1M906 1107h1v4h-1M1048 1107h1v6h-1M1297 1108h1v1h-1M883 1108h1v2h-1M1098 1108h1v2h-1M1105 1108h1v2h-1M1118 1108h1v2h-1M1147 1108h1v3h-1M934 1108h1v6h-1M1143 1108h1v10h-1M1008 1109h1v1h-1M1085 1109h1v1h-1M1107 1109h1v1h-1M1206 1109h1v1h-1M1323 1109h1v2h-1M1374 1109h1v3h-1M1326 1109h1v5h-1M1157 1109h1v9h-1M1060 1110h1v1h-1M1119 1110h1v1h-1M1266 1110h1v1h-1M1367 1110h1v2h-1M900 1110h1v3h-1M1088 1110h1v3h-1M869 1110h2v4h-2M895 1110h2v4h-2M1020 1110h3v4h-3M1057 1110h3v4h-3M1061 1110h2v4h-2M1072 1110h3v4h-3M1087 1110h1v4h-1M1089 1110h2v4h-2M1150 1110h1v4h-1M1159 1110h4v4h-4M1166 1110h1v4h-1M1273 1110h2v4h-2M1297 1110h1v4h-1M1425 1110h2v4h-2M864 1110h1v5h-1M986 1110h1v5h-1M860 1110h1v6h-1M899 1110h1v6h-1M939 1110h1v6h-1M1003 1110h1v6h-1M1007 1110h1v7h-1M847 1110h1v8h-1M901 1110h1v8h-1M1377 1110h1v8h-1M984 1110h1v10h-1M1203 1110h1v10h-1M823 1110h4v11h-4M861 1110h1v11h-1M985 1110h1v11h-1M1004 1110h2v11h-2M1009 1110h1v11h-1M1120 1110h3v11h-3M1206 1111h1v1h-1M1290 1111h1v1h-1M1043 1111h1v3h-1M1256 1111h1v3h-1M910 1111h1v7h-1M1038 1111h1v7h-1M1008 1111h1v10h-1M1064 1111h1v10h-1M1070 1112h1v1h-1M906 1112h1v2h-1M1060 1112h1v2h-1M1147 1112h2v2h-2M1266 1112h1v2h-1M1323 1112h1v2h-1M1119 1112h1v9h-1M932 1113h1v1h-1M1099 1113h1v1h-1M1296 1113h1v1h-1M1367 1113h1v1h-1M1374 1113h1v1h-1M1146 1113h1v5h-1M1047 1113h1v8h-1M1068 1113h1v8h-1M1206 1113h1v8h-1M960 1114h1v1h-1M1108 1114h1v1h-1M1218 1114h1v1h-1M1390 1114h1v1h-1M961 1114h1v2h-1M1048 1114h1v2h-1M1109 1114h1v2h-1M892 1114h1v3h-1M1104 1114h1v3h-1M1107 1114h1v3h-1M819 1114h1v4h-1M821 1114h2v4h-2M835 1114h8v4h-8M856 1114h2v4h-2M881 1114h1v4h-1M900 1114h1v4h-1M911 1114h1v4h-1M913 1114h2v4h-2M930 1114h1v4h-1M962 1114h1v4h-1M972 1114h2v4h-2M1033 1114h2v4h-2M1084 1114h3v4h-3M1110 1114h5v4h-5M1139 1114h1v4h-1M1141 1114h2v4h-2M1197 1114h1v4h-1M1290 1114h1v4h-1M1081 1114h1v6h-1M851 1114h1v7h-1M894 1114h1v7h-1M918 1114h1v7h-1M923 1114h3v7h-3M955 1114h2v7h-2M963 1114h1v7h-1M1039 1114h2v7h-2M1070 1114h1v7h-1M1077 1114h1v7h-1M1079 1114h2v7h-2M1082 1114h1v7h-1M1105 1114h2v7h-2M1131 1114h4v7h-4M1152 1114h1v7h-1M1154 1114h1v7h-1M1251 1114h1v7h-1M1140 1115h1v3h-1M1260 1115h1v3h-1M1075 1115h2v6h-2M1118 1115h1v6h-1M1254 1115h1v6h-1M960 1116h1v2h-1M1108 1116h1v2h-1M864 1116h1v5h-1M986 1116h1v5h-1M1137 1116h1v5h-1M1218 1116h1v5h-1M899 1117h1v1h-1M961 1117h1v1h-1M1036 1117h1v1h-1M1109 1117h1v1h-1M1390 1117h1v1h-1M1003 1117h1v3h-1M860 1117h1v4h-1M939 1117h1v4h-1M1048 1117h1v4h-1M1028 1118h2v1h-2M1072 1118h1v1h-1M1124 1118h1v1h-1M1166 1118h1v1h-1M1200 1118h1v1h-1M1266 1118h1v1h-1M1296 1118h1v1h-1M1391 1118h1v1h-1M834 1118h1v2h-1M945 1118h1v2h-1M1089 1118h1v2h-1M1202 1118h1v2h-1M1323 1118h1v2h-1M1326 1118h1v2h-1M832 1118h2v3h-2M843 1118h2v3h-2M883 1118h2v3h-2M888 1118h2v3h-2M892 1118h1v3h-1M895 1118h2v3h-2M906 1118h1v3h-1M919 1118h1v3h-1M932 1118h3v3h-3M944 1118h1v3h-1M946 1118h1v3h-1M987 1118h1v3h-1M990 1118h2v3h-2M1001 1118h2v3h-2M1007 1118h1v3h-1M1023 1118h1v3h-1M1043 1118h1v3h-1M1045 1118h2v3h-2M1059 1118h4v3h-4M1073 1118h2v3h-2M1087 1118h2v3h-2M1090 1118h1v3h-1M1097 1118h2v3h-2M1104 1118h1v3h-1M1123 1118h1v3h-1M1147 1118h4v3h-4M1229 1118h1v3h-1M1298 1118h1v3h-1M1346 1118h1v3h-1M1367 1118h2v3h-2M1415 1118h1v3h-1M1420 1118h1v3h-1M1458 1118h1v3h-1M1197 1119h1v2h-1M1297 1119h1v2h-1M1028 1120h1v1h-1M1072 1120h1v1h-1M1124 1120h1v1h-1M1166 1120h1v1h-1M1200 1120h1v1h-1M1266 1120h1v1h-1M1296 1120h1v1h-1M1391 1120h1v1h-1"/><path fill="#0000df" d="M1297 970h1v1h-1M1347 970h1v1h-1M1368 970h1v1h-1M1022 971h1v1h-1M1291 971h1v1h-1M1343 971h1v1h-1M1350 971h1v1h-1M1101 972h1v1h-1M1215 972h1v1h-1M1251 972h1v1h-1M1253 972h1v1h-1M1277 972h1v1h-1M1341 972h1v1h-1M1431 972h1v1h-1M866 973h1v1h-1M1339 973h1v1h-1M1343 973h1v1h-1M1346 973h1v1h-1M1386 973h1v1h-1M1452 973h1v1h-1M1309 974h1v1h-1M893 975h1v1h-1M1055 975h1v1h-1M1202 975h1v1h-1M1303 975h1v1h-1M1267 976h1v1h-1M1326 976h1v1h-1M836 977h1v1h-1M850 977h1v1h-1M978 977h1v1h-1M1136 977h1v1h-1M1224 977h1v1h-1M1431 977h1v1h-1M1256 978h1v1h-1M1356 978h1v1h-1M975 979h1v1h-1M1176 979h1v1h-1M1386 979h1v1h-1M909 980h1v1h-1M963 980h1v1h-1M1034 980h1v1h-1M1248 980h1v1h-1M1366 980h1v1h-1M1428 980h1v1h-1M1341 981h1v1h-1M1367 981h1v1h-1M1032 982h1v1h-1M1114 982h1v1h-1M1117 982h1v1h-1M1178 982h1v1h-1M1239 982h1v1h-1M1336 982h1v1h-1M982 983h1v1h-1M1068 983h1v1h-1M1210 983h1v1h-1M1226 983h1v1h-1M1374 983h1v1h-1M1393 983h1v1h-1M1161 984h1v1h-1M1165 984h1v1h-1M1249 984h1v1h-1M1266 984h1v1h-1M1151 985h1v1h-1M1178 985h1v1h-1M1183 985h1v1h-1M1190 985h1v1h-1M1325 985h1v1h-1M1357 985h1v1h-1M1427 985h1v1h-1M854 986h1v1h-1M927 986h1v1h-1M946 986h1v1h-1M1112 986h1v1h-1M1290 986h1v1h-1M1323 986h1v1h-1M1383 986h1v1h-1M1406 986h1v1h-1M1450 986h1v1h-1M1181 987h1v1h-1M1240 987h1v1h-1M1444 987h1v1h-1M974 987h1v2h-1M900 988h1v1h-1M993 988h1v1h-1M1081 988h1v1h-1M1203 988h1v1h-1M1288 988h1v1h-1M1358 988h1v1h-1M1241 988h1v2h-1M910 989h1v1h-1M985 989h1v1h-1M1147 989h1v1h-1M1184 989h1v1h-1M1198 989h1v1h-1M1218 989h1v1h-1M1273 989h1v1h-1M1334 989h1v1h-1M1205 990h1v1h-1M908 991h1v1h-1M1082 991h1v1h-1M1317 991h1v1h-1M1367 991h1v1h-1M969 992h1v1h-1M1052 992h1v1h-1M1096 992h1v1h-1M1132 992h1v1h-1M1411 992h1v1h-1M1442 992h1v1h-1M1125 993h1v1h-1M1201 993h1v1h-1M1209 993h1v1h-1M1250 993h1v1h-1M1405 993h1v1h-1M1423 993h1v1h-1M1443 993h1v1h-1M1080 994h1v1h-1M1177 994h1v1h-1M1233 994h1v1h-1M1289 994h1v1h-1M1382 994h2v1h-2M1408 995h1v1h-1M1418 995h1v1h-1M848 996h1v1h-1M1206 996h1v1h-1M1224 996h1v1h-1M1259 996h1v1h-1M1376 996h1v1h-1M1280 997h1v1h-1M1287 997h1v1h-1M1326 997h1v1h-1M1353 997h1v1h-1M1412 997h1v1h-1M916 998h1v1h-1M1014 998h1v1h-1M1068 998h1v1h-1M1163 998h1v1h-1M1220 998h1v1h-1M1223 998h1v1h-1M1292 998h1v1h-1M1431 998h1v1h-1M1454 998h1v1h-1M1269 998h1v2h-1M1281 999h1v1h-1M1321 999h1v1h-1M1338 999h1v1h-1M1370 999h1v1h-1M1070 1000h1v1h-1M1087 1000h1v1h-1M1149 1000h1v1h-1M1169 1000h1v1h-1M1223 1000h1v1h-1M1306 1000h1v1h-1M1320 1000h1v1h-1M1327 1000h1v1h-1M1384 1000h1v1h-1M1394 1000h1v1h-1M891 1001h1v1h-1M933 1001h1v1h-1M1145 1001h1v1h-1M1174 1001h1v1h-1M1245 1001h1v1h-1M1311 1001h2v1h-2M1342 1001h1v1h-1M1403 1001h1v1h-1M1374 1001h1v2h-1M956 1002h1v1h-1M1242 1002h1v1h-1M1267 1002h1v1h-1M1297 1002h1v1h-1M1305 1002h1v1h-1M1338 1002h1v1h-1M1346 1002h1v1h-1M1383 1002h1v1h-1M1404 1002h1v1h-1M1418 1002h1v1h-1M1420 1002h1v1h-1M898 1003h1v1h-1M955 1003h1v1h-1M1187 1003h1v1h-1M1317 1003h1v1h-1M1391 1003h1v1h-1M1430 1003h1v1h-1M943 1004h1v1h-1M1127 1004h1v1h-1M1157 1004h1v1h-1M1182 1004h1v1h-1M1259 1004h1v1h-1M1285 1004h1v1h-1M1353 1004h1v1h-1M1356 1004h1v1h-1M1363 1004h1v1h-1M1419 1004h1v1h-1M993 1004h2v6h-2M876 1005h1v1h-1M1070 1005h1v1h-1M1211 1005h1v1h-1M1213 1005h1v1h-1M1256 1005h1v1h-1M1280 1005h1v1h-1M1367 1005h1v1h-1M951 1006h1v1h-1M987 1006h1v1h-1M1198 1006h1v1h-1M1203 1006h1v1h-1M1264 1006h1v1h-1M1296 1006h1v1h-1M1333 1006h1v1h-1M1380 1006h1v1h-1M1170 1007h1v1h-1M1172 1007h1v1h-1M1189 1007h1v1h-1M1207 1007h1v1h-1M1209 1007h1v1h-1M1211 1007h1v1h-1M1257 1007h1v1h-1M1295 1007h1v1h-1M1341 1007h1v1h-1M1448 1007h1v1h-1M831 1008h1v1h-1M925 1008h1v1h-1M966 1008h1v1h-1M1026 1008h1v1h-1M1040 1008h1v1h-1M1166 1008h1v1h-1M1175 1008h1v1h-1M1214 1008h1v1h-1M1228 1008h1v1h-1M1388 1008h1v1h-1M1072 1009h1v1h-1M1086 1009h1v1h-1M1112 1009h1v1h-1M1189 1009h1v1h-1M1263 1009h1v1h-1M1288 1009h2v1h-2M1381 1009h1v1h-1M995 1009h1v6h-1M992 1009h1v8h-1M875 1010h2v1h-2M987 1010h1v1h-1M1074 1010h1v1h-1M1100 1010h1v1h-1M1172 1010h1v1h-1M1201 1010h1v1h-1M1365 1010h1v1h-1M1376 1010h1v1h-1M1449 1010h1v1h-1M1401 1010h1v3h-1M943 1011h1v1h-1M949 1011h1v1h-1M1134 1011h1v1h-1M1199 1011h1v1h-1M1269 1011h1v1h-1M1278 1011h1v1h-1M1285 1011h1v1h-1M1346 1011h1v1h-1M1408 1011h1v1h-1M1369 1011h1v2h-1M1452 1011h1v2h-1M1440 1011h1v6h-1M909 1012h1v1h-1M990 1012h1v1h-1M1153 1012h1v1h-1M1176 1012h1v1h-1M1185 1012h1v1h-1M1187 1012h2v1h-2M1191 1012h1v1h-1M1194 1012h1v1h-1M1264 1012h1v1h-1M1342 1012h1v1h-1M1363 1012h1v1h-1M1424 1012h1v1h-1M1432 1012h1v1h-1M1446 1012h2v1h-2M1375 1012h2v3h-2M1389 1012h1v3h-1M1387 1012h2v4h-2M969 1012h2v5h-2M823 1013h1v1h-1M928 1013h1v1h-1M936 1013h1v1h-1M949 1013h1v1h-1M955 1013h1v1h-1M1043 1013h1v1h-1M1085 1013h1v1h-1M1169 1013h1v1h-1M1171 1013h1v1h-1M1193 1013h1v1h-1M1204 1013h1v1h-1M1207 1013h1v1h-1M1256 1013h1v1h-1M1380 1013h1v1h-1M1386 1013h1v1h-1M1425 1013h1v1h-1M1295 1013h1v4h-1M1457 1013h1v4h-1M959 1014h1v1h-1M988 1014h1v1h-1M1078 1014h1v1h-1M1158 1014h1v1h-1M1162 1014h1v1h-1M1167 1014h1v1h-1M1238 1014h1v1h-1M1260 1014h1v1h-1M1288 1014h1v1h-1M1309 1014h1v1h-1M1359 1014h1v1h-1M1393 1014h1v1h-1M1416 1014h1v1h-1M1452 1014h1v1h-1M1401 1014h1v2h-1M1446 1014h3v2h-3M1164 1014h2v4h-2M1213 1014h1v5h-1M1268 1014h1v5h-1M1285 1014h1v7h-1M1337 1014h1v8h-1M1338 1014h1v16h-1M858 1015h1v1h-1M882 1015h1v1h-1M974 1015h1v1h-1M1205 1015h1v1h-1M1212 1015h1v1h-1M1217 1015h1v1h-1M1226 1015h1v1h-1M1236 1015h1v1h-1M1243 1015h1v1h-1M1246 1015h1v1h-1M1328 1015h1v1h-1M1350 1015h1v1h-1M1204 1015h1v4h-1M1214 1015h1v4h-1M1253 1015h1v5h-1M1369 1015h3v6h-3M878 1016h1v1h-1M995 1016h1v1h-1M1089 1016h1v1h-1M1142 1016h1v1h-1M1201 1016h1v1h-1M1207 1016h1v1h-1M1296 1016h1v1h-1M1366 1016h1v1h-1M1423 1016h1v1h-1M1454 1016h1v1h-1M1456 1016h1v1h-1M1252 1016h1v2h-1M1362 1016h1v2h-1M1455 1016h1v2h-1M1255 1016h1v4h-1M1381 1016h1v4h-1M971 1016h1v5h-1M1299 1016h1v5h-1M1405 1016h1v7h-1M968 1016h1v8h-1M843 1017h1v1h-1M1103 1017h1v1h-1M1158 1017h1v1h-1M1246 1017h1v1h-1M1251 1017h1v1h-1M1307 1017h1v1h-1M1374 1017h1v1h-1M1384 1017h1v1h-1M1387 1017h1v1h-1M1439 1017h1v1h-1M1447 1017h2v1h-2M1208 1017h2v2h-2M1244 1017h1v2h-1M1265 1017h1v2h-1M1281 1017h1v2h-1M1388 1017h2v2h-2M1262 1017h1v3h-1M1382 1017h1v3h-1M850 1018h1v1h-1M992 1018h1v1h-1M995 1018h1v1h-1M1046 1018h1v1h-1M1191 1018h1v1h-1M1235 1018h1v1h-1M1282 1018h1v1h-1M1339 1018h1v1h-1M1355 1018h1v1h-1M1391 1018h1v1h-1M1393 1018h1v1h-1M1422 1018h1v1h-1M1454 1018h1v1h-1M1456 1018h1v1h-1M1375 1018h2v2h-2M1233 1018h2v4h-2M1261 1018h1v5h-1M1280 1018h1v5h-1M1169 1018h1v6h-1M1207 1018h1v11h-1M845 1019h1v1h-1M969 1019h2v1h-2M1070 1019h1v1h-1M1101 1019h1v1h-1M1252 1019h1v1h-1M1293 1019h1v1h-1M1319 1019h1v1h-1M1392 1019h1v1h-1M1400 1019h1v1h-1M1440 1019h1v1h-1M1362 1019h1v2h-1M1359 1019h1v3h-1M1201 1019h1v9h-1M1241 1019h1v11h-1M903 1020h1v1h-1M992 1020h1v1h-1M995 1020h1v1h-1M1057 1020h1v1h-1M1189 1020h2v1h-2M1192 1020h1v1h-1M1204 1020h1v1h-1M1244 1020h1v1h-1M1263 1020h1v1h-1M1278 1020h1v1h-1M1281 1020h1v1h-1M1287 1020h1v1h-1M1295 1020h1v1h-1M1308 1020h1v1h-1M1322 1020h1v1h-1M1351 1020h1v1h-1M1379 1020h1v1h-1M1404 1020h1v1h-1M1454 1020h3v1h-3M1311 1020h1v2h-1M1348 1020h1v2h-1M1355 1020h1v2h-1M1301 1020h1v4h-1M1354 1020h1v5h-1M1302 1020h1v6h-1M1349 1020h1v7h-1M876 1021h1v1h-1M898 1021h1v1h-1M955 1021h1v1h-1M1020 1021h1v1h-1M1181 1021h1v1h-1M1206 1021h1v1h-1M1235 1021h1v1h-1M1246 1021h1v1h-1M1250 1021h1v1h-1M1255 1021h1v1h-1M1313 1021h1v1h-1M1343 1021h1v1h-1M1395 1021h1v1h-1M1435 1021h1v1h-1M1130 1021h1v2h-1M1262 1021h1v2h-1M1267 1021h1v2h-1M1330 1021h1v4h-1M1347 1021h1v4h-1M1175 1021h1v5h-1M1170 1021h1v8h-1M919 1022h1v1h-1M1056 1022h1v1h-1M1059 1022h1v1h-1M1135 1022h1v1h-1M1212 1022h1v1h-1M1268 1022h1v1h-1M1281 1022h1v1h-1M1286 1022h1v1h-1M1295 1022h1v1h-1M1320 1022h1v1h-1M1434 1022h1v1h-1M971 1022h1v2h-1M1276 1022h1v2h-1M1439 1022h1v2h-1M1244 1022h1v3h-1M1247 1022h2v4h-2M1372 1022h1v4h-1M1204 1022h1v7h-1M942 1023h1v1h-1M1005 1023h1v1h-1M1031 1023h1v1h-1M1118 1023h1v1h-1M1141 1023h1v1h-1M1191 1023h1v1h-1M1206 1023h1v1h-1M1222 1023h1v1h-1M1226 1023h2v1h-2M1285 1023h1v1h-1M1378 1023h1v1h-1M1384 1023h1v1h-1M1410 1023h1v1h-1M1188 1023h1v2h-1M1192 1023h1v2h-1M1233 1023h3v3h-3M1348 1023h1v3h-1M1373 1023h1v3h-1M1337 1023h1v7h-1M1181 1023h1v10h-1M910 1024h1v1h-1M958 1024h1v1h-1M1072 1024h1v1h-1M1159 1024h1v1h-1M1238 1024h1v1h-1M1275 1024h1v1h-1M1290 1024h1v1h-1M1352 1024h1v1h-1M1359 1024h1v1h-1M1414 1024h1v1h-1M1420 1024h1v1h-1M1430 1024h1v1h-1M1267 1024h1v2h-1M1306 1024h1v3h-1M1307 1024h1v4h-1M1444 1024h2v5h-2M944 1025h1v1h-1M968 1025h1v1h-1M971 1025h2v1h-2M988 1025h1v1h-1M1066 1025h1v1h-1M1167 1025h1v1h-1M1174 1025h1v1h-1M1200 1025h1v1h-1M1256 1025h1v1h-1M1276 1025h1v1h-1M1288 1025h1v1h-1M1301 1025h1v1h-1M1315 1025h1v1h-1M1317 1025h1v1h-1M1424 1025h1v1h-1M1320 1025h1v4h-1M935 1026h1v1h-1M1008 1026h1v1h-1M1119 1026h1v1h-1M1133 1026h1v1h-1M1193 1026h1v1h-1M1199 1026h1v1h-1M1222 1026h1v1h-1M1322 1026h1v1h-1M1347 1026h1v1h-1M1384 1026h1v1h-1M1395 1026h1v1h-1M1405 1026h1v1h-1M1426 1026h1v1h-1M1429 1026h1v1h-1M1432 1026h1v1h-1M1439 1026h1v1h-1M1449 1026h1v1h-1M1292 1026h1v2h-1M1336 1026h1v2h-1M1343 1026h1v2h-1M1332 1026h1v3h-1M1334 1026h1v3h-1M1335 1026h1v4h-1M1333 1026h1v6h-1M1339 1026h1v7h-1M1006 1027h1v1h-1M1021 1027h1v1h-1M1048 1027h1v1h-1M1224 1027h2v1h-2M1240 1027h1v1h-1M1247 1027h2v1h-2M1287 1027h1v1h-1M1301 1027h2v1h-2M1362 1027h1v1h-1M1393 1027h1v1h-1M1414 1027h1v1h-1M1441 1027h1v1h-1M1244 1027h1v2h-1M1286 1027h1v2h-1M875 1028h1v1h-1M882 1028h1v1h-1M931 1028h1v1h-1M975 1028h1v1h-1M1036 1028h1v1h-1M1061 1028h1v1h-1M1069 1028h1v1h-1M1155 1028h1v1h-1M1173 1028h1v1h-1M1175 1028h1v1h-1M1179 1028h1v1h-1M1185 1028h1v1h-1M1191 1028h2v1h-2M1317 1028h1v1h-1M1328 1028h1v1h-1M1356 1028h1v1h-1M1395 1028h1v1h-1M1432 1028h1v1h-1M1009 1028h1v2h-1M1273 1028h1v2h-1M841 1029h1v1h-1M847 1029h1v1h-1M876 1029h1v1h-1M1060 1029h1v1h-1M1073 1029h1v1h-1M1122 1029h1v1h-1M1138 1029h1v1h-1M1153 1029h1v1h-1M1187 1029h1v1h-1M1201 1029h1v1h-1M1258 1029h1v1h-1M1293 1029h1v1h-1M1306 1029h2v1h-2M1336 1029h1v1h-1M1342 1029h1v1h-1M1405 1029h1v1h-1M1420 1029h1v1h-1M1422 1029h1v1h-1M1127 1029h1v2h-1M1217 1029h1v2h-1M1279 1029h1v3h-1M1242 1029h2v4h-2M829 1030h1v1h-1M838 1030h1v1h-1M959 1030h1v1h-1M962 1030h1v1h-1M982 1030h1v1h-1M1021 1030h1v1h-1M1053 1030h1v1h-1M1091 1030h1v1h-1M1094 1030h1v1h-1M1170 1030h1v1h-1M1204 1030h1v1h-1M1250 1030h1v1h-1M1286 1030h1v1h-1M1309 1030h1v1h-1M1313 1030h1v1h-1M1320 1030h1v1h-1M1444 1030h2v1h-2M1332 1030h1v2h-1M1437 1030h1v2h-1M1331 1030h1v8h-1M927 1031h1v1h-1M954 1031h1v1h-1M1056 1031h1v1h-1M1069 1031h1v1h-1M1081 1031h1v1h-1M1143 1031h1v1h-1M1180 1031h1v1h-1M1187 1031h1v1h-1M1229 1031h1v1h-1M1275 1031h1v1h-1M1363 1031h2v1h-2M1443 1031h1v1h-1M1224 1031h1v2h-1M1241 1031h1v2h-1M1271 1031h1v2h-1M1334 1031h3v2h-3M1395 1031h3v3h-3M1442 1031h1v3h-1M1272 1031h1v5h-1M1177 1031h2v7h-2M870 1032h1v1h-1M989 1032h1v1h-1M1000 1032h1v1h-1M1090 1032h1v1h-1M1112 1032h1v1h-1M1132 1032h1v1h-1M1221 1032h3v1h-3M1270 1032h1v1h-1M1306 1032h2v1h-2M1320 1032h1v1h-1M1329 1032h1v1h-1M1337 1032h2v1h-2M1344 1032h1v1h-1M1408 1032h1v1h-1M1422 1032h1v1h-1M1427 1032h1v1h-1M1217 1032h1v2h-1M1441 1032h1v3h-1M1002 1033h1v1h-1M1099 1033h1v1h-1M1201 1033h1v1h-1M1215 1033h2v1h-2M1274 1033h1v1h-1M1282 1033h1v1h-1M1315 1033h1v1h-1M1319 1033h1v1h-1M1340 1033h1v1h-1M1366 1033h1v1h-1M1417 1033h1v1h-1M1432 1033h3v1h-3M1230 1033h1v2h-1M1363 1033h2v2h-2M1350 1033h1v4h-1M1443 1033h1v6h-1M1193 1033h2v7h-2M837 1034h1v1h-1M908 1034h1v1h-1M974 1034h1v1h-1M1009 1034h1v1h-1M1015 1034h1v1h-1M1022 1034h1v1h-1M1070 1034h1v1h-1M1192 1034h1v1h-1M1204 1034h1v1h-1M1222 1034h2v1h-2M1241 1034h1v1h-1M1269 1034h1v1h-1M1276 1034h1v1h-1M1286 1034h1v1h-1M1300 1034h1v1h-1M1306 1034h2v1h-2M1418 1034h2v1h-2M1422 1034h1v1h-1M1431 1034h1v1h-1M1453 1034h1v1h-1M1271 1034h1v2h-1M1287 1034h1v2h-1M1398 1034h1v2h-1M1221 1034h1v3h-1M1351 1034h2v3h-2M1238 1034h1v4h-1M1429 1034h1v5h-1M1400 1034h1v7h-1M1428 1034h1v7h-1M1430 1034h1v7h-1M1399 1034h1v8h-1M888 1035h1v1h-1M980 1035h1v1h-1M1072 1035h1v1h-1M1079 1035h1v1h-1M1084 1035h1v1h-1M1182 1035h1v1h-1M1228 1035h1v1h-1M1279 1035h1v1h-1M1323 1035h1v1h-1M1339 1035h2v1h-2M1342 1035h2v1h-2M1232 1035h1v2h-1M1395 1035h3v3h-3M1442 1035h1v4h-1M1183 1035h1v5h-1M1184 1035h1v6h-1M1216 1035h1v6h-1M887 1036h1v1h-1M977 1036h1v1h-1M998 1036h1v1h-1M1078 1036h1v1h-1M1100 1036h1v1h-1M1125 1036h1v1h-1M1171 1036h1v1h-1M1181 1036h1v1h-1M1227 1036h1v1h-1M1230 1036h1v1h-1M1241 1036h1v1h-1M1249 1036h1v1h-1M1326 1036h1v1h-1M1363 1036h2v1h-2M1403 1036h2v1h-2M1410 1036h1v1h-1M1449 1036h1v1h-1M1222 1036h1v2h-1M1435 1036h1v2h-1M1180 1036h1v5h-1M1215 1036h1v5h-1M1258 1036h2v5h-2M1450 1036h1v10h-1M826 1037h1v1h-1M835 1037h1v1h-1M911 1037h1v1h-1M985 1037h1v1h-1M1103 1037h1v1h-1M1107 1037h1v1h-1M1195 1037h2v1h-2M1201 1037h1v1h-1M1223 1037h1v1h-1M1384 1037h1v1h-1M1432 1037h1v1h-1M1458 1037h1v1h-1M1324 1037h1v2h-1M1340 1037h2v2h-2M1343 1037h1v2h-1M1383 1037h1v2h-1M1325 1037h1v3h-1M1342 1037h1v3h-1M1182 1037h1v4h-1M1398 1037h1v5h-1M1418 1037h2v5h-2M882 1038h2v1h-2M897 1038h1v1h-1M899 1038h1v1h-1M1087 1038h1v1h-1M1101 1038h1v1h-1M1117 1038h1v1h-1M1138 1038h1v1h-1M1166 1038h1v1h-1M1174 1038h1v1h-1M1181 1038h1v1h-1M1251 1038h1v1h-1M1293 1038h1v1h-1M1350 1038h3v1h-3M1363 1038h2v1h-2M1378 1038h1v1h-1M1441 1038h1v1h-1M1093 1038h1v2h-1M1232 1038h1v2h-1M1345 1038h1v2h-1M1408 1038h3v3h-3M1402 1038h3v5h-3M1449 1038h1v8h-1M1168 1039h1v1h-1M1221 1039h3v1h-3M1226 1039h1v1h-1M1229 1039h2v1h-2M1263 1039h1v1h-1M1273 1039h1v1h-1M1309 1039h1v1h-1M1314 1039h1v1h-1M1318 1039h1v1h-1M1426 1039h1v1h-1M1407 1039h1v4h-1M1195 1039h1v5h-1M922 1040h1v1h-1M1063 1040h1v1h-1M1077 1040h1v1h-1M1154 1040h1v1h-1M1197 1040h1v1h-1M1241 1040h1v1h-1M1278 1040h1v1h-1M1331 1040h1v1h-1M1339 1040h1v1h-1M1344 1040h1v1h-1M1365 1040h3v1h-3M1385 1040h1v1h-1M1413 1040h1v1h-1M1423 1040h1v1h-1M1181 1040h1v2h-1M1384 1040h1v3h-1M1406 1040h1v3h-1M1196 1040h1v4h-1M820 1041h1v1h-1M930 1041h1v1h-1M932 1041h1v1h-1M1083 1041h1v1h-1M1206 1041h1v1h-1M1289 1041h1v1h-1M1303 1041h2v1h-2M1310 1041h1v1h-1M1324 1041h2v1h-2M1353 1041h1v1h-1M1411 1041h1v1h-1M1417 1041h1v1h-1M1426 1041h1v1h-1M1433 1041h1v1h-1M1176 1041h1v2h-1M1193 1041h2v2h-2M1383 1041h1v2h-1M1205 1041h1v4h-1M1249 1041h2v4h-2M1173 1041h2v7h-2M1305 1041h1v7h-1M1386 1041h1v7h-1M855 1042h1v1h-1M915 1042h1v1h-1M999 1042h1v1h-1M1052 1042h1v1h-1M1075 1042h1v1h-1M1168 1042h1v1h-1M1197 1042h1v1h-1M1210 1042h2v1h-2M1221 1042h2v1h-2M1245 1042h1v1h-1M1266 1042h1v1h-1M1278 1042h1v1h-1M1317 1042h1v1h-1M1331 1042h1v1h-1M1385 1042h1v1h-1M1392 1042h1v1h-1M1408 1042h3v1h-3M1414 1042h1v1h-1M1428 1042h3v1h-3M1318 1042h2v3h-2M1257 1042h1v6h-1M1365 1042h2v7h-2M851 1043h1v1h-1M871 1043h1v1h-1M886 1043h1v1h-1M914 1043h1v1h-1M1021 1043h1v1h-1M1086 1043h1v1h-1M1091 1043h1v1h-1M1104 1043h1v1h-1M1199 1043h1v1h-1M1269 1043h1v1h-1M1303 1043h1v1h-1M1282 1043h1v2h-1M1304 1043h1v2h-1M1417 1043h3v2h-3M1412 1043h1v3h-1M1421 1043h1v4h-1M1416 1043h1v5h-1M1434 1043h2v5h-2M1283 1043h1v6h-1M1008 1044h1v1h-1M1051 1044h1v1h-1M1083 1044h1v1h-1M1102 1044h1v1h-1M1168 1044h1v1h-1M1176 1044h1v1h-1M1181 1044h1v1h-1M1197 1044h1v1h-1M1274 1044h1v1h-1M1313 1044h1v1h-1M1317 1044h1v1h-1M1402 1044h3v1h-3M1408 1044h3v1h-3M1413 1044h1v1h-1M1420 1044h1v1h-1M1180 1044h1v2h-1M1357 1044h1v4h-1M849 1045h1v1h-1M857 1045h1v1h-1M1037 1045h1v1h-1M1040 1045h1v1h-1M1071 1045h1v1h-1M1198 1045h1v1h-1M1215 1045h2v1h-2M1256 1045h1v1h-1M1260 1045h1v1h-1M1303 1045h1v1h-1M1309 1045h1v1h-1M1327 1045h3v1h-3M1344 1045h1v1h-1M1374 1045h1v1h-1M1379 1045h1v1h-1M1385 1045h1v1h-1M1436 1045h1v1h-1M1438 1045h1v1h-1M1163 1045h1v2h-1M1195 1045h2v2h-2M1300 1045h1v2h-1M1199 1045h1v4h-1M833 1046h1v1h-1M848 1046h1v1h-1M861 1046h1v1h-1M935 1046h1v1h-1M949 1046h1v1h-1M1030 1046h1v1h-1M1033 1046h1v1h-1M1054 1046h1v1h-1M1176 1046h1v1h-1M1194 1046h1v1h-1M1200 1046h1v1h-1M1276 1046h1v1h-1M1282 1046h1v1h-1M1289 1046h1v1h-1M1312 1046h1v1h-1M1392 1046h1v1h-1M1428 1046h3v1h-3M1205 1046h1v2h-1M1304 1046h1v2h-1M1417 1046h1v2h-1M1219 1046h1v6h-1M1275 1046h1v10h-1M1277 1046h1v11h-1M829 1047h1v1h-1M843 1047h1v1h-1M906 1047h1v1h-1M920 1047h1v1h-1M939 1047h1v1h-1M1017 1047h1v1h-1M1115 1047h1v1h-1M1137 1047h1v1h-1M1153 1047h1v1h-1M1225 1047h1v1h-1M1237 1047h1v1h-1M1303 1047h1v1h-1M1385 1047h1v1h-1M1390 1047h1v1h-1M1402 1047h2v1h-2M1449 1047h1v1h-1M1198 1047h1v2h-1M1308 1047h2v2h-2M1327 1047h3v3h-3M1315 1047h2v6h-2M858 1048h1v1h-1M959 1048h1v1h-1M1047 1048h1v1h-1M1089 1048h1v1h-1M1099 1048h1v1h-1M1179 1048h1v1h-1M1193 1048h2v1h-2M1220 1048h1v1h-1M1282 1048h1v1h-1M1293 1048h1v1h-1M1428 1048h3v1h-3M1392 1048h1v2h-1M1411 1048h1v3h-1M1163 1048h1v6h-1M875 1049h1v1h-1M963 1049h1v1h-1M965 1049h1v1h-1M1050 1049h1v1h-1M1130 1049h1v1h-1M1195 1049h1v1h-1M1269 1049h1v1h-1M1386 1049h1v1h-1M1421 1049h1v1h-1M1426 1049h1v1h-1M1436 1049h1v1h-1M1449 1049h2v1h-2M1210 1049h1v2h-1M1378 1049h1v2h-1M1431 1049h1v2h-1M1433 1049h2v2h-2M1211 1049h2v3h-2M1432 1049h1v4h-1M1379 1049h2v5h-2M1276 1049h1v8h-1M834 1050h1v1h-1M1014 1050h1v1h-1M1043 1050h1v1h-1M1199 1050h1v1h-1M1231 1050h1v1h-1M1284 1050h1v1h-1M1417 1050h1v1h-1M1435 1050h1v1h-1M1173 1050h1v2h-1M1308 1050h2v2h-2M1385 1050h1v2h-1M1353 1050h1v5h-1M1239 1050h1v6h-1M861 1051h1v1h-1M903 1051h1v1h-1M977 1051h1v1h-1M1004 1051h1v1h-1M1017 1051h1v1h-1M1171 1051h1v1h-1M1174 1051h1v1h-1M1227 1051h1v1h-1M1365 1051h2v1h-2M1386 1051h1v1h-1M1425 1051h1v1h-1M1427 1051h1v1h-1M1392 1051h1v2h-1M1327 1051h3v3h-3M1413 1051h1v4h-1M1240 1051h1v5h-1M923 1052h1v1h-1M1011 1052h1v1h-1M1179 1052h1v1h-1M1198 1052h2v1h-2M1203 1052h1v1h-1M1231 1052h1v1h-1M1273 1052h1v1h-1M1282 1052h2v1h-2M1314 1052h1v1h-1M1360 1052h1v1h-1M1411 1052h1v1h-1M1431 1052h1v1h-1M1433 1052h1v1h-1M1237 1052h1v2h-1M1288 1052h2v3h-2M1414 1052h1v3h-1M1378 1052h1v4h-1M1185 1052h1v7h-1M823 1053h1v1h-1M1048 1053h1v1h-1M1218 1053h2v1h-2M1229 1053h1v1h-1M1192 1053h1v3h-1M1311 1053h1v3h-1M1167 1053h2v4h-2M1172 1053h1v4h-1M1310 1053h1v4h-1M1312 1053h1v4h-1M1186 1053h1v6h-1M1427 1053h1v6h-1M984 1054h1v1h-1M1039 1054h1v1h-1M1068 1054h1v1h-1M1118 1054h1v1h-1M1263 1054h2v1h-2M1308 1054h2v1h-2M1360 1054h2v1h-2M1366 1054h1v1h-1M1228 1054h1v2h-1M1245 1054h1v2h-1M1278 1054h1v2h-1M1411 1054h1v2h-1M1344 1054h2v3h-2M1231 1054h1v5h-1M1423 1054h2v6h-2M928 1055h1v1h-1M960 1055h1v1h-1M972 1055h1v1h-1M1083 1055h1v1h-1M1104 1055h1v1h-1M1156 1055h2v1h-2M1219 1055h1v1h-1M1367 1055h1v1h-1M1374 1055h1v1h-1M1385 1055h2v1h-2M1227 1055h1v2h-1M1321 1055h2v2h-2M1393 1055h1v2h-1M1225 1055h2v4h-2M1237 1055h1v4h-1M1394 1055h1v4h-1M1294 1055h1v5h-1M1422 1055h1v5h-1M849 1056h1v1h-1M961 1056h1v1h-1M1068 1056h1v1h-1M1105 1056h1v1h-1M1163 1056h1v1h-1M1187 1056h1v1h-1M1263 1056h2v1h-2M1297 1056h1v1h-1M1390 1056h1v1h-1M1420 1056h1v1h-1M1436 1056h1v1h-1M1438 1056h1v2h-1M1269 1056h2v4h-2M1437 1056h1v4h-1M825 1057h1v1h-1M1191 1057h1v1h-1M1200 1057h1v1h-1M1203 1057h1v1h-1M1192 1057h1v3h-1M1188 1057h3v6h-3M820 1058h1v1h-1M823 1058h1v1h-1M940 1058h1v1h-1M980 1058h1v1h-1M1082 1058h1v1h-1M1113 1058h1v1h-1M1390 1058h1v1h-1M1393 1058h1v1h-1M1227 1058h1v2h-1M1436 1058h1v2h-1M856 1059h1v1h-1M908 1059h1v1h-1M912 1059h1v1h-1M962 1059h1v1h-1M1071 1059h1v1h-1M1118 1059h1v1h-1M1275 1059h3v1h-3M1438 1059h1v1h-1M1453 1059h1v1h-1M889 1060h1v1h-1M901 1060h1v1h-1M996 1060h1v1h-1M1040 1060h1v1h-1M1097 1060h2v1h-2M1127 1060h1v1h-1M1142 1060h1v1h-1M1185 1060h2v1h-2M1203 1060h1v1h-1M1458 1060h1v1h-1M1427 1060h1v3h-1M852 1060h2v6h-2M829 1061h1v1h-1M902 1061h1v1h-1M973 1061h1v1h-1M1003 1061h1v1h-1M1090 1061h1v1h-1M1171 1061h1v1h-1M1420 1061h1v1h-1M957 1061h3v2h-3M1275 1061h3v2h-3M1422 1061h3v2h-3M828 1061h1v5h-1M830 1061h1v5h-1M890 1061h2v5h-2M851 1062h1v1h-1M1053 1062h1v1h-1M1112 1062h1v1h-1M1203 1062h1v1h-1M880 1063h1v1h-1M932 1063h1v1h-1M985 1063h1v1h-1M1131 1063h1v1h-1M1451 1063h1v1h-1M1091 1063h1v2h-1M829 1063h1v3h-1M858 1063h1v5h-1M859 1063h1v7h-1M885 1064h1v1h-1M961 1064h1v1h-1M1048 1064h1v1h-1M1367 1064h1v2h-1M1220 1064h1v3h-1M878 1065h1v1h-1M900 1065h1v1h-1M916 1065h1v1h-1M1135 1065h1v1h-1M1251 1065h1v1h-1M1256 1065h1v1h-1M1294 1065h1v1h-1M1368 1065h1v1h-1M867 1065h2v3h-2M926 1065h1v3h-1M957 1065h3v3h-3M834 1066h1v1h-1M850 1066h1v1h-1M936 1066h1v1h-1M1187 1066h1v1h-1M1323 1066h1v1h-1M1453 1066h1v1h-1M1458 1066h1v1h-1M928 1066h2v2h-2M950 1066h2v2h-2M1273 1066h1v2h-1M831 1066h1v9h-1M846 1067h1v1h-1M872 1067h1v1h-1M877 1067h1v1h-1M908 1067h1v1h-1M927 1067h1v1h-1M1080 1067h1v1h-1M1150 1067h1v1h-1M1154 1067h1v1h-1M1368 1067h1v1h-1M892 1068h1v1h-1M920 1068h1v1h-1M940 1068h1v1h-1M964 1068h1v1h-1M998 1068h1v1h-1M1012 1068h1v1h-1M1068 1068h1v1h-1M1086 1068h1v1h-1M1224 1068h1v1h-1M1298 1068h1v1h-1M1011 1068h1v2h-1M1013 1068h1v2h-1M1091 1068h1v2h-1M953 1068h1v4h-1M952 1068h1v5h-1M858 1069h1v1h-1M1127 1069h1v1h-1M1166 1069h1v1h-1M849 1070h1v1h-1M893 1070h1v1h-1M1042 1070h1v1h-1M1062 1070h1v1h-1M1093 1070h1v1h-1M1236 1070h1v1h-1M873 1070h3v3h-3M974 1070h1v4h-1M980 1070h2v5h-2M975 1070h1v7h-1M838 1071h1v1h-1M1049 1071h1v1h-1M1356 1071h1v1h-1M1367 1071h1v1h-1M1390 1071h1v1h-1M861 1072h1v1h-1M895 1072h1v1h-1M898 1072h2v1h-2M1142 1072h1v1h-1M1187 1072h1v1h-1M1374 1072h1v1h-1M845 1073h1v1h-1M960 1073h1v1h-1M973 1073h1v1h-1M977 1073h1v1h-1M1007 1073h1v1h-1M1018 1073h1v1h-1M1066 1073h1v1h-1M878 1073h3v2h-3M1013 1073h1v4h-1M957 1073h3v5h-3M988 1073h2v5h-2M1011 1073h1v6h-1M979 1073h1v9h-1M1012 1073h1v9h-1M1091 1073h1v9h-1M915 1073h3v18h-3M821 1074h1v1h-1M1115 1074h1v1h-1M1254 1074h1v1h-1M1298 1074h1v1h-1M1451 1074h1v1h-1M1179 1074h1v2h-1M846 1075h1v1h-1M1202 1075h1v1h-1M974 1075h1v3h-1M1055 1075h2v3h-2M942 1075h1v5h-1M820 1075h1v6h-1M940 1075h2v7h-2M882 1075h1v11h-1M1000 1075h1v11h-1M1150 1076h1v1h-1M1203 1076h1v1h-1M1220 1076h1v1h-1M1358 1076h1v1h-1M845 1076h1v2h-1M846 1077h1v1h-1M933 1077h1v1h-1M983 1077h1v1h-1M1023 1077h1v1h-1M1070 1077h1v1h-1M1284 1077h1v1h-1M900 1078h1v1h-1M949 1078h1v1h-1M997 1078h1v1h-1M1054 1078h1v1h-1M1086 1078h1v1h-1M1254 1078h1v1h-1M1458 1078h1v1h-1M907 1078h3v4h-3M943 1078h1v4h-1M1013 1078h1v4h-1M865 1078h2v8h-2M925 1079h1v1h-1M964 1079h1v1h-1M1047 1079h1v1h-1M1251 1079h1v1h-1M1426 1079h1v1h-1M819 1080h1v1h-1M976 1080h1v1h-1M985 1080h1v1h-1M1043 1080h1v1h-1M1108 1080h1v1h-1M1140 1080h1v1h-1M1313 1080h1v1h-1M1346 1080h1v1h-1M1420 1080h1v1h-1M1011 1080h1v2h-1M1136 1080h1v2h-1M1054 1080h1v11h-1M942 1081h1v1h-1M997 1081h1v1h-1M1035 1081h1v1h-1M1046 1081h1v1h-1M1072 1081h1v1h-1M1131 1081h1v1h-1M1159 1081h1v1h-1M845 1081h1v10h-1M902 1082h1v1h-1M1010 1082h1v1h-1M1025 1082h1v1h-1M1051 1082h1v1h-1M1104 1082h1v1h-1M846 1082h1v3h-1M920 1082h1v3h-1M1027 1082h1v3h-1M921 1082h1v4h-1M1078 1082h1v4h-1M1006 1082h1v9h-1M854 1082h2v15h-2M860 1083h1v1h-1M881 1083h1v1h-1M976 1083h1v1h-1M1035 1083h1v1h-1M1068 1083h1v1h-1M1114 1083h1v1h-1M922 1083h1v3h-1M885 1084h1v1h-1M956 1084h1v1h-1M1200 1084h1v1h-1M963 1085h1v1h-1M999 1085h1v1h-1M1154 1085h1v1h-1M1203 1085h1v1h-1M1356 1085h1v2h-1M945 1086h1v1h-1M1108 1086h1v1h-1M1179 1086h1v1h-1M862 1086h1v3h-1M967 1086h1v3h-1M1056 1086h1v3h-1M1071 1086h1v4h-1M846 1086h1v5h-1M863 1086h1v5h-1M885 1086h3v5h-3M904 1086h2v5h-2M936 1086h2v5h-2M964 1086h1v5h-1M966 1086h1v5h-1M982 1086h2v5h-2M1027 1086h1v5h-1M1055 1086h1v5h-1M1102 1086h1v9h-1M848 1086h3v11h-3M1010 1086h1v11h-1M1052 1086h1v11h-1M1083 1086h1v11h-1M871 1086h1v14h-1M912 1086h1v16h-1M872 1086h1v20h-1M1103 1086h1v20h-1M954 1086h1v35h-1M864 1087h1v1h-1M991 1087h1v1h-1M1256 1087h1v1h-1M1274 1087h1v1h-1M1229 1087h1v2h-1M965 1087h1v4h-1M888 1088h1v1h-1M914 1088h1v1h-1M1031 1088h1v1h-1M1157 1088h1v1h-1M955 1089h1v1h-1M1001 1089h1v1h-1M1109 1089h1v1h-1M1256 1089h1v1h-1M1358 1089h1v1h-1M1202 1089h1v2h-1M862 1090h1v1h-1M967 1090h1v1h-1M1056 1090h1v1h-1M1218 1090h1v1h-1M1260 1090h1v1h-1M1273 1090h1v1h-1M838 1091h1v1h-1M973 1091h1v1h-1M1085 1091h1v1h-1M1114 1091h1v1h-1M1161 1091h1v1h-1M902 1091h1v4h-1M893 1091h1v6h-1M903 1091h1v6h-1M1066 1091h2v6h-2M1125 1091h2v6h-2M1078 1091h1v15h-1M1041 1091h1v26h-1M1042 1091h1v30h-1M933 1092h1v1h-1M972 1092h1v1h-1M1140 1092h1v1h-1M1203 1092h1v1h-1M1390 1092h1v1h-1M1063 1093h1v1h-1M1123 1093h1v1h-1M1298 1093h1v1h-1M997 1094h1v1h-1M1003 1094h1v1h-1M1108 1094h1v1h-1M1145 1094h1v1h-1M1346 1094h1v1h-1M843 1095h1v1h-1M925 1095h1v1h-1M976 1095h1v1h-1M1026 1095h1v1h-1M1113 1095h1v1h-1M1218 1095h1v1h-1M902 1096h1v1h-1M1089 1096h1v1h-1M1105 1096h1v1h-1M1136 1096h1v1h-1M1149 1096h1v1h-1M1254 1096h1v1h-1M1323 1096h1v1h-1M1391 1096h1v1h-1M1102 1096h1v10h-1M1039 1097h1v1h-1M1218 1097h1v1h-1M1229 1097h1v1h-1M1092 1097h1v9h-1M1101 1097h1v9h-1M1016 1097h1v24h-1M923 1098h1v1h-1M1134 1098h1v1h-1M1451 1098h1v1h-1M1052 1098h1v23h-1M1023 1099h1v1h-1M1063 1099h1v1h-1M1200 1099h1v1h-1M1028 1100h1v1h-1M1112 1100h1v1h-1M1191 1100h1v1h-1M1291 1100h1v1h-1M1097 1100h1v2h-1M1358 1100h1v2h-1M1142 1101h1v1h-1M1256 1101h1v1h-1M1290 1101h1v1h-1M1323 1101h1v1h-1M871 1101h1v5h-1M1072 1102h1v1h-1M1076 1102h1v1h-1M1118 1102h1v1h-1M1154 1102h1v1h-1M1202 1102h1v1h-1M945 1103h1v1h-1M1059 1103h1v1h-1M1069 1103h1v1h-1M1097 1103h1v1h-1M1220 1103h1v1h-1M1284 1103h1v1h-1M912 1103h1v3h-1M944 1104h1v1h-1M1002 1104h1v1h-1M1005 1104h1v1h-1M1374 1104h1v1h-1M1458 1104h1v1h-1M1254 1105h1v1h-1M1368 1105h1v1h-1M1236 1105h1v2h-1M930 1106h1v1h-1M945 1106h1v1h-1M973 1106h1v1h-1M1139 1106h1v1h-1M1251 1106h1v1h-1M1346 1106h1v1h-1M1374 1106h1v1h-1M1415 1106h1v1h-1M845 1106h1v9h-1M846 1106h1v15h-1M1019 1106h1v15h-1M839 1107h1v1h-1M883 1107h1v1h-1M962 1107h1v1h-1M1059 1107h1v1h-1M1072 1107h1v1h-1M1098 1107h1v1h-1M1297 1107h1v1h-1M1078 1107h1v7h-1M861 1108h1v1h-1M1008 1108h1v1h-1M1203 1108h1v1h-1M1374 1108h1v1h-1M841 1109h1v1h-1M910 1109h1v1h-1M1132 1109h1v1h-1M1367 1109h1v1h-1M1043 1110h1v1h-1M1064 1110h1v1h-1M1118 1110h1v1h-1M1060 1111h1v1h-1M1323 1111h1v1h-1M1197 1112h1v1h-1M1044 1113h1v1h-1M1109 1113h1v1h-1M1218 1113h1v1h-1M1290 1113h1v1h-1M1076 1114h1v1h-1M1179 1114h1v1h-1M1254 1114h1v1h-1M1260 1114h1v1h-1M1284 1114h1v1h-1M1293 1114h1v1h-1M1298 1114h1v1h-1M1326 1114h1v1h-1M864 1115h1v1h-1M1015 1115h1v1h-1M1024 1115h1v1h-1M1218 1115h1v1h-1M1323 1115h1v1h-1M1078 1115h1v6h-1M899 1116h1v1h-1M961 1116h1v1h-1M1003 1116h1v1h-1M1028 1116h1v1h-1M1036 1116h1v1h-1M1048 1116h1v1h-1M1147 1116h1v1h-1M1390 1116h1v1h-1M845 1116h1v3h-1M892 1117h1v1h-1M896 1117h1v1h-1M1007 1117h1v1h-1M1060 1117h1v1h-1M1104 1117h1v1h-1M1149 1117h1v1h-1M1158 1117h1v1h-1M1015 1118h1v1h-1M1140 1118h1v1h-1M1197 1118h1v1h-1M1297 1118h1v1h-1M1041 1118h1v3h-1M1028 1119h1v1h-1M1124 1119h1v1h-1M1146 1119h1v1h-1M1266 1119h1v1h-1M1296 1119h1v1h-1M1391 1119h1v1h-1M1453 1119h1v1h-1M845 1120h1v1h-1M857 1120h1v1h-1M984 1120h1v1h-1M1014 1120h1v1h-1M1081 1120h1v1h-1M1203 1120h1v1h-1M1290 1120h1v1h-1"/><path fill="#0000ff" d="M921 970h1v1h-1M1049 970h2v1h-2M1158 970h1v1h-1M1252 970h1v1h-1M1267 970h1v1h-1M1276 970h1v1h-1M1279 970h1v1h-1M1287 970h1v1h-1M1319 970h1v1h-1M1412 970h1v1h-1M1454 970h1v1h-1M835 971h1v1h-1M914 971h1v1h-1M1207 971h1v1h-1M1216 971h1v1h-1M1273 971h1v1h-1M1367 971h1v1h-1M1287 972h1v1h-1M1337 972h1v1h-1M1384 972h1v1h-1M1402 972h1v1h-1M1452 972h1v1h-1M1182 973h1v1h-1M1184 973h1v1h-1M1310 973h1v1h-1M1335 973h1v1h-1M1181 974h1v1h-1M1234 974h1v1h-1M1333 974h1v1h-1M1401 974h1v1h-1M973 975h1v1h-1M1272 975h1v1h-1M1353 975h1v1h-1M1391 975h1v1h-1M1397 975h1v1h-1M1412 975h1v1h-1M1455 975h1v1h-1M1104 975h1v2h-1M932 976h1v1h-1M936 976h1v1h-1M945 976h1v1h-1M1202 976h2v1h-2M1208 976h1v1h-1M1338 976h1v1h-1M1424 976h1v1h-1M1206 977h1v1h-1M1265 977h1v1h-1M1288 977h1v1h-1M1375 977h1v1h-1M869 978h1v1h-1M918 978h1v1h-1M975 978h1v1h-1M1065 978h1v1h-1M1174 978h1v1h-1M1182 978h1v1h-1M1314 978h1v1h-1M1357 978h1v1h-1M1418 978h1v1h-1M1191 979h1v1h-1M1197 979h1v1h-1M1230 979h1v1h-1M1302 979h1v1h-1M966 980h1v1h-1M1196 980h1v1h-1M1323 980h1v1h-1M1384 980h1v1h-1M1423 980h1v1h-1M827 981h1v1h-1M873 981h1v1h-1M920 981h1v1h-1M1166 981h1v1h-1M1263 981h1v1h-1M1322 981h1v1h-1M1359 981h1v1h-1M1411 981h1v1h-1M825 982h1v1h-1M869 982h1v1h-1M896 982h1v1h-1M1242 982h1v1h-1M1403 982h1v1h-1M1079 983h1v1h-1M1152 983h1v1h-1M1214 983h1v1h-1M1335 983h1v1h-1M1398 983h1v1h-1M939 984h1v1h-1M1310 984h1v1h-1M1374 984h1v1h-1M1394 984h1v1h-1M1446 984h1v1h-1M879 985h1v1h-1M969 985h1v1h-1M1170 985h1v1h-1M1237 985h1v1h-1M1380 985h1v1h-1M1393 985h1v1h-1M928 986h1v1h-1M1070 986h1v1h-1M1089 986h1v1h-1M1167 986h1v1h-1M1249 986h1v1h-1M1266 986h1v1h-1M1273 986h1v1h-1M1279 986h1v1h-1M1396 986h1v1h-1M1447 986h1v1h-1M978 987h1v1h-1M1019 987h1v1h-1M1134 987h1v1h-1M1156 987h1v1h-1M1253 987h1v1h-1M1268 987h1v1h-1M1434 987h1v1h-1M999 988h1v1h-1M1149 988h1v1h-1M1307 988h1v1h-1M1312 988h1v1h-1M1320 988h1v1h-1M1385 988h1v1h-1M1428 988h1v1h-1M892 989h1v1h-1M1295 989h1v1h-1M1347 989h1v1h-1M1381 989h1v1h-1M1435 989h1v1h-1M1189 990h1v1h-1M1235 990h1v1h-1M1408 990h1v1h-1M913 991h1v1h-1M1164 991h1v1h-1M1200 991h1v1h-1M1227 991h1v1h-1M1231 991h1v1h-1M1312 991h1v1h-1M1409 991h1v1h-1M1414 991h1v1h-1M994 992h1v1h-1M1002 992h1v1h-1M1168 992h1v1h-1M1248 992h1v1h-1M1341 992h1v1h-1M1370 992h1v1h-1M1392 992h1v1h-1M1455 992h1v1h-1M1194 993h1v1h-1M1199 993h1v1h-1M1253 993h1v1h-1M1385 993h1v1h-1M1412 993h1v1h-1M1427 993h1v1h-1M848 994h1v1h-1M953 994h1v1h-1M1088 994h1v1h-1M1171 994h1v1h-1M1218 994h1v1h-1M1256 994h1v1h-1M1274 994h1v1h-1M1286 994h1v1h-1M1353 994h2v1h-2M1408 994h1v1h-1M1432 994h1v1h-1M850 995h1v1h-1M975 995h1v1h-1M1191 995h1v1h-1M1244 995h1v1h-1M1259 995h1v1h-1M1297 995h1v1h-1M1300 995h1v1h-1M1303 995h1v1h-1M1394 995h1v1h-1M1401 995h1v1h-1M1411 995h1v1h-1M960 996h1v1h-1M1119 996h1v1h-1M1178 996h1v1h-1M1226 996h1v1h-1M1266 996h1v1h-1M1308 996h1v1h-1M1338 996h1v1h-1M1385 996h1v1h-1M1441 996h1v1h-1M830 997h1v1h-1M1090 997h1v1h-1M1151 997h1v1h-1M1187 997h1v1h-1M1197 997h1v1h-1M1210 997h1v1h-1M1273 997h1v1h-1M1284 997h1v1h-1M1333 997h1v1h-1M1359 997h1v1h-1M1366 997h1v1h-1M879 998h1v1h-1M1117 998h1v1h-1M1168 998h1v1h-1M1178 998h1v1h-1M1184 998h1v1h-1M1211 998h1v1h-1M1224 998h1v1h-1M1246 998h1v1h-1M1320 998h1v1h-1M1384 998h1v1h-1M1409 998h1v1h-1M1037 999h1v1h-1M1253 999h1v1h-1M1309 999h1v1h-1M1342 999h1v1h-1M1345 999h1v1h-1M1361 999h1v1h-1M1394 999h1v1h-1M1443 999h1v1h-1M1016 1000h1v1h-1M1110 1000h1v1h-1M1207 1000h1v1h-1M1222 1000h1v1h-1M1225 1000h1v1h-1M1229 1000h2v1h-2M1233 1000h1v1h-1M1236 1000h9v1h-9M1246 1000h2v1h-2M1252 1000h1v1h-1M1254 1000h1v1h-1M1262 1000h6v1h-6M1269 1000h3v1h-3M1275 1000h4v1h-4M1280 1000h1v1h-1M1282 1000h3v1h-3M1287 1000h2v1h-2M1343 1000h2v1h-2M1429 1000h1v1h-1M1446 1000h1v1h-1M1449 1000h1v1h-1M1173 1000h1v2h-1M1268 1000h1v2h-1M850 1001h1v1h-1M953 1001h1v1h-1M989 1001h1v1h-1M1005 1001h1v1h-1M1072 1001h1v1h-1M1172 1001h1v1h-1M1224 1001h1v1h-1M1248 1001h1v1h-1M1290 1001h1v1h-1M1317 1001h1v1h-1M1362 1001h1v1h-1M1371 1001h1v1h-1M1391 1001h1v1h-1M950 1002h1v1h-1M998 1002h1v1h-1M1133 1002h1v1h-1M1306 1002h1v1h-1M1313 1002h1v1h-1M1320 1002h1v1h-1M1363 1002h1v1h-1M1385 1002h1v1h-1M1458 1002h1v1h-1M1455 1002h1v2h-1M920 1003h1v1h-1M1293 1003h1v1h-1M1312 1003h1v1h-1M1331 1003h2v1h-2M830 1004h1v1h-1M861 1004h1v1h-1M893 1004h1v1h-1M970 1004h1v1h-1M1011 1004h1v1h-1M1133 1004h1v1h-1M1145 1004h1v1h-1M1194 1004h2v1h-2M1214 1004h1v1h-1M1223 1004h1v1h-1M1240 1004h1v1h-1M1283 1004h1v1h-1M1335 1004h1v1h-1M1369 1004h1v1h-1M1420 1004h1v1h-1M1438 1004h1v1h-1M1450 1004h1v1h-1M1175 1005h1v1h-1M1200 1005h1v1h-1M1221 1005h1v1h-1M1248 1005h1v1h-1M1251 1005h1v1h-1M1292 1005h1v1h-1M1323 1005h1v1h-1M1331 1005h1v1h-1M1376 1005h2v1h-2M1412 1005h1v1h-1M1423 1005h1v1h-1M1429 1005h1v1h-1M1393 1005h1v2h-1M902 1006h1v1h-1M1061 1006h1v1h-1M1227 1006h1v1h-1M1351 1006h1v1h-1M1381 1006h1v1h-1M1403 1006h1v1h-1M1422 1006h1v1h-1M1427 1006h1v1h-1M1442 1006h1v1h-1M1457 1006h1v1h-1M827 1007h1v1h-1M892 1007h1v1h-1M1093 1007h1v1h-1M1175 1007h1v1h-1M1230 1007h1v1h-1M1255 1007h1v1h-1M1287 1007h1v1h-1M1325 1007h1v1h-1M1369 1007h1v1h-1M1377 1007h1v1h-1M1103 1007h1v2h-1M1333 1007h1v2h-1M1196 1008h1v1h-1M1220 1008h1v1h-1M1222 1008h1v1h-1M1227 1008h1v1h-1M1238 1008h1v1h-1M1245 1008h1v1h-1M1260 1008h1v1h-1M1278 1008h1v1h-1M1285 1008h1v1h-1M1300 1008h1v1h-1M1312 1008h1v1h-1M1346 1008h1v1h-1M1394 1008h1v2h-1M822 1009h1v1h-1M825 1009h1v1h-1M899 1009h1v1h-1M937 1009h1v1h-1M1028 1009h1v1h-1M1064 1009h1v1h-1M1150 1009h1v1h-1M1197 1009h1v1h-1M1203 1009h1v1h-1M1240 1009h1v1h-1M1273 1009h1v1h-1M1276 1009h1v1h-1M1360 1009h1v1h-1M1363 1009h1v1h-1M1367 1009h1v1h-1M1382 1009h1v1h-1M1444 1009h1v1h-1M1452 1009h1v1h-1M974 1010h1v1h-1M1117 1010h1v1h-1M1153 1010h1v1h-1M1217 1010h1v1h-1M1223 1010h1v1h-1M1253 1010h1v1h-1M1295 1010h1v1h-1M1302 1010h1v1h-1M1321 1010h1v1h-1M1397 1010h1v1h-1M1448 1010h1v1h-1M1456 1010h2v1h-2M993 1010h2v7h-2M910 1011h1v1h-1M963 1011h1v1h-1M968 1011h1v1h-1M1197 1011h1v1h-1M1201 1011h1v1h-1M1246 1011h1v1h-1M1304 1011h1v1h-1M1334 1011h1v1h-1M1358 1011h1v1h-1M1379 1011h1v1h-1M1389 1011h1v1h-1M915 1012h1v1h-1M962 1012h1v1h-1M971 1012h1v1h-1M1170 1012h1v1h-1M1210 1012h1v1h-1M1274 1012h1v1h-1M1409 1012h1v1h-1M1429 1012h1v1h-1M1434 1012h1v1h-1M1443 1012h1v1h-1M1448 1012h1v1h-1M844 1013h1v1h-1M1074 1013h1v1h-1M1160 1013h1v1h-1M1174 1013h1v1h-1M1211 1013h1v1h-1M1234 1013h1v1h-1M1236 1013h1v1h-1M1243 1013h1v1h-1M1303 1013h1v1h-1M1309 1013h1v1h-1M1311 1013h1v1h-1M1349 1013h1v1h-1M1361 1013h1v1h-1M1009 1014h1v1h-1M1067 1014h1v1h-1M1172 1014h1v1h-1M1214 1014h1v1h-1M1253 1014h1v1h-1M1267 1014h1v1h-1M1297 1014h1v1h-1M861 1015h1v1h-1M899 1015h1v1h-1M911 1015h1v1h-1M995 1015h1v1h-1M1179 1015h1v1h-1M1199 1015h1v1h-1M1209 1015h1v1h-1M1252 1015h1v1h-1M1274 1015h1v1h-1M1289 1015h1v1h-1M1307 1015h1v1h-1M1340 1015h1v1h-1M1357 1015h1v1h-1M1386 1015h1v1h-1M1442 1015h1v1h-1M1445 1015h1v1h-1M1451 1015h1v1h-1M1383 1015h1v2h-1M1389 1015h1v2h-1M1452 1015h1v2h-1M1375 1015h2v3h-2M891 1016h1v1h-1M991 1016h1v1h-1M1034 1016h1v1h-1M1045 1016h1v1h-1M1071 1016h1v1h-1M1076 1016h1v1h-1M1113 1016h1v1h-1M1168 1016h1v1h-1M1186 1016h1v1h-1M1200 1016h1v1h-1M1236 1016h1v1h-1M1264 1016h2v1h-2M1270 1016h1v1h-1M1273 1016h1v1h-1M1297 1016h1v1h-1M1304 1016h1v1h-1M1342 1016h1v1h-1M1353 1016h1v1h-1M1387 1016h2v1h-2M1391 1016h1v1h-1M1400 1016h2v1h-2M1446 1016h3v1h-3M945 1017h1v1h-1M961 1017h1v1h-1M992 1017h1v1h-1M995 1017h1v1h-1M1020 1017h1v1h-1M1091 1017h1v1h-1M1129 1017h1v1h-1M1151 1017h1v1h-1M1191 1017h1v1h-1M1267 1017h1v1h-1M1272 1017h1v1h-1M1280 1017h1v1h-1M1295 1017h1v1h-1M1344 1017h1v1h-1M1420 1017h1v1h-1M1431 1017h1v1h-1M1456 1017h1v1h-1M969 1017h2v2h-2M1457 1017h1v3h-1M869 1018h1v1h-1M879 1018h2v1h-2M1100 1018h1v1h-1M1128 1018h1v1h-1M1176 1018h1v1h-1M1196 1018h1v1h-1M1215 1018h1v1h-1M1238 1018h1v1h-1M1252 1018h1v1h-1M1278 1018h1v1h-1M1286 1018h1v1h-1M1323 1018h1v1h-1M1333 1018h1v1h-1M1347 1018h1v1h-1M1358 1018h1v1h-1M1362 1018h1v1h-1M1366 1018h1v1h-1M1430 1018h1v1h-1M1440 1018h1v1h-1M1168 1018h1v2h-1M1373 1018h1v2h-1M1246 1018h1v3h-1M1446 1018h3v3h-3M1164 1018h2v4h-2M1387 1018h1v4h-1M1401 1018h1v4h-1M1452 1018h1v5h-1M825 1019h1v1h-1M888 1019h1v1h-1M951 1019h1v1h-1M967 1019h1v1h-1M992 1019h1v1h-1M995 1019h1v1h-1M1130 1019h1v1h-1M1171 1019h1v1h-1M1189 1019h2v1h-2M1192 1019h1v1h-1M1235 1019h1v1h-1M1242 1019h1v1h-1M1266 1019h1v1h-1M1281 1019h1v1h-1M1287 1019h1v1h-1M1292 1019h1v1h-1M1295 1019h1v1h-1M1328 1019h1v1h-1M1332 1019h1v1h-1M1341 1019h1v1h-1M1343 1019h1v1h-1M1454 1019h3v1h-3M1458 1019h1v1h-1M1388 1019h2v3h-2M1214 1019h1v4h-1M1208 1019h2v5h-2M1265 1019h1v7h-1M1213 1019h1v11h-1M917 1020h1v1h-1M932 1020h1v1h-1M979 1020h1v1h-1M987 1020h1v1h-1M989 1020h1v1h-1M1032 1020h1v1h-1M1096 1020h1v1h-1M1124 1020h1v1h-1M1175 1020h1v1h-1M1191 1020h1v1h-1M1193 1020h1v1h-1M1223 1020h1v1h-1M1262 1020h1v1h-1M1268 1020h1v1h-1M1274 1020h1v1h-1M1317 1020h1v1h-1M1334 1020h1v1h-1M1375 1020h2v1h-2M1386 1020h1v1h-1M1395 1020h1v1h-1M1408 1020h1v1h-1M1437 1020h1v1h-1M1440 1020h1v1h-1M1381 1020h2v3h-2M969 1020h2v4h-2M1252 1020h2v8h-2M835 1021h1v1h-1M1040 1021h1v1h-1M1195 1021h1v1h-1M1244 1021h1v1h-1M1278 1021h1v1h-1M1281 1021h1v1h-1M1290 1021h1v1h-1M1295 1021h1v1h-1M1326 1021h1v1h-1M1364 1021h1v1h-1M1438 1021h1v1h-1M992 1021h1v2h-1M995 1021h1v2h-1M1285 1021h1v2h-1M1457 1021h1v2h-1M1299 1021h1v3h-1M1369 1021h3v5h-3M1362 1021h1v6h-1M1454 1021h3v8h-3M828 1022h1v1h-1M893 1022h1v1h-1M1012 1022h1v1h-1M1026 1022h1v1h-1M1159 1022h1v1h-1M1168 1022h1v1h-1M1186 1022h1v1h-1M1233 1022h3v1h-3M1311 1022h1v1h-1M1325 1022h1v1h-1M1335 1022h1v1h-1M1337 1022h1v1h-1M1348 1022h1v1h-1M1350 1022h1v1h-1M1353 1022h1v1h-1M1380 1022h1v1h-1M1414 1022h1v1h-1M1437 1022h1v1h-1M1449 1022h1v1h-1M1359 1022h1v2h-1M1355 1022h1v3h-1M1375 1022h2v3h-2M1255 1022h1v5h-1M1079 1023h1v1h-1M1199 1023h1v1h-1M1220 1023h1v1h-1M1261 1023h2v1h-2M1267 1023h1v1h-1M1273 1023h1v1h-1M1308 1023h1v1h-1M1319 1023h1v1h-1M1333 1023h2v1h-2M1345 1023h1v1h-1M1408 1023h1v1h-1M1450 1023h1v1h-1M1401 1023h1v2h-1M1440 1023h1v2h-1M1405 1023h1v3h-1M1268 1023h1v4h-1M1280 1023h2v6h-2M863 1024h1v1h-1M873 1024h1v1h-1M890 1024h1v1h-1M968 1024h1v1h-1M971 1024h1v1h-1M1013 1024h1v1h-1M1044 1024h1v1h-1M1164 1024h2v1h-2M1167 1024h1v1h-1M1169 1024h1v1h-1M1180 1024h1v1h-1M1240 1024h1v1h-1M1282 1024h1v1h-1M1285 1024h1v1h-1M1301 1024h1v1h-1M1311 1024h1v1h-1M1313 1024h1v1h-1M1446 1024h3v1h-3M1439 1024h1v2h-1M1295 1024h1v3h-1M836 1025h1v1h-1M864 1025h1v1h-1M902 1025h1v1h-1M969 1025h2v1h-2M1033 1025h1v1h-1M1104 1025h1v1h-1M1159 1025h1v1h-1M1206 1025h1v1h-1M1208 1025h2v1h-2M1220 1025h1v1h-1M1238 1025h1v1h-1M1246 1025h1v1h-1M1260 1025h3v1h-3M1266 1025h1v1h-1M1279 1025h1v1h-1M1287 1025h1v1h-1M1378 1025h1v1h-1M1450 1025h1v1h-1M1244 1025h1v2h-1M1299 1025h1v2h-1M1359 1025h1v2h-1M1387 1025h3v2h-3M1330 1025h1v4h-1M1214 1025h1v5h-1M838 1026h1v1h-1M843 1026h1v1h-1M1219 1026h1v1h-1M1227 1026h1v1h-1M1247 1026h2v1h-2M1264 1026h1v1h-1M1271 1026h1v1h-1M1300 1026h3v1h-3M1381 1026h2v1h-2M1438 1026h1v1h-1M1175 1026h1v2h-1M1372 1026h1v2h-1M1440 1026h1v2h-1M1285 1026h1v3h-1M1354 1026h1v3h-1M1233 1026h3v4h-3M1267 1026h1v4h-1M1355 1026h1v4h-1M1169 1026h1v5h-1M1373 1026h1v5h-1M968 1026h1v7h-1M971 1026h1v7h-1M1348 1026h1v9h-1M867 1027h1v1h-1M966 1027h1v1h-1M1004 1027h1v1h-1M1194 1027h1v1h-1M1229 1027h1v1h-1M1257 1027h1v1h-1M1367 1027h1v1h-1M1405 1027h1v1h-1M1427 1027h1v1h-1M1434 1027h1v1h-1M1451 1027h1v1h-1M1238 1027h1v2h-1M1246 1027h1v2h-1M1347 1027h1v2h-1M1369 1027h3v2h-3M1439 1027h1v2h-1M1349 1027h1v9h-1M886 1028h1v1h-1M895 1028h1v1h-1M1005 1028h1v1h-1M1067 1028h1v1h-1M1193 1028h1v1h-1M1201 1028h2v1h-2M1247 1028h1v1h-1M1261 1028h2v1h-2M1264 1028h1v1h-1M1268 1028h1v1h-1M1299 1028h1v1h-1M1306 1028h2v1h-2M1340 1028h1v1h-1M1361 1028h1v1h-1M1394 1028h1v1h-1M1399 1028h1v1h-1M1403 1028h1v1h-1M1055 1028h1v2h-1M1255 1028h1v2h-1M1265 1028h1v2h-1M1295 1028h1v2h-1M1359 1028h1v2h-1M1404 1028h1v2h-1M1248 1028h1v4h-1M1292 1028h1v4h-1M1362 1028h1v4h-1M977 1029h1v1h-1M1088 1029h1v1h-1M1170 1029h1v1h-1M1177 1029h1v1h-1M1191 1029h1v1h-1M1198 1029h1v1h-1M1204 1029h1v1h-1M1220 1029h1v1h-1M1274 1029h1v1h-1M1284 1029h1v1h-1M1286 1029h1v1h-1M1318 1029h1v1h-1M1320 1029h1v1h-1M1326 1029h1v1h-1M1332 1029h1v1h-1M1378 1029h1v1h-1M1392 1029h1v1h-1M1423 1029h1v1h-1M1444 1029h1v1h-1M1372 1029h1v2h-1M1301 1029h2v3h-2M1207 1029h1v6h-1M1244 1029h1v11h-1M832 1030h1v1h-1M914 1030h1v1h-1M1019 1030h1v1h-1M1023 1030h1v1h-1M1046 1030h1v1h-1M1050 1030h1v1h-1M1083 1030h1v1h-1M1087 1030h1v1h-1M1206 1030h1v1h-1M1241 1030h1v1h-1M1269 1030h1v1h-1M1314 1030h1v1h-1M1321 1030h1v1h-1M1327 1030h1v1h-1M1330 1030h1v1h-1M1334 1030h4v1h-4M1405 1030h1v1h-1M1407 1030h1v1h-1M1413 1030h1v1h-1M1421 1030h1v1h-1M1435 1030h1v1h-1M1438 1030h1v1h-1M1442 1030h1v1h-1M1074 1030h1v2h-1M1247 1030h1v2h-1M1306 1030h2v2h-2M1338 1030h1v2h-1M1201 1030h1v3h-1M1354 1030h1v3h-1M1347 1030h1v6h-1M830 1031h1v1h-1M872 1031h1v1h-1M898 1031h1v1h-1M938 1031h1v1h-1M988 1031h1v1h-1M1029 1031h1v1h-1M1038 1031h1v1h-1M1073 1031h1v1h-1M1100 1031h1v1h-1M1123 1031h1v1h-1M1137 1031h1v1h-1M1153 1031h1v1h-1M1162 1031h1v1h-1M1188 1031h1v1h-1M1208 1031h3v1h-3M1233 1031h3v1h-3M1258 1031h1v1h-1M1268 1031h1v1h-1M1313 1031h1v1h-1M1320 1031h1v1h-1M1355 1031h1v1h-1M1369 1031h3v1h-3M1417 1031h1v1h-1M1426 1031h1v1h-1M1441 1031h1v1h-1M1444 1031h2v2h-2M1204 1031h1v3h-1M1286 1031h1v3h-1M1280 1031h2v4h-2M1170 1031h1v7h-1M858 1032h1v1h-1M913 1032h1v1h-1M924 1032h1v1h-1M1044 1032h2v1h-2M1070 1032h1v1h-1M1157 1032h1v1h-1M1179 1032h2v1h-2M1245 1032h1v1h-1M1269 1032h1v1h-1M1300 1032h1v1h-1M1332 1032h2v1h-2M1368 1032h1v1h-1M1372 1032h2v1h-2M1390 1032h1v1h-1M1402 1032h1v1h-1M1421 1032h1v1h-1M1425 1032h1v1h-1M1405 1032h1v2h-1M1279 1032h1v3h-1M875 1033h1v1h-1M883 1033h1v1h-1M932 1033h1v1h-1M1004 1033h1v1h-1M1014 1033h1v1h-1M1066 1033h1v1h-1M1072 1033h1v1h-1M1117 1033h2v1h-2M1241 1033h1v1h-1M1256 1033h1v1h-1M1283 1033h1v1h-1M1287 1033h1v1h-1M1306 1033h2v1h-2M1321 1033h1v1h-1M1327 1033h1v1h-1M1334 1033h3v1h-3M1343 1033h1v1h-1M1352 1033h1v1h-1M1406 1033h1v1h-1M1410 1033h1v1h-1M1414 1033h1v1h-1M928 1033h1v2h-1M1337 1033h3v2h-3M1181 1033h1v3h-1M1292 1033h1v4h-1M1242 1033h2v5h-2M918 1034h1v1h-1M948 1034h1v1h-1M973 1034h1v1h-1M1061 1034h1v1h-1M1078 1034h1v1h-1M1086 1034h1v1h-1M1095 1034h1v1h-1M1097 1034h1v1h-1M1163 1034h1v1h-1M1169 1034h1v1h-1M1225 1034h1v1h-1M1227 1034h2v1h-2M1252 1034h2v1h-2M1301 1034h2v1h-2M1320 1034h1v1h-1M1369 1034h3v1h-3M1395 1034h3v1h-3M1402 1034h1v1h-1M1285 1034h1v2h-1M1316 1034h1v2h-1M1201 1034h1v3h-1M1217 1034h1v3h-1M1332 1034h2v4h-2M823 1035h1v1h-1M832 1035h1v1h-1M939 1035h1v1h-1M942 1035h1v1h-1M977 1035h1v1h-1M1066 1035h1v1h-1M1090 1035h1v1h-1M1104 1035h1v1h-1M1141 1035h1v1h-1M1171 1035h1v1h-1M1186 1035h1v1h-1M1197 1035h1v1h-1M1223 1035h1v1h-1M1233 1035h3v1h-3M1241 1035h1v1h-1M1258 1035h1v1h-1M1270 1035h1v1h-1M1298 1035h1v1h-1M1305 1035h3v1h-3M1319 1035h1v1h-1M1362 1035h3v1h-3M1410 1035h1v1h-1M1322 1035h1v2h-1M1334 1035h3v2h-3M1405 1035h1v2h-1M1204 1035h1v3h-1M1441 1035h1v3h-1M1286 1035h1v4h-1M876 1036h1v1h-1M943 1036h1v1h-1M1083 1036h1v1h-1M1133 1036h1v1h-1M1166 1036h1v1h-1M1190 1036h1v1h-1M1212 1036h3v1h-3M1293 1036h1v1h-1M1308 1036h1v1h-1M1315 1036h1v1h-1M1377 1036h1v1h-1M1398 1036h1v1h-1M1444 1036h2v1h-2M894 1036h1v2h-1M1271 1036h2v2h-2M1279 1036h1v2h-1M1320 1036h1v3h-1M1339 1036h1v4h-1M1287 1036h1v6h-1M830 1037h1v1h-1M845 1037h1v1h-1M851 1037h1v1h-1M1013 1037h1v1h-1M1162 1037h1v1h-1M1175 1037h2v1h-2M1181 1037h1v1h-1M1211 1037h1v1h-1M1232 1037h1v1h-1M1273 1037h1v1h-1M1300 1037h1v1h-1M1306 1037h2v1h-2M1317 1037h1v1h-1M1350 1037h3v1h-3M1354 1037h1v1h-1M1363 1037h2v1h-2M1438 1037h1v1h-1M1221 1037h1v2h-1M1230 1037h1v2h-1M1241 1037h1v3h-1M1337 1037h2v4h-2M822 1038h1v1h-1M869 1038h1v1h-1M875 1038h1v1h-1M903 1038h1v1h-1M991 1038h1v1h-1M1090 1038h1v1h-1M1130 1038h1v1h-1M1197 1038h1v1h-1M1222 1038h2v1h-2M1249 1038h1v1h-1M1264 1038h1v1h-1M1318 1038h1v1h-1M1344 1038h1v1h-1M1358 1038h1v1h-1M1407 1038h1v1h-1M1413 1038h1v1h-1M1415 1038h1v1h-1M1417 1038h1v1h-1M1444 1038h2v1h-2M1100 1038h1v2h-1M1331 1038h1v2h-1M1347 1038h3v2h-3M1395 1038h3v2h-3M1178 1038h1v3h-1M1201 1038h1v5h-1M1238 1038h1v7h-1M1177 1038h1v9h-1M868 1039h1v1h-1M913 1039h1v1h-1M933 1039h1v1h-1M983 1039h1v1h-1M1008 1039h1v1h-1M1145 1039h1v1h-1M1162 1039h1v1h-1M1181 1039h1v1h-1M1204 1039h1v1h-1M1207 1039h1v1h-1M1212 1039h1v1h-1M1236 1039h1v1h-1M1294 1039h1v1h-1M1367 1039h1v1h-1M1379 1039h1v1h-1M1405 1039h1v1h-1M1453 1039h1v1h-1M1217 1039h1v2h-1M1242 1039h2v2h-2M1350 1039h3v2h-3M1340 1039h2v3h-2M1363 1039h2v3h-2M1442 1039h1v3h-1M1441 1039h1v7h-1M1443 1039h1v7h-1M845 1040h1v1h-1M949 1040h1v1h-1M1034 1040h1v1h-1M1097 1040h2v1h-2M1102 1040h1v1h-1M1134 1040h1v1h-1M1176 1040h1v1h-1M1190 1040h1v1h-1M1193 1040h2v1h-2M1205 1040h1v1h-1M1218 1040h1v1h-1M1224 1040h1v1h-1M1229 1040h1v1h-1M1257 1040h1v1h-1M1260 1040h1v1h-1M1306 1040h2v1h-2M1320 1040h1v1h-1M1324 1040h2v1h-2M1383 1040h1v1h-1M1386 1040h1v1h-1M1183 1040h1v2h-1M1221 1040h2v2h-2M1232 1040h1v4h-1M1170 1040h1v5h-1M1342 1040h1v5h-1M1230 1040h1v8h-1M1223 1040h1v9h-1M822 1041h1v1h-1M837 1041h1v1h-1M872 1041h1v1h-1M898 1041h1v1h-1M919 1041h1v1h-1M960 1041h1v1h-1M1002 1041h1v1h-1M1014 1041h1v1h-1M1049 1041h1v1h-1M1114 1041h1v1h-1M1139 1041h1v1h-1M1182 1041h1v1h-1M1184 1041h1v1h-1M1244 1041h1v1h-1M1286 1041h1v1h-1M1331 1041h3v1h-3M1339 1041h1v1h-1M1347 1041h3v1h-3M1380 1041h1v1h-1M1409 1041h2v1h-2M1427 1041h4v1h-4M1258 1041h2v2h-2M1271 1041h2v2h-2M1180 1041h1v3h-1M1215 1041h2v4h-2M1343 1041h1v4h-1M1204 1041h1v5h-1M1241 1041h1v6h-1M831 1042h1v1h-1M963 1042h1v1h-1M1069 1042h1v1h-1M1085 1042h1v1h-1M1127 1042h1v1h-1M1156 1042h1v1h-1M1172 1042h1v1h-1M1187 1042h1v1h-1M1189 1042h1v1h-1M1199 1042h1v1h-1M1217 1042h1v1h-1M1237 1042h1v1h-1M1303 1042h1v1h-1M1306 1042h2v1h-2M1315 1042h1v1h-1M1329 1042h1v1h-1M1346 1042h1v1h-1M1418 1042h2v1h-2M1453 1042h1v1h-1M1181 1042h1v2h-1M1325 1042h1v2h-1M1324 1042h1v3h-1M1178 1042h1v4h-1M827 1043h1v1h-1M954 1043h1v1h-1M1002 1043h1v1h-1M1080 1043h1v1h-1M1149 1043h1v1h-1M1176 1043h1v1h-1M1226 1043h1v1h-1M1254 1043h1v1h-1M1273 1043h1v1h-1M1290 1043h1v1h-1M1309 1043h1v1h-1M1331 1043h1v1h-1M1338 1043h1v1h-1M1350 1043h3v1h-3M1363 1043h2v1h-2M1393 1043h1v1h-1M1402 1043h3v1h-3M1408 1043h4v1h-4M1432 1043h1v1h-1M1024 1043h1v2h-1M1347 1043h3v2h-3M1398 1043h3v2h-3M1194 1043h1v3h-1M1339 1043h1v3h-1M1383 1043h2v3h-2M1428 1043h3v3h-3M1442 1043h1v3h-1M1221 1043h1v4h-1M1193 1043h1v5h-1M1407 1043h1v5h-1M1222 1043h1v6h-1M823 1044h1v1h-1M897 1044h1v1h-1M997 1044h1v1h-1M1022 1044h1v1h-1M1045 1044h1v1h-1M1058 1044h1v1h-1M1163 1044h1v1h-1M1182 1044h2v1h-2M1191 1044h1v1h-1M1195 1044h2v1h-2M1303 1044h1v1h-1M1306 1044h3v1h-3M1340 1044h1v1h-1M1385 1044h1v1h-1M1390 1044h1v1h-1M1427 1044h1v1h-1M1458 1044h1v1h-1M1244 1044h1v2h-1M1341 1044h1v2h-1M1406 1044h1v3h-1M1201 1044h1v4h-1M824 1045h1v1h-1M882 1045h1v1h-1M942 1045h1v1h-1M953 1045h1v1h-1M978 1045h1v1h-1M1176 1045h1v1h-1M1269 1045h1v1h-1M1282 1045h1v1h-1M1304 1045h1v1h-1M1312 1045h1v1h-1M1346 1045h1v1h-1M1402 1045h1v1h-1M1411 1045h1v1h-1M1417 1045h1v1h-1M1422 1045h1v1h-1M1433 1045h1v1h-1M1403 1045h1v2h-1M1331 1045h1v4h-1M1249 1045h2v5h-2M1317 1045h3v5h-3M1418 1045h1v6h-1M1404 1045h1v7h-1M1419 1045h1v7h-1M857 1046h1v1h-1M879 1046h1v1h-1M959 1046h1v1h-1M961 1046h1v1h-1M1036 1046h1v1h-1M1103 1046h1v1h-1M1170 1046h1v1h-1M1186 1046h1v1h-1M1198 1046h1v1h-1M1254 1046h1v1h-1M1293 1046h1v1h-1M1303 1046h1v1h-1M1337 1046h2v1h-2M1344 1046h1v1h-1M1425 1046h1v1h-1M1449 1046h1v1h-1M1180 1046h1v2h-1M1232 1046h1v2h-1M1408 1046h3v2h-3M1412 1046h1v2h-1M1215 1046h2v3h-2M1450 1046h1v3h-1M862 1047h1v1h-1M897 1047h1v1h-1M944 1047h1v1h-1M1007 1047h1v1h-1M1028 1047h1v1h-1M1047 1047h1v1h-1M1076 1047h1v1h-1M1105 1047h1v1h-1M1194 1047h1v1h-1M1229 1047h1v1h-1M1298 1047h1v1h-1M1313 1047h1v1h-1M1324 1047h2v1h-2M1363 1047h2v1h-2M1377 1047h1v1h-1M1383 1047h2v1h-2M1394 1047h1v1h-1M1423 1047h2v1h-2M1427 1047h4v1h-4M1438 1047h1v1h-1M1176 1047h1v2h-1M1181 1047h1v2h-1M1195 1047h2v2h-2M1276 1047h1v2h-1M1300 1047h1v2h-1M1421 1047h1v2h-1M855 1048h1v1h-1M965 1048h1v1h-1M996 1048h1v1h-1M1012 1048h1v1h-1M1035 1048h1v1h-1M1053 1048h1v1h-1M1061 1048h1v1h-1M1085 1048h1v1h-1M1087 1048h1v1h-1M1113 1048h1v1h-1M1118 1048h1v1h-1M1121 1048h1v1h-1M1210 1048h1v1h-1M1241 1048h1v1h-1M1254 1048h1v1h-1M1257 1048h1v1h-1M1291 1048h1v1h-1M1345 1048h1v1h-1M1350 1048h3v1h-3M1356 1048h1v1h-1M1386 1048h1v1h-1M1434 1048h2v1h-2M1449 1048h1v1h-1M1173 1048h2v2h-2M1385 1048h1v2h-1M1416 1048h2v2h-2M1303 1048h3v3h-3M1357 1048h1v4h-1M1402 1048h2v4h-2M892 1049h1v1h-1M918 1049h1v1h-1M962 1049h1v1h-1M1004 1049h1v1h-1M1008 1049h1v1h-1M1071 1049h1v1h-1M1198 1049h2v1h-2M1204 1049h2v1h-2M1244 1049h1v1h-1M1308 1049h2v1h-2M1353 1049h1v1h-1M1394 1049h1v1h-1M1406 1049h1v1h-1M1425 1049h1v1h-1M1430 1049h1v1h-1M1441 1049h3v1h-3M1365 1049h2v2h-2M1201 1049h1v3h-1M1282 1049h2v3h-2M1428 1049h2v5h-2M857 1050h1v1h-1M876 1050h1v1h-1M902 1050h1v1h-1M913 1050h1v1h-1M1073 1050h1v1h-1M1136 1050h1v1h-1M1150 1050h1v1h-1M1156 1050h1v1h-1M1172 1050h1v1h-1M1176 1050h1v1h-1M1180 1050h1v1h-1M1187 1050h1v1h-1M1206 1050h1v1h-1M1232 1050h1v1h-1M1264 1050h1v1h-1M1300 1050h1v1h-1M1327 1050h3v1h-3M1337 1050h1v1h-1M1386 1050h1v1h-1M1392 1050h1v1h-1M1408 1050h2v1h-2M1193 1050h2v2h-2M1257 1050h1v2h-1M1241 1050h1v3h-1M1421 1050h1v5h-1M1195 1050h2v6h-2M1449 1050h2v7h-2M839 1051h1v1h-1M854 1051h1v1h-1M885 1051h1v1h-1M945 1051h1v1h-1M956 1051h1v1h-1M963 1051h1v1h-1M989 1051h1v1h-1M996 1051h1v1h-1M1042 1051h1v1h-1M1072 1051h1v1h-1M1179 1051h1v1h-1M1181 1051h1v1h-1M1198 1051h2v1h-2M1204 1051h1v1h-1M1228 1051h1v1h-1M1273 1051h1v1h-1M1284 1051h1v1h-1M1294 1051h1v1h-1M1314 1051h1v1h-1M1321 1051h1v1h-1M1378 1051h1v1h-1M1411 1051h1v1h-1M1422 1051h1v1h-1M1441 1051h3v1h-3M1177 1051h2v2h-2M1215 1051h2v2h-2M1230 1051h1v2h-1M1317 1051h3v2h-3M1416 1051h2v2h-2M1434 1051h2v2h-2M1210 1051h1v3h-1M1430 1051h1v3h-1M824 1052h1v1h-1M838 1052h1v1h-1M899 1052h1v1h-1M1041 1052h1v1h-1M1049 1052h1v1h-1M1080 1052h1v1h-1M1089 1052h1v1h-1M1142 1052h1v1h-1M1173 1052h2v1h-2M1186 1052h1v1h-1M1192 1052h1v1h-1M1205 1052h1v1h-1M1219 1052h1v1h-1M1249 1052h2v1h-2M1278 1052h1v1h-1M1300 1052h1v1h-1M1303 1052h1v1h-1M1305 1052h1v1h-1M1337 1052h2v1h-2M1426 1052h1v1h-1M1148 1052h1v2h-1M1211 1052h2v2h-2M1308 1052h2v2h-2M1366 1052h1v2h-1M1385 1052h2v3h-2M1365 1052h1v11h-1M872 1053h1v1h-1M921 1053h1v1h-1M941 1053h1v1h-1M950 1053h1v1h-1M958 1053h1v1h-1M963 1053h1v1h-1M1006 1053h1v1h-1M1027 1053h2v1h-2M1141 1053h1v1h-1M1156 1053h1v1h-1M1176 1053h1v1h-1M1181 1053h1v1h-1M1201 1053h1v1h-1M1220 1053h1v1h-1M1226 1053h1v1h-1M1231 1053h1v1h-1M1266 1053h1v1h-1M1282 1053h2v1h-2M1294 1053h1v1h-1M1339 1053h1v1h-1M1360 1053h2v1h-2M1392 1053h1v1h-1M1411 1053h1v1h-1M1180 1053h1v2h-1M1197 1053h3v2h-3M1315 1053h1v2h-1M1402 1053h1v2h-1M1404 1053h1v2h-1M1431 1053h3v3h-3M1314 1053h1v4h-1M1316 1053h1v6h-1M858 1054h1v1h-1M876 1054h1v1h-1M889 1054h1v1h-1M927 1054h1v1h-1M983 1054h1v1h-1M1087 1054h1v1h-1M1107 1054h1v1h-1M1114 1054h1v1h-1M1158 1054h1v1h-1M1173 1054h2v1h-2M1177 1054h2v1h-2M1193 1054h2v1h-2M1215 1054h2v1h-2M1219 1054h1v1h-1M1237 1054h1v1h-1M1270 1054h1v1h-1M1357 1054h1v1h-1M1367 1054h1v1h-1M1403 1054h1v1h-1M1416 1054h4v1h-4M1422 1054h1v1h-1M1163 1054h1v2h-1M1303 1054h3v2h-3M1331 1054h1v2h-1M1346 1054h1v2h-1M1434 1054h2v2h-2M1327 1054h3v5h-3M1379 1054h2v6h-2M883 1055h1v1h-1M887 1055h1v1h-1M963 1055h1v1h-1M1008 1055h1v1h-1M1181 1055h1v1h-1M1204 1055h1v1h-1M1256 1055h1v1h-1M1263 1055h2v1h-2M1297 1055h1v1h-1M1360 1055h2v1h-2M1377 1055h1v1h-1M1391 1055h1v1h-1M943 1055h1v2h-1M1308 1055h2v2h-2M1413 1055h2v2h-2M1288 1055h2v4h-2M1353 1055h1v4h-1M1366 1055h1v8h-1M865 1056h1v1h-1M875 1056h1v1h-1M897 1056h1v1h-1M900 1056h1v1h-1M927 1056h1v1h-1M1031 1056h1v1h-1M1065 1056h1v1h-1M1166 1056h1v1h-1M1192 1056h1v1h-1M1198 1056h2v1h-2M1210 1056h3v1h-3M1291 1056h1v1h-1M1300 1056h1v1h-1M1374 1056h1v1h-1M1378 1056h1v1h-1M1411 1056h1v1h-1M1416 1056h4v1h-4M1426 1056h1v1h-1M1245 1056h1v3h-1M1278 1056h1v3h-1M1282 1056h2v3h-2M1311 1056h1v3h-1M1315 1056h1v3h-1M1219 1056h1v4h-1M1385 1056h2v4h-2M1228 1056h1v5h-1M1239 1056h2v7h-2M873 1057h1v1h-1M937 1057h1v1h-1M1058 1057h1v1h-1M1106 1057h1v1h-1M1187 1057h1v1h-1M1264 1057h1v1h-1M1310 1057h1v1h-1M1436 1057h1v1h-1M1167 1057h1v2h-1M1172 1057h3v2h-3M1195 1057h2v2h-2M1275 1057h3v2h-3M1312 1057h1v2h-1M1322 1057h1v2h-1M1337 1057h2v2h-2M1428 1057h1v3h-1M1163 1057h1v4h-1M1429 1057h2v4h-2M1263 1057h1v6h-1M1321 1057h1v6h-1M1344 1057h2v8h-2M1168 1057h1v11h-1M899 1058h1v1h-1M1067 1058h1v1h-1M1129 1058h1v1h-1M1137 1058h1v1h-1M1368 1058h1v1h-1M1378 1058h1v7h-1M885 1059h1v1h-1M887 1059h1v1h-1M940 1059h1v1h-1M1003 1059h1v1h-1M1039 1059h1v1h-1M1061 1059h1v1h-1M1075 1059h1v1h-1M1185 1059h2v1h-2M1198 1059h2v1h-2M1201 1059h1v1h-1M1204 1059h1v1h-1M1237 1059h1v1h-1M1291 1059h1v1h-1M1356 1059h1v1h-1M1360 1059h2v1h-2M1413 1059h2v1h-2M1427 1059h1v1h-1M1431 1059h3v1h-3M1451 1059h1v1h-1M1264 1059h1v4h-1M1226 1059h1v7h-1M1231 1059h1v7h-1M1393 1059h2v9h-2M820 1060h1v1h-1M921 1060h1v1h-1M949 1060h1v1h-1M976 1060h1v1h-1M980 1060h2v1h-2M1046 1060h1v1h-1M1062 1060h1v1h-1M1145 1060h1v1h-1M1179 1060h1v1h-1M1181 1060h1v1h-1M1245 1060h1v1h-1M1269 1060h2v1h-2M1298 1060h1v1h-1M1308 1060h2v1h-2M1311 1060h1v1h-1M1337 1060h2v1h-2M1422 1060h3v1h-3M1192 1060h1v2h-1M1322 1060h1v3h-1M1353 1060h1v3h-1M1411 1060h1v3h-1M1283 1060h1v5h-1M1294 1060h1v5h-1M1402 1060h3v5h-3M1436 1060h3v5h-3M1225 1060h1v6h-1M1227 1060h1v6h-1M1310 1060h1v6h-1M1312 1060h1v6h-1M1167 1060h1v8h-1M864 1061h1v1h-1M942 1061h1v1h-1M998 1061h1v1h-1M1033 1061h1v1h-1M1104 1061h1v1h-1M1156 1061h1v1h-1M1160 1061h1v1h-1M1186 1061h1v1h-1M1313 1061h1v1h-1M904 1061h1v2h-1M1193 1061h2v2h-2M1379 1061h2v2h-2M1385 1061h2v2h-2M1449 1061h1v3h-1M1219 1061h1v4h-1M1282 1061h1v4h-1M1450 1061h1v4h-1M1185 1061h1v5h-1M1014 1062h1v1h-1M1018 1062h1v1h-1M1030 1062h1v1h-1M1097 1062h1v1h-1M1100 1062h1v1h-1M1118 1062h1v1h-1M1144 1062h1v1h-1M1154 1062h1v1h-1M1179 1062h1v1h-1M1229 1062h1v1h-1M1274 1062h1v1h-1M1296 1062h1v1h-1M1298 1062h1v1h-1M1374 1062h1v1h-1M1311 1062h1v4h-1M849 1063h1v1h-1M877 1063h1v1h-1M925 1063h1v1h-1M1048 1063h1v1h-1M1098 1063h1v1h-1M1140 1063h1v1h-1M1256 1063h1v1h-1M1275 1063h1v1h-1M1346 1063h1v1h-1M1423 1063h1v1h-1M1458 1063h1v1h-1M1192 1063h1v2h-1M1195 1063h2v2h-2M1228 1063h1v2h-1M1241 1063h1v2h-1M1276 1063h2v2h-2M1315 1063h2v2h-2M1422 1063h1v2h-1M1424 1063h1v2h-1M1269 1063h2v3h-2M1427 1063h1v3h-1M1188 1063h3v5h-3M844 1064h1v1h-1M872 1064h1v1h-1M1050 1064h1v1h-1M1202 1064h1v1h-1M1415 1064h1v1h-1M1186 1064h1v2h-1M834 1065h1v1h-1M874 1065h1v1h-1M894 1065h1v1h-1M910 1065h1v1h-1M922 1065h1v1h-1M930 1065h1v1h-1M942 1065h1v1h-1M982 1065h1v1h-1M988 1065h1v1h-1M1011 1065h1v1h-1M1049 1065h1v1h-1M1087 1065h1v1h-1M1173 1065h2v1h-2M1254 1065h1v1h-1M1385 1065h2v3h-2M841 1066h1v1h-1M888 1066h1v1h-1M921 1066h1v1h-1M1146 1066h1v1h-1M828 1066h3v2h-3M1239 1066h2v2h-2M1294 1066h1v2h-1M1422 1066h3v2h-3M1219 1066h1v4h-1M1275 1066h3v4h-3M852 1066h2v7h-2M890 1066h2v7h-2M1378 1066h1v7h-1M838 1067h1v1h-1M857 1067h1v1h-1M996 1067h1v1h-1M1002 1067h1v1h-1M1016 1067h1v1h-1M1053 1067h1v1h-1M1094 1067h1v1h-1M1096 1067h1v1h-1M1105 1067h1v1h-1M1134 1067h1v1h-1M1145 1067h1v1h-1M1166 1067h1v1h-1M1179 1067h1v1h-1M1298 1067h1v1h-1M1323 1067h1v1h-1M1088 1067h1v2h-1M849 1068h1v1h-1M858 1068h1v1h-1M865 1068h1v1h-1M1060 1068h1v1h-1M1081 1068h1v1h-1M1123 1068h1v1h-1M1187 1068h1v1h-1M1197 1068h1v1h-1M1374 1068h1v1h-1M867 1068h2v2h-2M1185 1068h2v2h-2M1192 1068h1v2h-1M1365 1068h2v2h-2M950 1068h2v5h-2M957 1068h3v5h-3M926 1068h4v7h-4M819 1069h1v1h-1M903 1069h1v1h-1M978 1069h1v1h-1M1012 1069h1v1h-1M1031 1069h1v1h-1M1109 1069h1v1h-1M1122 1069h1v1h-1M1143 1069h1v1h-1M1260 1069h1v1h-1M949 1069h1v2h-1M1298 1069h1v2h-1M840 1070h1v1h-1M843 1070h1v1h-1M845 1070h1v1h-1M862 1070h1v1h-1M932 1070h1v1h-1M977 1070h1v1h-1M1004 1070h1v1h-1M1069 1070h1v1h-1M1152 1070h1v1h-1M1160 1070h1v1h-1M1197 1070h1v1h-1M1293 1070h1v1h-1M1367 1070h1v1h-1M1091 1070h1v3h-1M858 1070h2v5h-2M823 1071h1v1h-1M887 1071h1v1h-1M893 1071h1v1h-1M906 1071h1v1h-1M933 1071h1v1h-1M965 1071h1v1h-1M978 1071h1v1h-1M1007 1071h1v1h-1M1074 1071h1v1h-1M1114 1071h1v1h-1M1200 1071h1v1h-1M1251 1071h1v1h-1M1425 1071h1v1h-1M1038 1072h1v1h-1M1056 1072h1v1h-1M1077 1072h1v1h-1M1087 1072h1v1h-1M1197 1072h1v1h-1M1274 1072h1v1h-1M1358 1072h1v1h-1M1367 1072h1v1h-1M860 1073h1v1h-1M935 1073h1v1h-1M1144 1073h1v1h-1M1147 1073h1v1h-1M1200 1073h1v1h-1M1266 1073h1v1h-1M1294 1073h1v1h-1M1374 1073h1v1h-1M867 1073h2v2h-2M873 1073h3v2h-3M1185 1073h1v2h-1M1188 1073h3v2h-3M1192 1073h1v2h-1M1393 1073h2v2h-2M952 1073h2v13h-2M841 1074h1v1h-1M844 1074h1v1h-1M940 1074h1v1h-1M1102 1074h1v1h-1M1186 1074h1v1h-1M1313 1074h1v2h-1M896 1075h1v1h-1M982 1075h1v1h-1M1078 1075h1v1h-1M1197 1075h1v1h-1M1274 1075h1v1h-1M1426 1075h1v1h-1M853 1075h1v2h-1M852 1075h1v3h-1M950 1075h2v3h-2M1275 1075h3v3h-3M878 1075h3v7h-3M980 1075h2v7h-2M846 1076h1v1h-1M1005 1076h1v1h-1M1095 1076h1v1h-1M1133 1076h1v1h-1M1141 1076h1v1h-1M1284 1076h1v1h-1M1298 1076h1v1h-1M895 1077h1v1h-1M987 1077h1v1h-1M998 1077h1v1h-1M1013 1077h1v1h-1M1079 1077h1v1h-1M1081 1077h1v1h-1M1126 1077h1v1h-1M1197 1077h1v1h-1M1415 1077h1v1h-1M975 1077h1v9h-1M881 1078h1v1h-1M1131 1078h1v1h-1M1426 1078h1v1h-1M927 1078h3v4h-3M831 1078h1v8h-1M974 1078h1v8h-1M913 1079h1v1h-1M1011 1079h1v1h-1M1015 1079h1v1h-1M1073 1079h1v1h-1M1171 1079h1v1h-1M892 1080h1v1h-1M1191 1080h1v1h-1M1284 1080h1v1h-1M1356 1080h1v1h-1M889 1081h1v1h-1M933 1081h1v1h-1M1166 1081h1v1h-1M1197 1081h1v1h-1M1220 1081h1v1h-1M1297 1081h1v1h-1M1326 1081h1v1h-1M1374 1081h1v1h-1M1453 1081h1v1h-1M1458 1081h1v1h-1M820 1081h1v5h-1M842 1082h1v1h-1M877 1082h1v1h-1M922 1082h1v1h-1M991 1082h1v1h-1M1014 1082h1v1h-1M1134 1082h1v1h-1M1142 1082h1v1h-1M1155 1082h1v1h-1M1323 1082h1v1h-1M907 1082h3v4h-3M931 1082h1v4h-1M940 1082h4v4h-4M979 1082h1v4h-1M988 1082h2v4h-2M1055 1082h2v4h-2M957 1082h3v9h-3M1011 1082h3v9h-3M1091 1082h1v9h-1M903 1083h1v1h-1M934 1083h1v1h-1M1117 1083h1v1h-1M1154 1083h1v1h-1M1415 1083h1v1h-1M973 1084h1v1h-1M1044 1084h1v1h-1M1050 1084h1v1h-1M1094 1084h1v1h-1M1236 1084h1v1h-1M1273 1084h1v1h-1M846 1085h1v1h-1M871 1085h1v1h-1M920 1085h1v1h-1M946 1085h1v1h-1M967 1085h1v1h-1M1002 1085h1v1h-1M1027 1085h1v1h-1M1033 1085h1v1h-1M1037 1085h1v1h-1M1120 1085h1v1h-1M1139 1085h1v1h-1M1150 1085h1v1h-1M1298 1085h1v1h-1M1451 1085h1v1h-1M896 1086h1v1h-1M899 1086h1v1h-1M911 1086h1v1h-1M965 1086h1v1h-1M976 1086h1v1h-1M1046 1086h1v1h-1M1096 1086h1v1h-1M1101 1086h1v1h-1M1135 1086h1v1h-1M882 1086h1v5h-1M897 1086h2v5h-2M902 1086h2v5h-2M1070 1087h1v1h-1M1109 1087h1v1h-1M1112 1087h1v1h-1M1260 1087h1v1h-1M1273 1087h1v1h-1M1453 1087h1v1h-1M997 1088h1v1h-1M1048 1088h1v1h-1M1120 1088h1v1h-1M1123 1088h1v1h-1M1160 1088h1v1h-1M1390 1088h1v1h-1M824 1089h1v1h-1M832 1089h1v1h-1M862 1089h1v1h-1M930 1089h1v1h-1M1094 1089h1v1h-1M1135 1089h1v1h-1M1368 1089h1v1h-1M1391 1089h1v1h-1M1099 1090h1v1h-1M1106 1090h1v1h-1M1141 1090h1v1h-1M1291 1090h1v1h-1M1297 1090h1v1h-1M1453 1090h1v1h-1M1071 1090h1v7h-1M881 1091h1v1h-1M948 1091h1v1h-1M1075 1091h1v1h-1M1081 1091h1v1h-1M1089 1091h1v1h-1M1160 1091h1v1h-1M917 1091h1v2h-1M966 1091h1v3h-1M845 1091h1v5h-1M862 1091h2v6h-2M885 1091h2v6h-2M904 1091h2v6h-2M936 1091h2v6h-2M964 1091h2v6h-2M974 1091h2v6h-2M846 1091h1v15h-1M967 1091h1v15h-1M1030 1091h2v15h-2M1054 1091h1v15h-1M915 1091h1v24h-1M1027 1091h1v28h-1M916 1091h1v30h-1M825 1092h1v1h-1M838 1092h1v1h-1M870 1092h1v1h-1M1036 1092h1v1h-1M1057 1092h1v1h-1M1080 1092h1v1h-1M887 1092h1v5h-1M1084 1093h1v1h-1M1218 1093h1v1h-1M1260 1093h1v1h-1M1425 1093h1v1h-1M837 1094h1v1h-1M839 1094h1v1h-1M1191 1094h1v1h-1M917 1094h1v7h-1M840 1095h1v1h-1M902 1095h1v1h-1M1017 1095h1v1h-1M1023 1095h1v1h-1M1025 1095h1v1h-1M1070 1095h1v1h-1M1156 1095h1v1h-1M1200 1095h1v1h-1M1266 1095h1v1h-1M966 1095h1v8h-1M899 1096h1v1h-1M960 1096h1v1h-1M1022 1096h1v1h-1M1092 1096h1v1h-1M1116 1096h1v1h-1M1142 1096h1v1h-1M1224 1096h1v1h-1M1296 1096h1v1h-1M1003 1097h1v1h-1M1008 1097h1v1h-1M1203 1097h1v1h-1M1323 1097h1v1h-1M1358 1097h1v1h-1M1415 1097h1v1h-1M848 1097h1v2h-1M1126 1097h1v3h-1M854 1097h1v7h-1M845 1097h1v9h-1M849 1097h2v9h-2M855 1097h1v9h-1M1066 1097h2v9h-2M1125 1097h1v9h-1M1010 1097h1v14h-1M893 1097h1v24h-1M1011 1097h3v24h-3M1083 1097h1v24h-1M1153 1097h1v24h-1M861 1098h1v1h-1M892 1098h1v1h-1M1057 1098h1v1h-1M1076 1098h1v1h-1M1158 1098h1v1h-1M1291 1098h1v1h-1M985 1099h1v1h-1M1070 1099h1v1h-1M1113 1099h1v1h-1M1254 1099h1v1h-1M1260 1099h1v1h-1M1420 1099h1v1h-1M1453 1099h1v1h-1M871 1100h1v1h-1M1109 1100h1v1h-1M1229 1100h1v1h-1M848 1100h1v6h-1M870 1101h1v1h-1M1014 1101h1v1h-1M1038 1101h1v1h-1M1149 1101h1v1h-1M1187 1101h1v1h-1M1206 1101h1v1h-1M1293 1101h1v1h-1M1390 1101h1v1h-1M1126 1101h1v4h-1M842 1102h1v1h-1M857 1102h1v1h-1M912 1102h1v1h-1M956 1102h1v1h-1M962 1102h1v1h-1M1089 1102h1v1h-1M1141 1102h1v1h-1M1229 1102h1v1h-1M1236 1102h1v1h-1M1377 1102h1v1h-1M1391 1102h1v1h-1M917 1102h1v19h-1M924 1103h1v1h-1M1072 1103h1v1h-1M1122 1103h1v1h-1M1144 1103h1v1h-1M1323 1103h1v1h-1M1374 1103h1v1h-1M1458 1103h1v1h-1M973 1104h1v1h-1M1046 1104h1v1h-1M1108 1104h1v1h-1M1120 1104h1v1h-1M1220 1104h1v1h-1M1291 1104h1v1h-1M966 1104h1v2h-1M844 1105h1v1h-1M854 1105h1v1h-1M1015 1105h1v1h-1M1128 1105h1v1h-1M1251 1105h1v1h-1M1326 1105h1v1h-1M825 1106h1v1h-1M906 1106h1v1h-1M1062 1106h1v1h-1M1078 1106h1v1h-1M1224 1106h1v1h-1M1293 1106h1v1h-1M1092 1106h1v6h-1M862 1106h1v9h-1M1055 1106h1v13h-1M863 1106h1v15h-1M871 1106h2v15h-2M902 1106h2v15h-2M1000 1106h1v15h-1M1056 1106h1v15h-1M1102 1106h2v15h-2M821 1107h1v1h-1M934 1107h1v1h-1M1080 1107h1v1h-1M1090 1107h1v1h-1M1105 1107h1v1h-1M1118 1107h1v1h-1M1374 1107h1v1h-1M1415 1107h1v1h-1M839 1108h1v1h-1M1050 1108h1v1h-1M1085 1108h1v1h-1M1157 1108h1v1h-1M1206 1108h1v1h-1M1323 1108h1v1h-1M1367 1108h1v1h-1M1007 1109h1v1h-1M1029 1109h1v1h-1M1049 1109h1v1h-1M1109 1109h1v1h-1M1121 1109h1v1h-1M1150 1109h1v1h-1M1236 1109h1v1h-1M1273 1109h1v1h-1M1297 1109h1v1h-1M1391 1109h1v1h-1M1008 1110h1v1h-1M1108 1110h1v1h-1M1115 1110h1v1h-1M1206 1110h1v1h-1M1293 1110h1v1h-1M1015 1111h1v1h-1M1098 1111h1v1h-1M1119 1111h1v1h-1M1148 1111h1v1h-1M1218 1111h1v1h-1M1358 1111h1v1h-1M832 1112h1v1h-1M1047 1112h1v1h-1M1068 1112h1v1h-1M1099 1112h1v1h-1M1146 1112h1v1h-1M1206 1112h1v1h-1M1224 1112h1v1h-1M1296 1112h1v1h-1M1346 1112h1v1h-1M1367 1112h1v1h-1M1374 1112h1v1h-1M1010 1112h1v9h-1M883 1113h1v1h-1M900 1113h1v1h-1M1088 1113h1v1h-1M1171 1113h1v1h-1M1236 1113h1v1h-1M1458 1113h1v1h-1M1092 1113h1v8h-1M1078 1114h1v1h-1M1140 1114h1v1h-1M1150 1114h1v1h-1M1297 1114h1v1h-1M845 1115h1v1h-1M986 1115h1v1h-1M1087 1115h1v1h-1M1108 1115h1v1h-1M1149 1115h1v1h-1M1293 1115h1v1h-1M1390 1115h1v1h-1M1415 1115h1v1h-1M1453 1115h1v1h-1M860 1116h1v1h-1M939 1116h1v1h-1M1109 1116h1v1h-1M1425 1116h1v1h-1M862 1116h1v5h-1M915 1116h1v5h-1M1032 1117h1v1h-1M1041 1117h1v1h-1M1147 1117h1v1h-1M1346 1117h1v1h-1M1356 1117h1v1h-1M1458 1117h1v1h-1M1022 1118h1v1h-1M1256 1118h1v1h-1M1290 1118h1v1h-1M1293 1118h1v1h-1M845 1119h1v1h-1M1166 1119h1v1h-1M1274 1119h1v1h-1M841 1120h1v1h-1M1003 1120h1v1h-1M1027 1120h1v1h-1M1029 1120h1v1h-1M1055 1120h1v1h-1M1089 1120h1v1h-1M1202 1120h1v1h-1M1323 1120h1v1h-1M1451 1120h1v1h-1"/><path fill="#001fff" d="M936 970h1v1h-1M1090 970h1v1h-1M1324 970h1v1h-1M1326 970h1v1h-1M1373 970h1v1h-1M1213 971h1v1h-1M1228 971h2v1h-2M1331 971h1v1h-1M1355 971h1v1h-1M968 972h1v1h-1M1000 972h1v1h-1M838 973h1v1h-1M1281 973h1v1h-1M1287 973h1v1h-1M1388 973h1v1h-1M1390 973h1v1h-1M1408 973h1v1h-1M846 974h1v1h-1M1138 974h1v1h-1M1195 974h1v1h-1M1276 974h1v1h-1M1384 974h1v1h-1M1315 975h1v1h-1M1354 975h1v1h-1M1194 976h2v1h-2M1211 976h1v1h-1M1282 976h1v1h-1M856 977h1v1h-1M981 977h1v1h-1M1095 977h1v1h-1M1170 977h1v1h-1M1237 977h1v1h-1M1302 977h1v1h-1M1422 977h1v1h-1M1427 977h1v1h-1M845 978h1v1h-1M874 978h1v1h-1M891 978h1v1h-1M1168 978h1v1h-1M1405 978h1v1h-1M976 979h1v1h-1M1193 979h1v1h-1M1202 979h1v1h-1M1313 979h1v1h-1M1342 979h1v1h-1M1415 979h1v1h-1M1417 979h1v1h-1M1437 979h1v1h-1M1220 979h1v2h-1M883 980h1v1h-1M1233 980h1v1h-1M1292 980h1v1h-1M928 981h1v1h-1M1391 981h1v1h-1M1401 981h1v1h-1M1405 981h1v1h-1M1410 981h1v1h-1M1334 982h1v1h-1M1351 982h1v1h-1M1102 983h1v1h-1M1106 983h1v1h-1M1183 983h1v1h-1M1257 983h1v1h-1M1273 983h1v1h-1M1310 983h2v1h-2M1315 983h1v1h-1M1428 983h1v1h-1M932 984h1v1h-1M1221 984h1v1h-1M1292 984h1v1h-1M1339 984h1v1h-1M1080 985h1v1h-1M1245 985h1v1h-1M1349 985h1v1h-1M1353 985h1v1h-1M885 986h1v1h-1M941 986h1v1h-1M1211 986h1v1h-1M1122 987h1v1h-1M1140 987h1v1h-1M1329 987h1v1h-1M874 988h1v1h-1M1072 988h1v1h-1M1169 988h1v1h-1M1192 988h1v1h-1M1204 988h1v1h-1M865 989h1v1h-1M1228 989h1v1h-1M1230 989h1v1h-1M1239 989h1v1h-1M1253 989h1v1h-1M1271 989h1v1h-1M871 990h1v1h-1M873 990h1v1h-1M876 990h4v1h-4M881 990h1v1h-1M884 990h1v1h-1M888 990h1v1h-1M893 990h7v1h-7M902 990h2v1h-2M905 990h4v1h-4M910 990h1v1h-1M912 990h5v1h-5M924 990h3v1h-3M972 990h1v1h-1M1061 990h1v1h-1M1182 990h1v1h-1M1301 990h1v1h-1M1409 990h1v1h-1M851 991h1v1h-1M983 991h1v1h-1M1163 991h1v1h-1M1171 991h1v1h-1M1196 991h1v1h-1M1278 991h1v1h-1M1368 991h1v1h-1M1417 991h1v1h-1M1421 991h1v1h-1M889 992h1v1h-1M1036 992h1v1h-1M1088 992h1v1h-1M1238 992h1v1h-1M1349 992h1v1h-1M1361 992h1v1h-1M1438 992h1v1h-1M1409 993h1v1h-1M1448 993h1v1h-1M873 994h1v1h-1M881 994h1v1h-1M1070 994h1v1h-1M953 995h1v1h-1M1182 995h1v1h-1M1302 995h1v1h-1M1402 995h1v1h-1M905 996h1v1h-1M1166 996h1v1h-1M1192 996h1v1h-1M1242 996h1v1h-1M1253 996h1v1h-1M1300 996h1v1h-1M1406 996h1v1h-1M950 997h1v1h-1M1198 997h1v1h-1M1235 997h1v1h-1M1244 997h1v1h-1M1341 997h1v1h-1M1410 997h1v1h-1M1437 997h1v1h-1M882 998h1v1h-1M912 998h1v1h-1M942 998h1v1h-1M1129 998h1v1h-1M1231 998h1v1h-1M1272 998h1v1h-1M1298 998h1v1h-1M1315 998h1v1h-1M1457 998h1v1h-1M846 999h1v1h-1M862 999h1v1h-1M995 999h1v1h-1M1078 999h1v1h-1M1119 999h1v1h-1M1256 999h1v1h-1M1351 999h1v1h-1M1446 999h1v1h-1M999 1000h1v1h-1M1126 1000h1v1h-1M1214 1000h1v1h-1M1232 1000h1v1h-1M1301 1000h1v1h-1M1303 1000h1v1h-1M1359 1000h1v1h-1M1378 1000h1v1h-1M1412 1000h1v1h-1M855 1001h1v1h-1M909 1001h1v1h-1M987 1001h1v1h-1M1140 1001h1v1h-1M1166 1001h1v1h-1M1239 1001h1v1h-1M1244 1001h1v1h-1M1358 1001h1v1h-1M1373 1001h1v1h-1M1376 1001h1v1h-1M1393 1001h1v1h-1M895 1002h1v1h-1M1163 1002h1v1h-1M1220 1002h1v1h-1M1288 1002h1v1h-1M1357 1002h1v1h-1M1366 1002h2v1h-2M1402 1002h1v1h-1M1433 1002h1v1h-1M1442 1002h1v1h-1M854 1003h1v1h-1M1037 1003h1v1h-1M1063 1003h1v1h-1M1087 1003h1v1h-1M1182 1003h1v1h-1M1237 1003h1v1h-1M1239 1003h1v1h-1M1244 1003h1v1h-1M1251 1003h1v1h-1M1336 1003h1v1h-1M1416 1003h1v1h-1M1449 1003h1v1h-1M1421 1003h1v2h-1M1004 1004h1v1h-1M1191 1004h2v1h-2M1227 1004h1v1h-1M1268 1004h1v1h-1M1322 1004h1v1h-1M1379 1004h1v1h-1M848 1005h1v1h-1M859 1005h1v1h-1M934 1005h1v1h-1M971 1005h1v1h-1M1044 1005h1v1h-1M1103 1005h1v1h-1M1206 1005h1v1h-1M1247 1005h1v1h-1M1262 1005h1v1h-1M1270 1005h1v1h-1M1296 1005h1v1h-1M1315 1005h1v1h-1M1354 1005h1v1h-1M1356 1005h1v1h-1M1370 1005h1v1h-1M1372 1005h1v1h-1M940 1005h1v2h-1M827 1006h1v1h-1M1107 1006h1v1h-1M1132 1006h1v1h-1M1181 1006h1v1h-1M1197 1006h1v1h-1M1201 1006h1v1h-1M1259 1006h2v1h-2M1297 1006h1v1h-1M1417 1006h1v1h-1M822 1007h1v1h-1M841 1007h1v1h-1M851 1007h1v1h-1M861 1007h1v1h-1M902 1007h1v1h-1M1045 1007h1v1h-1M1138 1007h1v1h-1M1243 1007h1v1h-1M1278 1007h1v1h-1M1300 1007h1v1h-1M1347 1007h1v1h-1M1065 1008h1v1h-1M1170 1008h1v1h-1M1206 1008h1v1h-1M1261 1008h1v1h-1M1277 1008h1v1h-1M1298 1008h1v1h-1M1340 1008h1v1h-1M892 1009h1v1h-1M904 1009h1v1h-1M1160 1009h1v1h-1M1223 1009h1v1h-1M1313 1009h1v1h-1M1342 1009h1v1h-1M1358 1009h1v1h-1M1395 1009h2v1h-2M1374 1009h1v2h-1M846 1010h1v1h-1M925 1010h1v1h-1M1187 1010h1v1h-1M1191 1010h1v1h-1M1233 1010h1v1h-1M1250 1010h1v1h-1M1275 1010h1v1h-1M1441 1010h1v1h-1M1452 1010h1v1h-1M1202 1010h1v2h-1M1324 1010h1v2h-1M890 1011h1v1h-1M909 1011h1v1h-1M933 1011h1v1h-1M1370 1011h1v1h-1M1382 1011h1v1h-1M1436 1011h1v1h-1M881 1012h1v1h-1M972 1012h1v1h-1M1238 1012h1v1h-1M1249 1012h1v1h-1M1252 1012h1v1h-1M1268 1012h1v1h-1M1308 1012h1v1h-1M1328 1012h1v1h-1M1333 1012h1v1h-1M1439 1012h1v1h-1M1140 1012h1v2h-1M1105 1013h1v1h-1M1107 1013h8v1h-8M1116 1013h2v1h-2M1119 1013h4v1h-4M1124 1013h2v1h-2M1127 1013h1v1h-1M1129 1013h1v1h-1M1134 1013h3v1h-3M1138 1013h2v1h-2M1141 1013h5v1h-5M1147 1013h4v1h-4M1153 1013h2v1h-2M1156 1013h4v1h-4M1189 1013h1v1h-1M1282 1013h1v1h-1M1318 1013h1v1h-1M1335 1013h1v1h-1M1356 1013h1v1h-1M1411 1013h1v1h-1M1453 1013h1v1h-1M1123 1013h1v2h-1M1126 1013h1v2h-1M839 1014h1v1h-1M921 1014h1v1h-1M934 1014h1v1h-1M963 1014h1v1h-1M1045 1014h1v1h-1M1076 1014h1v1h-1M1146 1014h1v1h-1M1187 1014h1v1h-1M1215 1014h1v1h-1M1235 1014h1v1h-1M1240 1014h1v1h-1M1262 1014h1v1h-1M1269 1014h1v1h-1M1280 1014h1v1h-1M1287 1014h1v1h-1M1289 1014h1v1h-1M1326 1014h1v1h-1M1344 1014h1v1h-1M1373 1014h1v1h-1M1396 1014h1v1h-1M1431 1014h1v1h-1M1443 1014h1v1h-1M1011 1015h1v1h-1M1073 1015h1v1h-1M1098 1015h1v1h-1M1117 1015h1v1h-1M1129 1015h1v1h-1M1135 1015h1v1h-1M1154 1015h1v1h-1M1168 1015h1v1h-1M1245 1015h1v1h-1M1265 1015h1v1h-1M1284 1015h1v1h-1M1310 1015h1v1h-1M1312 1015h1v1h-1M1374 1015h1v1h-1M1381 1015h1v1h-1M1408 1015h1v1h-1M1413 1015h1v1h-1M902 1016h1v1h-1M1128 1016h1v1h-1M1139 1016h1v1h-1M1246 1016h1v1h-1M1249 1016h1v1h-1M1274 1016h1v1h-1M1286 1016h1v1h-1M1344 1016h1v1h-1M1348 1016h1v1h-1M1384 1016h1v1h-1M1407 1016h1v1h-1M972 1017h1v1h-1M975 1017h1v1h-1M979 1017h1v1h-1M1002 1017h1v1h-1M1179 1017h1v1h-1M1207 1017h1v1h-1M1211 1017h1v1h-1M1232 1017h1v1h-1M1256 1017h1v1h-1M1261 1017h1v1h-1M1301 1017h1v1h-1M1319 1017h1v1h-1M1346 1017h1v1h-1M1368 1017h1v1h-1M1390 1017h9v1h-9M1401 1017h3v1h-3M1406 1017h1v1h-1M1408 1017h2v1h-2M1411 1017h1v1h-1M1415 1017h4v1h-4M1421 1017h1v1h-1M1424 1017h2v1h-2M1428 1017h2v1h-2M1432 1017h7v1h-7M1440 1017h7v1h-7M1451 1017h2v1h-2M1454 1017h1v1h-1M1426 1017h1v2h-1M993 1017h2v6h-2M976 1018h1v1h-1M1051 1018h1v1h-1M1116 1018h1v1h-1M1190 1018h1v1h-1M1198 1018h1v1h-1M1216 1018h1v1h-1M1295 1018h1v1h-1M1361 1018h1v1h-1M1380 1018h1v1h-1M1449 1018h1v1h-1M1455 1018h1v1h-1M1021 1018h1v2h-1M864 1019h1v1h-1M1040 1019h1v1h-1M1134 1019h1v1h-1M1185 1019h1v1h-1M1224 1019h2v1h-2M1268 1019h1v1h-1M1301 1019h1v1h-1M1304 1019h1v1h-1M1355 1019h1v1h-1M1419 1019h1v1h-1M1433 1019h1v1h-1M1438 1019h1v1h-1M1330 1019h1v2h-1M861 1020h1v1h-1M991 1020h1v1h-1M1075 1020h1v1h-1M1235 1020h1v1h-1M1255 1020h1v1h-1M1257 1020h1v1h-1M1277 1020h1v1h-1M1291 1020h1v1h-1M1320 1020h1v1h-1M1324 1020h1v1h-1M1326 1020h1v1h-1M1347 1020h1v1h-1M1368 1020h1v1h-1M1414 1020h1v1h-1M1420 1020h1v1h-1M1443 1020h1v1h-1M1457 1020h1v1h-1M856 1021h1v1h-1M971 1021h1v1h-1M1023 1021h1v1h-1M1033 1021h2v1h-2M1137 1021h1v1h-1M1167 1021h1v1h-1M1183 1021h1v1h-1M1204 1021h1v1h-1M1254 1021h1v1h-1M1268 1021h1v1h-1M1292 1021h1v1h-1M1322 1021h1v1h-1M1325 1021h1v1h-1M1342 1021h1v1h-1M1375 1021h2v1h-2M1394 1021h1v1h-1M1417 1021h1v1h-1M1431 1021h1v1h-1M1433 1021h1v1h-1M1446 1021h3v1h-3M1440 1021h1v2h-1M902 1022h1v1h-1M939 1022h1v1h-1M962 1022h1v1h-1M1096 1022h1v1h-1M1179 1022h1v1h-1M1219 1022h2v1h-2M1225 1022h1v1h-1M1243 1022h1v1h-1M1307 1022h1v1h-1M1326 1022h1v1h-1M1340 1022h1v1h-1M1379 1022h1v1h-1M1401 1022h1v1h-1M1409 1022h1v1h-1M1412 1022h1v1h-1M1418 1022h1v1h-1M1164 1022h2v2h-2M1246 1022h1v3h-1M1387 1022h3v3h-3M823 1023h1v1h-1M897 1023h1v1h-1M905 1023h1v1h-1M1069 1023h1v1h-1M1189 1023h1v1h-1M1196 1023h1v1h-1M1216 1023h1v1h-1M1251 1023h1v1h-1M1275 1023h1v1h-1M1295 1023h1v1h-1M1357 1023h1v1h-1M1446 1023h3v1h-3M1214 1023h1v2h-1M1457 1023h1v2h-1M1381 1023h2v3h-2M992 1023h1v7h-1M995 1023h1v7h-1M944 1024h1v1h-1M951 1024h1v1h-1M969 1024h2v1h-2M1074 1024h1v1h-1M1155 1024h1v1h-1M1172 1024h1v1h-1M1208 1024h3v1h-3M1257 1024h1v1h-1M1260 1024h3v1h-3M1270 1024h1v1h-1M1299 1024h1v1h-1M1331 1024h1v1h-1M1358 1024h1v1h-1M1364 1024h1v1h-1M1366 1024h1v1h-1M1386 1024h1v1h-1M1432 1024h1v1h-1M1452 1024h1v1h-1M827 1025h1v1h-1M838 1025h1v1h-1M1035 1025h1v1h-1M1169 1025h1v1h-1M1228 1025h1v1h-1M1277 1025h1v1h-1M1285 1025h1v1h-1M1322 1025h1v1h-1M1326 1025h1v1h-1M1329 1025h1v1h-1M1332 1025h1v1h-1M1347 1025h1v1h-1M1354 1025h2v1h-2M1402 1025h1v1h-1M1431 1025h1v1h-1M1440 1025h2v1h-2M1375 1025h2v2h-2M825 1026h1v1h-1M957 1026h1v1h-1M1045 1026h1v1h-1M1189 1026h1v1h-1M1239 1026h1v1h-1M1246 1026h1v1h-1M1290 1026h1v1h-1M1369 1026h3v1h-3M1401 1026h1v1h-1M1208 1026h2v2h-2M1261 1026h2v2h-2M1265 1026h1v2h-1M1457 1026h1v4h-1M969 1026h2v5h-2M1054 1027h1v1h-1M1099 1027h1v1h-1M1130 1027h1v1h-1M1134 1027h1v1h-1M1164 1027h2v1h-2M1183 1027h1v1h-1M1190 1027h1v1h-1M1216 1027h1v1h-1M1255 1027h1v1h-1M1263 1027h1v1h-1M1268 1027h1v1h-1M1295 1027h1v1h-1M1299 1027h1v1h-1M1306 1027h1v1h-1M1315 1027h1v1h-1M1350 1027h1v1h-1M1359 1027h1v1h-1M1446 1027h3v1h-3M1387 1027h3v2h-3M1381 1027h2v3h-2M883 1028h1v1h-1M1042 1028h1v1h-1M1073 1028h1v1h-1M1196 1028h1v1h-1M1199 1028h1v1h-1M1282 1028h1v1h-1M1301 1028h2v1h-2M1305 1028h1v1h-1M1336 1028h1v1h-1M1346 1028h1v1h-1M1372 1028h1v1h-1M1380 1028h1v1h-1M1402 1028h1v1h-1M1405 1028h1v1h-1M1419 1028h1v1h-1M1429 1028h1v1h-1M1440 1028h1v1h-1M1452 1028h1v1h-1M1252 1028h2v3h-2M819 1029h1v1h-1M823 1029h1v1h-1M854 1029h1v1h-1M878 1029h1v1h-1M886 1029h1v1h-1M902 1029h1v1h-1M917 1029h1v1h-1M936 1029h1v1h-1M955 1029h1v1h-1M964 1029h1v1h-1M976 1029h1v1h-1M1007 1029h1v1h-1M1024 1029h1v1h-1M1054 1029h1v1h-1M1164 1029h2v1h-2M1202 1029h1v1h-1M1205 1029h1v1h-1M1208 1029h2v1h-2M1212 1029h1v1h-1M1224 1029h1v1h-1M1231 1029h1v1h-1M1238 1029h3v1h-3M1247 1029h1v1h-1M1261 1029h2v1h-2M1268 1029h1v1h-1M1330 1029h1v1h-1M1334 1029h1v1h-1M1347 1029h1v1h-1M1350 1029h1v1h-1M1354 1029h1v1h-1M1360 1029h1v1h-1M1401 1029h1v1h-1M1431 1029h1v1h-1M1445 1029h1v1h-1M1454 1029h3v1h-3M1148 1029h1v2h-1M1246 1029h1v2h-1M1280 1029h2v2h-2M1369 1029h3v2h-3M1175 1029h1v6h-1M1439 1029h1v6h-1M1017 1030h1v1h-1M1069 1030h1v1h-1M1105 1030h2v1h-2M1108 1030h6v1h-6M1116 1030h1v1h-1M1119 1030h2v1h-2M1122 1030h3v1h-3M1128 1030h1v1h-1M1130 1030h14v1h-14M1145 1030h1v1h-1M1149 1030h3v1h-3M1153 1030h7v1h-7M1233 1030h3v1h-3M1258 1030h1v1h-1M1267 1030h1v1h-1M1289 1030h1v1h-1M1353 1030h1v1h-1M1355 1030h1v1h-1M1387 1030h3v1h-3M1408 1030h1v1h-1M1416 1030h1v1h-1M1432 1030h1v1h-1M1265 1030h1v2h-1M1255 1030h1v3h-1M1359 1030h1v3h-1M1299 1030h1v4h-1M1213 1030h2v5h-2M1295 1030h1v6h-1M861 1031h1v1h-1M1168 1031h1v1h-1M1206 1031h1v1h-1M1217 1031h1v1h-1M1231 1031h1v1h-1M1261 1031h2v1h-2M1312 1031h1v1h-1M1337 1031h1v1h-1M1372 1031h2v1h-2M1401 1031h1v1h-1M1405 1031h1v1h-1M1452 1031h1v1h-1M1285 1031h1v2h-1M1381 1031h2v2h-2M1169 1031h1v3h-1M843 1032h2v1h-2M1037 1032h1v1h-1M1051 1032h1v1h-1M1101 1032h1v1h-1M1106 1032h1v1h-1M1164 1032h2v1h-2M1198 1032h1v1h-1M1208 1032h2v1h-2M1247 1032h2v1h-2M1252 1032h2v1h-2M1263 1032h1v1h-1M1292 1032h1v1h-1M1375 1032h2v1h-2M1379 1032h1v1h-1M1440 1032h1v1h-1M1443 1032h1v1h-1M1267 1032h2v2h-2M1301 1032h2v2h-2M1362 1032h1v2h-1M1387 1032h3v5h-3M977 1033h1v1h-1M1055 1033h1v1h-1M1113 1033h1v1h-1M1185 1033h1v1h-1M1211 1033h1v1h-1M1265 1033h1v1h-1M1271 1033h1v1h-1M1296 1033h1v1h-1M1304 1033h1v1h-1M1308 1033h1v1h-1M1314 1033h1v1h-1M1320 1033h1v1h-1M1328 1033h1v1h-1M1330 1033h1v1h-1M1332 1033h2v1h-2M1369 1033h5v1h-5M1393 1033h1v1h-1M1446 1033h3v1h-3M968 1033h1v2h-1M971 1033h1v2h-1M1233 1033h3v2h-3M1266 1033h1v2h-1M1444 1033h2v3h-2M1354 1033h1v4h-1M1454 1033h3v5h-3M852 1034h1v1h-1M947 1034h1v1h-1M978 1034h1v1h-1M1104 1034h1v1h-1M1168 1034h1v1h-1M1189 1034h1v1h-1M1196 1034h1v1h-1M1224 1034h1v1h-1M1247 1034h2v1h-2M1298 1034h1v1h-1M1319 1034h1v1h-1M1324 1034h1v1h-1M1334 1034h3v1h-3M1343 1034h1v1h-1M1381 1034h2v1h-2M1425 1034h1v1h-1M1434 1034h1v1h-1M1438 1034h1v1h-1M1440 1034h1v1h-1M1442 1034h1v1h-1M1451 1034h1v1h-1M1140 1034h1v2h-1M1255 1034h1v2h-1M1118 1035h1v1h-1M1199 1035h1v1h-1M1215 1035h1v1h-1M1222 1035h1v1h-1M1225 1035h1v1h-1M1230 1035h1v1h-1M1261 1035h2v1h-2M1265 1035h1v1h-1M1274 1035h1v1h-1M1288 1035h1v1h-1M1308 1035h2v1h-2M1317 1035h1v1h-1M1320 1035h1v1h-1M1330 1035h1v1h-1M1357 1035h2v1h-2M1369 1035h3v1h-3M1379 1035h1v1h-1M1403 1035h1v1h-1M1421 1035h1v1h-1M1208 1035h2v2h-2M1252 1035h2v2h-2M1301 1035h2v2h-2M1337 1035h2v2h-2M1368 1035h1v2h-1M1348 1035h1v3h-1M1372 1035h2v3h-2M1207 1035h1v4h-1M1280 1035h2v4h-2M1355 1035h1v4h-1M1375 1035h2v4h-2M836 1036h1v1h-1M957 1036h1v1h-1M1024 1036h1v1h-1M1067 1036h1v1h-1M1088 1036h1v1h-1M1182 1036h1v1h-1M1200 1036h1v1h-1M1203 1036h1v1h-1M1223 1036h1v1h-1M1233 1036h3v1h-3M1239 1036h1v1h-1M1268 1036h1v1h-1M1306 1036h2v1h-2M1402 1036h1v1h-1M1413 1036h1v1h-1M1433 1036h1v1h-1M1169 1036h1v2h-1M1347 1036h1v2h-1M1349 1036h1v2h-1M1362 1036h1v10h-1M890 1037h1v1h-1M892 1037h1v1h-1M903 1037h1v1h-1M944 1037h1v1h-1M981 1037h1v1h-1M1050 1037h1v1h-1M1073 1037h1v1h-1M1104 1037h1v1h-1M1131 1037h1v1h-1M1189 1037h1v1h-1M1218 1037h1v1h-1M1231 1037h1v1h-1M1245 1037h1v1h-1M1255 1037h1v1h-1M1263 1037h1v1h-1M1346 1037h1v1h-1M1401 1037h1v1h-1M1410 1037h1v1h-1M1437 1037h1v1h-1M1439 1037h1v1h-1M1449 1037h1v1h-1M968 1037h1v2h-1M971 1037h1v2h-1M1217 1037h1v2h-1M1369 1037h3v2h-3M1295 1037h1v3h-1M1334 1037h3v3h-3M902 1038h1v1h-1M984 1038h1v1h-1M1175 1038h1v1h-1M1204 1038h1v1h-1M1208 1038h2v1h-2M1229 1038h1v1h-1M1242 1038h2v1h-2M1247 1038h2v1h-2M1267 1038h2v1h-2M1292 1038h1v1h-1M1301 1038h2v1h-2M1315 1038h1v1h-1M1323 1038h1v1h-1M1357 1038h1v1h-1M1359 1038h1v1h-1M1405 1038h1v1h-1M1416 1038h1v1h-1M1170 1038h1v2h-1M1306 1038h2v2h-2M1384 1038h1v2h-1M1252 1038h2v3h-2M1271 1038h2v3h-2M1279 1038h1v8h-1M972 1039h1v1h-1M1006 1039h1v1h-1M1169 1039h1v1h-1M1196 1039h1v1h-1M1211 1039h1v1h-1M1251 1039h1v1h-1M1265 1039h1v1h-1M1270 1039h1v1h-1M1275 1039h1v1h-1M1284 1039h2v1h-2M1320 1039h1v1h-1M1324 1039h1v1h-1M1361 1039h1v1h-1M1383 1039h1v1h-1M1394 1039h1v1h-1M1406 1039h1v1h-1M1444 1039h2v1h-2M1233 1039h3v2h-3M1286 1039h1v2h-1M1298 1039h1v2h-1M1343 1039h1v2h-1M1429 1039h1v2h-1M852 1040h1v1h-1M877 1040h1v1h-1M890 1040h1v1h-1M1121 1040h1v1h-1M1124 1040h1v1h-1M1175 1040h1v1h-1M1203 1040h2v1h-2M1213 1040h2v1h-2M1220 1040h1v1h-1M1225 1040h1v1h-1M1239 1040h1v1h-1M1244 1040h1v1h-1M1267 1040h1v1h-1M1332 1040h2v1h-2M1346 1040h4v1h-4M1355 1040h1v1h-1M1359 1040h1v1h-1M1368 1040h1v1h-1M1374 1040h1v1h-1M1411 1040h1v1h-1M1207 1040h1v2h-1M1372 1040h2v2h-2M1395 1040h3v2h-3M1255 1040h1v5h-1M855 1041h1v1h-1M861 1041h1v1h-1M955 1041h1v1h-1M1070 1041h1v1h-1M1106 1041h2v1h-2M1138 1041h1v1h-1M1147 1041h1v1h-1M1154 1041h1v1h-1M1178 1041h1v1h-1M1211 1041h1v1h-1M1242 1041h2v1h-2M1254 1041h1v1h-1M1265 1041h1v1h-1M1285 1041h1v1h-1M1306 1041h2v1h-2M1320 1041h1v1h-1M1354 1041h1v1h-1M1385 1041h1v1h-1M1405 1041h1v1h-1M1408 1041h1v1h-1M1444 1041h2v1h-2M1280 1041h2v2h-2M1338 1041h1v2h-1M1350 1041h3v2h-3M1400 1041h1v2h-1M1337 1041h1v5h-1M976 1042h1v1h-1M1055 1042h1v1h-1M1116 1042h1v1h-1M1206 1042h1v1h-1M1213 1042h2v1h-2M1227 1042h1v1h-1M1247 1042h2v1h-2M1287 1042h1v1h-1M1292 1042h1v1h-1M1304 1042h1v1h-1M1312 1042h1v1h-1M1321 1042h1v1h-1M1332 1042h2v1h-2M1339 1042h1v1h-1M1363 1042h2v1h-2M1369 1042h3v1h-3M1374 1042h1v1h-1M1398 1042h2v1h-2M1439 1042h1v1h-1M1442 1042h1v1h-1M1454 1042h3v1h-3M1182 1042h2v2h-2M1244 1042h1v2h-1M1286 1042h1v2h-1M1340 1042h2v2h-2M1252 1042h2v3h-2M1334 1042h3v3h-3M1184 1042h1v7h-1M998 1043h1v1h-1M1007 1043h1v1h-1M1022 1043h1v1h-1M1029 1043h1v1h-1M1037 1043h1v1h-1M1072 1043h1v1h-1M1107 1043h1v1h-1M1189 1043h1v1h-1M1201 1043h1v1h-1M1207 1043h1v1h-1M1217 1043h1v1h-1M1220 1043h1v1h-1M1266 1043h1v1h-1M1270 1043h1v1h-1M1301 1043h2v1h-2M1316 1043h2v1h-2M1320 1043h1v1h-1M1357 1043h1v1h-1M1385 1043h1v1h-1M1395 1043h3v1h-3M1405 1043h2v1h-2M1258 1043h2v2h-2M921 1044h1v1h-1M1145 1044h1v1h-1M1198 1044h2v1h-2M1268 1044h1v1h-1M1271 1044h2v1h-2M1331 1044h1v1h-1M1344 1044h1v1h-1M1350 1044h3v1h-3M1436 1044h1v1h-1M1439 1044h1v1h-1M1232 1044h1v2h-1M1287 1044h1v2h-1M1338 1044h1v2h-1M1325 1044h1v3h-1M1363 1044h2v3h-2M819 1045h1v1h-1M844 1045h1v1h-1M853 1045h1v1h-1M914 1045h1v1h-1M950 1045h1v1h-1M963 1045h1v1h-1M990 1045h1v1h-1M1014 1045h1v1h-1M1030 1045h1v1h-1M1055 1045h1v1h-1M1169 1045h2v1h-2M1172 1045h1v1h-1M1175 1045h1v1h-1M1205 1045h1v1h-1M1218 1045h1v1h-1M1242 1045h2v1h-2M1264 1045h1v1h-1M1295 1045h1v1h-1M1320 1045h1v1h-1M1340 1045h1v1h-1M1391 1045h1v1h-1M1408 1045h3v1h-3M1181 1045h1v2h-1M1207 1045h1v2h-1M1324 1045h1v2h-1M1342 1045h2v2h-2M1182 1045h2v4h-2M1238 1045h1v4h-1M1347 1045h3v4h-3M1398 1045h3v4h-3M825 1046h1v1h-1M900 1046h3v1h-3M956 1046h1v1h-1M1211 1046h1v1h-1M1213 1046h2v1h-2M1217 1046h1v1h-1M1224 1046h1v1h-1M1247 1046h2v1h-2M1269 1046h1v1h-1M1280 1046h2v1h-2M1332 1046h5v1h-5M1383 1046h3v1h-3M1402 1046h1v1h-1M1405 1046h1v1h-1M1431 1046h1v1h-1M1444 1046h2v1h-2M1286 1046h1v2h-1M1204 1046h1v3h-1M1244 1046h1v3h-1M1441 1046h3v3h-3M1178 1046h1v5h-1M1339 1046h1v7h-1M842 1047h1v1h-1M850 1047h1v1h-1M953 1047h1v1h-1M1116 1047h1v1h-1M1188 1047h1v1h-1M1241 1047h1v1h-1M1252 1047h2v1h-2M1255 1047h1v1h-1M1268 1047h1v1h-1M1279 1047h1v1h-1M1282 1047h1v1h-1M1323 1047h1v1h-1M1337 1047h2v1h-2M1361 1047h1v1h-1M1392 1047h1v1h-1M1451 1047h1v1h-1M1406 1047h1v2h-1M1170 1047h1v3h-1M1177 1047h1v4h-1M1221 1047h1v8h-1M898 1048h1v1h-1M911 1048h1v1h-1M930 1048h1v1h-1M998 1048h1v1h-1M1038 1048h1v1h-1M1090 1048h1v1h-1M1201 1048h1v1h-1M1205 1048h1v1h-1M1230 1048h1v1h-1M1264 1048h1v1h-1M1287 1048h1v1h-1M1340 1048h2v1h-2M1424 1048h1v1h-1M1180 1048h1v2h-1M1207 1048h1v2h-1M1232 1048h1v2h-1M1408 1048h2v2h-2M1412 1048h1v3h-1M1342 1048h2v4h-2M1410 1048h1v4h-1M1383 1048h2v6h-2M1407 1048h1v7h-1M861 1049h1v1h-1M917 1049h1v1h-1M1003 1049h1v1h-1M1074 1049h1v1h-1M1128 1049h1v1h-1M1151 1049h1v1h-1M1171 1049h1v1h-1M1176 1049h1v1h-1M1188 1049h1v1h-1M1192 1049h3v1h-3M1196 1049h1v1h-1M1241 1049h3v1h-3M1257 1049h1v1h-1M1300 1049h1v1h-1M1320 1049h1v1h-1M1323 1049h1v1h-1M1337 1049h1v1h-1M1427 1049h1v1h-1M1435 1049h1v1h-1M1181 1049h1v2h-1M1266 1049h1v2h-1M1324 1049h2v3h-2M1338 1049h1v3h-1M1331 1049h1v5h-1M1222 1049h2v6h-2M848 1050h1v1h-1M873 1050h1v1h-1M916 1050h1v1h-1M962 1050h1v1h-1M1027 1050h1v1h-1M1116 1050h1v1h-1M1132 1050h1v1h-1M1140 1050h1v1h-1M1149 1050h1v1h-1M1174 1050h1v1h-1M1198 1050h1v1h-1M1200 1050h1v1h-1M1202 1050h1v1h-1M1204 1050h1v1h-1M1230 1050h1v1h-1M1238 1050h1v1h-1M1240 1050h1v1h-1M1260 1050h1v1h-1M1271 1050h2v1h-2M1298 1050h1v1h-1M1317 1050h3v1h-3M1340 1050h2v1h-2M1361 1050h1v1h-1M1363 1050h2v1h-2M1368 1050h1v1h-1M1416 1050h1v1h-1M1420 1050h1v1h-1M1423 1050h1v1h-1M1430 1050h1v1h-1M1441 1050h3v1h-3M1205 1050h1v2h-1M1249 1050h2v2h-2M1286 1050h1v2h-1M1350 1050h3v2h-3M1244 1050h1v3h-1M1406 1050h1v5h-1M900 1051h1v1h-1M934 1051h1v1h-1M1020 1051h1v1h-1M1024 1051h1v1h-1M1078 1051h1v1h-1M1182 1051h4v1h-4M1300 1051h1v1h-1M1303 1051h1v1h-1M1305 1051h1v1h-1M1337 1051h1v1h-1M1408 1051h2v1h-2M1431 1051h1v1h-1M1433 1051h1v1h-1M1176 1051h1v2h-1M1180 1051h1v2h-1M1347 1051h3v2h-3M1304 1051h1v3h-1M1418 1051h1v3h-1M1232 1051h1v4h-1M881 1052h1v1h-1M1081 1052h1v1h-1M1084 1052h1v1h-1M1114 1052h1v1h-1M1181 1052h1v1h-1M1291 1052h1v1h-1M1340 1052h2v1h-2M1344 1052h1v1h-1M1361 1052h1v1h-1M1363 1052h2v1h-2M1398 1052h3v1h-3M1402 1052h1v1h-1M1404 1052h1v1h-1M1412 1052h1v1h-1M1441 1052h3v1h-3M1193 1052h2v2h-2M1357 1052h1v2h-1M1403 1052h1v2h-1M1419 1052h1v2h-1M1170 1052h1v4h-1M1257 1052h1v5h-1M956 1053h1v1h-1M1034 1053h1v1h-1M1173 1053h2v1h-2M1177 1053h2v1h-2M1190 1053h1v1h-1M1204 1053h1v1h-1M1230 1053h1v1h-1M1238 1053h1v1h-1M1303 1053h1v1h-1M1305 1053h1v1h-1M1346 1053h1v1h-1M1350 1053h3v1h-3M1408 1053h3v1h-3M1416 1053h2v1h-2M1434 1053h2v1h-2M1438 1053h1v1h-1M1207 1053h1v2h-1M1249 1053h2v3h-2M1300 1053h1v3h-1M910 1054h1v1h-1M940 1054h1v1h-1M979 1054h1v1h-1M1003 1054h1v1h-1M1117 1054h1v1h-1M1181 1054h1v1h-1M1201 1054h1v1h-1M1241 1054h1v1h-1M1273 1054h1v1h-1M1347 1054h3v1h-3M1363 1054h2v1h-2M1441 1054h3v1h-3M1210 1054h3v2h-3M1282 1054h2v2h-2M1339 1054h1v2h-1M1342 1054h2v2h-2M1392 1054h1v3h-1M1428 1054h3v3h-3M859 1055h1v1h-1M913 1055h1v1h-1M936 1055h1v1h-1M1076 1055h1v1h-1M1079 1055h1v1h-1M1198 1055h2v1h-2M1202 1055h1v1h-1M1315 1055h1v1h-1M1383 1055h2v1h-2M1408 1055h3v1h-3M1418 1055h2v1h-2M1436 1055h1v1h-1M1173 1055h2v2h-2M1176 1055h1v2h-1M1205 1055h1v2h-1M1317 1055h3v2h-3M1337 1055h2v2h-2M1402 1055h3v4h-3M1421 1055h1v4h-1M1230 1055h1v5h-1M1193 1055h2v6h-2M844 1056h1v1h-1M951 1056h1v1h-1M1058 1056h1v1h-1M1082 1056h1v1h-1M1084 1056h1v1h-1M1125 1056h1v1h-1M1195 1056h2v1h-2M1224 1056h1v1h-1M1275 1056h1v1h-1M1303 1056h3v1h-3M1347 1056h3v1h-3M1360 1056h2v1h-2M1398 1056h3v1h-3M1406 1056h2v1h-2M1441 1056h3v1h-3M1453 1056h1v1h-1M1180 1056h2v3h-2M1201 1056h1v3h-1M1204 1056h1v3h-1M1431 1056h3v3h-3M1434 1056h2v10h-2M878 1057h1v1h-1M885 1057h1v1h-1M908 1057h2v1h-2M932 1057h1v1h-1M959 1057h1v1h-1M990 1057h1v1h-1M1035 1057h1v1h-1M1147 1057h1v1h-1M1162 1057h1v1h-1M1227 1057h1v1h-1M1358 1057h1v1h-1M1378 1057h1v1h-1M1393 1057h1v1h-1M1198 1057h2v2h-2M1215 1057h2v2h-2M1221 1057h3v2h-3M1249 1057h2v2h-2M1300 1057h1v2h-1M1357 1057h1v2h-1M1413 1057h2v2h-2M1416 1057h2v2h-2M1308 1057h2v3h-2M1314 1057h1v3h-1M1411 1057h1v3h-1M1449 1057h2v4h-2M898 1058h1v1h-1M902 1058h1v1h-1M912 1058h1v1h-1M1264 1058h1v1h-1M1438 1058h1v1h-1M1310 1058h1v2h-1M821 1059h1v1h-1M1024 1059h1v1h-1M1032 1059h1v1h-1M1107 1059h1v1h-1M1111 1059h1v1h-1M1119 1059h1v1h-1M1167 1059h1v1h-1M1176 1059h1v1h-1M1225 1059h1v1h-1M1244 1059h2v1h-2M1254 1059h1v1h-1M1256 1059h1v1h-1M1283 1059h1v1h-1M1311 1059h2v1h-2M1322 1059h1v1h-1M1327 1059h3v1h-3M1337 1059h3v1h-3M1347 1059h3v1h-3M1353 1059h1v1h-1M1363 1059h2v1h-2M1383 1059h2v1h-2M1426 1059h1v1h-1M1441 1059h3v1h-3M1173 1059h2v2h-2M1241 1059h1v2h-1M1282 1059h1v2h-1M1172 1059h1v4h-1M1195 1059h2v4h-2M1278 1059h1v4h-1M1288 1059h2v4h-2M1315 1059h2v4h-2M1418 1059h2v4h-2M897 1060h1v1h-1M933 1060h1v1h-1M1031 1060h1v1h-1M1037 1060h1v1h-1M1170 1060h1v1h-1M1204 1060h2v1h-2M1207 1060h1v1h-1M1210 1060h3v1h-3M1219 1060h1v1h-1M1275 1060h3v1h-3M1300 1060h1v1h-1M1317 1060h3v1h-3M1356 1060h1v1h-1M1379 1060h2v1h-2M1385 1060h2v1h-2M1428 1060h1v1h-1M1453 1060h1v1h-1M1257 1060h1v3h-1M1303 1060h3v3h-3M1413 1060h2v3h-2M1431 1060h3v3h-3M1177 1060h2v5h-2M1421 1060h1v5h-1M1198 1060h2v6h-2M1237 1060h1v6h-1M1221 1060h3v8h-3M888 1061h1v1h-1M980 1061h1v1h-1M1161 1061h1v1h-1M1187 1061h1v1h-1M1220 1061h1v1h-1M1236 1061h1v1h-1M1311 1061h1v1h-1M1176 1061h1v2h-1M1181 1061h1v2h-1M1201 1061h1v2h-1M1215 1061h2v2h-2M1228 1061h1v2h-1M1245 1061h1v2h-1M1269 1061h2v2h-2M1314 1061h1v2h-1M1331 1061h1v2h-1M1360 1061h2v2h-2M1408 1061h3v2h-3M1416 1061h2v2h-2M1308 1061h2v4h-2M1163 1061h1v7h-1M821 1062h1v1h-1M824 1062h1v1h-1M829 1062h1v1h-1M844 1062h1v1h-1M989 1062h1v1h-1M991 1062h1v1h-1M1114 1062h1v1h-1M1160 1062h1v1h-1M1192 1062h1v1h-1M1254 1062h1v1h-1M1256 1062h1v1h-1M1186 1062h1v2h-1M862 1063h1v1h-1M910 1063h1v1h-1M1009 1063h1v1h-1M1053 1063h1v1h-1M1093 1063h1v1h-1M1356 1063h1v1h-1M1180 1063h1v2h-1M1239 1063h2v2h-2M1263 1063h2v2h-2M1300 1063h1v2h-1M1353 1063h1v2h-1M1365 1063h2v2h-2M1385 1063h2v2h-2M1193 1063h2v3h-2M1327 1063h3v3h-3M1379 1063h2v5h-2M1411 1063h1v5h-1M929 1064h1v1h-1M938 1064h1v1h-1M1138 1064h1v1h-1M1160 1064h1v1h-1M1171 1064h1v1h-1M1254 1064h1v1h-1M1377 1064h1v1h-1M1275 1064h1v2h-1M1423 1064h1v2h-1M1449 1064h1v2h-1M949 1065h1v1h-1M966 1065h1v1h-1M1092 1065h1v1h-1M1094 1065h1v1h-1M1127 1065h1v1h-1M1179 1065h1v1h-1M1191 1065h1v1h-1M1195 1065h2v1h-2M1219 1065h1v1h-1M1241 1065h1v1h-1M1274 1065h1v1h-1M1276 1065h3v1h-3M1315 1065h2v1h-2M1331 1065h1v1h-1M1339 1065h1v1h-1M1378 1065h1v1h-1M1413 1065h2v1h-2M1420 1065h1v1h-1M1422 1065h1v1h-1M1424 1065h1v1h-1M1450 1065h1v1h-1M1192 1065h1v3h-1M1201 1065h1v3h-1M1245 1065h1v3h-1M1436 1065h3v3h-3M1181 1065h1v8h-1M903 1066h1v1h-1M927 1066h1v1h-1M962 1066h1v1h-1M1002 1066h1v1h-1M1053 1066h1v1h-1M1085 1066h1v1h-1M1117 1066h1v1h-1M1203 1066h1v1h-1M1063 1066h1v2h-1M1173 1066h2v2h-2M1185 1066h2v2h-2M1204 1066h1v2h-1M1228 1066h1v2h-1M1244 1066h1v2h-1M1282 1066h2v2h-2M1303 1066h3v2h-3M1344 1066h2v2h-2M1402 1066h3v2h-3M1231 1066h1v4h-1M1269 1066h2v4h-2M1310 1066h3v4h-3M1421 1066h1v4h-1M1427 1066h1v12h-1M819 1067h1v1h-1M1021 1067h1v1h-1M1046 1067h1v1h-1M1256 1067h1v1h-1M1266 1067h1v1h-1M1377 1067h1v1h-1M878 1068h1v1h-1M1108 1068h1v1h-1M1126 1068h1v1h-1M1166 1068h1v1h-1M1284 1068h1v1h-1M1415 1068h1v1h-1M1167 1068h2v2h-2M1225 1068h3v2h-3M1308 1068h2v2h-2M1385 1068h2v2h-2M1393 1068h2v2h-2M1422 1068h3v2h-3M1434 1068h2v2h-2M1441 1068h3v2h-3M828 1068h3v5h-3M1188 1068h3v5h-3M1195 1068h2v5h-2M1294 1068h1v5h-1M1418 1068h2v5h-2M846 1069h1v1h-1M854 1069h1v1h-1M875 1069h1v1h-1M882 1069h1v1h-1M1103 1069h1v1h-1M1224 1069h1v1h-1M1273 1069h1v1h-1M1451 1069h1v1h-1M1073 1070h1v1h-1M1075 1070h1v1h-1M867 1070h2v3h-2M1163 1070h1v3h-1M1192 1070h1v3h-1M1239 1070h2v3h-2M1303 1070h3v3h-3M1337 1070h3v3h-3M1402 1070h3v3h-3M1201 1070h1v5h-1M1219 1070h1v5h-1M1428 1070h3v5h-3M1436 1070h3v5h-3M1204 1070h1v8h-1M911 1071h1v1h-1M983 1071h1v1h-1M1038 1071h1v1h-1M1053 1071h1v1h-1M1202 1071h1v1h-1M1082 1071h1v2h-1M863 1072h1v1h-1M901 1072h1v1h-1M905 1072h1v1h-1M940 1072h1v1h-1M953 1072h1v1h-1M1224 1072h1v1h-1M871 1073h1v1h-1M912 1073h1v1h-1M921 1073h1v1h-1M1068 1073h1v1h-1M1104 1073h1v1h-1M1186 1073h1v1h-1M1260 1073h1v1h-1M1298 1073h1v1h-1M852 1073h2v2h-2M950 1073h2v2h-2M1173 1073h2v2h-2M1180 1073h1v2h-1M1275 1073h3v2h-3M1385 1073h2v2h-2M1411 1073h1v2h-1M1422 1073h3v2h-3M1241 1073h1v5h-1M1365 1073h2v5h-2M1378 1073h1v5h-1M889 1074h1v1h-1M974 1074h1v1h-1M1032 1074h1v1h-1M1039 1074h1v1h-1M1060 1074h1v1h-1M1146 1074h1v1h-1M1251 1074h1v1h-1M1293 1074h1v1h-1M1367 1074h1v1h-1M1294 1074h1v8h-1M845 1075h1v1h-1M960 1075h1v1h-1M1031 1075h1v1h-1M1458 1075h1v1h-1M831 1075h1v3h-1M858 1075h2v3h-2M926 1075h4v3h-4M1185 1075h2v3h-2M1192 1075h1v3h-1M1315 1075h2v3h-2M1193 1075h2v7h-2M873 1075h3v11h-3M914 1076h1v1h-1M938 1076h1v1h-1M1046 1076h1v1h-1M1108 1076h1v1h-1M1147 1076h1v1h-1M1224 1076h1v1h-1M1260 1076h1v1h-1M1426 1076h1v1h-1M896 1077h1v1h-1M1024 1077h1v1h-1M1124 1077h1v1h-1M1133 1077h1v1h-1M853 1077h1v5h-1M1034 1078h1v1h-1M1171 1078h1v1h-1M1224 1078h1v1h-1M852 1078h1v4h-1M957 1078h3v4h-3M988 1078h2v4h-2M1167 1078h2v4h-2M1188 1078h3v4h-3M1195 1078h2v4h-2M1239 1078h2v4h-2M1269 1078h2v4h-2M1393 1078h2v4h-2M1402 1078h3v4h-3M1449 1078h2v4h-2M1275 1078h3v8h-3M1385 1078h2v8h-2M864 1079h1v1h-1M962 1079h1v1h-1M1054 1079h1v1h-1M1092 1079h1v1h-1M1127 1079h1v1h-1M1266 1079h1v1h-1M1273 1079h1v1h-1M1284 1079h1v1h-1M857 1080h1v1h-1M942 1080h1v1h-1M961 1080h1v1h-1M1008 1080h1v1h-1M1058 1080h1v1h-1M1109 1080h1v1h-1M1377 1080h1v1h-1M833 1081h1v1h-1M877 1081h1v1h-1M1064 1081h1v1h-1M1102 1081h1v1h-1M1104 1081h1v1h-1M1110 1081h1v1h-1M1140 1081h1v1h-1M1200 1081h1v1h-1M1206 1081h1v1h-1M1368 1081h1v1h-1M827 1082h1v1h-1M919 1082h1v1h-1M1224 1082h1v1h-1M1291 1082h1v1h-1M1298 1082h1v1h-1M1391 1082h1v1h-1M878 1082h3v4h-3M926 1082h4v4h-4M950 1082h2v4h-2M980 1082h2v4h-2M1192 1082h1v4h-1M1427 1082h1v4h-1M1185 1082h2v9h-2M1365 1082h2v9h-2M1153 1083h1v1h-1M877 1084h1v1h-1M1106 1084h1v1h-1M1166 1084h1v1h-1M1203 1084h1v1h-1M1254 1084h1v1h-1M1274 1084h1v1h-1M887 1085h1v1h-1M990 1085h1v1h-1M1015 1085h1v1h-1M1039 1085h1v1h-1M1100 1085h1v1h-1M1179 1085h1v1h-1M861 1086h1v1h-1M870 1086h1v1h-1M889 1086h1v1h-1M935 1086h1v1h-1M1061 1086h1v1h-1M1105 1086h1v1h-1M865 1086h2v5h-2M876 1086h2v5h-2M907 1086h3v5h-3M920 1086h3v5h-3M979 1086h1v5h-1M931 1086h1v11h-1M1000 1086h1v11h-1M910 1087h1v1h-1M1001 1087h1v1h-1M1040 1087h1v1h-1M1148 1087h1v1h-1M1159 1087h1v1h-1M1368 1087h1v1h-1M1206 1088h1v1h-1M1426 1088h1v1h-1M944 1089h1v1h-1M967 1089h1v1h-1M999 1089h1v1h-1M1025 1089h1v1h-1M1056 1089h1v1h-1M1197 1089h1v1h-1M1019 1090h1v1h-1M1030 1090h1v1h-1M1104 1090h1v1h-1M1118 1090h1v1h-1M887 1091h1v1h-1M972 1091h1v1h-1M1218 1091h1v1h-1M1426 1091h1v1h-1M882 1091h1v6h-1M1011 1091h3v6h-3M1275 1091h3v6h-3M1385 1091h2v6h-2M1006 1091h1v15h-1M1055 1091h2v15h-2M997 1092h1v1h-1M1138 1092h1v1h-1M1356 1092h1v1h-1M917 1093h1v1h-1M960 1093h1v1h-1M1098 1093h1v1h-1M1112 1093h1v1h-1M1273 1093h1v1h-1M1297 1093h1v1h-1M939 1094h1v1h-1M966 1094h1v1h-1M991 1094h1v1h-1M1046 1094h1v1h-1M1254 1094h1v1h-1M836 1095h1v1h-1M1102 1095h1v1h-1M1124 1095h1v1h-1M845 1096h1v1h-1M870 1096h1v1h-1M1007 1096h1v1h-1M1044 1096h1v1h-1M1415 1096h1v1h-1M841 1097h1v1h-1M948 1097h1v1h-1M961 1097h1v1h-1M1052 1097h1v1h-1M1057 1097h1v1h-1M1146 1097h1v1h-1M1256 1097h1v1h-1M1291 1097h1v1h-1M1297 1097h1v1h-1M862 1097h2v9h-2M1071 1097h1v9h-1M835 1098h1v1h-1M896 1098h1v1h-1M1003 1098h1v1h-1M1119 1098h1v1h-1M1143 1098h1v1h-1M1218 1098h1v1h-1M1420 1098h1v1h-1M848 1099h1v1h-1M913 1099h1v1h-1M1109 1099h1v1h-1M1158 1099h1v1h-1M857 1100h1v1h-1M899 1100h1v1h-1M990 1100h1v1h-1M1126 1100h1v1h-1M1197 1100h1v1h-1M1260 1100h1v1h-1M824 1101h1v1h-1M840 1101h1v1h-1M917 1101h1v1h-1M1179 1101h1v1h-1M1203 1101h1v1h-1M1291 1101h1v1h-1M1368 1101h1v1h-1M834 1101h1v2h-1M997 1102h1v1h-1M1015 1102h1v1h-1M1191 1102h1v1h-1M847 1103h1v1h-1M966 1103h1v1h-1M977 1103h1v1h-1M985 1103h1v1h-1M1112 1103h1v1h-1M1224 1103h1v1h-1M1254 1103h1v1h-1M1087 1103h1v2h-1M854 1104h1v1h-1M884 1104h1v1h-1M1059 1104h1v1h-1M1141 1104h1v1h-1M1202 1104h1v1h-1M1313 1104h1v1h-1M1358 1104h1v1h-1M1415 1104h1v1h-1M1451 1104h1v1h-1M821 1105h1v1h-1M864 1105h1v1h-1M901 1105h1v1h-1M906 1105h1v1h-1M947 1105h2v1h-2M1069 1105h1v1h-1M1126 1105h1v1h-1M1136 1105h1v1h-1M1140 1105h1v1h-1M1206 1105h1v1h-1M1008 1106h1v1h-1M1048 1106h1v1h-1M1059 1106h1v1h-1M1166 1106h1v1h-1M912 1106h1v15h-1M1030 1106h2v15h-2M1054 1106h1v15h-1M1192 1106h1v15h-1M1195 1106h2v15h-2M1201 1106h1v15h-1M1337 1106h2v15h-2M923 1107h1v1h-1M935 1107h1v1h-1M1143 1107h1v1h-1M1147 1107h1v1h-1M1229 1107h1v1h-1M1251 1107h1v2h-1M1021 1108h1v1h-1M1107 1108h1v1h-1M1326 1108h1v1h-1M1426 1108h1v1h-1M1200 1108h1v2h-1M1009 1109h1v1h-1M1040 1109h1v1h-1M1203 1109h1v1h-1M1256 1109h1v2h-1M910 1110h2v1h-2M1015 1110h1v1h-1M1038 1110h1v1h-1M1290 1110h1v1h-1M906 1111h1v1h-1M956 1111h1v1h-1M963 1111h1v1h-1M1010 1111h1v1h-1M1070 1111h1v1h-1M1131 1111h1v1h-1M1147 1111h1v1h-1M1266 1111h1v1h-1M1313 1111h1v1h-1M932 1112h1v1h-1M1026 1112h1v1h-1M1092 1112h1v1h-1M1290 1112h1v1h-1M1391 1112h1v1h-1M955 1113h1v1h-1M1048 1113h1v1h-1M1070 1113h1v1h-1M1151 1113h1v1h-1M1075 1114h1v1h-1M1118 1114h1v1h-1M1129 1114h1v1h-1M1191 1114h1v1h-1M1358 1114h1v1h-1M1426 1114h1v1h-1M1453 1114h1v1h-1M862 1115h1v1h-1M884 1115h1v1h-1M915 1115h1v1h-1M960 1115h1v1h-1M1137 1115h1v1h-1M1298 1115h1v1h-1M1094 1116h1v1h-1M1451 1116h1v1h-1M844 1117h1v1h-1M1099 1117h1v1h-1M1107 1117h1v1h-1M1256 1117h1v1h-1M1326 1117h1v1h-1M1236 1118h1v1h-1M1291 1118h1v1h-1M1027 1119h1v1h-1M1029 1119h1v1h-1M1055 1119h1v1h-1M1072 1119h1v1h-1M1140 1119h1v1h-1M1145 1119h1v1h-1M1200 1119h1v1h-1M834 1120h1v1h-1M945 1120h1v1h-1M1108 1120h1v1h-1M1130 1120h1v1h-1M1141 1120h1v1h-1M1256 1120h1v1h-1M1326 1120h1v1h-1M1358 1120h1v1h-1M1377 1120h1v1h-1M1426 1120h1v1h-1"/><path fill="#003fff" d="M1391 1013h5v1h-5M1398 1013h1v1h-1M1400 1013h8v1h-8M1409 1013h2v1h-2M1412 1013h2v1h-2M1415 1013h4v1h-4M1420 1013h4v1h-4M1426 1013h3v1h-3M1430 1013h4v1h-4M1435 1013h5v1h-5M1441 1013h1v1h-1M1443 1013h1v1h-1M1446 1013h4v1h-4M1451 1013h2v1h-2M1454 1013h1v1h-1M1446 1022h3v1h-3M1452 1023h1v1h-1M993 1025h2v1h-2M1401 1025h1v1h-1M1457 1025h1v1h-1M1164 1025h2v2h-2M1446 1025h3v2h-3M1452 1025h1v2h-1M1401 1027h1v2h-1M1375 1027h2v4h-2M1164 1028h2v1h-2M1208 1028h2v1h-2M1446 1028h3v2h-3M1299 1029h1v1h-1M1387 1029h3v1h-3M1285 1029h1v2h-1M1452 1029h1v2h-1M1440 1029h1v3h-1M1208 1030h2v1h-2M1261 1030h2v1h-2M1268 1030h1v1h-1M1381 1030h2v1h-2M1401 1030h1v1h-1M1457 1030h1v1h-1M992 1030h1v2h-1M995 1030h1v2h-1M1454 1030h3v3h-3M1164 1031h2v1h-2M1252 1031h2v1h-2M1267 1031h1v1h-1M1387 1031h3v1h-3M969 1031h2v2h-2M1330 1031h1v2h-1M1446 1031h3v2h-3M1233 1032h3v1h-3M1265 1032h1v1h-1M1369 1032h3v1h-3M1457 1032h1v2h-1M1355 1032h1v3h-1M992 1033h1v1h-1M995 1033h1v1h-1M1247 1033h2v1h-2M1252 1033h2v1h-2M1255 1033h1v1h-1M1285 1033h1v1h-1M1375 1033h2v1h-2M1381 1033h2v1h-2M1261 1033h2v2h-2M1359 1033h1v2h-1M1452 1033h1v2h-1M1401 1033h1v4h-1M1164 1034h2v1h-2M1208 1034h2v1h-2M1267 1034h1v1h-1M1299 1034h1v1h-1M1330 1034h1v1h-1M1362 1034h1v1h-1M1372 1034h2v1h-2M1405 1034h1v1h-1M1268 1034h1v2h-1M1446 1034h3v2h-3M1169 1035h1v1h-1M1213 1035h2v1h-2M1246 1035h1v1h-1M968 1035h1v2h-1M971 1035h1v2h-1M1175 1035h1v2h-1M1439 1035h1v2h-1M1247 1035h2v3h-2M1440 1035h1v3h-1M1255 1036h1v1h-1M1265 1036h1v1h-1M1267 1036h1v1h-1M1285 1036h1v1h-1M1295 1036h1v1h-1M1299 1036h1v1h-1M1369 1036h3v1h-3M1381 1036h2v1h-2M1359 1036h1v2h-1M1208 1037h2v1h-2M1252 1037h2v1h-2M1268 1037h1v1h-1M1292 1037h1v1h-1M1387 1037h3v1h-3M1405 1037h1v1h-1M1444 1037h2v1h-2M1452 1037h1v1h-1M1213 1037h2v2h-2M1246 1037h1v4h-1M1265 1038h1v1h-1M1285 1038h1v1h-1M1381 1038h2v1h-2M1446 1038h3v1h-3M1255 1038h1v2h-1M1299 1038h1v2h-1M1332 1038h2v2h-2M1175 1039h1v1h-1M1247 1039h2v1h-2M1354 1039h1v1h-1M1359 1039h1v1h-1M1369 1039h5v1h-5M1439 1039h1v1h-1M1452 1039h1v1h-1M1261 1039h2v2h-2M1280 1039h2v2h-2M1301 1039h2v2h-2M1440 1039h1v3h-1M968 1040h1v1h-1M971 1040h1v1h-1M1208 1040h2v1h-2M1285 1040h1v1h-1M1381 1040h2v1h-2M1405 1040h1v1h-1M1444 1040h2v1h-2M1268 1040h1v2h-1M1292 1040h1v2h-1M1334 1040h3v2h-3M1169 1041h1v1h-1M1213 1041h2v1h-2M1217 1041h1v1h-1M1252 1041h2v1h-2M1299 1041h1v1h-1M1330 1041h1v1h-1M1359 1041h1v1h-1M1369 1041h3v1h-3M1439 1041h1v1h-1M1452 1041h1v1h-1M1295 1041h1v2h-1M1387 1041h3v2h-3M1175 1041h1v3h-1M1207 1042h1v1h-1M1285 1042h1v1h-1M1320 1042h1v1h-1M1347 1042h3v1h-3M1354 1042h1v1h-1M1375 1042h2v1h-2M1395 1042h3v1h-3M1405 1042h1v1h-1M1208 1042h2v2h-2M1233 1042h3v2h-3M1267 1042h1v2h-1M1444 1042h2v2h-2M1242 1042h2v3h-2M1164 1043h2v1h-2M1213 1043h2v1h-2M1265 1043h1v1h-1M1271 1043h2v1h-2M1287 1043h1v1h-1M1292 1043h1v1h-1M1306 1043h2v1h-2M1332 1043h2v1h-2M1381 1043h2v1h-2M1401 1043h1v1h-1M968 1043h1v2h-1M971 1043h1v2h-1M1372 1043h2v3h-2M1454 1043h3v3h-3M1169 1044h1v1h-1M1207 1044h1v1h-1M1295 1044h1v1h-1M1301 1044h2v1h-2M1320 1044h1v1h-1M1359 1044h1v1h-1M1395 1044h3v1h-3M1405 1044h1v1h-1M1440 1044h1v1h-1M1446 1044h3v1h-3M1217 1044h1v2h-1M1280 1044h2v2h-2M1286 1044h1v2h-1M1354 1044h1v2h-1M1369 1044h3v2h-3M1285 1044h1v3h-1M1233 1045h3v1h-3M1265 1045h1v1h-1M1267 1045h1v1h-1M1292 1045h1v1h-1M1299 1045h1v1h-1M1334 1045h3v1h-3M1271 1045h2v2h-2M1350 1045h3v3h-3M1258 1045h2v5h-2M1306 1045h2v5h-2M1169 1046h1v1h-1M1252 1046h2v1h-2M1268 1046h1v1h-1M1279 1046h1v1h-1M1287 1046h1v1h-1M1320 1046h1v1h-1M1375 1046h2v1h-2M1401 1046h1v1h-1M1242 1046h2v2h-2M1340 1046h2v2h-2M1362 1046h1v3h-1M1395 1046h3v5h-3M1207 1047h1v1h-1M1233 1047h3v1h-3M1295 1047h1v1h-1M1342 1047h2v1h-2M1405 1047h1v1h-1M1444 1047h2v1h-2M1217 1047h1v2h-1M1208 1048h2v1h-2M1279 1048h1v1h-1M1285 1048h1v1h-1M1324 1048h2v1h-2M1332 1048h2v1h-2M1337 1048h2v1h-2M1359 1048h1v1h-1M1271 1048h2v2h-2M1363 1048h2v2h-2M1175 1049h1v1h-1M1230 1049h1v1h-1M1238 1049h1v1h-1M1252 1049h2v1h-2M1255 1049h1v1h-1M1287 1049h1v1h-1M1334 1049h3v1h-3M1340 1049h2v1h-2M1350 1049h3v1h-3M1369 1049h3v1h-3M1444 1049h2v1h-2M1215 1049h2v2h-2M1280 1049h2v2h-2M1347 1049h3v2h-3M1169 1049h1v3h-1M1398 1049h3v3h-3M1268 1050h1v1h-1M1359 1050h1v1h-1M1362 1050h1v1h-1M1405 1050h1v1h-1M1170 1050h1v2h-1M1320 1050h1v2h-1M1238 1051h1v1h-1M1265 1051h1v1h-1M1412 1051h1v1h-1M1255 1051h1v2h-1M1295 1051h1v2h-1M1201 1052h1v1h-1M1204 1052h1v1h-1M1279 1052h1v1h-1M1301 1052h2v1h-2M1369 1052h3v1h-3M1405 1052h1v1h-1M1408 1052h3v1h-3M1280 1052h2v2h-2M1324 1052h2v2h-2M1334 1052h3v3h-3M1362 1052h1v3h-1M1286 1052h1v5h-1M1215 1053h2v1h-2M1241 1053h1v1h-1M1252 1053h2v1h-2M1287 1053h1v1h-1M1363 1053h2v1h-2M1395 1053h3v1h-3M1441 1053h5v1h-5M1205 1053h1v2h-1M1271 1053h2v2h-2M1317 1053h3v2h-3M1337 1053h2v2h-2M1398 1053h3v2h-3M1244 1053h1v6h-1M1176 1054h1v1h-1M1204 1054h1v1h-1M1230 1054h1v1h-1M1255 1054h1v1h-1M1268 1054h1v1h-1M1279 1054h1v1h-1M1295 1054h1v1h-1M1320 1054h1v1h-1M1408 1054h3v1h-3M1439 1054h1v1h-1M1350 1054h3v2h-3M1412 1054h1v2h-1M1169 1055h1v1h-1M1180 1055h1v1h-1M1201 1055h1v1h-1M1242 1055h2v1h-2M1247 1055h2v1h-2M1280 1055h2v1h-2M1340 1055h2v1h-2M1347 1055h3v1h-3M1395 1055h3v1h-3M1416 1055h2v1h-2M1441 1055h3v1h-3M1207 1055h1v2h-1M1215 1055h2v2h-2M1221 1055h3v2h-3M1232 1055h1v2h-1M1306 1055h2v2h-2M1357 1055h1v2h-1M1241 1055h1v4h-1M1177 1055h2v5h-2M1255 1056h1v1h-1M1362 1056h1v1h-1M1405 1056h1v1h-1M1408 1056h3v1h-3M1339 1056h1v3h-1M1383 1056h2v3h-2M1331 1056h1v5h-1M1176 1057h1v2h-1M1182 1057h3v2h-3M1205 1057h1v2h-1M1280 1057h2v2h-2M1360 1057h2v2h-2M1412 1057h1v2h-1M1418 1057h2v2h-2M1441 1057h3v2h-3M1170 1057h1v3h-1M1210 1057h3v3h-3M1303 1057h3v3h-3M1342 1057h2v3h-2M1392 1057h1v3h-1M1406 1057h2v4h-2M1238 1057h1v6h-1M1181 1059h1v1h-1M1257 1059h1v1h-1M1286 1059h1v1h-1M1300 1059h1v1h-1M1317 1059h3v1h-3M1362 1059h1v1h-1M1402 1059h3v1h-3M1416 1059h2v1h-2M1421 1059h1v1h-1M1215 1059h2v2h-2M1232 1059h1v2h-1M1408 1059h3v2h-3M1180 1059h1v4h-1M1398 1059h3v4h-3M1176 1060h1v1h-1M1201 1060h1v1h-1M1280 1060h2v1h-2M1314 1060h1v1h-1M1324 1060h2v1h-2M1357 1060h1v1h-1M1360 1060h2v1h-2M1405 1060h1v1h-1M1230 1060h1v3h-1M1327 1060h3v3h-3M1249 1060h2v5h-2M1339 1060h1v5h-1M1441 1060h3v5h-3M1244 1060h1v6h-1M1210 1061h3v2h-3M1241 1061h1v2h-1M1300 1061h1v2h-1M1363 1061h2v2h-2M1412 1061h1v2h-1M1173 1061h2v4h-2M1286 1061h1v4h-1M1204 1061h1v5h-1M1347 1061h3v5h-3M1392 1061h1v5h-1M1428 1061h3v9h-3M1181 1063h1v2h-1M1201 1063h1v2h-1M1215 1063h2v2h-2M1245 1063h1v2h-1M1255 1063h1v2h-1M1280 1063h2v2h-2M1288 1063h2v2h-2M1303 1063h3v2h-3M1331 1063h1v2h-1M1357 1063h1v2h-1M1360 1063h2v2h-2M1406 1063h2v2h-2M1413 1063h2v2h-2M1205 1063h1v3h-1M1257 1063h1v3h-1M1337 1063h2v3h-2M1418 1063h2v5h-2M1172 1063h1v7h-1M1321 1063h2v10h-2M1431 1063h3v10h-3M1228 1065h1v1h-1M1230 1065h1v1h-1M1232 1065h1v1h-1M1239 1065h2v1h-2M1263 1065h2v1h-2M1282 1065h2v1h-2M1300 1065h1v1h-1M1308 1065h2v1h-2M1314 1065h1v1h-1M1317 1065h3v1h-3M1344 1065h2v1h-2M1350 1065h4v1h-4M1363 1065h2v1h-2M1402 1065h3v1h-3M1295 1065h1v3h-1M1342 1065h2v3h-2M1365 1065h2v3h-2M1180 1065h1v5h-1M1170 1065h1v13h-1M1193 1066h4v2h-4M1225 1066h3v2h-3M1278 1066h1v2h-1M1306 1066h2v2h-2M1408 1066h3v2h-3M1315 1066h2v4h-2M1339 1066h1v4h-1M1416 1066h2v4h-2M1241 1066h1v7h-1M1449 1066h2v12h-2M1163 1068h1v2h-1M1173 1068h2v2h-2M1201 1068h1v2h-1M1204 1068h1v2h-1M1207 1068h1v2h-1M1239 1068h2v2h-2M1244 1068h1v2h-1M1303 1068h3v2h-3M1331 1068h1v2h-1M1337 1068h2v2h-2M1344 1068h2v2h-2M1353 1068h1v2h-1M1362 1068h1v2h-1M1402 1068h4v2h-4M1436 1068h3v2h-3M1177 1068h2v5h-2M1228 1068h1v5h-1M1411 1068h1v5h-1M1198 1068h2v7h-2M1167 1070h2v3h-2M1185 1070h2v3h-2M1205 1070h1v3h-1M1237 1070h1v3h-1M1245 1070h1v3h-1M1275 1070h3v3h-3M1308 1070h2v3h-2M1327 1070h3v3h-3M1347 1070h3v3h-3M1365 1070h2v3h-2M1379 1070h2v3h-2M1385 1070h2v3h-2M1393 1070h2v3h-2M1421 1070h4v3h-4M1441 1070h3v3h-3M1225 1070h3v8h-3M1269 1070h2v8h-2M1231 1070h1v12h-1M1310 1070h3v12h-3M828 1073h3v2h-3M1163 1073h1v2h-1M1193 1073h2v2h-2M1221 1073h3v2h-3M1353 1073h1v2h-1M1416 1073h4v2h-4M1434 1073h2v2h-2M890 1073h2v5h-2M1195 1073h2v5h-2M1239 1073h2v5h-2M1282 1073h2v5h-2M1303 1073h3v5h-3M867 1075h2v3h-2M1167 1075h2v3h-2M1188 1075h3v3h-3M1207 1075h1v3h-1M1215 1075h2v3h-2M1385 1075h2v3h-2M1393 1075h2v3h-2M1422 1075h3v3h-3M1428 1075h6v3h-6M1219 1075h1v7h-1M1331 1075h1v7h-1M926 1078h1v4h-1M950 1078h2v4h-2M1173 1078h2v4h-2M1180 1078h2v4h-2M1185 1078h2v4h-2M1192 1078h1v4h-1M1365 1078h2v4h-2M1427 1078h1v4h-1M858 1078h2v8h-2M1204 1078h1v8h-1M1378 1078h1v8h-1M828 1082h3v4h-3M867 1082h2v4h-2M1167 1082h2v4h-2M1188 1082h3v4h-3M1239 1082h2v4h-2M1393 1082h2v4h-2M1422 1082h3v4h-3M1163 1082h1v9h-1M1241 1082h1v9h-1M1428 1082h3v9h-3M1449 1082h2v15h-2M820 1086h1v5h-1M831 1086h1v5h-1M852 1086h2v5h-2M927 1086h3v5h-3M940 1086h4v5h-4M952 1086h2v5h-2M974 1086h2v5h-2M980 1086h2v5h-2M1192 1086h3v5h-3M1201 1086h1v5h-1M1221 1086h3v5h-3M1231 1086h1v5h-1M1275 1086h3v5h-3M1337 1086h2v5h-2M1385 1086h2v5h-2M878 1086h3v11h-3M907 1091h3v6h-3M957 1091h3v6h-3M979 1091h1v6h-1M988 1091h2v6h-2M1091 1091h1v6h-1M1185 1091h2v6h-2M865 1091h2v15h-2M902 1097h2v9h-2M940 1097h3v9h-3M1000 1097h1v9h-1M1192 1097h1v9h-1M1385 1097h2v9h-2M831 1097h1v24h-1M885 1097h3v24h-3M964 1097h2v24h-2M848 1106h3v15h-3M854 1106h2v15h-2M957 1106h3v15h-3M966 1106h2v15h-2M974 1106h2v15h-2M1006 1106h1v15h-1M1066 1106h2v15h-2M1071 1106h1v15h-1M1091 1106h1v15h-1M1125 1106h2v15h-2M1244 1106h1v15h-1"/><path fill="#005fff" d="M993 1023h2v2h-2M993 1027h2v1h-2M1452 1027h1v1h-1M1164 1030h2v1h-2M1446 1030h3v1h-3M1375 1031h2v1h-2M1457 1031h1v1h-1M1246 1031h1v4h-1M992 1032h1v1h-1M995 1032h1v1h-1M1261 1032h2v1h-2M1401 1032h1v1h-1M1452 1032h1v1h-1M1164 1033h2v1h-2M1208 1033h2v1h-2M1440 1033h1v1h-1M969 1034h2v1h-2M1265 1034h1v1h-1M1375 1034h2v1h-2M1457 1034h1v1h-1M992 1034h1v7h-1M995 1034h1v7h-1M1267 1035h1v1h-1M1299 1035h1v1h-1M1359 1035h1v1h-1M1381 1035h2v1h-2M1164 1035h2v2h-2M1246 1036h1v1h-1M1261 1036h2v1h-2M1457 1036h1v1h-1M1330 1036h1v3h-1M1265 1037h1v1h-1M1267 1037h1v1h-1M1285 1037h1v1h-1M1301 1037h2v1h-2M1381 1037h2v1h-2M1446 1037h3v1h-3M1233 1037h3v2h-3M1169 1038h1v1h-1M1261 1038h2v1h-2M1354 1038h1v1h-1M1372 1038h2v1h-2M1439 1038h1v1h-1M1452 1038h1v1h-1M1457 1038h1v1h-1M1401 1038h1v2h-1M1454 1038h3v2h-3M1387 1038h3v3h-3M968 1039h1v1h-1M971 1039h1v1h-1M1208 1039h2v1h-2M1213 1039h2v1h-2M1268 1039h1v1h-1M1292 1039h1v1h-1M1355 1039h1v1h-1M1169 1040h1v1h-1M1265 1040h1v1h-1M1295 1040h1v1h-1M1354 1040h1v1h-1M1369 1040h3v1h-3M1439 1040h1v1h-1M1457 1040h1v1h-1M1247 1040h2v2h-2M1208 1041h2v1h-2M1246 1041h1v1h-1M1375 1041h2v1h-2M1454 1041h3v1h-3M968 1041h1v2h-1M971 1041h1v2h-1M1261 1041h2v2h-2M1301 1041h2v2h-2M1446 1041h3v2h-3M1355 1041h1v3h-1M1164 1042h2v1h-2M1372 1042h2v1h-2M1381 1042h2v1h-2M1401 1042h1v1h-1M992 1042h1v2h-1M995 1042h1v2h-1M1169 1042h1v2h-1M1268 1042h1v2h-1M1280 1043h2v1h-2M1285 1043h1v1h-1M1295 1043h1v1h-1M1330 1043h1v1h-1M1354 1043h1v1h-1M1359 1043h1v1h-1M1299 1043h1v2h-1M1452 1043h1v2h-1M1164 1044h2v1h-2M1213 1044h2v1h-2M1233 1044h3v1h-3M1261 1044h2v1h-2M1265 1044h1v1h-1M1292 1044h1v1h-1M1381 1044h2v1h-2M1401 1044h1v1h-1M1444 1044h2v1h-2M1247 1044h2v2h-2M1332 1044h2v2h-2M1246 1045h1v1h-1M1301 1045h2v1h-2M1355 1045h1v1h-1M1359 1045h1v1h-1M1375 1045h2v1h-2M1395 1045h3v1h-3M1405 1045h1v1h-1M1255 1045h1v2h-1M1457 1045h1v2h-1M968 1045h1v4h-1M971 1045h1v4h-1M1295 1046h1v1h-1M1354 1046h1v1h-1M1387 1046h3v1h-3M1208 1046h2v2h-2M1369 1046h3v3h-3M992 1047h1v1h-1M995 1047h1v1h-1M1175 1047h1v1h-1M1271 1047h2v1h-2M1285 1047h1v1h-1M1287 1047h1v1h-1M1381 1047h2v1h-2M1439 1047h1v1h-1M1454 1047h3v1h-3M1213 1047h2v2h-2M1280 1047h2v2h-2M1292 1047h1v2h-1M1320 1047h1v2h-1M1334 1047h3v2h-3M1261 1047h2v3h-2M1301 1047h2v3h-2M1440 1047h1v4h-1M1169 1048h1v1h-1M1242 1048h2v1h-2M1252 1048h2v1h-2M1255 1048h1v1h-1M1265 1048h1v1h-1M1375 1048h2v1h-2M1387 1048h3v1h-3M1401 1048h1v1h-1M1246 1048h1v2h-1M1267 1048h2v2h-2M1286 1048h1v2h-1M1295 1048h1v2h-1M1405 1048h1v2h-1M1446 1048h3v2h-3M1372 1048h2v3h-2M1164 1049h2v1h-2M1299 1049h1v1h-1M1355 1049h1v1h-1M1362 1049h1v1h-1M1182 1049h3v2h-3M1217 1049h1v2h-1M1354 1049h1v2h-1M1381 1049h2v2h-2M968 1050h1v1h-1M971 1050h1v1h-1M1247 1050h2v1h-2M1255 1050h1v1h-1M1258 1050h2v1h-2M1279 1050h1v1h-1M1287 1050h1v1h-1M1292 1050h1v1h-1M1330 1050h1v1h-1M1332 1050h2v1h-2M1401 1050h1v1h-1M1439 1050h1v1h-1M1444 1050h2v1h-2M1252 1050h2v2h-2M1334 1050h3v2h-3M1369 1050h3v2h-3M1207 1050h1v3h-1M1233 1050h3v3h-3M1306 1050h2v4h-2M1271 1051h2v1h-2M1280 1051h2v1h-2M1285 1051h1v1h-1M1340 1051h2v1h-2M1355 1051h1v1h-1M1362 1051h3v1h-3M1405 1051h1v1h-1M1268 1051h1v2h-1M1175 1052h1v1h-1M1213 1052h2v1h-2M1217 1052h1v1h-1M1238 1052h1v1h-1M1242 1052h2v1h-2M1265 1052h1v1h-1M1320 1052h1v1h-1M1350 1052h3v1h-3M1381 1052h2v1h-2M1395 1052h3v1h-3M1454 1052h3v1h-3M968 1052h1v2h-1M971 1052h1v2h-1M1182 1052h3v2h-3M1342 1052h2v2h-2M1372 1052h2v2h-2M1247 1053h2v1h-2M1279 1053h1v1h-1M1285 1053h1v1h-1M1347 1053h3v1h-3M1359 1053h1v1h-1M1412 1053h1v1h-1M1169 1053h1v2h-1M1340 1053h2v2h-2M1280 1054h2v1h-2M1324 1054h2v1h-2M1354 1054h1v1h-1M1383 1054h2v1h-2M1405 1054h1v1h-1M1213 1054h2v3h-2M1255 1055h1v1h-1M1265 1055h1v1h-1M1279 1055h1v1h-1M1285 1055h1v1h-1M1295 1055h1v1h-1M1332 1055h2v1h-2M1355 1055h1v1h-1M1362 1055h1v1h-1M1369 1055h3v1h-3M1381 1055h2v1h-2M1387 1055h3v1h-3M1398 1055h3v1h-3M1406 1055h2v1h-2M1439 1055h1v1h-1M1252 1055h2v2h-2M1320 1055h1v2h-1M1363 1055h2v4h-2M1170 1056h1v1h-1M1233 1056h3v1h-3M1249 1056h2v1h-2M1334 1056h3v1h-3M1342 1056h2v1h-2M1372 1056h2v1h-2M1412 1056h1v1h-1M1440 1056h1v1h-1M1444 1056h2v1h-2M1287 1056h1v3h-1M1340 1056h2v3h-2M1271 1056h2v4h-2M1232 1057h1v2h-1M1257 1057h1v2h-1M1268 1057h1v2h-1M1317 1057h3v2h-3M1355 1057h1v2h-1M1398 1057h3v2h-3M1408 1057h3v2h-3M1207 1057h1v3h-1M1247 1057h2v3h-2M1439 1057h1v3h-1M1295 1057h1v6h-1M1205 1059h1v1h-1M1221 1059h3v1h-3M1249 1059h2v1h-2M1255 1059h1v1h-1M1279 1059h3v1h-3M1292 1059h1v1h-1M1320 1059h1v1h-1M1324 1059h2v1h-2M1332 1059h2v1h-2M1350 1059h3v1h-3M1354 1059h1v1h-1M1357 1059h1v1h-1M1405 1059h1v1h-1M1169 1059h1v2h-1M1285 1059h1v2h-1M1395 1059h3v2h-3M1306 1059h2v4h-2M1175 1060h1v1h-1M1242 1060h2v1h-2M1342 1060h2v1h-2M1347 1060h3v1h-3M1392 1060h1v1h-1M1416 1060h2v1h-2M1440 1060h1v1h-1M1454 1060h3v1h-3M1383 1060h2v8h-2M1205 1061h1v2h-1M1213 1061h2v2h-2M1217 1061h1v2h-1M1247 1061h2v2h-2M1337 1061h2v2h-2M1340 1061h2v2h-2M1357 1061h1v2h-1M1405 1061h1v2h-1M1170 1061h1v4h-1M1362 1061h1v7h-1M1169 1063h1v2h-1M1176 1063h1v2h-1M1230 1063h1v2h-1M1238 1063h1v2h-1M1278 1063h2v2h-2M1314 1063h1v2h-1M1317 1063h3v2h-3M1350 1063h3v2h-3M1412 1063h1v2h-1M1395 1063h3v3h-3M1408 1063h3v3h-3M1416 1063h2v3h-2M1215 1065h3v1h-3M1303 1065h3v1h-3M1332 1065h2v1h-2M1340 1065h2v1h-2M1405 1065h3v1h-3M1421 1065h1v1h-1M1177 1065h2v3h-2M1213 1065h2v3h-2M1441 1065h3v3h-3M1280 1065h2v5h-2M1249 1065h2v8h-2M1198 1066h2v2h-2M1288 1066h2v2h-2M1308 1066h2v2h-2M1317 1066h3v2h-3M1324 1066h2v2h-2M1331 1066h1v2h-1M1337 1066h2v2h-2M1353 1066h1v2h-1M1392 1066h1v2h-1M1434 1066h2v2h-2M1237 1066h1v4h-1M1327 1066h3v4h-3M1230 1066h1v7h-1M1263 1066h2v7h-2M1413 1066h2v9h-2M1300 1066h1v12h-1M1205 1068h1v2h-1M1210 1068h3v2h-3M1221 1068h3v2h-3M1245 1068h1v2h-1M1255 1068h1v2h-1M1257 1068h1v2h-1M1306 1068h2v2h-2M1357 1068h1v2h-1M1363 1068h2v2h-2M1379 1068h2v2h-2M1193 1068h2v5h-2M1282 1068h2v5h-2M1369 1068h3v5h-3M1215 1068h2v7h-2M1173 1070h2v3h-2M1217 1070h1v3h-1M1286 1070h1v3h-1M1334 1070h3v3h-3M1342 1070h4v3h-4M1353 1070h1v3h-1M1383 1070h2v3h-2M1398 1070h3v3h-3M1416 1070h2v3h-2M1434 1070h2v3h-2M1176 1070h1v5h-1M1315 1070h2v5h-2M1167 1073h2v2h-2M1177 1073h2v2h-2M1205 1073h1v2h-1M1244 1073h2v2h-2M1295 1073h1v2h-1M1306 1073h4v2h-4M1327 1073h3v2h-3M1331 1073h1v2h-1M1360 1073h3v2h-3M1431 1073h3v2h-3M1172 1073h1v5h-1M1181 1073h1v5h-1M1317 1073h3v5h-3M1402 1073h3v5h-3M1337 1073h2v9h-2M828 1075h3v3h-3M1201 1075h1v3h-1M1221 1075h3v3h-3M1230 1075h1v3h-1M1263 1075h2v3h-2M1342 1075h2v3h-2M1363 1075h2v3h-2M1436 1075h3v3h-3M1441 1075h3v3h-3M1163 1075h1v7h-1M1416 1075h2v16h-2M867 1078h2v4h-2M890 1078h2v4h-2M1257 1078h1v4h-1M1315 1078h2v4h-2M1321 1078h2v4h-2M1327 1078h3v4h-3M1379 1078h2v4h-2M1421 1078h4v4h-4M1428 1078h3v4h-3M1408 1078h3v8h-3M1431 1078h5v8h-5M1339 1078h1v19h-1M852 1082h2v4h-2M1173 1082h2v4h-2M1180 1082h1v4h-1M1193 1082h2v4h-2M1201 1082h1v4h-1M1228 1082h1v4h-1M1231 1082h1v4h-1M1237 1082h1v4h-1M1269 1082h2v4h-2M1282 1082h2v4h-2M1306 1082h4v4h-4M1353 1082h1v4h-1M1436 1082h3v4h-3M1441 1082h3v4h-3M1181 1082h1v9h-1M1294 1082h1v9h-1M1418 1082h2v9h-2M1170 1082h1v15h-1M1195 1082h2v24h-2M890 1086h2v5h-2M926 1086h1v5h-1M988 1086h2v5h-2M1177 1086h2v5h-2M1225 1086h3v5h-3M1402 1086h3v5h-3M1427 1086h1v5h-1M1167 1086h2v11h-2M1188 1086h3v20h-3M1378 1086h1v20h-1M858 1086h2v35h-2M828 1091h4v6h-4M873 1091h3v6h-3M897 1091h2v6h-2M920 1091h3v6h-3M943 1091h1v6h-1M950 1091h2v6h-2M982 1091h2v6h-2M1163 1091h1v6h-1M1180 1091h1v6h-1M1192 1091h1v6h-1M1201 1091h1v6h-1M1239 1091h2v6h-2M1269 1091h2v6h-2M1282 1091h2v6h-2M1347 1091h3v6h-3M1428 1091h3v6h-3M820 1091h1v15h-1M876 1091h2v15h-2M927 1091h3v15h-3M1204 1091h1v15h-1M1241 1091h1v30h-1M904 1097h2v9h-2M936 1097h2v9h-2M957 1097h3v9h-3M974 1097h2v9h-2M1091 1097h1v9h-1M1393 1097h2v9h-2M1449 1097h2v9h-2M979 1097h1v24h-1M882 1106h1v15h-1M1163 1106h1v15h-1M1173 1106h2v15h-2M1181 1106h1v15h-1M1193 1106h2v15h-2M1215 1106h2v15h-2M1275 1106h3v15h-3M1347 1106h3v15h-3M1365 1106h2v15h-2M1385 1106h2v15h-2M1402 1106h3v15h-3M1411 1106h1v15h-1M1422 1106h3v15h-3"/><path fill="#007fff" d="M820 990h13v1h-13M834 990h23v1h-23M858 990h9v1h-9M868 990h2v1h-2M993 1026h2v1h-2M993 1028h2v4h-2M969 1033h2v1h-2M1457 1035h1v1h-1M1452 1035h1v2h-1M1446 1036h3v1h-3M969 1036h2v3h-2M1261 1037h2v1h-2M1299 1037h1v1h-1M1457 1037h1v1h-1M1164 1037h2v5h-2M1440 1038h1v1h-1M1267 1039h1v1h-1M1381 1039h2v1h-2M1446 1039h3v1h-3M1457 1039h1v1h-1M1330 1039h1v2h-1M1375 1039h2v2h-2M969 1040h2v1h-2M1299 1040h1v1h-1M1452 1040h1v1h-1M1454 1040h3v1h-3M992 1041h1v1h-1M995 1041h1v1h-1M1233 1041h3v1h-3M1267 1041h1v1h-1M1381 1041h2v1h-2M1265 1042h1v1h-1M1330 1042h1v1h-1M1359 1042h1v1h-1M1440 1042h1v1h-1M1247 1043h2v1h-2M1369 1043h3v1h-3M1375 1043h2v1h-2M1439 1043h1v1h-1M1387 1043h3v3h-3M1175 1044h1v1h-1M1208 1044h2v1h-2M1246 1044h1v1h-1M1355 1044h1v1h-1M992 1044h1v3h-1M995 1044h1v3h-1M1164 1045h2v1h-2M1213 1045h2v1h-2M1252 1045h2v1h-2M1268 1045h1v1h-1M1440 1045h1v1h-1M1444 1045h2v1h-2M1452 1045h1v1h-1M1439 1045h1v2h-1M1175 1046h1v1h-1M1246 1046h1v1h-1M1292 1046h1v1h-1M1330 1046h1v1h-1M1372 1046h2v1h-2M1381 1046h2v1h-2M1446 1046h3v1h-3M1454 1046h3v1h-3M1267 1046h1v2h-1M1359 1046h1v2h-1M1169 1047h1v1h-1M1299 1047h1v1h-1M1332 1047h2v1h-2M1387 1047h3v1h-3M1354 1047h2v2h-2M1247 1047h2v3h-2M1175 1048h1v1h-1M1233 1048h3v1h-3M1330 1048h1v1h-1M1444 1048h2v1h-2M968 1049h1v1h-1M971 1049h1v1h-1M992 1049h1v1h-1M995 1049h1v1h-1M1265 1049h1v1h-1M1279 1049h1v1h-1M1292 1049h1v1h-1M1332 1049h2v1h-2M1387 1049h3v1h-3M1439 1049h1v1h-1M1452 1049h1v1h-1M1285 1049h1v2h-1M1213 1049h2v3h-2M1164 1050h2v1h-2M1242 1050h2v1h-2M1295 1050h1v1h-1M1375 1050h2v1h-2M1446 1050h3v1h-3M1457 1050h1v1h-1M1175 1050h1v2h-1M1299 1050h1v2h-1M968 1051h1v1h-1M971 1051h1v1h-1M1217 1051h1v1h-1M1247 1051h2v1h-2M1279 1051h1v1h-1M1301 1051h2v1h-2M1359 1051h1v1h-1M1387 1051h3v1h-3M1395 1051h3v1h-3M1258 1051h2v2h-2M1287 1051h1v2h-1M1332 1051h2v2h-2M1440 1051h1v2h-1M1444 1051h2v2h-2M1354 1051h1v3h-1M1164 1052h2v1h-2M1169 1052h1v1h-1M1261 1052h2v1h-2M1267 1052h1v1h-1M1271 1052h2v1h-2M1355 1052h1v1h-1M1452 1052h1v1h-1M992 1053h1v1h-1M995 1053h1v1h-1M1213 1053h2v1h-2M1246 1053h1v1h-1M1255 1053h1v1h-1M1265 1053h1v1h-1M1268 1053h1v1h-1M1295 1053h1v1h-1M1320 1053h1v1h-1M1405 1053h1v1h-1M1439 1053h1v1h-1M1446 1053h3v1h-3M1242 1053h2v2h-2M1401 1053h1v2h-1M1217 1053h1v4h-1M1208 1054h2v1h-2M1247 1054h2v1h-2M1285 1054h1v1h-1M1301 1054h2v1h-2M1306 1054h2v1h-2M1332 1054h2v1h-2M1355 1054h1v1h-1M1359 1054h1v1h-1M1369 1054h5v1h-5M1444 1054h2v1h-2M1454 1054h3v1h-3M1175 1054h1v2h-1M1238 1054h1v3h-1M992 1055h1v1h-1M995 1055h1v1h-1M1246 1055h1v1h-1M1258 1055h2v1h-2M1292 1055h1v1h-1M1334 1055h3v1h-3M1405 1055h1v1h-1M968 1055h1v4h-1M971 1055h1v4h-1M1324 1055h2v4h-2M1182 1056h3v1h-3M1242 1056h2v1h-2M1268 1056h1v1h-1M1280 1056h2v1h-2M1285 1056h1v1h-1M1295 1056h1v1h-1M1355 1056h1v1h-1M1332 1056h2v3h-2M1350 1056h3v3h-3M1395 1056h3v3h-3M1301 1056h2v4h-2M1169 1057h1v2h-1M1255 1057h1v2h-1M1279 1057h1v2h-1M1286 1057h1v2h-1M1306 1057h2v2h-2M1320 1057h1v2h-1M1334 1057h3v2h-3M1347 1057h3v2h-3M1354 1057h1v2h-1M1362 1057h1v2h-1M1405 1057h1v2h-1M1233 1057h3v3h-3M1258 1057h2v3h-2M1252 1057h2v6h-2M1175 1059h1v1h-1M1182 1059h3v1h-3M1246 1059h1v1h-1M1369 1059h3v1h-3M1387 1059h3v1h-3M1444 1059h2v1h-2M968 1060h1v1h-1M971 1060h1v1h-1M1213 1060h2v1h-2M1217 1060h1v1h-1M1247 1060h2v1h-2M1271 1060h2v1h-2M1279 1060h1v1h-1M1286 1060h1v1h-1M1332 1060h5v1h-5M1363 1060h2v1h-2M1372 1060h2v1h-2M1375 1060h2v1h-2M1381 1060h2v1h-2M1412 1060h1v1h-1M1439 1060h1v1h-1M1457 1060h1v1h-1M1320 1060h1v6h-1M1169 1061h1v2h-1M1182 1061h3v2h-3M1233 1061h3v2h-3M1255 1061h1v2h-1M1258 1061h2v2h-2M1261 1061h2v2h-2M1268 1061h1v2h-1M1280 1061h2v2h-2M1317 1061h3v2h-3M1354 1061h1v2h-1M1395 1061h3v2h-3M1406 1061h2v2h-2M1452 1061h1v2h-1M1232 1061h1v4h-1M1207 1061h1v5h-1M968 1063h1v1h-1M971 1063h1v1h-1M1210 1063h3v2h-3M1267 1063h1v2h-1M1271 1063h2v2h-2M1292 1063h1v2h-1M1332 1063h2v2h-2M1355 1063h1v2h-1M1363 1063h2v2h-2M1439 1063h1v2h-1M1287 1063h1v3h-1M1301 1063h2v3h-2M1306 1063h2v3h-2M1454 1063h3v3h-3M1444 1063h2v5h-2M1258 1065h2v1h-2M1288 1065h2v1h-2M1334 1065h3v1h-3M1360 1065h2v1h-2M1372 1065h2v1h-2M1375 1065h2v1h-2M1176 1065h1v3h-1M1286 1065h1v3h-1M1369 1065h3v3h-3M968 1066h1v1h-1M971 1066h1v1h-1M1205 1066h1v2h-1M1210 1066h3v2h-3M1215 1066h2v2h-2M1238 1066h1v2h-1M1271 1066h2v2h-2M1279 1066h1v2h-1M1332 1066h2v2h-2M1355 1066h1v2h-1M1357 1066h1v2h-1M1405 1066h3v2h-3M1347 1066h3v4h-3M1314 1066h1v7h-1M1182 1068h3v2h-3M1217 1068h1v2h-1M1285 1068h1v2h-1M1334 1068h3v2h-3M1342 1068h2v2h-2M1360 1068h2v2h-2M1383 1068h2v2h-2M1454 1068h3v2h-3M1278 1068h1v5h-1M1288 1068h2v5h-2M1172 1070h1v3h-1M1180 1070h1v3h-1M1221 1070h3v3h-3M1244 1070h1v3h-1M1252 1070h2v3h-2M1280 1070h2v3h-2M1317 1070h3v3h-3M1331 1070h1v3h-1M1406 1070h2v3h-2M1213 1073h2v2h-2M1247 1073h2v2h-2M1257 1073h1v2h-1M1263 1073h2v2h-2M1268 1073h1v2h-1M1271 1073h2v2h-2M1347 1073h3v2h-3M1363 1073h2v2h-2M1369 1073h3v2h-3M1441 1073h3v2h-3M1228 1073h1v5h-1M1339 1073h1v5h-1M1379 1073h2v5h-2M1383 1073h2v5h-2M1421 1073h1v5h-1M1237 1073h1v9h-1M1286 1073h1v9h-1M1173 1075h3v3h-3M1180 1075h1v3h-1M1217 1075h1v3h-1M1232 1075h1v3h-1M1308 1075h2v3h-2M1327 1075h3v3h-3M1334 1075h3v3h-3M1360 1075h2v3h-2M1387 1075h3v3h-3M1398 1075h3v3h-3M1405 1075h3v3h-3M1176 1075h1v7h-1M1245 1075h1v7h-1M1244 1075h1v11h-1M1413 1075h2v11h-2M1411 1075h1v22h-1M828 1078h3v4h-3M1201 1078h1v4h-1M1207 1078h1v4h-1M1215 1078h2v4h-2M1241 1078h1v4h-1M1280 1078h4v4h-4M1350 1078h3v4h-3M1362 1078h1v4h-1M1418 1078h2v4h-2M1436 1078h3v4h-3M1177 1078h2v8h-2M1300 1078h1v8h-1M1347 1078h3v8h-3M890 1082h2v4h-2M1205 1082h1v4h-1M1225 1082h3v4h-3M1230 1082h1v4h-1M1295 1082h1v4h-1M1303 1082h3v4h-3M1315 1082h2v4h-2M1337 1082h2v4h-2M1363 1082h2v4h-2M1379 1082h2v4h-2M1402 1082h3v4h-3M1219 1082h1v9h-1M1255 1082h1v9h-1M1331 1082h1v9h-1M873 1086h3v5h-3M950 1086h2v5h-2M1180 1086h1v5h-1M1198 1086h2v5h-2M1204 1086h1v5h-1M1207 1086h1v5h-1M1213 1086h2v5h-2M1232 1086h1v5h-1M1239 1086h2v5h-2M1308 1086h2v5h-2M1344 1086h2v5h-2M1393 1086h2v5h-2M1406 1086h2v5h-2M1422 1086h3v5h-3M1431 1086h5v5h-5M1441 1086h3v5h-3M1173 1086h2v11h-2M1228 1086h1v11h-1M1421 1086h1v35h-1M926 1091h1v6h-1M940 1091h3v6h-3M1177 1091h2v6h-2M1257 1091h1v6h-1M1315 1091h2v6h-2M1327 1091h3v6h-3M1365 1091h2v6h-2M1402 1091h3v6h-3M1416 1091h2v6h-2M1427 1091h1v6h-1M952 1091h2v15h-2M1181 1091h1v15h-1M1294 1091h1v15h-1M1303 1091h3v15h-3M882 1097h1v9h-1M907 1097h3v9h-3M931 1097h1v9h-1M943 1097h1v9h-1M1170 1097h1v9h-1M1185 1097h2v9h-2M1201 1097h1v9h-1M1231 1097h1v9h-1M1244 1097h1v9h-1M1275 1097h3v9h-3M1337 1097h3v9h-3M1347 1097h3v9h-3M1428 1097h3v9h-3M1180 1097h1v24h-1M1441 1097h3v24h-3M820 1106h1v15h-1M852 1106h2v15h-2M865 1106h2v15h-2M890 1106h2v15h-2M904 1106h2v15h-2M926 1106h1v15h-1M988 1106h2v15h-2M1188 1106h3v15h-3M1204 1106h1v15h-1M1207 1106h1v15h-1M1221 1106h3v15h-3M1228 1106h1v15h-1M1230 1106h1v15h-1M1308 1106h2v15h-2M1393 1106h2v15h-2M1405 1106h1v15h-1M1436 1106h3v15h-3M1449 1106h2v15h-2"/><path fill="#009fff" d="M993 1033h2v1h-2M969 1035h2v1h-2M1446 1040h3v1h-3M1401 1040h1v2h-1M1457 1041h1v3h-1M1246 1042h1v1h-1M1299 1042h1v1h-1M1261 1043h2v1h-2M1440 1043h1v1h-1M1446 1043h3v1h-3M969 1043h2v2h-2M1267 1044h1v1h-1M1375 1044h2v1h-2M1330 1044h1v2h-1M1208 1045h2v1h-2M1261 1045h2v1h-2M1381 1045h2v1h-2M1233 1046h3v1h-3M1301 1046h2v1h-2M1355 1046h1v1h-1M1440 1046h1v1h-1M1452 1046h1v1h-1M1164 1046h2v2h-2M1265 1046h1v2h-1M1330 1047h1v1h-1M1372 1047h2v1h-2M1375 1047h2v1h-2M1401 1047h1v1h-1M1457 1047h1v1h-1M992 1048h1v1h-1M995 1048h1v1h-1M1299 1048h1v1h-1M1381 1048h2v1h-2M1439 1048h1v1h-1M1454 1048h3v4h-3M1208 1049h2v1h-2M1233 1049h3v1h-3M1330 1049h1v1h-1M1375 1049h2v1h-2M1401 1049h1v1h-1M1261 1050h2v1h-2M1267 1050h1v1h-1M1355 1050h1v1h-1M1387 1050h3v1h-3M992 1050h1v3h-1M995 1050h1v3h-1M1164 1051h2v1h-2M1242 1051h2v1h-2M1372 1051h2v1h-2M1381 1051h2v1h-2M1452 1051h1v1h-1M1401 1051h1v2h-1M1292 1051h1v3h-1M1208 1052h2v1h-2M1247 1052h2v1h-2M1252 1052h2v1h-2M1285 1052h1v1h-1M1359 1052h1v1h-1M1375 1052h2v1h-2M1439 1052h1v1h-1M1175 1053h1v1h-1M1233 1053h3v1h-3M1261 1053h2v1h-2M1299 1053h1v1h-1M1332 1053h2v1h-2M1369 1053h3v1h-3M1454 1053h3v1h-3M1258 1053h2v2h-2M1330 1053h1v3h-1M968 1054h1v1h-1M971 1054h1v1h-1M992 1054h1v1h-1M995 1054h1v1h-1M1252 1054h2v1h-2M1265 1054h1v1h-1M1375 1054h2v1h-2M1387 1054h3v1h-3M1395 1054h3v1h-3M1446 1054h3v1h-3M1182 1054h3v2h-3M1287 1054h1v2h-1M1268 1055h1v1h-1M1271 1055h2v1h-2M1301 1055h2v1h-2M1359 1055h1v1h-1M1440 1055h1v1h-1M1444 1055h2v1h-2M1354 1055h1v2h-1M992 1056h1v1h-1M995 1056h1v1h-1M1169 1056h1v1h-1M1208 1056h2v1h-2M1247 1056h2v1h-2M1258 1056h2v1h-2M1279 1056h1v1h-1M1375 1056h2v1h-2M1381 1056h2v1h-2M1387 1056h3v1h-3M1175 1056h1v3h-1M1401 1056h1v3h-1M1454 1056h3v4h-3M1265 1056h1v7h-1M1246 1057h1v2h-1M1261 1057h2v2h-2M1267 1057h1v2h-1M1285 1057h1v2h-1M1330 1057h1v2h-1M1369 1057h3v2h-3M1440 1057h1v2h-1M1444 1057h2v2h-2M1452 1057h1v2h-1M1213 1057h2v3h-2M1217 1057h1v3h-1M968 1059h1v1h-1M971 1059h1v1h-1M1242 1059h2v1h-2M1334 1059h3v1h-3M1381 1059h2v1h-2M1412 1059h1v1h-1M992 1059h1v2h-1M995 1059h1v2h-1M1268 1059h1v2h-1M1340 1059h2v2h-2M1355 1059h1v2h-1M1446 1059h3v2h-3M1246 1060h1v1h-1M1255 1060h1v1h-1M1261 1060h2v1h-2M1292 1060h1v1h-1M1362 1060h1v1h-1M1444 1060h2v1h-2M1452 1060h1v1h-1M1350 1060h3v3h-3M1387 1060h3v3h-3M968 1061h1v2h-1M971 1061h1v2h-1M1164 1061h2v2h-2M1267 1061h1v2h-1M1332 1061h2v2h-2M1372 1061h2v2h-2M1457 1061h1v2h-1M1342 1061h2v4h-2M1324 1061h2v5h-2M1242 1063h2v2h-2M1340 1063h2v2h-2M1354 1063h1v2h-1M1375 1063h2v2h-2M1405 1063h1v2h-1M1398 1063h3v3h-3M968 1064h1v2h-1M971 1064h1v2h-1M1169 1065h1v1h-1M1210 1065h3v1h-3M1238 1065h1v1h-1M1246 1065h1v1h-1M1357 1065h1v1h-1M1452 1065h1v1h-1M992 1065h1v3h-1M995 1065h1v3h-1M1252 1065h2v5h-2M1268 1065h1v5h-1M1164 1066h2v2h-2M1182 1066h3v2h-3M1207 1066h1v2h-1M1217 1066h1v2h-1M1232 1066h1v2h-1M1255 1066h1v2h-1M1257 1066h1v2h-1M1265 1066h1v2h-1M1287 1066h1v2h-1M1334 1066h3v2h-3M1360 1066h2v2h-2M1363 1066h2v2h-2M1395 1066h3v2h-3M1412 1066h1v2h-1M1439 1066h1v2h-1M1454 1066h3v2h-3M968 1067h1v1h-1M971 1067h1v1h-1M1176 1068h1v2h-1M1246 1068h1v2h-1M1286 1068h1v2h-1M1292 1068h1v2h-1M1301 1068h2v2h-2M1317 1068h3v2h-3M1392 1068h1v2h-1M1406 1068h2v2h-2M1408 1068h3v5h-3M992 1070h1v3h-1M995 1070h1v3h-1M1175 1070h1v3h-1M1238 1070h1v3h-1M1257 1070h1v3h-1M1261 1070h2v3h-2M1271 1070h2v3h-2M1279 1070h1v3h-1M1285 1070h1v3h-1M1306 1070h2v3h-2M1324 1070h2v3h-2M1340 1070h2v3h-2M1350 1070h3v3h-3M1357 1070h1v3h-1M1359 1070h6v3h-6M1395 1070h3v3h-3M1405 1070h1v3h-1M968 1070h1v4h-1M971 1070h1v4h-1M1207 1070h1v5h-1M1255 1070h1v5h-1M1265 1070h1v5h-1M1169 1073h1v2h-1M1210 1073h3v2h-3M1230 1073h1v2h-1M1278 1073h1v2h-1M1314 1073h1v2h-1M1398 1073h3v2h-3M1280 1073h2v5h-2M1321 1073h2v5h-2M1344 1073h2v9h-2M968 1075h1v3h-1M971 1075h1v3h-1M1177 1075h2v3h-2M1198 1075h2v3h-2M1213 1075h2v3h-2M1249 1075h2v3h-2M1295 1075h1v3h-1M1306 1075h2v3h-2M1350 1075h3v3h-3M1355 1075h1v3h-1M1408 1075h3v3h-3M1418 1075h2v3h-2M1434 1075h2v3h-2M1353 1075h1v7h-1M1357 1075h1v7h-1M1170 1078h1v4h-1M1225 1078h4v4h-4M1232 1078h1v4h-1M1271 1078h2v4h-2M1303 1078h3v4h-3M1308 1078h2v4h-2M1342 1078h2v4h-2M1354 1078h1v4h-1M1363 1078h2v4h-2M1375 1078h2v4h-2M1383 1078h2v4h-2M1441 1078h5v4h-5M1221 1078h3v8h-3M1398 1078h3v8h-3M1238 1078h1v13h-1M968 1082h1v2h-1M971 1082h1v2h-1M1175 1082h1v4h-1M1198 1082h2v4h-2M1207 1082h1v4h-1M1279 1082h3v4h-3M1314 1082h1v4h-1M1324 1082h2v4h-2M1387 1082h3v4h-3M1405 1082h1v4h-1M1421 1082h1v4h-1M1327 1082h3v9h-3M1334 1082h3v9h-3M1392 1082h1v9h-1M1215 1082h2v15h-2M867 1086h2v5h-2M1205 1086h1v5h-1M1269 1086h2v5h-2M1282 1086h2v5h-2M1295 1086h1v5h-1M1303 1086h3v5h-3M1315 1086h2v5h-2M1350 1086h3v5h-3M1436 1086h3v5h-3M1244 1086h1v11h-1M1286 1086h1v11h-1M1379 1086h2v11h-2M852 1091h2v6h-2M980 1091h2v6h-2M1213 1091h2v6h-2M1231 1091h1v6h-1M1255 1091h1v6h-1M1268 1091h1v6h-1M1285 1091h1v6h-1M1337 1091h2v6h-2M1344 1091h2v6h-2M1387 1091h3v6h-3M1422 1091h3v6h-3M1441 1091h3v6h-3M1193 1091h2v15h-2M1198 1091h2v15h-2M1221 1091h3v15h-3M1363 1091h2v30h-2M926 1097h1v9h-1M982 1097h2v9h-2M1163 1097h1v9h-1M1167 1097h2v9h-2M1177 1097h2v9h-2M1282 1097h2v9h-2M1315 1097h2v9h-2M1365 1097h2v9h-2M1402 1097h3v9h-3M1427 1097h1v9h-1M1331 1097h1v24h-1M876 1106h2v15h-2M907 1106h3v15h-3M936 1106h2v15h-2M952 1106h2v15h-2M980 1106h2v15h-2M1213 1106h2v15h-2M1231 1106h1v15h-1M1239 1106h2v15h-2M1249 1106h2v15h-2M1280 1106h2v15h-2M1310 1106h3v15h-3M1339 1106h1v15h-1M1378 1106h1v15h-1M1398 1106h3v15h-3M1418 1106h2v15h-2"/><path fill="#00bfff" d="M993 1032h2v1h-2M993 1034h2v2h-2M993 1038h2v2h-2M969 1039h2v1h-2M1452 1042h1v1h-1M1246 1043h1v1h-1M1457 1044h1v1h-1M1401 1045h1v1h-1M1446 1045h3v1h-3M1261 1046h2v1h-2M1299 1046h1v1h-1M1246 1047h1v1h-1M1452 1047h1v1h-1M1164 1048h2v1h-2M1359 1049h1v1h-1M1265 1050h1v1h-1M1301 1050h2v1h-2M1452 1050h1v1h-1M1208 1050h2v2h-2M1246 1050h1v2h-1M1261 1051h2v1h-2M1267 1051h1v1h-1M1375 1051h2v1h-2M1439 1051h1v1h-1M1387 1052h3v2h-3M1208 1053h2v1h-2M1301 1053h2v1h-2M1355 1053h1v1h-1M1375 1053h2v1h-2M1440 1053h1v2h-1M1246 1054h1v1h-1M1457 1054h1v1h-1M1164 1054h2v2h-2M1233 1054h3v2h-3M1299 1054h1v2h-1M1208 1055h2v1h-2M1261 1055h2v1h-2M1375 1055h2v1h-2M1401 1055h1v1h-1M1454 1055h3v1h-3M1246 1056h1v1h-1M1267 1056h1v1h-1M1292 1056h1v1h-1M1369 1056h3v1h-3M1439 1056h1v1h-1M992 1057h1v2h-1M995 1057h1v2h-1M1242 1057h2v2h-2M1359 1057h1v2h-1M1387 1057h3v2h-3M1446 1057h3v2h-3M1164 1059h2v1h-2M1287 1059h1v1h-1M1401 1059h1v1h-1M1440 1059h1v1h-1M1330 1059h1v2h-1M1182 1060h3v1h-3M1301 1060h2v1h-2M1359 1060h1v3h-1M1369 1060h3v5h-3M1175 1061h1v2h-1M1246 1061h1v2h-1M1271 1061h2v2h-2M1279 1061h1v2h-1M1285 1061h1v2h-1M1381 1061h2v2h-2M1439 1061h1v2h-1M1444 1061h2v2h-2M992 1061h1v4h-1M995 1061h1v4h-1M1334 1061h3v4h-3M1213 1063h2v2h-2M1217 1063h1v2h-1M1233 1063h3v2h-3M1247 1063h2v2h-2M1252 1063h2v2h-2M1258 1063h2v2h-2M1268 1063h1v2h-1M1295 1063h1v2h-1M1330 1063h1v2h-1M1446 1063h3v2h-3M1457 1063h1v2h-1M1182 1063h3v3h-3M1299 1063h1v3h-1M1164 1065h2v1h-2M1255 1065h1v1h-1M1265 1065h1v1h-1M1279 1065h1v1h-1M1285 1065h1v1h-1M1381 1065h2v1h-2M1412 1065h1v1h-1M1440 1065h1v1h-1M1175 1065h1v3h-1M1354 1065h1v8h-1M1169 1066h1v2h-1M1247 1066h2v2h-2M1261 1066h2v2h-2M1292 1066h1v2h-1M1387 1066h3v2h-3M1457 1066h1v2h-1M1320 1066h1v4h-1M1340 1066h2v4h-2M1350 1066h3v4h-3M1359 1066h1v4h-1M1398 1066h3v4h-3M968 1068h1v2h-1M971 1068h1v2h-1M992 1068h1v2h-1M995 1068h1v2h-1M1208 1068h2v2h-2M1232 1068h1v2h-1M1238 1068h1v2h-1M1265 1068h1v2h-1M1299 1068h1v2h-1M1324 1068h2v2h-2M1355 1068h1v2h-1M1372 1068h2v2h-2M1401 1068h1v2h-1M1452 1068h1v2h-1M1213 1068h2v5h-2M1242 1068h2v5h-2M1295 1068h1v5h-1M1182 1070h3v3h-3M1247 1070h2v3h-2M1268 1070h1v3h-1M1301 1070h2v3h-2M1330 1070h1v3h-1M1392 1070h1v3h-1M1439 1070h1v3h-1M1454 1070h4v3h-4M1381 1070h2v5h-2M1387 1070h3v5h-3M1412 1070h1v5h-1M1440 1070h1v5h-1M992 1073h1v1h-1M995 1073h1v1h-1M1217 1073h1v2h-1M1232 1073h4v2h-4M1238 1073h1v2h-1M1249 1073h2v2h-2M1261 1073h2v2h-2M1267 1073h1v2h-1M1285 1073h1v2h-1M1288 1073h2v2h-2M1334 1073h3v2h-3M1405 1073h6v2h-6M1444 1073h2v2h-2M968 1074h1v1h-1M971 1074h1v1h-1M992 1075h1v3h-1M995 1075h1v3h-1M1205 1075h1v3h-1M1210 1075h3v3h-3M1257 1075h3v3h-3M1292 1075h1v3h-1M1314 1075h1v3h-1M1320 1075h1v3h-1M1347 1075h3v3h-3M1362 1075h1v3h-1M1454 1075h3v3h-3M1252 1075h2v7h-2M1255 1075h1v7h-1M1198 1078h2v4h-2M1230 1078h1v4h-1M1247 1078h2v4h-2M1355 1078h1v4h-1M1360 1078h2v4h-2M1369 1078h3v4h-3M1381 1078h2v4h-2M1405 1078h1v4h-1M1172 1078h1v8h-1M1406 1078h2v8h-2M1440 1078h1v8h-1M1263 1078h2v13h-2M1176 1082h1v4h-1M1286 1082h2v4h-2M1317 1082h3v4h-3M1342 1082h2v4h-2M1357 1082h1v4h-1M1362 1082h1v4h-1M1383 1082h2v4h-2M1401 1082h1v4h-1M1454 1082h3v4h-3M1268 1082h1v9h-1M1310 1082h3v9h-3M1320 1082h1v9h-1M968 1084h1v7h-1M971 1084h1v7h-1M828 1086h3v5h-3M1169 1086h1v5h-1M1217 1086h1v5h-1M1230 1086h1v5h-1M1233 1086h3v5h-3M1280 1086h2v5h-2M1347 1086h3v5h-3M1355 1086h1v5h-1M1363 1086h2v5h-2M1369 1086h3v5h-3M1405 1086h1v5h-1M1237 1086h1v11h-1M1265 1086h1v11h-1M1306 1086h2v11h-2M1354 1086h1v11h-1M890 1091h2v6h-2M1232 1091h1v6h-1M1295 1091h1v6h-1M1321 1091h2v6h-2M1331 1091h1v6h-1M1393 1091h2v6h-2M1408 1091h3v6h-3M1418 1091h2v6h-2M1225 1091h3v15h-3M1350 1091h3v15h-3M1219 1091h1v30h-1M852 1097h2v9h-2M873 1097h3v9h-3M878 1097h3v9h-3M897 1097h2v9h-2M920 1097h3v9h-3M988 1097h2v9h-2M1173 1097h2v9h-2M1215 1097h2v9h-2M1230 1097h1v9h-1M1263 1097h2v9h-2M1269 1097h2v9h-2M1285 1097h1v9h-1M1320 1097h1v9h-1M1379 1097h2v9h-2M1383 1097h2v9h-2M1422 1097h3v9h-3M1436 1097h3v9h-3M931 1106h1v15h-1M940 1106h3v15h-3M950 1106h2v15h-2M968 1106h1v15h-1M971 1106h1v15h-1M1167 1106h2v15h-2M1198 1106h2v15h-2M1237 1106h1v15h-1M1294 1106h2v15h-2M1299 1106h1v15h-1M1321 1106h2v15h-2M1327 1106h3v15h-3M1334 1106h3v15h-3M1344 1106h2v15h-2M1359 1106h1v15h-1M1416 1106h2v15h-2"/><path fill="#00dfff" d="M993 1036h2v2h-2M993 1040h2v1h-2M969 1041h2v2h-2M993 1042h2v2h-2M969 1045h2v4h-2M993 1047h2v1h-2M1446 1047h3v1h-3M1452 1048h1v1h-1M1457 1048h1v2h-1M969 1050h2v1h-2M1330 1051h1v2h-1M1446 1051h3v2h-3M1246 1052h1v1h-1M1299 1052h1v1h-1M969 1052h2v2h-2M1164 1053h2v1h-2M1452 1053h1v1h-1M1457 1053h1v1h-1M1381 1053h2v2h-2M1267 1053h1v3h-1M1261 1054h2v1h-2M1292 1054h1v1h-1M1372 1055h2v1h-2M1457 1055h1v2h-1M1261 1056h2v1h-2M1299 1056h1v1h-1M1359 1056h1v1h-1M1452 1056h1v1h-1M1372 1057h2v2h-2M1375 1057h2v2h-2M1261 1059h2v1h-2M1267 1059h1v1h-1M1359 1059h1v1h-1M1164 1060h2v1h-2M1233 1060h3v1h-3M1258 1060h2v1h-2M1354 1060h1v1h-1M1401 1060h1v1h-1M1287 1060h1v3h-1M1208 1060h2v6h-2M1242 1061h2v2h-2M1292 1061h1v2h-1M1299 1061h1v2h-1M1301 1061h2v2h-2M1330 1061h1v2h-1M1355 1061h1v2h-1M1375 1061h2v2h-2M1454 1061h3v2h-3M1175 1063h1v2h-1M1265 1063h1v2h-1M1285 1063h1v2h-1M1381 1063h2v2h-2M1387 1063h3v2h-3M1440 1063h1v2h-1M1452 1063h1v2h-1M1233 1065h3v1h-3M1242 1065h2v1h-2M1247 1065h2v1h-2M1271 1065h2v1h-2M1355 1065h1v1h-1M1457 1065h1v1h-1M1258 1066h2v2h-2M1267 1066h1v2h-1M1285 1066h1v2h-1M1452 1066h1v2h-1M1440 1066h1v4h-1M1169 1068h1v2h-1M1175 1068h1v2h-1M1271 1068h2v2h-2M1279 1068h1v2h-1M1330 1068h1v2h-1M1395 1068h3v2h-3M1412 1068h1v2h-1M1439 1068h1v2h-1M1332 1068h2v5h-2M1375 1068h2v5h-2M1164 1070h2v3h-2M1210 1070h3v3h-3M1232 1070h1v3h-1M1246 1070h1v3h-1M1287 1070h1v3h-1M1401 1070h1v3h-1M1320 1070h1v5h-1M1175 1073h1v2h-1M1252 1073h2v2h-2M1299 1073h1v2h-1M1301 1073h2v2h-2M1340 1073h4v2h-4M1350 1073h3v2h-3M1355 1073h1v2h-1M1357 1073h1v2h-1M1359 1073h1v2h-1M1395 1073h3v2h-3M1439 1073h1v2h-1M1452 1073h1v2h-1M1242 1073h2v5h-2M1354 1073h1v5h-1M1392 1073h1v5h-1M992 1074h1v1h-1M995 1074h1v1h-1M1265 1075h1v3h-1M1278 1075h1v3h-1M1330 1075h1v3h-1M1369 1075h3v3h-3M1401 1075h1v3h-1M1268 1075h1v7h-1M1288 1075h2v7h-2M968 1078h1v4h-1M971 1078h1v4h-1M992 1078h1v4h-1M995 1078h1v4h-1M1208 1078h2v4h-2M1213 1078h2v4h-2M1233 1078h3v4h-3M1279 1078h1v4h-1M1295 1078h1v4h-1M1306 1078h2v4h-2M1317 1078h4v4h-4M1340 1078h2v4h-2M1395 1078h3v4h-3M1454 1078h3v4h-3M1249 1078h2v8h-2M1332 1078h2v8h-2M1439 1078h1v8h-1M1164 1082h2v4h-2M1169 1082h1v4h-1M1210 1082h3v4h-3M1245 1082h2v4h-2M1258 1082h2v4h-2M1265 1082h1v4h-1M1344 1082h2v4h-2M1359 1082h1v4h-1M1182 1082h3v9h-3M1321 1082h2v9h-2M1360 1082h2v9h-2M1457 1082h1v9h-1M992 1086h1v5h-1M995 1086h1v5h-1M1172 1086h1v5h-1M1176 1086h1v5h-1M1252 1086h2v5h-2M1299 1086h2v5h-2M1362 1086h1v5h-1M1398 1086h3v5h-3M1412 1086h1v5h-1M1383 1086h2v11h-2M867 1091h2v6h-2M968 1091h1v6h-1M971 1091h1v6h-1M1205 1091h1v6h-1M1217 1091h1v6h-1M1230 1091h1v6h-1M1238 1091h1v6h-1M1301 1091h2v6h-2M1314 1091h1v6h-1M1317 1091h4v6h-4M1324 1091h2v6h-2M1342 1091h2v6h-2M1355 1091h1v6h-1M1392 1091h1v6h-1M1406 1091h2v6h-2M1431 1091h8v6h-8M1207 1091h1v15h-1M1271 1091h2v15h-2M1405 1091h1v15h-1M1369 1091h3v30h-3M950 1097h2v9h-2M980 1097h2v9h-2M1237 1097h1v9h-1M1239 1097h2v9h-2M1268 1097h1v9h-1M1280 1097h2v9h-2M1306 1097h2v9h-2M1310 1097h3v9h-3M1362 1097h1v9h-1M1398 1097h3v9h-3M1176 1097h1v24h-1M867 1106h2v15h-2M982 1106h2v15h-2M992 1106h1v15h-1M995 1106h1v15h-1M1175 1106h1v15h-1M1185 1106h2v15h-2M1208 1106h2v15h-2M1233 1106h3v15h-3M1238 1106h1v15h-1M1282 1106h2v15h-2M1332 1106h2v15h-2M1354 1106h1v15h-1M1360 1106h2v15h-2M1387 1106h3v15h-3M1406 1106h2v15h-2M1412 1106h1v15h-1M1427 1106h4v15h-4M1439 1106h2v15h-2M1444 1106h2v15h-2"/><path fill="#00ffff" d="M993 1041h2v1h-2M993 1046h2v1h-2M969 1051h2v1h-2M1457 1051h1v2h-1M1452 1054h1v2h-1M1446 1055h3v2h-3M969 1055h2v4h-2M1330 1056h1v1h-1M1164 1056h2v3h-2M1292 1057h1v2h-1M1381 1057h2v2h-2M1208 1057h2v3h-2M1299 1057h1v3h-1M1457 1057h1v3h-1M1372 1059h2v1h-2M1375 1059h2v1h-2M969 1060h2v1h-2M1267 1060h1v1h-1M1440 1061h1v2h-1M1401 1061h1v4h-1M1164 1063h2v2h-2M1359 1063h1v3h-1M1330 1065h1v1h-1M1387 1065h3v1h-3M1439 1065h1v1h-1M1446 1065h3v1h-3M1242 1066h2v2h-2M1246 1066h1v2h-1M1301 1066h2v2h-2M1375 1066h2v2h-2M1401 1066h1v2h-1M1233 1066h3v4h-3M1381 1066h2v4h-2M1247 1068h2v2h-2M1287 1068h1v2h-1M1387 1068h3v2h-3M1444 1068h2v2h-2M1258 1068h2v5h-2M1169 1070h1v3h-1M1292 1070h1v3h-1M1355 1070h1v3h-1M1372 1070h2v3h-2M1208 1070h2v8h-2M1375 1073h2v2h-2M1454 1073h3v2h-3M1324 1073h2v5h-2M1182 1073h3v9h-3M1446 1073h3v9h-3M1164 1075h2v3h-2M1233 1075h3v3h-3M1238 1075h1v3h-1M1247 1075h2v3h-2M1271 1075h2v3h-2M1285 1075h1v3h-1M1395 1075h3v3h-3M1175 1078h1v4h-1M1205 1078h1v4h-1M1217 1078h1v4h-1M1242 1078h2v4h-2M1246 1078h1v4h-1M1258 1078h2v4h-2M1265 1078h1v4h-1M1299 1078h1v4h-1M1314 1078h1v4h-1M1334 1078h3v4h-3M1392 1078h1v4h-1M1412 1078h1v4h-1M1278 1078h1v8h-1M992 1082h1v4h-1M995 1082h1v4h-1M1213 1082h2v4h-2M1232 1082h4v4h-4M1257 1082h1v4h-1M1271 1082h2v4h-2M1285 1082h1v4h-1M1340 1082h2v4h-2M1354 1082h1v4h-1M1369 1082h3v4h-3M1444 1082h2v4h-2M1452 1082h1v4h-1M1175 1086h1v5h-1M1249 1086h2v5h-2M1261 1086h2v5h-2M1267 1086h1v5h-1M1287 1086h1v5h-1M1314 1086h1v5h-1M1324 1086h2v5h-2M1330 1086h1v5h-1M1342 1086h2v5h-2M1372 1086h2v5h-2M1408 1086h3v5h-3M1439 1086h1v5h-1M1288 1086h2v11h-2M1353 1086h1v11h-1M1375 1086h2v11h-2M1245 1091h1v6h-1M1263 1091h2v6h-2M1279 1091h3v6h-3M1300 1091h1v6h-1M1308 1091h5v6h-5M1332 1091h2v6h-2M1362 1091h1v6h-1M1401 1091h1v6h-1M992 1091h1v15h-1M995 1091h1v15h-1M1334 1091h3v15h-3M867 1097h2v9h-2M968 1097h1v9h-1M971 1097h1v9h-1M1164 1097h2v9h-2M1228 1097h1v9h-1M1247 1097h2v9h-2M1287 1097h1v9h-1M1295 1097h1v9h-1M1321 1097h2v9h-2M1327 1097h3v9h-3M1411 1097h1v9h-1M1418 1097h2v9h-2M1431 1097h3v9h-3M1440 1097h1v9h-1M1444 1097h5v9h-5M1169 1097h1v24h-1M1340 1097h2v24h-2M1434 1097h2v24h-2M927 1106h3v15h-3M1170 1106h1v15h-1M1177 1106h2v15h-2M1257 1106h1v15h-1M1263 1106h3v15h-3M1268 1106h1v15h-1M1279 1106h1v15h-1M1286 1106h1v15h-1M1301 1106h7v15h-7M1320 1106h1v15h-1M1342 1106h2v15h-2M1350 1106h3v15h-3M1357 1106h1v15h-1M1408 1106h3v15h-3"/><path fill="#1fffdf" d="M993 1044h2v2h-2M993 1048h2v2h-2M969 1049h2v1h-2M993 1053h2v1h-2M993 1055h2v2h-2M993 1059h2v1h-2M1452 1059h1v1h-1M1299 1060h1v1h-1M1446 1061h3v2h-3M969 1063h2v2h-2M1246 1063h1v2h-1M1261 1063h2v2h-2M1372 1063h2v2h-2M1267 1065h1v1h-1M1292 1065h1v1h-1M1401 1065h1v1h-1M993 1065h2v3h-2M969 1066h2v2h-2M1208 1066h2v2h-2M1299 1066h1v2h-1M1330 1066h1v2h-1M1372 1066h2v2h-2M1164 1068h2v2h-2M1261 1068h2v2h-2M1267 1068h1v2h-1M1446 1068h3v2h-3M1233 1070h3v3h-3M1299 1070h1v3h-1M1444 1070h2v3h-2M1452 1070h1v3h-1M1246 1073h1v2h-1M1287 1073h1v2h-1M1292 1073h1v2h-1M1330 1073h1v2h-1M1372 1073h2v2h-2M1457 1073h1v2h-1M1279 1073h1v5h-1M1332 1073h2v5h-2M1301 1075h2v3h-2M1340 1075h2v3h-2M1381 1075h2v3h-2M1412 1075h1v3h-1M1439 1075h2v3h-2M1444 1075h2v3h-2M1169 1075h1v7h-1M1359 1075h1v7h-1M1285 1078h1v4h-1M1324 1078h2v4h-2M1252 1082h2v4h-2M1288 1082h2v4h-2M1350 1082h3v4h-3M1355 1082h1v4h-1M1375 1082h2v4h-2M1301 1082h2v9h-2M1208 1086h2v5h-2M1242 1086h2v5h-2M1245 1086h1v5h-1M1257 1086h3v5h-3M1278 1086h1v5h-1M1285 1086h1v5h-1M1317 1086h3v5h-3M1332 1086h2v5h-2M1357 1086h1v5h-1M1395 1086h3v5h-3M1413 1086h2v5h-2M1440 1086h1v5h-1M1210 1086h3v11h-3M1381 1086h2v20h-2M1172 1091h1v6h-1M1176 1091h1v6h-1M1247 1091h2v6h-2M828 1097h3v9h-3M890 1097h2v9h-2M1205 1097h1v9h-1M1233 1097h3v9h-3M1242 1097h2v9h-2M1252 1097h2v9h-2M1255 1097h1v9h-1M1261 1097h2v9h-2M1265 1097h1v9h-1M1286 1097h1v9h-1M1301 1097h2v9h-2M1308 1097h2v9h-2M1314 1097h1v9h-1M1324 1097h2v9h-2M1344 1097h2v9h-2M1406 1097h2v9h-2M1454 1097h3v9h-3M1245 1097h1v24h-1M1353 1097h1v24h-1M1395 1097h3v24h-3M873 1106h3v15h-3M878 1106h3v15h-3M920 1106h3v15h-3M1232 1106h1v15h-1M1267 1106h1v15h-1M1269 1106h2v15h-2M1287 1106h1v15h-1M1300 1106h1v15h-1M1315 1106h2v15h-2M1355 1106h1v15h-1M1362 1106h1v15h-1M1379 1106h2v15h-2M1431 1106h3v15h-3"/><path fill="#3fffbf" d="M993 1050h2v2h-2M969 1054h2v1h-2M993 1054h2v1h-2M969 1059h2v1h-2M993 1060h2v1h-2M969 1065h2v1h-2M1261 1065h2v1h-2M1446 1066h3v2h-3M1457 1068h1v2h-1M969 1070h2v3h-2M993 1070h2v3h-2M1446 1070h3v3h-3M1164 1073h2v2h-2M1258 1073h2v2h-2M1401 1073h1v2h-1M969 1075h2v2h-2M1261 1075h2v3h-2M1287 1075h1v3h-1M1375 1075h2v3h-2M1210 1078h3v4h-3M1301 1078h2v4h-2M1330 1078h1v4h-1M1387 1078h3v4h-3M1401 1078h1v4h-1M1457 1078h1v4h-1M1208 1082h2v4h-2M1217 1082h1v4h-1M1292 1082h1v4h-1M1299 1082h1v4h-1M1395 1082h3v4h-3M1446 1082h3v4h-3M1247 1082h2v9h-2M1246 1086h1v5h-1M1279 1086h1v5h-1M1340 1086h2v5h-2M1454 1086h3v5h-3M1169 1091h1v6h-1M1208 1091h2v6h-2M1233 1091h3v6h-3M1242 1091h2v6h-2M1252 1091h2v6h-2M1258 1091h2v6h-2M1267 1091h1v6h-1M1357 1091h1v6h-1M1398 1091h3v6h-3M1457 1091h1v6h-1M1413 1091h2v15h-2M1213 1097h2v9h-2M1278 1097h1v9h-1M1299 1097h2v9h-2M1317 1097h3v9h-3M1342 1097h2v9h-2M1416 1097h2v9h-2M897 1106h2v15h-2M1172 1106h1v15h-1M1217 1106h1v15h-1M1225 1106h3v15h-3M1242 1106h2v15h-2M1247 1106h2v15h-2M1252 1106h2v15h-2M1255 1106h1v15h-1M1258 1106h2v15h-2M1372 1106h2v15h-2M1383 1106h2v15h-2"/><path fill="#5fff9f" d="M993 1052h2v1h-2M993 1057h2v1h-2M993 1061h2v1h-2M969 1061h2v2h-2M993 1063h2v2h-2M969 1068h2v2h-2M1267 1070h1v3h-1M969 1073h2v2h-2M1267 1075h1v3h-1M1299 1075h1v3h-1M1372 1075h2v3h-2M1457 1075h1v3h-1M969 1077h2v1h-2M1164 1078h2v4h-2M1287 1078h1v4h-1M1292 1078h1v4h-1M1242 1082h2v4h-2M1372 1082h2v4h-2M1412 1082h1v4h-1M969 1082h2v5h-2M1164 1086h2v5h-2M1292 1086h1v5h-1M1387 1086h3v5h-3M1444 1086h5v5h-5M1175 1091h1v6h-1M1278 1091h1v6h-1M1287 1091h1v6h-1M1330 1091h1v6h-1M1372 1091h2v6h-2M1454 1091h3v6h-3M1249 1091h2v15h-2M1182 1097h3v9h-3M1232 1097h1v9h-1M1238 1097h1v9h-1M1354 1097h1v9h-1M1387 1097h3v9h-3M1401 1097h1v9h-1M1408 1097h3v9h-3M1288 1097h2v24h-2M1392 1097h1v24h-1M1271 1106h2v15h-2M1285 1106h1v15h-1M1330 1106h1v15h-1M1375 1106h2v15h-2M1381 1106h2v15h-2M1413 1106h2v15h-2M1446 1106h3v15h-3M1452 1106h1v15h-1M1457 1106h1v15h-1"/><path fill="#7fff7f" d="M993 1058h2v1h-2M993 1062h2v1h-2M993 1068h2v2h-2M993 1073h2v5h-2M1246 1075h1v3h-1M1452 1075h1v3h-1M1372 1078h2v4h-2M1261 1078h2v8h-2M1267 1078h1v8h-1M1330 1082h1v4h-1M1381 1082h2v4h-2M1271 1086h2v5h-2M1401 1086h1v5h-1M1359 1086h1v11h-1M969 1087h2v4h-2M1246 1091h1v6h-1M1340 1091h2v6h-2M1360 1091h2v6h-2M1395 1091h3v6h-3M1412 1091h1v6h-1M1439 1091h2v6h-2M1444 1091h2v6h-2M1208 1097h2v9h-2M1257 1097h1v9h-1M1279 1097h1v9h-1M1332 1097h2v9h-2M1457 1097h1v9h-1M943 1106h1v15h-1M969 1106h2v15h-2M1246 1106h1v15h-1M1292 1106h1v15h-1M1317 1106h3v15h-3M1324 1106h2v15h-2M1454 1106h3v15h-3"/><path fill="#9fff5f" d="M969 1078h2v3h-2M993 1078h2v4h-2M1452 1078h1v4h-1M993 1086h2v5h-2M1452 1086h1v5h-1M969 1091h2v3h-2M1164 1091h2v6h-2M1446 1091h3v6h-3M1175 1097h1v9h-1M1217 1097h1v9h-1M1246 1097h1v9h-1M1355 1097h1v9h-1M1439 1097h1v9h-1M828 1106h3v15h-3M993 1106h2v15h-2M1164 1106h2v15h-2M1205 1106h1v15h-1M1401 1106h1v15h-1"/><path fill="#bfff3f" d="M969 1081h2v1h-2M1182 1091h3v6h-3M1292 1091h1v6h-1M1452 1091h1v15h-1M969 1094h2v3h-2M1172 1097h1v9h-1M1210 1097h3v9h-3M1357 1097h1v9h-1M1359 1097h3v9h-3M1375 1097h2v9h-2"/><path fill="#dfff1f" d="M993 1082h2v4h-2M1261 1091h2v6h-2M1299 1091h1v6h-1M969 1097h2v9h-2M993 1097h2v9h-2M1412 1097h1v9h-1M1182 1106h3v15h-3M1261 1106h2v15h-2M1278 1106h1v15h-1M1314 1106h1v15h-1"/><path fill="#ffff00" d="M993 1091h2v6h-2M1292 1097h1v9h-1M1372 1097h2v9h-2"/><path fill="#ffdf00" d="M1258 1097h2v9h-2M1267 1097h1v9h-1M1330 1097h1v9h-1"/><path fill="#ffbf00" d="M1210 1106h3v15h-3"/>
<rect x="259.5" y="969.5" width="1550.0" height="153.0" fill="none" stroke="#000" stroke-width="1.2"/>
<text x="204" y="1004.5" font-size="27.3" >10</text>
<text x="234" y="987.5" font-size="18.5" >-1</text>
<text x="204" y="1055.5" font-size="27.3" >10</text>
<text x="234" y="1038.5" font-size="18.5" >0</text>
<text x="204" y="1106.5" font-size="27.3" >10</text>
<text x="234" y="1089.5" font-size="18.5" >1</text>
<g transform="translate(184.5,1045.4) rotate(-90)">
<text x="0" y="0" font-size="28.4" text-anchor="middle" >Wavelength (km)</text>
</g>
<path d="M260.5 1179.5H1810.5M260.5 1244.5H1810.5M260.5 1309.5H1810.5M545.5 1133.5V1355.5M726.5 1133.5V1355.5M907.5 1133.5V1355.5M1087.5 1133.5V1355.5M1266.5 1133.5V1355.5M1447.5 1133.5V1355.5M1628.5 1133.5V1355.5M1808.5 1133.5V1355.5" fill="none" stroke="#000" stroke-width="1" stroke-dasharray="1 4" stroke-dashoffset="4.5"/>
<path d="M260.5 1179.5H276.5M1794.5 1179.5H1810.5M260.5 1244.5H276.5M1794.5 1244.5H1810.5M260.5 1309.5H276.5M1794.5 1309.5H1810.5M545.5 1339.5V1355.5M545.5 1133.5V1149.5M726.5 1339.5V1355.5M726.5 1133.5V1149.5M907.5 1339.5V1355.5M907.5 1133.5V1149.5M1087.5 1339.5V1355.5M1087.5 1133.5V1149.5M1266.5 1339.5V1355.5M1266.5 1133.5V1149.5M1447.5 1339.5V1355.5M1447.5 1133.5V1149.5M1628.5 1339.5V1355.5M1628.5 1133.5V1149.5M1808.5 1339.5V1355.5M1808.5 1133.5V1149.5" fill="none" stroke="#000" stroke-width="1"/>
<defs><clipPath id="mc"><rect x="261" y="1134" width="1549" height="221"/></clipPath></defs>
<g clip-path="url(#mc)">
<path d="M260.4 1251.1 262.4 1256.5 265.8 1255.1 272.6 1251.5 278 1250.4 286.1 1253.8 294.2 1256.5 302.3 1259.2 309.1 1263.7 314.5 1268.3 319.3 1270.4 318.3 1273.7 316.1 1275 319.9 1280.2 326.7 1286.2 332.1 1289.6 328.7 1291.3 321.6 1289.4 316.1 1282.2 310.7 1277.5 304.5 1275.4 299.9 1279.9 295.6 1284.2 289.5 1283.5 283.4 1279.4 275.3 1279.5 279.4 1275.4 278.7 1266.9 271.2 1263.3 260.4 1260.1M332.1 1255.8 337.8 1257.8 341.6 1261.2 342.3 1263.9 339.1 1266.6 333.5 1269.3 325.3 1271.5 321 1270.2 322.4 1268 330.8 1268 335.9 1265.3 337.8 1261.9 334.8 1258.8 332.1 1255.8M348.1 1266.9 350 1270.2 353.8 1272 359.2 1274.2 361.2 1276.1M348.6 1267.3 351.3 1271.8M360.5 1278.5 362.5 1281M365.3 1276.8 371.3 1279.5 375.4 1281.2M369.3 1284.2 372.7 1287.7 376.5 1286.9 374 1283.5 369.3 1284.2zM374.7 1280.2 377.4 1285.6 382.2 1291.3M399.8 1308.6 402.5 1312.6 404.5 1317.4M390.3 1337.3 395.7 1340.5 401.8 1343.2 402.7 1341.6 397 1338.3 391 1335.9 390.3 1337.3zM445.7 1322.1 450.1 1323.7 453.3 1319.4 451.2 1318 446.4 1320.1 445.7 1322.1zM451.4 1317 457.2 1315.3M487.7 1302.5 495.1 1304.8M260.4 1296.4 272.6 1297.7 269.2 1301.1 267.2 1309.9 269.9 1312.6 276.6 1316.7 286.1 1322.4 290.4 1318.7 291.8 1303.2 294.5 1292.3 296.9 1291 299.6 1296.7 301.3 1304.5 306.4 1307.5 310.7 1316.7 312.9 1326.2 321.3 1333.2 325.3 1341 332.1 1345.1 338.9 1355.2M542.5 1147.6 545.8 1146M550.6 1148.9 556 1151.6 561.1 1155.4 562.5 1161.1 566.1 1159.1 564.1 1156.4 561.4 1155.4M748.1 1134.1 760.3 1143.5 762.4 1140.1 752.2 1133.4M767.7 1134.1 773.1 1140.8 778.5 1146.5 777.4 1154.4 782.6 1160 792.1 1165.4 800.4 1169.5 809.6 1173.3 816.7 1176 823.4 1173.3 828.6 1176.3 832.6 1180.3 838.1 1183.6 844.8 1186.8 851.6 1190.9 860.8 1195.2 862.7 1201.7 871.9 1206 880 1211.2 885.4 1214.1 888.1 1210.6 892.8 1206 896.9 1208.2 900.3 1210.6 903.3 1207.1 906.4 1203.7M892.8 1206 898.9 1215.5 900.3 1228.8 894.9 1233.1 890.8 1238.2 886.8 1242.6 884 1251.8 888.1 1255.8 884 1260.1 881.6 1263.9 883 1270.7 887 1275 892.4 1281.8 895.1 1288.5 900.3 1296.7 903 1304.5 905.7 1310.2 913.8 1314.3 923.3 1319.7 929 1325.1 930.9 1332.9 930 1343.7 928.7 1355.2M811.3 1134.1 809.9 1144.9 814 1150.6 819.4 1157.3 824.8 1162.7 830.2 1164.1 838.1 1162.5 842.1 1157.3 843.5 1151.6 848.9 1149.2 858.3 1148.9 857 1157.1 853.2 1165.4 851.6 1170.6 850.2 1174.9 859.7 1175.3 867.8 1176 874.6 1178.7 873.9 1186.8 873.2 1194.9 875.3 1200.3 880 1205.8 884 1207.8 889.5 1205.8 894.9 1203.7 901.6 1200.3 908.4 1196.3 915.2 1193.6 923.3 1190.9 931.4 1192.2 940.9 1194.9 949 1197.6 957.1 1199 965.2 1201 972 1207.1 981.5 1215.2 988.2 1217.9 998 1219.3 1005.8 1223.3 1011.5 1230.1 1014.2 1238.2 1018 1242.3 1015.5 1246.6 1012.6 1249.3 1018 1247.7 1025 1246.6M867.8 1146.9 873.2 1143.5 882.7 1141.5 889.5 1143.5 896.2 1147.6 904.3 1151.6 911.1 1156 908.4 1157.3 900.3 1154.6 890.8 1150.6 882.7 1146.5 875.9 1147.9 867.8 1146.9zM895.1 1164.5 899.6 1162.5 904.3 1164.5 899.6 1166.5 895.1 1164.5zM912.5 1163.1 917.9 1157.3 923.5 1156.4 930.3 1158.7 935.7 1162.7 933 1165.4 927.3 1164.6 923.3 1166.8 916.5 1166 912.5 1163.1zM942.5 1164.5 946.3 1162.7 950.3 1164.5 946.3 1166.3 942.5 1164.5zM894.9 1134.1 898.9 1138.4M1020 1245 1024.1 1245.8 1028.1 1246.6 1033.5 1249 1041.6 1254.5 1047.1 1255.3 1059.2 1256.1 1064.9 1260.1 1074.1 1265.3 1079.5 1266.6 1082.2 1273.4 1083 1278.8 1079.5 1284.2 1074.1 1289.6 1066 1300.7 1064.6 1305.9 1064.6 1319.4 1061.9 1326.2 1059.2 1332.9 1055.8 1342.4 1047.1 1345.4 1040.3 1346.5 1034.9 1349.4 1028.1 1355.2M1168.8 1134.1 1163.4 1142.2 1159.3 1148.9 1162 1157.1 1163.4 1166.5 1160.7 1174.6 1158 1180.1 1160.7 1188.2 1166.1 1193.6 1170.2 1199 1175.6 1205.8 1178.3 1212.5 1187.7 1219.3 1199.9 1226.3 1206.7 1223.3 1214.8 1222 1222.9 1223.3 1231 1220.6 1239.2 1216.9 1250 1216.6 1254 1220.6 1256.7 1224.7 1262.2 1226.3 1270.3 1226.3 1274.3 1233.1 1273 1241.2 1271.6 1247.7 1270.3 1250.7 1273 1256.1 1280 1261.5M1275 1255.8 1280.4 1261.2 1285.8 1269.3 1288.5 1278.8 1292.6 1291 1291.2 1297.7 1287.2 1301.8 1284.5 1309.9 1282.4 1319.4 1283.1 1324.8 1287.2 1332.9 1291.2 1339.7 1295.3 1346.5 1296 1355.2M1383.2 1134.1 1387.3 1140.8 1392.7 1146.2 1394 1157.1 1399.5 1163.8 1402.2 1171.9 1404.9 1179 1411.6 1183 1415.7 1186.8 1419.8 1189.5M1392.7 1134.1 1399.5 1140.8 1402.2 1150.3 1408.9 1157.1 1413 1163.8 1417 1170.6 1418.7 1179 1420 1188.2 1429.2 1185.5 1437.3 1183 1446.8 1180.3 1457.6 1176.3 1464.4 1170.9 1472.5 1166.8 1477.9 1161.4 1482 1157.1 1486 1150.3 1490.1 1144.9 1484.7 1139.5 1476.6 1134.1M1419.8 1189.5 1418.4 1193.6 1421.1 1197.9 1425.2 1199.3 1431.9 1196.6 1441.4 1195.2 1449.5 1192.5 1453.8 1193.6 1452.5 1201.7 1449.5 1208.5 1445.7 1214.1 1444.4 1219.3 1438.7 1226.3 1430.6 1233.1 1422.5 1238.5 1415.7 1245.3 1410.3 1252 1406.2 1256.1 1403.5 1262.8 1400.1 1269.6 1402.2 1276.4 1404.9 1285.8 1407.6 1294 1408.9 1300.7 1408.9 1310.2 1402.2 1317 1394 1321 1388.6 1326.4 1381.9 1333.2 1383.2 1341.3 1384.6 1349.4 1384.6 1355.2M1461.7 1189.5 1468.5 1190.2M1369.7 1247.7 1375.1 1242.6 1380.5 1245 1379.2 1251.8 1375.1 1254.7 1369.7 1256.1 1369 1251.8 1369.7 1247.7zM1358.2 1258.5 1358.9 1266.6 1362.9 1273.7 1366.3 1282.2M1379.2 1285.6 1381.9 1295 1380.8 1300.7 1384.6 1307.2M1421.8 1355.2 1419.8 1339.7 1423.8 1330.2 1422.5 1319.4 1426.5 1312.6 1434.6 1308.6 1440.3 1303.2 1444.1 1297.7 1448.2 1300.7 1449.8 1311.3 1446.8 1319.4 1444.1 1330.2 1440.3 1341 1437.3 1351.9 1436 1355.2M1289.9 1183 1293.9 1189.5 1298.7 1186.8 1293.9 1184.1 1289.9 1183zM1453.6 1135.4 1461.7 1137.4 1467.1 1134.7M1521.2 1134.1 1530.7 1142.2 1535 1147.6M1530.7 1144.9 1535 1144.2M1530 1144.3 1535.7 1143.1 1532.9 1148.8 1538.6 1152.8 1544.3 1151.4 1544.3 1146 1545 1151.4 1545.7 1158.5 1547.8 1172.8 1554.2 1185.6 1561.4 1199.8 1565.6 1208.4 1568.5 1209.1 1572.8 1204.1 1576.3 1199.8 1577 1191.3 1577 1178.5 1584.2 1172.8 1592.7 1167.1 1601.3 1158.5 1607.7 1152.1 1612.7 1147.1 1621.2 1147.1 1626.9 1144.3 1629.8 1150 1636.9 1158.5 1639.7 1165.6 1639.7 1174.2 1646.9 1172.8 1651.1 1171.3 1654 1179.9 1656.8 1189.9 1658.3 1198.4 1656.8 1202.7 1658.3 1209.8 1664 1215.5 1666.8 1222.6 1669.7 1229.8 1672.5 1235.5 1681.1 1238.3 1678.2 1229.8 1676.8 1221.2 1671.1 1215.5 1664 1209.8 1659.7 1204.1 1662.5 1187 1666.8 1187 1672.5 1191.3 1678.2 1198.4 1683.9 1201.3 1685.3 1205.5 1691 1201.3 1702.4 1195.6 1703.9 1187 1702.4 1178.5 1698.2 1172.8 1691 1165.6 1686.8 1159.9 1691 1152.8 1699.6 1148.5 1703.9 1151.4 1709.6 1150 1718.1 1145.7 1732.4 1141.4 1740.9 1135.7 1743.8 1133.6M1575.6 1201.3 1581.3 1205.5 1585.6 1214.1 1582.7 1218.4 1577 1218.6 1575.6 1212.7 1575.6 1201.3zM1631.5 1187 1632.6 1193M1700.3 1158.5 1704.6 1153.5 1709.8 1155.7 1709.3 1162.1 1704.6 1164.2 1700.3 1162.1 1700.3 1158.5zM1752.3 1134.3 1756.9 1135.7 1754 1146 1750.9 1144.3 1752.3 1134.3zM1642.6 1221.2 1646.9 1219.8 1654 1222.6 1661.1 1228.3 1669.7 1235.5 1676.8 1242.6 1682.5 1249.7 1688.2 1255.4 1688.2 1266.8 1683.9 1269.7 1679.6 1265.4 1671.1 1258.3 1664 1248.3 1658.3 1239.7 1651.1 1231.2 1642.6 1222.6zM1701 1238.3 1711 1235.5 1715.3 1229.8 1725.2 1222.6 1735.2 1215.5 1744 1222.6 1740.9 1229.8 1739.5 1238.3 1742.6 1241.2 1738.1 1248.3 1732.4 1258.3 1726.7 1261.4 1718.1 1258.3 1708.1 1256.8 1706.7 1251.1 1702.4 1245.4 1701 1238.3zM1686.8 1271.1 1695.3 1272.8 1704.1 1272.8 1715.3 1275.6 1722.7 1278.5 1718.4 1281.3 1708.1 1279.9 1698.2 1277.1 1689.6 1274.2 1686.8 1271.1zM1721 1355.2 1722.7 1342.3 1729.5 1338.3 1740.9 1334.1 1752.3 1329.8 1758 1321.2 1764 1316.7 1769.7 1309.8 1779.7 1305.6 1786.5 1309.8 1792.5 1305.6 1793.9 1297 1801 1295.6 1809.6 1295.6M1751.9 1162.7 1759.9 1162.7 1760.6 1169.8 1756.2 1176.4 1755.7 1180.1 1753.8 1182.5 1749.1 1180.1 1748.2 1173.5 1751 1167.9 1751.9 1162.7zM1751 1185.8 1754.8 1184.8 1755.7 1191.4 1753.8 1192.4 1751 1189.1 1751 1185.8zM1757.6 1182.9 1763.2 1182 1767.9 1187.2 1773.6 1190 1774.5 1196.1 1770.8 1197.1 1767.9 1197.1 1765.1 1195.2 1761.4 1189.5 1757.6 1185.8 1757.6 1182.9zM1757.6 1193.3 1761.4 1193.3 1764.2 1197.1 1767.9 1198 1772.6 1200.8 1777.4 1205.5 1776.4 1207.4 1770.8 1206.5 1767.9 1204.6 1763.2 1206.5 1761.4 1204.1 1758.5 1200.8 1757.1 1198 1757.6 1193.3zM1766.1 1213.1 1776.4 1213.1 1777.4 1217.3 1772.6 1219.6 1767.9 1217.8 1766.1 1213.1zM1760.4 1190.5 1765.1 1192.4 1767.9 1199.9M1747.3 1195.9 1743 1200.4 1738.3 1206.9M1747.3 1195.9 1744.9 1199.9 1740.2 1206M1749 1241 1754 1238 1765 1239.5 1771.5 1237 1772.5 1239.5 1765 1243 1755 1242 1751 1246.5 1765 1247 1757.5 1251 1755 1255 1760 1258 1763 1265 1763 1268.5 1759 1268 1755 1262 1752 1258 1751 1262 1751 1268 1746 1268 1747 1261 1744 1257 1747 1251 1749 1241zM1782.5 1234.5 1787 1240 1785 1244 1781.5 1243 1781 1240 1782.5 1234.5zM1780.5 1251 1786 1251M1768.5 1251.5 1773 1251.5M1775 1259 1777.5 1257 1780 1259 1777.5 1260.5 1775 1259zM1783 1257.5 1787.5 1256 1795 1258 1794 1260 1787.5 1259.5 1783 1257.5zM1793.5 1245 1810 1245 1810 1261 1803 1260 1800 1254 1796 1249 1793.5 1245zM1723.5 1280 1735 1282 1746 1280.5 1755 1280 1764 1280.5M1724 1281 1736 1283 1747 1282M1745 1284.5 1753 1287.5M1764 1289 1772 1283 1780 1279 1777.5 1277M1793 1295 1800 1294 1810 1296.5" fill="none" stroke="#000" stroke-width="2" stroke-linejoin="round"/>
<g fill="#000"><circle cx="267.4" cy="1248.4" r="2.2"/><circle cx="315.2" cy="1252.8" r="1.5"/><circle cx="261.5" cy="1270.7" r="2"/><circle cx="589.1" cy="1321.4" r="2"/><circle cx="912.7" cy="1142.9" r="2"/><circle cx="915.8" cy="1148.9" r="2"/><circle cx="920.8" cy="1147.6" r="2"/><circle cx="917.9" cy="1151.6" r="2"/><circle cx="900.3" cy="1138.1" r="2"/><circle cx="966.8" cy="1173.6" r="2"/><circle cx="970" cy="1180.3" r="2"/><circle cx="839.7" cy="1247" r="2.5"/><circle cx="1471.4" cy="1337.3" r="2"/><circle cx="1480.2" cy="1332.9" r="2"/><circle cx="1275.3" cy="1232.8" r="2"/><circle cx="1769.7" cy="1251.4" r="2"/><circle cx="1797.9" cy="1276.8" r="2"/><circle cx="1646.9" cy="1232.6" r="2"/><circle cx="1652.6" cy="1239.7" r="2.5"/><circle cx="1658.3" cy="1249.7" r="2.5"/><circle cx="1697.4" cy="1256.1" r="2.5"/><circle cx="1689.6" cy="1254" r="2.5"/><circle cx="1797.5" cy="1277" r="2"/></g>
<path d="M259.5 1258 261.5 1257.6 263.5 1257.1 265.5 1256.6 267.5 1256.1 269.5 1255.6 271.5 1255.2 273.5 1254.7 275.5 1254.2 277.5 1253.7 279.5 1253.2 281.5 1252.7 283.5 1252.2 285.5 1251.7 287.5 1251.3 289.5 1250.8 291.5 1250.3 293.5 1249.8 295.5 1249.3 297.5 1248.8 299.5 1248.3 301.5 1247.8 303.5 1247.3 305.5 1246.8 307.5 1246.3 309.5 1245.8 311.5 1245.3 313.5 1244.8 315.5 1244.3 315.9 1244.2" fill="none" stroke="#cc0000" stroke-width="1.1" />
<path d="M422.7 1244.2 424.7 1243.8 426.7 1243.3 428.7 1242.8 430.7 1242.3 432.7 1241.8 434.7 1241.3 436.7 1240.8 438.7 1240.3 440.7 1239.8 442.7 1239.3 444.7 1238.8 446.7 1238.3 448.7 1237.8 450.7 1237.3 452.7 1236.9 454.7 1236.4 456.7 1235.9 458.7 1235.4 460.7 1234.9 462.7 1234.4 464.7 1233.9 466.7 1233.4 468.7 1233 470.7 1232.5 472.7 1232 474.7 1231.5 476.7 1231 478.7 1230.5 480.7 1230.1 482.7 1229.6 484.7 1229.1 486.7 1228.6 488.7 1228.2 490.7 1227.7 492.7 1227.2 494.7 1226.7 496.7 1226.3 498.7 1225.8 500.7 1225.3 502.7 1224.9 504.7 1224.4 506.7 1223.9 508.7 1223.5 510.7 1223 512.7 1222.6 514.7 1222.1 516.7 1221.7 518.7 1221.2 520.7 1220.8 522.7 1220.3 524.7 1219.9 526.7 1219.4 528.7 1219 530.7 1218.5 532.7 1218.1 534.7 1217.7 536.7 1217.2 538.7 1216.8 540.7 1216.4 542.7 1215.9 544.7 1215.5 546.7 1215.1 548.7 1214.7 550.7 1214.2 552.7 1213.8 554.7 1213.4 556.7 1213 558.7 1212.6 560.7 1212.2 562.7 1211.8 564.7 1211.4 566.7 1211 568.7 1210.6 570.7 1210.2 572.7 1209.8 574.7 1209.4 576.7 1209 578.7 1208.6 580.7 1208.2 582.7 1207.8 584.7 1207.5 586.7 1207.1 588.7 1206.7 590.7 1206.3 592.7 1206 594.7 1205.6 596.7 1205.3 598.7 1204.9 600.7 1204.5 602.7 1204.2 604.7 1203.8 606.7 1203.5 608.7 1203.2 610.7 1202.8 612.7 1202.5 614.7 1202.1 616.7 1201.8 618.7 1201.5 620.7 1201.2 622.7 1200.8 624.7 1200.5 626.7 1200.2 628.7 1199.9 630.7 1199.6 632.7 1199.3 634.7 1199 636.7 1198.7 638.7 1198.4 640.7 1198.1 642.7 1197.8 644.7 1197.6 646.7 1197.3 648.7 1197 650.7 1196.7 652.7 1196.5 654.7 1196.2 656.7 1195.9 658.7 1195.7 660.7 1195.4 662.7 1195.2 664.7 1194.9 666.7 1194.7 668.7 1194.5 670.7 1194.2 672.7 1194 674.7 1193.8 676.7 1193.5 678.7 1193.3 680.7 1193.1 682.7 1192.9 684.7 1192.7 686.7 1192.5 688.7 1192.3 690.7 1192.1 692.7 1191.9 694.7 1191.7 696.7 1191.5 698.7 1191.3 700.7 1191.2 702.7 1191 704.7 1190.8 706.7 1190.7 708.7 1190.5 710.7 1190.4 712.7 1190.2 714.7 1190.1 716.7 1189.9 718.7 1189.8 720.7 1189.6 722.7 1189.5 724.7 1189.4 726.7 1189.3 728.7 1189.1 730.7 1189 732.7 1188.9 734.7 1188.8 736.7 1188.7 738.7 1188.6 740.7 1188.5 742.7 1188.4 744.7 1188.4 746.7 1188.3 748.7 1188.2 750.7 1188.1 752.7 1188.1 754.7 1188 756.7 1187.9 758.7 1187.9 760.7 1187.8 762.7 1187.8 764.7 1187.7 766.7 1187.7 768.7 1187.7 770.7 1187.6 772.7 1187.6 774.7 1187.6 776.7 1187.6 778.7 1187.6 780.7 1187.6 782.7 1187.6 784.7 1187.6 786.7 1187.6 788.7 1187.6 790.7 1187.6 792.7 1187.6 794.7 1187.6 796.7 1187.7 798.7 1187.7 800.7 1187.7 802.7 1187.8 804.7 1187.8 806.7 1187.9 808.7 1187.9 810.7 1188 812.7 1188 814.7 1188.1 816.7 1188.2 818.7 1188.3 820.7 1188.3 822.7 1188.4 824.7 1188.5 826.7 1188.6 828.7 1188.7 830.7 1188.8 832.7 1188.9 834.7 1189 836.7 1189.1 838.7 1189.2 840.7 1189.4 842.7 1189.5 844.7 1189.6 846.7 1189.7 848.7 1189.9 850.7 1190 852.7 1190.2 854.7 1190.3 856.7 1190.5 858.7 1190.6 860.7 1190.8 862.7 1191 864.7 1191.1 866.7 1191.3 868.7 1191.5 870.7 1191.7 872.7 1191.9 874.7 1192 876.7 1192.2 878.7 1192.4 880.7 1192.6 882.7 1192.8 884.7 1193.1 886.7 1193.3 888.7 1193.5 890.7 1193.7 892.7 1193.9 894.7 1194.2 896.7 1194.4 898.7 1194.6 900.7 1194.9 902.7 1195.1 904.7 1195.4 906.7 1195.6 908.7 1195.9 910.7 1196.1 912.7 1196.4 914.7 1196.7 916.7 1196.9 918.7 1197.2 920.7 1197.5 922.7 1197.8 924.7 1198.1 926.7 1198.3 928.7 1198.6 930.7 1198.9 932.7 1199.2 934.7 1199.5 936.7 1199.8 938.7 1200.1 940.7 1200.5 942.7 1200.8 944.7 1201.1 946.7 1201.4 948.7 1201.7 950.7 1202.1 952.7 1202.4 954.7 1202.7 956.7 1203.1 958.7 1203.4 960.7 1203.8 962.7 1204.1 964.7 1204.5 966.7 1204.8 968.7 1205.2 970.7 1205.5 972.7 1205.9 974.7 1206.3 976.7 1206.6 978.7 1207 980.7 1207.4 982.7 1207.7 984.7 1208.1 986.7 1208.5 988.7 1208.9 990.7 1209.3 992.7 1209.7 994.7 1210.1 996.7 1210.5 998.7 1210.9 1000.7 1211.3 1002.7 1211.7 1004.7 1212.1 1006.7 1212.5 1008.7 1212.9 1010.7 1213.3 1012.7 1213.7 1014.7 1214.1 1016.7 1214.5 1018.7 1215 1020.7 1215.4 1022.7 1215.8 1024.7 1216.2 1026.7 1216.7 1028.7 1217.1 1030.7 1217.5 1032.7 1218 1034.7 1218.4 1036.7 1218.9 1038.7 1219.3 1040.7 1219.8 1042.7 1220.2 1044.7 1220.6 1046.7 1221.1 1048.7 1221.5 1050.7 1222 1052.7 1222.5 1054.7 1222.9 1056.7 1223.4 1058.7 1223.8 1060.7 1224.3 1062.7 1224.8 1064.7 1225.2 1066.7 1225.7 1068.7 1226.2 1070.7 1226.6 1072.7 1227.1 1074.7 1227.6 1076.7 1228 1078.7 1228.5 1080.7 1229 1082.7 1229.5 1084.7 1229.9 1086.7 1230.4 1088.7 1230.9 1090.7 1231.4 1092.7 1231.9 1094.7 1232.4 1096.7 1232.8 1098.7 1233.3 1100.7 1233.8 1102.7 1234.3 1104.7 1234.8 1106.7 1235.3 1108.7 1235.8 1110.7 1236.2 1112.7 1236.7 1114.7 1237.2 1116.7 1237.7 1118.7 1238.2 1120.7 1238.7 1122.7 1239.2 1124.7 1239.7 1126.7 1240.2 1128.7 1240.7 1130.7 1241.2 1132.7 1241.7 1134.7 1242.1 1136.7 1242.6 1138.7 1243.1 1140.7 1243.6 1142.7 1244.1 1144.7 1244.6 1146.7 1245.1 1148.7 1245.6 1150.7 1246.1 1152.7 1246.6 1154.7 1247.1 1156.7 1247.6 1158.7 1248.1 1160.7 1248.6 1162.7 1249.1 1164.7 1249.6 1166.7 1250 1168.7 1250.5 1170.7 1251 1172.7 1251.5 1174.7 1252 1176.7 1252.5 1178.7 1253 1180.7 1253.5 1182.7 1254 1184.7 1254.5 1186.7 1254.9 1188.7 1255.4 1190.7 1255.9 1192.7 1256.4 1194.7 1256.9 1196.7 1257.4 1198.7 1257.8 1200.7 1258.3 1202.7 1258.8 1204.7 1259.3 1206.7 1259.7 1208.7 1260.2 1210.7 1260.7 1212.7 1261.2 1214.7 1261.6 1216.7 1262.1 1218.7 1262.6 1220.7 1263 1222.7 1263.5 1224.7 1264 1226.7 1264.4 1228.7 1264.9 1230.7 1265.4 1232.7 1265.8 1234.7 1266.3 1236.7 1266.7 1238.7 1267.2 1240.7 1267.6 1242.7 1268.1 1244.7 1268.5 1246.7 1269 1248.7 1269.4 1250.7 1269.9 1252.7 1270.3 1254.7 1270.7 1256.7 1271.2 1258.7 1271.6 1260.7 1272 1262.7 1272.5 1264.7 1272.9 1266.7 1273.3 1268.7 1273.7 1270.7 1274.2 1272.7 1274.6 1274.7 1275 1276.7 1275.4 1278.7 1275.8 1280.7 1276.2 1282.7 1276.6 1284.7 1277 1286.7 1277.4 1288.7 1277.8 1290.7 1278.2 1292.7 1278.6 1294.7 1279 1296.7 1279.4 1298.7 1279.8 1300.7 1280.2 1302.7 1280.6 1304.7 1280.9 1306.7 1281.3 1308.7 1281.7 1310.7 1282.1 1312.7 1282.4 1314.7 1282.8 1316.7 1283.2 1318.7 1283.5 1320.7 1283.9 1322.7 1284.2 1324.7 1284.6 1326.7 1284.9 1328.7 1285.3 1330.7 1285.6 1332.7 1285.9 1334.7 1286.3 1336.7 1286.6 1338.7 1286.9 1340.7 1287.3 1342.7 1287.6 1344.7 1287.9 1346.7 1288.2 1348.7 1288.5 1350.7 1288.8 1352.7 1289.1 1354.7 1289.4 1356.7 1289.7 1358.7 1290 1360.7 1290.3 1362.7 1290.6 1364.7 1290.9 1366.7 1291.2 1368.7 1291.4 1370.7 1291.7 1372.7 1292 1374.7 1292.2 1376.7 1292.5 1378.7 1292.8 1380.7 1293 1382.7 1293.3 1384.7 1293.5 1386.7 1293.7 1388.7 1294 1390.7 1294.2 1392.7 1294.5 1394.7 1294.7 1396.7 1294.9 1398.7 1295.1 1400.7 1295.3 1402.7 1295.6 1404.7 1295.8 1406.7 1296 1408.7 1296.2 1410.7 1296.4 1412.7 1296.6 1414.7 1296.7 1416.7 1296.9 1418.7 1297.1 1420.7 1297.3 1422.7 1297.5 1424.7 1297.6 1426.7 1297.8 1428.7 1297.9 1430.7 1298.1 1432.7 1298.3 1434.7 1298.4 1436.7 1298.5 1438.7 1298.7 1440.7 1298.8 1442.7 1299 1444.7 1299.1 1446.7 1299.2 1448.7 1299.3 1450.7 1299.4 1452.7 1299.6 1454.7 1299.7 1456.7 1299.8 1458.7 1299.9 1460.7 1300 1462.7 1300 1464.7 1300.1 1466.7 1300.2 1468.7 1300.3 1470.7 1300.4 1472.7 1300.4 1474.7 1300.5 1476.7 1300.5 1478.7 1300.6 1480.7 1300.7 1482.7 1300.7 1484.7 1300.7 1486.7 1300.8 1488.7 1300.8 1490.7 1300.8 1492.7 1300.9 1494.7 1300.9 1496.7 1300.9 1498.7 1300.9 1500.7 1300.9 1502.7 1300.9 1504.7 1300.9 1506.7 1300.9 1508.7 1300.9 1510.7 1300.9 1512.7 1300.9 1514.7 1300.9 1516.7 1300.8 1518.7 1300.8 1520.7 1300.8 1522.7 1300.7 1524.7 1300.7 1526.7 1300.6 1528.7 1300.6 1530.7 1300.5 1532.7 1300.5 1534.7 1300.4 1536.7 1300.3 1538.7 1300.3 1540.7 1300.2 1542.7 1300.1 1544.7 1300 1546.7 1299.9 1548.7 1299.8 1550.7 1299.7 1552.7 1299.6 1554.7 1299.5 1556.7 1299.4 1558.7 1299.3 1560.7 1299.2 1562.7 1299.1 1564.7 1298.9 1566.7 1298.8 1568.7 1298.7 1570.7 1298.5 1572.7 1298.4 1574.7 1298.2 1576.7 1298.1 1578.7 1297.9 1580.7 1297.7 1582.7 1297.6 1584.7 1297.4 1586.7 1297.2 1588.7 1297.1 1590.7 1296.9 1592.7 1296.7 1594.7 1296.5 1596.7 1296.3 1598.7 1296.1 1600.7 1295.9 1602.7 1295.7 1604.7 1295.5 1606.7 1295.3 1608.7 1295.1 1610.7 1294.8 1612.7 1294.6 1614.7 1294.4 1616.7 1294.2 1618.7 1293.9 1620.7 1293.7 1622.7 1293.4 1624.7 1293.2 1626.7 1292.9 1628.7 1292.7 1630.7 1292.4 1632.7 1292.2 1634.7 1291.9 1636.7 1291.6 1638.7 1291.4 1640.7 1291.1 1642.7 1290.8 1644.7 1290.5 1646.7 1290.2 1648.7 1289.9 1650.7 1289.6 1652.7 1289.3 1654.7 1289 1656.7 1288.7 1658.7 1288.4 1660.7 1288.1 1662.7 1287.8 1664.7 1287.5 1666.7 1287.2 1668.7 1286.8 1670.7 1286.5 1672.7 1286.2 1674.7 1285.9 1676.7 1285.5 1678.7 1285.2 1680.7 1284.8 1682.7 1284.5 1684.7 1284.1 1686.7 1283.8 1688.7 1283.4 1690.7 1283.1 1692.7 1282.7 1694.7 1282.3 1696.7 1282 1698.7 1281.6 1700.7 1281.2 1702.7 1280.9 1704.7 1280.5 1706.7 1280.1 1708.7 1279.7 1710.7 1279.3 1712.7 1278.9 1714.7 1278.5 1716.7 1278.1 1718.7 1277.7 1720.7 1277.3 1722.7 1276.9 1724.7 1276.5 1726.7 1276.1 1728.7 1275.7 1730.7 1275.3 1732.7 1274.9 1734.7 1274.5 1736.7 1274.1 1738.7 1273.6 1740.7 1273.2 1742.7 1272.8 1744.7 1272.4 1746.7 1271.9 1748.7 1271.5 1750.7 1271.1 1752.7 1270.6 1754.7 1270.2 1756.7 1269.7 1758.7 1269.3 1760.7 1268.9 1762.7 1268.4 1764.7 1268 1766.7 1267.5 1768.7 1267.1 1770.7 1266.6 1772.7 1266.2 1774.7 1265.7 1776.7 1265.2 1778.7 1264.8 1780.7 1264.3 1782.7 1263.9 1784.7 1263.4 1786.7 1262.9 1788.7 1262.5 1790.7 1262 1792.7 1261.5 1794.7 1261 1796.7 1260.6 1798.7 1260.1 1800.7 1259.6 1802.7 1259.1 1804.7 1258.7 1806.7 1258.2 1808.7 1257.7 1809.5 1257.5" fill="none" stroke="#cc0000" stroke-width="1.1" />
<path d="M259.5 1209.5 282 1209.1 328 1211.2 390.3 1219.3 457.9 1232.8 515 1240.3 640 1256.5 769.7 1275.4 846.2 1291 898.9 1297.7 908.4 1298.4 974.7 1281.5 1025 1253.1 1072 1232 1104 1214 1166 1199 1169 1198.7 1172 1198.4 1175 1198.1 1178 1197.9 1181 1197.6 1184 1197.3 1187 1197.1 1190 1196.9 1193 1196.6 1196 1196.4 1199 1196.2 1202 1196.1 1205 1195.9 1208 1195.7 1211 1195.6 1214 1195.5 1217 1195.4 1220 1195.3 1223 1195.3 1226 1195.2 1229 1195.2 1232 1195.2 1235 1195.2 1238 1195.2 1241 1195.3 1244 1195.3 1247 1195.3 1250 1195.4 1253 1195.4 1256 1195.5 1259 1195.5 1262 1195.6 1265 1195.7 1268 1195.8 1271 1195.9 1274 1196 1277 1196.1 1280 1196.2 1283 1196.3 1286 1196.4 1289 1196.5 1292 1196.6 1295 1196.8 1298 1196.9 1301 1197.1 1304 1197.3 1307 1197.5 1310 1197.9 1313 1198.3 1316 1198.7 1319 1199.2 1322 1199.7 1325 1200.2 1328 1200.7 1331 1201.2 1334 1201.7 1337 1202.2 1340 1202.6 1343 1203.1 1346 1203.4 1349 1203.8 1352 1204.2 1355 1204.6 1358 1205 1361 1205.4 1364 1205.7 1367 1206.1 1370 1206.5 1373 1206.8 1376 1207.2 1379 1207.6 1382 1207.9 1385 1208.3 1388 1208.6 1391 1209 1394 1209.3 1397 1209.7 1400 1210 1403 1210.4 1406 1210.8 1409 1211.2 1412 1211.6 1415 1212 1418 1212.2 1421 1212.4 1424 1212.5 1427 1212.5 1430 1212.5 1433 1212.5 1436 1212.5 1439 1212.5 1442 1212.5 1445 1212.5 1448 1212.5 1451 1212.5 1454 1212.5 1457 1212.5 1460 1212.5 1463 1212.5 1466 1212.5 1469 1212.5 1472 1212.5 1475 1212.5 1478 1212.5 1481 1212.5 1484 1212.5 1487 1212.4 1490 1212.4 1493 1212.3 1496 1212.3 1499 1212.2 1502 1212.1 1505 1212 1508 1212 1511 1211.9 1514 1211.8 1517 1211.7 1520 1211.6 1523 1211.5 1526 1211.4 1529 1211.3 1532 1211.3 1535 1211.2 1538 1211.1 1541 1211.1 1544 1211 1547 1210.9 1550 1210.9 1553 1210.8 1556 1210.7 1559 1210.7 1562 1210.6 1565 1210.5 1568 1210.5 1571 1210.4 1574 1210.3 1577 1210.3 1580 1210.2 1583 1210.1 1586 1210.1 1589 1210 1592 1210 1595 1209.9 1598 1209.9 1601 1209.8 1604 1209.8 1607 1209.7 1610 1209.7 1613 1209.6 1616 1209.6 1619 1209.5 1622 1209.5 1625 1209.4 1628 1209.4 1631 1209.3 1634 1209.3 1637 1209.2 1640 1209.2 1643 1209.1 1646 1209.1 1649 1209 1652 1209 1655 1208.9 1658 1208.9 1661 1208.8 1664 1208.8 1667 1208.8 1670 1208.7 1673 1208.7 1676 1208.6 1679 1208.6 1682 1208.6 1685 1208.6 1688 1208.5 1691 1208.5 1694 1208.5 1697 1208.5 1700 1208.4 1703 1208.4 1706 1208.4 1709 1208.4 1712 1208.4 1715 1208.4 1718 1208.4 1721 1208.4 1724 1208.4 1727 1208.4 1730 1208.4 1733 1208.4 1736 1208.4 1739 1208.4 1742 1208.4 1745 1208.5 1748 1208.5 1751 1208.5 1754 1208.5 1757 1208.5 1760 1208.5 1763 1208.6 1766 1208.6 1769 1208.6 1772 1208.6 1775 1208.7 1778 1208.7 1781 1208.7 1784 1208.7 1787 1208.8 1790 1208.8 1793 1208.9 1796 1208.9 1799 1208.9 1802 1209 1805 1209 1808 1209.1 1810 1209.1" fill="none" stroke="#00e600" stroke-width="5.5" stroke-linejoin="round"/>
<path d="M823.5 1188.5 824.5 1188.5 825.5 1188.5 826.5 1188.6 827.5 1188.6 828.5 1188.7 829.5 1188.7 830.5 1188.8 831.5 1188.8 832.5 1188.9 833.2 1188.9M837.5 1189.2 838.5 1189.2 839.5 1189.3 840.5 1189.3 841.5 1189.4 842.5 1189.5 843.5 1189.5 844.5 1189.6 845.5 1189.7 846.5 1189.7 847.2 1189.8M851.5 1190.1 852.5 1190.2 853.5 1190.2 854.5 1190.3 855.5 1190.4 856.5 1190.5 857.5 1190.5 858.5 1190.6 859.5 1190.7 860.5 1190.8 861.2 1190.8M865.2 1191.2 866.2 1191.3 867.2 1191.4 868.2 1191.4 869.2 1191.5 870.2 1191.6 871.2 1191.7 872.2 1191.8 873.2 1191.9 874.2 1192 875 1192.1M879.2 1192.5 880.2 1192.6 881.2 1192.7 882.2 1192.8 883.2 1192.9 884.2 1193 885.2 1193.1 886.2 1193.2 887.2 1193.3 888.2 1193.4 889 1193.5M893 1194 894 1194.1 895 1194.2 896 1194.3 897 1194.4 898 1194.6 899 1194.7 900 1194.8 901 1194.9 902 1195 902.8 1195.1M907 1195.7 908 1195.8 909 1195.9 910 1196 911 1196.2 912 1196.3 913 1196.4 914 1196.6 915 1196.7 916 1196.8 916.5 1196.9M920.8 1197.5 921.8 1197.6 922.8 1197.8 923.8 1197.9 924.8 1198.1 925.8 1198.2 926.8 1198.3 927.8 1198.5 928.8 1198.6 929.8 1198.8 930.5 1198.9M934.5 1199.5 935.5 1199.7 936.5 1199.8 937.5 1200 938.5 1200.1 939.5 1200.3 940.5 1200.4 941.5 1200.6 942.5 1200.7 943.5 1200.9 944.2 1201M948.5 1201.7 949.5 1201.9 950.5 1202 951.5 1202.2 952.5 1202.4 953.5 1202.5 954.5 1202.7 955.5 1202.9 956.5 1203 957.5 1203.2 958 1203.3M962.2 1204 963.2 1204.2 964.2 1204.4 965.2 1204.6 966.2 1204.7 967.2 1204.9 968.2 1205.1 969.2 1205.3 970.2 1205.4 971.2 1205.6 972 1205.8M976 1206.5 977 1206.7 978 1206.9 979 1207 980 1207.2 981 1207.4 982 1207.6 983 1207.8 984 1208 985 1208.2 985.8 1208.3M989.8 1209.1 990.8 1209.3 991.8 1209.5 992.8 1209.7 993.8 1209.9 994.8 1210.1 995.8 1210.3 996.8 1210.5 997.8 1210.7 998.8 1210.9 999.5 1211M1003.5 1211.8 1004.5 1212 1005.5 1212.2 1006.5 1212.4 1007.5 1212.6 1008.5 1212.8 1009.5 1213 1010.5 1213.3 1011.5 1213.5 1012.5 1213.7 1013.2 1213.8M1017.2 1214.7 1018.2 1214.9 1019.2 1215.1 1020.2 1215.3 1021.2 1215.5 1022.2 1215.7 1023.2 1215.9 1024.2 1216.2 1025.2 1216.4 1026.2 1216.6 1027 1216.7M1031 1217.6 1032 1217.8 1033 1218 1034 1218.3 1035 1218.5 1036 1218.7 1037 1218.9 1038 1219.2 1039 1219.4 1040 1219.6 1040.8 1219.8M1045 1220.7 1046 1220.9 1047 1221.2 1048 1221.4 1049 1221.6 1050 1221.8 1051 1222.1 1052 1222.3 1053 1222.5 1054 1222.8 1054.5 1222.9M1058.5 1223.8 1059.5 1224 1060.5 1224.3 1061.5 1224.5 1062.5 1224.7 1063.5 1224.9 1064.5 1225.2 1065.5 1225.4 1066.5 1225.6 1067.5 1225.9 1068.2 1226.1M1072.2 1227 1073.2 1227.2 1074.2 1227.5 1075.2 1227.7 1076.2 1227.9 1077.2 1228.2 1078.2 1228.4 1079.2 1228.6 1080.2 1228.9 1081.2 1229.1 1082 1229.3M1086 1230.3 1087 1230.5 1088 1230.7 1089 1231 1090 1231.2 1091 1231.5 1092 1231.7 1093 1231.9 1094 1232.2 1095 1232.4 1095.8 1232.6M1099.8 1233.6 1100.8 1233.8 1101.8 1234.1 1102.8 1234.3 1103.8 1234.5 1104.8 1234.8 1105.8 1235 1106.8 1235.3 1107.8 1235.5 1108.8 1235.8 1109.5 1236M1113.5 1236.9 1114.5 1237.2 1115.5 1237.4 1116.5 1237.7 1117.5 1237.9 1118.5 1238.2 1119.5 1238.4 1120.5 1238.6 1121.5 1238.9 1122.5 1239.1 1123.2 1239.3M1127.2 1240.3 1128.2 1240.6 1129.2 1240.8 1130.2 1241.1 1131.2 1241.3 1132.2 1241.5 1133.2 1241.8 1134.2 1242 1135.2 1242.3 1136.2 1242.5 1137 1242.7M1141 1243.7 1142 1244 1143 1244.2 1144 1244.4 1145 1244.7 1146 1244.9 1147 1245.2 1148 1245.4 1149 1245.7 1150 1245.9 1150.5 1246.1M1154.8 1247.1 1155.8 1247.4 1156.8 1247.6 1157.8 1247.8 1158.8 1248.1 1159.8 1248.3 1160.8 1248.6 1161.8 1248.8 1162.8 1249.1 1163.8 1249.3 1164.2 1249.4M1168.5 1250.5 1169.5 1250.7 1170.5 1251 1171.5 1251.2 1172.5 1251.5 1173.5 1251.7 1174.5 1252 1175.5 1252.2 1176.5 1252.5 1177.5 1252.7 1178 1252.8M1182.2 1253.9 1183.2 1254.1 1184.2 1254.3 1185.2 1254.6 1186.2 1254.8 1187.2 1255.1 1188.2 1255.3 1189.2 1255.6 1190.2 1255.8 1191.2 1256 1191.8 1256.2M1196 1257.2 1197 1257.4 1198 1257.7 1199 1257.9 1200 1258.1 1201 1258.4 1202 1258.6 1203 1258.9 1204 1259.1 1205 1259.3 1205.5 1259.5M1209.5 1260.4 1210.5 1260.6 1211.5 1260.9 1212.5 1261.1 1213.5 1261.4 1214.5 1261.6 1215.5 1261.8 1216.5 1262.1 1217.5 1262.3 1218.5 1262.5 1219.2 1262.7M1223.2 1263.6 1224.2 1263.9 1225.2 1264.1 1226.2 1264.3 1227.2 1264.6 1228.2 1264.8 1229.2 1265 1230.2 1265.3 1231.2 1265.5 1232.2 1265.7 1233 1265.9M1237 1266.8 1238 1267 1239 1267.2 1240 1267.5 1241 1267.7 1242 1267.9 1243 1268.1 1244 1268.4 1245 1268.6 1246 1268.8 1246.8 1269M1250.8 1269.9 1251.8 1270.1 1252.8 1270.3 1253.8 1270.5 1254.8 1270.7 1255.8 1271 1256.8 1271.2 1257.8 1271.4 1258.8 1271.6 1259.8 1271.8 1260.5 1272M1264.5 1272.9 1265.5 1273.1 1266.5 1273.3 1267.5 1273.5 1268.5 1273.7 1269.5 1273.9 1270.5 1274.1 1271.5 1274.3 1272.5 1274.5 1273.5 1274.7 1274.2 1274.9M1278.5 1275.8 1279.5 1276 1280.5 1276.2 1281.5 1276.4 1282.5 1276.6 1283.5 1276.8 1284.5 1277 1285.5 1277.2 1286.5 1277.4 1287.5 1277.6 1288 1277.7M1292.2 1278.5 1293.2 1278.7 1294.2 1278.9 1295.2 1279.1 1296.2 1279.3 1297.2 1279.5 1298.2 1279.7 1299.2 1279.9 1300.2 1280.1 1301.2 1280.3 1301.8 1280.4M1306 1281.2 1307 1281.4 1308 1281.6 1309 1281.8 1310 1281.9 1311 1282.1 1312 1282.3 1312 1282.3" fill="none" stroke="#ff0000" stroke-width="13"/>
<path d="M305.7 1177.1 307.6 1182.8 313.6 1182.8 308.7 1186.4 310.6 1192.1 305.7 1188.6 300.8 1192.1 302.7 1186.4 297.8 1182.8 303.8 1182.8zM403.1 1195.3 405 1201 411 1201 406.1 1204.6 408 1210.3 403.1 1206.8 398.2 1210.3 400.1 1204.6 395.2 1201 401.2 1201zM555.3 1226.5 557.2 1232.2 563.2 1232.2 558.3 1235.8 560.2 1241.5 555.3 1238 550.4 1241.5 552.3 1235.8 547.4 1232.2 553.4 1232.2zM901.6 1288.7 903.5 1294.4 909.5 1294.4 904.6 1298 906.5 1303.7 901.6 1300.2 896.7 1303.7 898.6 1298 893.7 1294.4 899.7 1294.4zM1042.3 1248.1 1044.2 1253.8 1050.2 1253.8 1045.3 1257.4 1047.2 1263.1 1042.3 1259.6 1037.4 1263.1 1039.3 1257.4 1034.4 1253.8 1040.4 1253.8z" fill="none" stroke="#b828b8" stroke-width="1.2"/>
</g>
<rect x="260.5" y="1133.5" width="1550.0" height="222.0" fill="none" stroke="#000" stroke-width="1.2"/>
<text x="187.5" y="1192.5" font-size="27.3" >15</text>
<text x="220" y="1180" font-size="18.5" >o</text>
<text x="231.5" y="1192.5" font-size="27.3" >N</text>
<text x="215.5" y="1257.5" font-size="27.3" >0</text>
<text x="230" y="1245" font-size="18.5" >o</text>
<text x="187.5" y="1322.5" font-size="27.3" >15</text>
<text x="220" y="1310" font-size="18.5" >o</text>
<text x="232" y="1322.5" font-size="27.3" >S</text>
<text x="254.5" y="1409.7" font-size="27.5" text-anchor="middle" >GLON</text>
<text x="545" y="1409.7" font-size="27.8" text-anchor="middle" >200.4</text>
<text x="726" y="1409.7" font-size="27.8" text-anchor="middle" >242.5</text>
<text x="907" y="1409.7" font-size="27.8" text-anchor="middle" >284.4</text>
<text x="1087" y="1409.7" font-size="27.8" text-anchor="middle" >326.2</text>
<text x="1265" y="1409.7" font-size="27.8" text-anchor="middle" >007.9</text>
<text x="1447" y="1409.7" font-size="27.8" text-anchor="middle" >049.9</text>
<text x="1627" y="1409.7" font-size="27.8" text-anchor="middle" >092.0</text>
<text x="1808" y="1409.7" font-size="27.8" text-anchor="middle" >134.1</text>
<text x="254.5" y="1450.5" font-size="27.5" text-anchor="middle" >GLAT</text>
<text x="545" y="1450.5" font-size="27.8" text-anchor="middle" >+06.8</text>
<text x="726" y="1450.5" font-size="27.8" text-anchor="middle" >+12.7</text>
<text x="907" y="1450.5" font-size="27.8" text-anchor="middle" >+11.3</text>
<text x="1087" y="1450.5" font-size="27.8" text-anchor="middle" >+03.2</text>
<text x="1265" y="1450.5" font-size="27.8" text-anchor="middle" >-06.8</text>
<text x="1447" y="1450.5" font-size="27.8" text-anchor="middle" >-12.7</text>
<text x="1627" y="1450.5" font-size="27.8" text-anchor="middle" >-11.2</text>
<text x="1808" y="1450.5" font-size="27.8" text-anchor="middle" >-03.2</text>
<text x="258.7" y="1491.3" font-size="27.5" text-anchor="middle" >GALT</text>
<text x="548.6" y="1491.3" font-size="27.8" text-anchor="middle" >466</text>
<text x="729.6" y="1491.3" font-size="27.8" text-anchor="middle" >617</text>
<text x="910.6" y="1491.3" font-size="27.8" text-anchor="middle" >771</text>
<text x="1090.6" y="1491.3" font-size="27.8" text-anchor="middle" >839</text>
<text x="1268.6" y="1491.3" font-size="27.8" text-anchor="middle" >769</text>
<text x="1450.6" y="1491.3" font-size="27.8" text-anchor="middle" >613</text>
<text x="1630.6" y="1491.3" font-size="27.8" text-anchor="middle" >465</text>
<text x="1811.6" y="1491.3" font-size="27.8" text-anchor="middle" >402</text>
<text x="255" y="1532.1" font-size="27.5" text-anchor="middle" >MLON</text>
<text x="545" y="1532.1" font-size="27.8" text-anchor="middle" >269.8</text>
<text x="726" y="1532.1" font-size="27.8" text-anchor="middle" >310.4</text>
<text x="907" y="1532.1" font-size="27.8" text-anchor="middle" >355.5</text>
<text x="1087" y="1532.1" font-size="27.8" text-anchor="middle" >040.7</text>
<text x="1265" y="1532.1" font-size="27.8" text-anchor="middle" >077.8</text>
<text x="1447" y="1532.1" font-size="27.8" text-anchor="middle" >119.6</text>
<text x="1627" y="1532.1" font-size="27.8" text-anchor="middle" >161.9</text>
<text x="1808" y="1532.1" font-size="27.8" text-anchor="middle" >205.0</text>
<text x="256" y="1572.9" font-size="27.5" text-anchor="middle" >MLAT</text>
<text x="545" y="1572.9" font-size="27.8" text-anchor="middle" >+07.7</text>
<text x="726" y="1572.9" font-size="27.8" text-anchor="middle" >+18.6</text>
<text x="907" y="1572.9" font-size="27.8" text-anchor="middle" >+23.6</text>
<text x="1087" y="1572.9" font-size="27.8" text-anchor="middle" >+02.2</text>
<text x="1265" y="1572.9" font-size="27.8" text-anchor="middle" >-19.1</text>
<text x="1447" y="1572.9" font-size="27.8" text-anchor="middle" >-22.9</text>
<text x="1627" y="1572.9" font-size="27.8" text-anchor="middle" >-22.3</text>
<text x="1808" y="1572.9" font-size="27.8" text-anchor="middle" >-11.7</text>
<text x="255" y="1613.7" font-size="27.5" text-anchor="middle" >UT</text>
<text x="545" y="1613.7" font-size="27.8" text-anchor="middle" >01:32</text>
<text x="726" y="1613.7" font-size="27.8" text-anchor="middle" >01:44</text>
<text x="907" y="1613.7" font-size="27.8" text-anchor="middle" >01:56</text>
<text x="1087" y="1613.7" font-size="27.8" text-anchor="middle" >02:09</text>
<text x="1265" y="1613.7" font-size="27.8" text-anchor="middle" >02:22</text>
<text x="1447" y="1613.7" font-size="27.8" text-anchor="middle" >02:34</text>
<text x="1627" y="1613.7" font-size="27.8" text-anchor="middle" >02:46</text>
<text x="1808" y="1613.7" font-size="27.8" text-anchor="middle" >02:57</text>
<text x="250.7" y="1654.5" font-size="27.5" text-anchor="middle" >SLT</text>
<text x="545" y="1654.5" font-size="27.8" text-anchor="middle" >15:00</text>
<text x="726" y="1654.5" font-size="27.8" text-anchor="middle" >18:00</text>
<text x="907" y="1654.5" font-size="27.8" text-anchor="middle" >21:00</text>
<text x="1087" y="1654.5" font-size="27.8" text-anchor="middle" >00:00</text>
<text x="1265" y="1654.5" font-size="27.8" text-anchor="middle" >03:00</text>
<text x="1447" y="1654.5" font-size="27.8" text-anchor="middle" >06:00</text>
<text x="1627" y="1654.5" font-size="27.8" text-anchor="middle" >09:00</text>
<text x="1808" y="1654.5" font-size="27.8" text-anchor="middle" >12:00</text>
<g transform="translate(1900,1664.3) rotate(-90)">
<text x="0" y="0" font-size="21.7" >Preliminary corrected calibration, 2/11/09</text>
</g>
<g transform="translate(1924.7,1664.3) rotate(-90)">
<text x="0" y="0" font-size="22" >Produced 05-Jan-2010 11:46:22</text>
</g>
</svg></body></html>
